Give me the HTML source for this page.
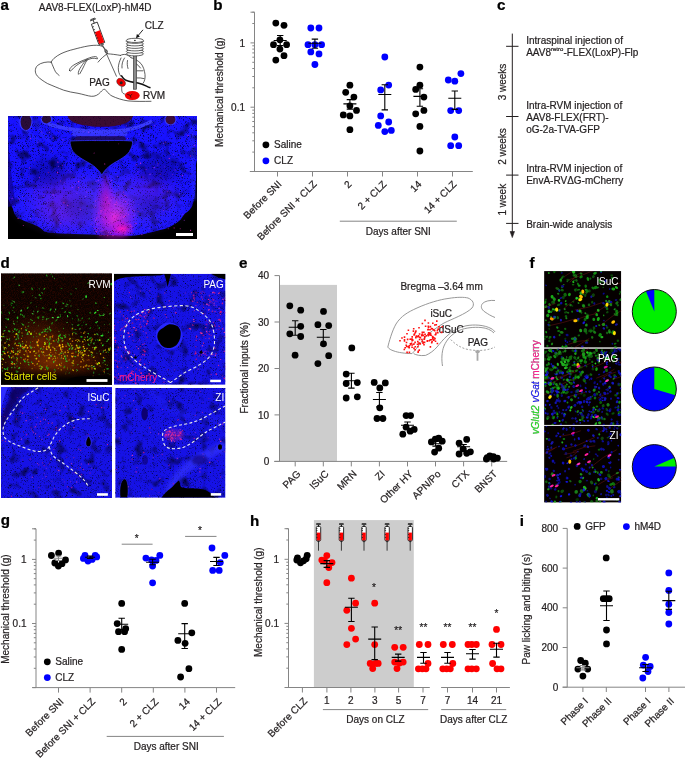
<!DOCTYPE html>
<html><head><meta charset="utf-8"><style>
html,body{margin:0;padding:0;background:#fff;}
svg{display:block;will-change:transform;font-family:"Liberation Sans",sans-serif;font-size:10px;}
text{stroke-width:0.22px;paint-order:stroke;}
text[fill="#231f20"]{stroke:#231f20;}
</style></head><body>
<svg width="685" height="759" viewBox="0 0 685 759">
<defs><clipPath id="ca"><rect x="8" y="116" width="189" height="123"/></clipPath><radialGradient id="ga1" cx="0.5" cy="0.5" r="0.5"><stop offset="0" stop-color="#ff18c8" stop-opacity="1"/><stop offset="0.55" stop-color="#e010d0" stop-opacity="0.45"/><stop offset="1" stop-color="#c000ff" stop-opacity="0"/></radialGradient><radialGradient id="ga2" cx="0.5" cy="0.5" r="0.5"><stop offset="0" stop-color="#8a10d0" stop-opacity="0.5"/><stop offset="1" stop-color="#8a10d0" stop-opacity="0"/></radialGradient><filter id="bl1" x="-20%" y="-20%" width="140%" height="140%"><feGaussianBlur stdDeviation="1.2"/></filter><filter id="bl05" x="-20%" y="-20%" width="140%" height="140%"><feGaussianBlur stdDeviation="0.5"/></filter><filter id="bl2" x="-30%" y="-30%" width="160%" height="160%"><feGaussianBlur stdDeviation="2"/></filter><filter id="na" x="0" y="0" width="100%" height="100%" color-interpolation-filters="sRGB"><feTurbulence type="fractalNoise" baseFrequency="1.6" numOctaves="2" seed="4"/><feGaussianBlur stdDeviation="0.5"/><feColorMatrix type="matrix" values="0 0 0 0 0 0 0 0 0 0 0 0 0 0 0.12 3.0 0 0 0 -1.72"/><feComposite operator="in" in2="SourceGraphic"/></filter><filter id="nab" x="0" y="0" width="100%" height="100%" color-interpolation-filters="sRGB"><feTurbulence type="fractalNoise" baseFrequency="0.1" numOctaves="2" seed="8"/><feColorMatrix type="matrix" values="0 0 0 0 0 0 0 0 0 0 0 0 0 0 0.1 2.2 0 0 0 -1.14"/><feComposite operator="in" in2="SourceGraphic"/></filter><radialGradient id="ga3" cx="0.5" cy="0.5" r="0.5"><stop offset="0" stop-color="#9050ff" stop-opacity="0.45"/><stop offset="1" stop-color="#9050ff" stop-opacity="0"/></radialGradient><filter id="bl4" x="-50%" y="-50%" width="200%" height="200%"><feGaussianBlur stdDeviation="4"/></filter><clipPath id="cd1"><rect x="1" y="273.2" width="111" height="111.60000000000002"/></clipPath><radialGradient id="gd1" cx="0.5" cy="0.5" r="0.5"><stop offset="0" stop-color="#b04400" stop-opacity="0.65"/><stop offset="0.6" stop-color="#702000" stop-opacity="0.4"/><stop offset="1" stop-color="#401000" stop-opacity="0"/></radialGradient><filter id="bl03" x="-50%" y="-50%" width="200%" height="200%"><feGaussianBlur stdDeviation="0.35"/></filter><filter id="nd1" x="0" y="0" width="100%" height="100%" color-interpolation-filters="sRGB"><feTurbulence type="fractalNoise" baseFrequency="1.3" numOctaves="2" seed="12"/><feColorMatrix type="matrix" values="0 0 0 0 0.22 0 0 0 0 0.03 0 0 0 0 0 1.8 0 0 0 -0.7"/><feComposite operator="in" in2="SourceGraphic"/></filter><linearGradient id="gdb" x1="0" y1="0" x2="0" y2="1"><stop offset="0" stop-color="#000" stop-opacity="0"/><stop offset="0.6" stop-color="#000" stop-opacity="0.85"/><stop offset="1" stop-color="#000" stop-opacity="1"/></linearGradient><clipPath id="cd2"><rect x="114" y="273.8" width="111.5" height="111.0"/></clipPath><filter id="nd2" x="0" y="0" width="100%" height="100%" color-interpolation-filters="sRGB"><feTurbulence type="fractalNoise" baseFrequency="1.6" numOctaves="2" seed="31"/><feGaussianBlur stdDeviation="0.5"/><feColorMatrix type="matrix" values="0 0 0 0 0 0 0 0 0 0 0 0 0 0 0.12 3.0 0 0 0 -1.72"/><feComposite operator="in" in2="SourceGraphic"/></filter><filter id="ndb31" x="0" y="0" width="100%" height="100%" color-interpolation-filters="sRGB"><feTurbulence type="fractalNoise" baseFrequency="0.09" numOctaves="2" seed="34"/><feColorMatrix type="matrix" values="0 0 0 0 0 0 0 0 0 0 0 0 0 0 0.1 2.2 0 0 0 -1.22"/><feComposite operator="in" in2="SourceGraphic"/></filter><clipPath id="cd3"><rect x="1" y="387.1" width="111" height="110.89999999999998"/></clipPath><filter id="nd3" x="0" y="0" width="100%" height="100%" color-interpolation-filters="sRGB"><feTurbulence type="fractalNoise" baseFrequency="1.6" numOctaves="2" seed="41"/><feGaussianBlur stdDeviation="0.5"/><feColorMatrix type="matrix" values="0 0 0 0 0 0 0 0 0 0 0 0 0 0 0.12 3.0 0 0 0 -1.72"/><feComposite operator="in" in2="SourceGraphic"/></filter><filter id="ndb41" x="0" y="0" width="100%" height="100%" color-interpolation-filters="sRGB"><feTurbulence type="fractalNoise" baseFrequency="0.09" numOctaves="2" seed="44"/><feColorMatrix type="matrix" values="0 0 0 0 0 0 0 0 0 0 0 0 0 0 0.1 2.2 0 0 0 -1.22"/><feComposite operator="in" in2="SourceGraphic"/></filter><clipPath id="cd4"><rect x="115.2" y="387.9" width="110.3" height="109.90000000000003"/></clipPath><filter id="nd4" x="0" y="0" width="100%" height="100%" color-interpolation-filters="sRGB"><feTurbulence type="fractalNoise" baseFrequency="1.6" numOctaves="2" seed="51"/><feGaussianBlur stdDeviation="0.5"/><feColorMatrix type="matrix" values="0 0 0 0 0 0 0 0 0 0 0 0 0 0 0.12 3.0 0 0 0 -1.72"/><feComposite operator="in" in2="SourceGraphic"/></filter><filter id="ndb51" x="0" y="0" width="100%" height="100%" color-interpolation-filters="sRGB"><feTurbulence type="fractalNoise" baseFrequency="0.09" numOctaves="2" seed="54"/><feColorMatrix type="matrix" values="0 0 0 0 0 0 0 0 0 0 0 0 0 0 0.1 2.2 0 0 0 -1.22"/><feComposite operator="in" in2="SourceGraphic"/></filter><filter id="blf" x="-50%" y="-50%" width="200%" height="200%"><feGaussianBlur stdDeviation="0.45"/></filter><clipPath id="cf0"><rect x="544.1" y="271.1" width="77.1" height="76.5"/></clipPath><clipPath id="cf1"><rect x="544.1" y="348.6" width="77.1" height="76.3"/></clipPath><clipPath id="cf2"><rect x="544.1" y="425.9" width="77.1" height="76.7"/></clipPath></defs>
<rect width="685" height="759" fill="#fff"/>
<text transform="translate(213.2 9.8) scale(1.1 1)" font-size="13.8" font-weight="bold" fill="#000" stroke="#000" stroke-width="0.25">b</text>
<line x1="254.5" y1="12.2" x2="254.5" y2="171.5" stroke="#858585" stroke-width="1"/>
<path d="M250.5 171.5H254.5M252.3 152.1H254.5M252.3 140.8H254.5M252.3 132.8H254.5M252.3 126.6H254.5M252.3 121.5H254.5M252.3 117.2H254.5M252.3 113.4H254.5M252.3 110.1H254.5M250.5 107.2H254.5M252.3 87.8H254.5M252.3 76.5H254.5M252.3 68.5H254.5M252.3 62.3H254.5M252.3 57.2H254.5M252.3 52.9H254.5M252.3 49.1H254.5M252.3 45.8H254.5M250.5 42.9H254.5M252.3 23.5H254.5M252.3 12.2H254.5M250.5 12.2H254.5" stroke="#858585" stroke-width="1" fill="none"/>
<text x="245.0" y="46.5" text-anchor="end" fill="#231f20">1</text>
<text x="245.0" y="110.8" text-anchor="end" fill="#231f20">0.1</text>
<line x1="249.8" y1="171.5" x2="472.8" y2="171.5" stroke="#858585" stroke-width="1"/>
<path d="M277.5 171.5V176.5M312.5 171.5V176.5M347.5 171.5V176.5M382.5 171.5V176.5M417.5 171.5V176.5M452.5 171.5V176.5" stroke="#858585" stroke-width="1"/>
<text transform="translate(222.6 146.9) rotate(-90)" fill="#231f20">Mechanical threshold (g)</text>
<text x="0" y="0" text-anchor="end" fill="#231f20" transform="translate(282.2 184.8) rotate(-45)">Before SNI</text>
<text x="0" y="0" text-anchor="end" fill="#231f20" transform="translate(317.2 184.8) rotate(-45)">Before SNI + CLZ</text>
<text x="0" y="0" text-anchor="end" fill="#231f20" transform="translate(352.2 184.8) rotate(-45)">2</text>
<text x="0" y="0" text-anchor="end" fill="#231f20" transform="translate(387.2 184.8) rotate(-45)">2 + CLZ</text>
<text x="0" y="0" text-anchor="end" fill="#231f20" transform="translate(422.2 184.8) rotate(-45)">14</text>
<text x="0" y="0" text-anchor="end" fill="#231f20" transform="translate(457.2 184.8) rotate(-45)">14 + CLZ</text>
<line x1="339.8" y1="221.2" x2="456.8" y2="221.2" stroke="#858585" stroke-width="1"/>
<text x="398.3" y="234.8" text-anchor="middle" fill="#231f20">Days after SNI</text>
<circle cx="265.9" cy="144.8" r="3.4" fill="#000"/>
<text x="274.1" y="148.3" fill="#231f20">Saline</text>
<circle cx="265.9" cy="160.8" r="3.4" fill="#0000ff"/>
<text x="274.1" y="164.3" fill="#231f20">CLZ</text>
<circle cx="275.8" cy="23.1" r="3.4" fill="#000"/>
<circle cx="284.0" cy="25.3" r="3.4" fill="#000"/>
<circle cx="279.9" cy="39.8" r="3.4" fill="#000"/>
<circle cx="273.5" cy="44.7" r="3.4" fill="#000"/>
<circle cx="286.6" cy="44.7" r="3.4" fill="#000"/>
<circle cx="279.9" cy="49.1" r="3.4" fill="#000"/>
<circle cx="284.0" cy="55.7" r="3.4" fill="#000"/>
<circle cx="275.8" cy="60.1" r="3.4" fill="#000"/>
<circle cx="310.8" cy="28.0" r="3.4" fill="#0000ff"/>
<circle cx="319.0" cy="28.0" r="3.4" fill="#0000ff"/>
<circle cx="308.0" cy="44.7" r="3.4" fill="#0000ff"/>
<circle cx="314.9" cy="44.7" r="3.4" fill="#0000ff"/>
<circle cx="321.6" cy="44.7" r="3.4" fill="#0000ff"/>
<circle cx="310.8" cy="51.9" r="3.4" fill="#0000ff"/>
<circle cx="319.0" cy="53.9" r="3.4" fill="#0000ff"/>
<circle cx="314.9" cy="64.5" r="3.4" fill="#0000ff"/>
<circle cx="349.9" cy="85.2" r="3.4" fill="#000"/>
<circle cx="345.7" cy="92.3" r="3.4" fill="#000"/>
<circle cx="353.9" cy="97.1" r="3.4" fill="#000"/>
<circle cx="349.9" cy="105.8" r="3.4" fill="#000"/>
<circle cx="356.5" cy="110.4" r="3.4" fill="#000"/>
<circle cx="343.3" cy="114.9" r="3.4" fill="#000"/>
<circle cx="349.9" cy="115.9" r="3.4" fill="#000"/>
<circle cx="349.9" cy="129.7" r="3.4" fill="#000"/>
<circle cx="384.8" cy="57.0" r="3.4" fill="#0000ff"/>
<circle cx="388.7" cy="85.1" r="3.4" fill="#0000ff"/>
<circle cx="380.7" cy="89.9" r="3.4" fill="#0000ff"/>
<circle cx="380.7" cy="115.9" r="3.4" fill="#0000ff"/>
<circle cx="388.7" cy="122.0" r="3.4" fill="#0000ff"/>
<circle cx="378.3" cy="125.4" r="3.4" fill="#0000ff"/>
<circle cx="384.8" cy="131.6" r="3.4" fill="#0000ff"/>
<circle cx="391.3" cy="130.4" r="3.4" fill="#0000ff"/>
<circle cx="419.9" cy="67.1" r="3.4" fill="#000"/>
<circle cx="419.9" cy="85.2" r="3.4" fill="#000"/>
<circle cx="415.7" cy="89.4" r="3.4" fill="#000"/>
<circle cx="423.9" cy="97.1" r="3.4" fill="#000"/>
<circle cx="423.9" cy="110.4" r="3.4" fill="#000"/>
<circle cx="415.7" cy="113.8" r="3.4" fill="#000"/>
<circle cx="419.9" cy="126.4" r="3.4" fill="#000"/>
<circle cx="419.9" cy="151.0" r="3.4" fill="#000"/>
<circle cx="460.9" cy="73.6" r="3.4" fill="#0000ff"/>
<circle cx="448.3" cy="80.0" r="3.4" fill="#0000ff"/>
<circle cx="454.8" cy="81.2" r="3.4" fill="#0000ff"/>
<circle cx="450.7" cy="110.6" r="3.4" fill="#0000ff"/>
<circle cx="458.7" cy="110.6" r="3.4" fill="#0000ff"/>
<circle cx="454.8" cy="137.0" r="3.4" fill="#0000ff"/>
<circle cx="450.7" cy="145.7" r="3.4" fill="#0000ff"/>
<circle cx="458.7" cy="145.7" r="3.4" fill="#0000ff"/>
<path d="M273.7 40.5H286.7M280.2 35.5V45.5M277.0 35.5H283.4M277.0 45.5H283.4" stroke="#000" stroke-width="1.1" fill="none"/>
<path d="M308.4 43.2H321.4M314.9 39.1V48.3M311.7 39.1H318.1M311.7 48.3H318.1" stroke="#000" stroke-width="1.1" fill="none"/>
<path d="M343.4 103.9H356.4M349.9 99.6V109.1M346.7 99.6H353.1M346.7 109.1H353.1" stroke="#000" stroke-width="1.1" fill="none"/>
<path d="M378.3 94.5H391.3M384.8 84.8V109.9M381.6 84.8H388.0M381.6 109.9H388.0" stroke="#000" stroke-width="1.1" fill="none"/>
<path d="M413.4 96.4H426.4M419.9 88.8V106.2M416.7 88.8H423.1M416.7 106.2H423.1" stroke="#000" stroke-width="1.1" fill="none"/>
<path d="M448.3 98.3H461.3M454.8 91.0V109.4M451.6 91.0H458.0M451.6 109.4H458.0" stroke="#000" stroke-width="1.1" fill="none"/>
<text transform="translate(497.0 9.8) scale(1.1 1)" font-size="13.8" font-weight="bold" fill="#000" stroke="#000" stroke-width="0.25">c</text>
<line x1="512.3" y1="33.6" x2="512.3" y2="233.0" stroke="#231f20" stroke-width="1"/>
<path d="M510.09999999999997 231.5L512.3 237.6L514.5 231.5Z" fill="#231f20" stroke="#231f20" stroke-width="0.6"/>
<line x1="506.1" y1="46.3" x2="518.5" y2="46.3" stroke="#231f20" stroke-width="1"/>
<line x1="506.1" y1="116.5" x2="518.5" y2="116.5" stroke="#231f20" stroke-width="1"/>
<line x1="506.1" y1="175.1" x2="518.5" y2="175.1" stroke="#231f20" stroke-width="1"/>
<line x1="506.1" y1="223.4" x2="518.5" y2="223.4" stroke="#231f20" stroke-width="1"/>
<text x="526.2" y="43.8" fill="#231f20">Intraspinal injection of</text>
<text x="526.2" y="55.6" fill="#231f20">AAV8<tspan font-size="6" dy="-4.3">retro</tspan><tspan dy="4.3">-FLEX(LoxP)-Flp</tspan></text>
<text x="526.2" y="108.6" fill="#231f20">Intra-RVM injection of</text>
<text x="526.2" y="120.6" fill="#231f20">AAV8-FLEX(FRT)-</text>
<text x="526.2" y="132.6" fill="#231f20">oG-2a-TVA-GFP</text>
<text x="526.2" y="172.2" fill="#231f20">Intra-RVM injection of</text>
<text x="526.2" y="184.0" fill="#231f20">EnvA-RV&#916;G-mCherry</text>
<text x="526.2" y="227.8" fill="#231f20">Brain-wide analysis</text>
<text transform="translate(505.6 82.0) rotate(-90)" text-anchor="middle" fill="#231f20">3 weeks</text>
<text transform="translate(505.6 146.5) rotate(-90)" text-anchor="middle" fill="#231f20">2 weeks</text>
<text transform="translate(505.6 199.7) rotate(-90)" text-anchor="middle" fill="#231f20">1 week</text>
<text transform="translate(239.0 267.6) scale(1.1 1)" font-size="13.8" font-weight="bold" fill="#000" stroke="#000" stroke-width="0.25">e</text>
<rect x="279.5" y="284.9" width="57.5" height="176.5" fill="#cdcdcd"/>
<line x1="279.5" y1="275.6" x2="279.5" y2="461.4" stroke="#858585" stroke-width="1"/>
<path d="M274.5 461.4H279.5M274.5 414.9H279.5M274.5 368.5H279.5M274.5 322.0H279.5M274.5 275.6H279.5" stroke="#858585" stroke-width="1"/>
<text x="269.2" y="465.0" text-anchor="end" fill="#231f20">0</text>
<text x="269.2" y="418.6" text-anchor="end" fill="#231f20">10</text>
<text x="269.2" y="372.1" text-anchor="end" fill="#231f20">20</text>
<text x="269.2" y="325.6" text-anchor="end" fill="#231f20">30</text>
<text x="269.2" y="279.2" text-anchor="end" fill="#231f20">40</text>
<line x1="274.2" y1="461.4" x2="507.2" y2="461.4" stroke="#858585" stroke-width="1"/>
<path d="M295.2 461.4V466.4M323.3 461.4V466.4M351.3 461.4V466.4M379.4 461.4V466.4M407.5 461.4V466.4M435.5 461.4V466.4M463.6 461.4V466.4M491.7 461.4V466.4" stroke="#858585" stroke-width="1"/>
<text x="0" y="0" text-anchor="end" fill="#231f20" transform="translate(301.2 474.5) rotate(-45)">PAG</text>
<text x="0" y="0" text-anchor="end" fill="#231f20" transform="translate(329.3 474.5) rotate(-45)">lSuC</text>
<text x="0" y="0" text-anchor="end" fill="#231f20" transform="translate(357.3 474.5) rotate(-45)">MRN</text>
<text x="0" y="0" text-anchor="end" fill="#231f20" transform="translate(385.4 474.5) rotate(-45)">ZI</text>
<text x="0" y="0" text-anchor="end" fill="#231f20" transform="translate(413.5 474.5) rotate(-45)">Other HY</text>
<text x="0" y="0" text-anchor="end" fill="#231f20" transform="translate(441.5 474.5) rotate(-45)">APN/Po</text>
<text x="0" y="0" text-anchor="end" fill="#231f20" transform="translate(469.6 474.5) rotate(-45)">CTX</text>
<text x="0" y="0" text-anchor="end" fill="#231f20" transform="translate(497.7 474.5) rotate(-45)">BNST</text>
<text transform="translate(248.0 413.5) rotate(-90)" fill="#231f20">Fractional inputs (%)</text>
<circle cx="289.8" cy="305.8" r="3.4" fill="#000"/>
<circle cx="300.7" cy="310.2" r="3.4" fill="#000"/>
<circle cx="300.7" cy="326.3" r="3.4" fill="#000"/>
<circle cx="289.8" cy="333.8" r="3.4" fill="#000"/>
<circle cx="300.7" cy="336.5" r="3.4" fill="#000"/>
<circle cx="295.1" cy="355.2" r="3.4" fill="#000"/>
<circle cx="323.5" cy="311.4" r="3.4" fill="#000"/>
<circle cx="317.9" cy="324.7" r="3.4" fill="#000"/>
<circle cx="328.7" cy="325.6" r="3.4" fill="#000"/>
<circle cx="323.5" cy="343.8" r="3.4" fill="#000"/>
<circle cx="328.7" cy="355.7" r="3.4" fill="#000"/>
<circle cx="317.9" cy="363.6" r="3.4" fill="#000"/>
<circle cx="351.8" cy="347.9" r="3.4" fill="#000"/>
<circle cx="346.2" cy="374.1" r="3.4" fill="#000"/>
<circle cx="346.2" cy="383.5" r="3.4" fill="#000"/>
<circle cx="357.3" cy="382.6" r="3.4" fill="#000"/>
<circle cx="346.2" cy="398.0" r="3.4" fill="#000"/>
<circle cx="357.3" cy="396.8" r="3.4" fill="#000"/>
<circle cx="374.2" cy="382.4" r="3.4" fill="#000"/>
<circle cx="385.3" cy="382.9" r="3.4" fill="#000"/>
<circle cx="379.8" cy="387.9" r="3.4" fill="#000"/>
<circle cx="379.8" cy="407.8" r="3.4" fill="#000"/>
<circle cx="377.0" cy="418.5" r="3.4" fill="#000"/>
<circle cx="382.9" cy="418.5" r="3.4" fill="#000"/>
<circle cx="406.1" cy="415.6" r="3.4" fill="#000"/>
<circle cx="410.6" cy="415.6" r="3.4" fill="#000"/>
<circle cx="406.1" cy="427.2" r="3.4" fill="#000"/>
<circle cx="414.2" cy="429.4" r="3.4" fill="#000"/>
<circle cx="410.2" cy="431.2" r="3.4" fill="#000"/>
<circle cx="402.8" cy="434.2" r="3.4" fill="#000"/>
<circle cx="431.4" cy="441.9" r="3.4" fill="#000"/>
<circle cx="435.3" cy="439.1" r="3.4" fill="#000"/>
<circle cx="438.7" cy="438.2" r="3.4" fill="#000"/>
<circle cx="442.2" cy="441.2" r="3.4" fill="#000"/>
<circle cx="438.7" cy="448.2" r="3.4" fill="#000"/>
<circle cx="434.6" cy="452.1" r="3.4" fill="#000"/>
<circle cx="466.7" cy="439.4" r="3.4" fill="#000"/>
<circle cx="459.1" cy="443.1" r="3.4" fill="#000"/>
<circle cx="463.1" cy="448.9" r="3.4" fill="#000"/>
<circle cx="459.1" cy="454.0" r="3.4" fill="#000"/>
<circle cx="466.7" cy="453.3" r="3.4" fill="#000"/>
<circle cx="470.4" cy="451.8" r="3.4" fill="#000"/>
<circle cx="487.2" cy="457.7" r="3.4" fill="#000"/>
<circle cx="489.8" cy="455.9" r="3.4" fill="#000"/>
<circle cx="493.4" cy="456.6" r="3.4" fill="#000"/>
<circle cx="497.4" cy="458.1" r="3.4" fill="#000"/>
<circle cx="486.4" cy="459.1" r="3.4" fill="#000"/>
<circle cx="493.7" cy="459.1" r="3.4" fill="#000"/>
<path d="M288.7 327.2H301.7M295.2 320.7V335.2M292.0 320.7H298.4M292.0 335.2H298.4" stroke="#000" stroke-width="1.1" fill="none"/>
<path d="M316.8 337.3H329.8M323.3 329.5V345.0M320.1 329.5H326.5M320.1 345.0H326.5" stroke="#000" stroke-width="1.1" fill="none"/>
<path d="M344.9 380.7H357.9M351.4 373.2V388.1M348.2 373.2H354.6M348.2 388.1H354.6" stroke="#000" stroke-width="1.1" fill="none"/>
<path d="M372.9 399.5H385.9M379.4 392.5V406.9M376.2 392.5H382.6M376.2 406.9H382.6" stroke="#000" stroke-width="1.1" fill="none"/>
<path d="M401.0 425.3H414.0M407.5 422.0V428.6M404.3 422.0H410.7M404.3 428.6H410.7" stroke="#000" stroke-width="1.1" fill="none"/>
<path d="M429.1 443.8H442.1M435.6 441.5V446.1M432.4 441.5H438.8M432.4 446.1H438.8" stroke="#000" stroke-width="1.1" fill="none"/>
<path d="M457.1 446.7H470.1M463.6 444.5V449.0M460.4 444.5H466.8M460.4 449.0H466.8" stroke="#000" stroke-width="1.1" fill="none"/>
<path d="M485.2 458.3H498.2M491.7 457.0V459.6M488.5 457.0H494.9M488.5 459.6H494.9" stroke="#000" stroke-width="1.1" fill="none"/>
<g fill="none" stroke="#8c8c8c" stroke-width="0.9"><path d="M387.8 347.1C389 342 392 331 396 324C401 316 408 312 417 308C428 303 440 299.5 448 298.5C457 297 464 297 468 298C473 300 475 304 472 308C466 314 452 319 444 323C436 328 428 333 422 341C418 346 415 351 412 353.6C405 353.5 398 352.5 394 351C391 350 389 349 387.8 347.1Z"/><path d="M413.6 353.6C416 355 420 356 425.6 355.4C430 353.5 434 350.5 437 347C440 343.5 443 339.5 447 336C452 331 458 327.5 466 325.8C474 324.3 484 324.8 491 328.5C493 329.5 494.5 331 495 332"/><path d="M442.5 366C441.5 360 441.5 352 444 346C447 339 452 334 459 330.5C466 327.5 474 327 481 327.5C487 328 491 330 494 333"/><path d="M495 300.5C490 300 485 301 482.5 303.5C480.5 306 481 309.5 485 312C488 314 491 316 495 317.5"/></g>
<path d="M450.8 339.6C455 344 460 347.5 467 349.3C473 350.5 479 350.8 485 350C489 349.5 492 348.5 495 347" fill="none" stroke="#8c8c8c" stroke-width="0.8" stroke-dasharray="2 1.6"/>
<path d="M475 350.6H480.3L479.2 353H478.4V360.8H476.6V353H475.8Z" fill="#a8a8a8"/>
<text x="441.6" y="289.8" text-anchor="middle" fill="#231f20">Bregma &#8211;3.64 mm</text>
<text x="430.4" y="317.4" fill="#231f20">iSuC</text>
<text x="438.8" y="333.4" fill="#231f20">dSuC</text>
<text x="467.7" y="345.5" fill="#231f20">PAG</text>
<path d="M408.4 347.0h1.6v1.6h-1.6zM430.7 327.8h1.6v1.6h-1.6zM405.9 345.6h1.6v1.6h-1.6zM429.5 339.1h1.6v1.6h-1.6zM403.7 338.9h1.6v1.6h-1.6zM430.3 334.5h1.6v1.6h-1.6zM441.0 331.4h1.6v1.6h-1.6zM419.1 336.4h1.6v1.6h-1.6zM415.5 335.2h1.6v1.6h-1.6zM408.5 345.1h1.6v1.6h-1.6zM421.6 334.4h1.6v1.6h-1.6zM421.1 338.7h1.6v1.6h-1.6zM431.9 337.6h1.6v1.6h-1.6zM418.2 327.0h1.6v1.6h-1.6zM424.8 325.4h1.6v1.6h-1.6zM414.9 331.0h1.6v1.6h-1.6zM418.8 333.2h1.6v1.6h-1.6zM422.9 341.4h1.6v1.6h-1.6zM405.4 344.5h1.6v1.6h-1.6zM428.2 332.1h1.6v1.6h-1.6zM425.4 335.0h1.6v1.6h-1.6zM411.3 346.5h1.6v1.6h-1.6zM417.3 351.5h1.6v1.6h-1.6zM417.3 343.7h1.6v1.6h-1.6zM423.8 341.6h1.6v1.6h-1.6zM417.1 345.9h1.6v1.6h-1.6zM423.2 343.9h1.6v1.6h-1.6zM428.4 333.5h1.6v1.6h-1.6zM414.5 345.9h1.6v1.6h-1.6zM430.9 341.8h1.6v1.6h-1.6zM418.4 342.2h1.6v1.6h-1.6zM427.5 335.0h1.6v1.6h-1.6zM423.9 336.5h1.6v1.6h-1.6zM411.4 336.1h1.6v1.6h-1.6zM418.2 342.5h1.6v1.6h-1.6zM440.7 331.6h1.6v1.6h-1.6zM435.0 333.7h1.6v1.6h-1.6zM429.3 333.2h1.6v1.6h-1.6zM434.7 340.4h1.6v1.6h-1.6zM415.3 335.9h1.6v1.6h-1.6zM426.5 340.0h1.6v1.6h-1.6zM427.5 325.6h1.6v1.6h-1.6zM441.4 325.9h1.6v1.6h-1.6zM429.8 332.6h1.6v1.6h-1.6zM410.8 342.4h1.6v1.6h-1.6zM428.4 339.9h1.6v1.6h-1.6zM429.1 332.5h1.6v1.6h-1.6zM434.0 324.2h1.6v1.6h-1.6zM433.1 337.0h1.6v1.6h-1.6zM412.6 330.3h1.6v1.6h-1.6zM411.5 344.2h1.6v1.6h-1.6zM431.3 340.9h1.6v1.6h-1.6zM409.8 343.8h1.6v1.6h-1.6zM427.8 331.9h1.6v1.6h-1.6zM436.6 342.7h1.6v1.6h-1.6zM429.6 325.8h1.6v1.6h-1.6zM417.0 340.8h1.6v1.6h-1.6zM428.2 333.4h1.6v1.6h-1.6zM438.2 326.1h1.6v1.6h-1.6zM412.0 339.3h1.6v1.6h-1.6zM433.1 339.0h1.6v1.6h-1.6zM429.2 334.1h1.6v1.6h-1.6zM411.3 338.8h1.6v1.6h-1.6zM416.7 343.4h1.6v1.6h-1.6zM419.5 343.1h1.6v1.6h-1.6zM421.0 334.8h1.6v1.6h-1.6zM423.6 338.3h1.6v1.6h-1.6zM429.2 328.9h1.6v1.6h-1.6zM414.5 332.0h1.6v1.6h-1.6zM417.6 335.9h1.6v1.6h-1.6zM407.6 346.1h1.6v1.6h-1.6zM429.6 346.1h1.6v1.6h-1.6zM421.5 331.6h1.6v1.6h-1.6zM437.3 328.4h1.6v1.6h-1.6zM403.5 348.7h1.6v1.6h-1.6zM435.2 332.2h1.6v1.6h-1.6zM412.9 327.9h1.6v1.6h-1.6zM415.1 330.3h1.6v1.6h-1.6zM421.6 322.7h1.6v1.6h-1.6zM414.3 349.0h1.6v1.6h-1.6zM436.0 320.3h1.6v1.6h-1.6zM406.3 351.6h1.6v1.6h-1.6zM427.7 326.5h1.6v1.6h-1.6zM411.2 338.3h1.6v1.6h-1.6zM405.7 341.7h1.6v1.6h-1.6zM437.0 331.9h1.6v1.6h-1.6zM419.6 336.9h1.6v1.6h-1.6zM409.6 343.0h1.6v1.6h-1.6zM401.2 337.2h1.6v1.6h-1.6zM432.9 339.3h1.6v1.6h-1.6zM434.2 337.8h1.6v1.6h-1.6zM421.8 331.8h1.6v1.6h-1.6zM420.9 334.6h1.6v1.6h-1.6zM403.7 336.3h1.6v1.6h-1.6zM404.4 346.9h1.6v1.6h-1.6zM421.3 333.7h1.6v1.6h-1.6zM437.5 328.3h1.6v1.6h-1.6zM431.0 339.0h1.6v1.6h-1.6zM406.2 333.0h1.6v1.6h-1.6zM427.5 328.6h1.6v1.6h-1.6zM436.6 329.8h1.6v1.6h-1.6zM434.5 333.9h1.6v1.6h-1.6zM427.1 328.9h1.6v1.6h-1.6zM411.3 340.0h1.6v1.6h-1.6zM432.1 336.1h1.6v1.6h-1.6zM427.6 322.2h1.6v1.6h-1.6zM407.6 329.5h1.6v1.6h-1.6zM421.6 340.6h1.6v1.6h-1.6zM413.1 343.3h1.6v1.6h-1.6zM426.5 340.3h1.6v1.6h-1.6zM409.4 338.5h1.6v1.6h-1.6zM417.5 350.6h1.6v1.6h-1.6zM432.9 329.1h1.6v1.6h-1.6zM423.9 336.0h1.6v1.6h-1.6zM422.7 334.6h1.6v1.6h-1.6zM413.7 333.2h1.6v1.6h-1.6zM418.5 349.3h1.6v1.6h-1.6zM427.2 333.7h1.6v1.6h-1.6zM418.8 338.7h1.6v1.6h-1.6zM423.1 331.5h1.6v1.6h-1.6zM423.9 336.8h1.6v1.6h-1.6zM410.4 338.2h1.6v1.6h-1.6zM406.8 338.6h1.6v1.6h-1.6zM424.2 319.6h1.6v1.6h-1.6zM416.3 335.8h1.6v1.6h-1.6zM414.3 341.6h1.6v1.6h-1.6zM433.9 329.8h1.6v1.6h-1.6zM417.7 335.0h1.6v1.6h-1.6zM422.2 342.3h1.6v1.6h-1.6zM413.3 334.1h1.6v1.6h-1.6zM403.7 340.2h1.6v1.6h-1.6zM408.6 351.6h1.6v1.6h-1.6zM424.3 333.5h1.6v1.6h-1.6zM435.5 324.0h1.6v1.6h-1.6zM431.7 335.8h1.6v1.6h-1.6zM399.2 339.9h1.6v1.6h-1.6zM413.2 347.6h1.6v1.6h-1.6zM432.0 322.4h1.6v1.6h-1.6zM431.6 328.1h1.6v1.6h-1.6zM415.0 337.0h1.6v1.6h-1.6z" fill="#ff1010"/>
<text transform="translate(0.8 525.4) scale(1.1 1)" font-size="13.8" font-weight="bold" fill="#000" stroke="#000" stroke-width="0.25">g</text>
<line x1="36.0" y1="528.8" x2="36.0" y2="687.6" stroke="#858585" stroke-width="1"/>
<path d="M32.0 687.6H36.0M33.8 668.3H36.0M33.8 657.0H36.0M33.8 649.0H36.0M33.8 642.8H36.0M33.8 637.7H36.0M33.8 633.4H36.0M33.8 629.7H36.0M33.8 626.4H36.0M32.0 623.5H36.0M33.8 604.2H36.0M33.8 592.9H36.0M33.8 584.9H36.0M33.8 578.7H36.0M33.8 573.6H36.0M33.8 569.3H36.0M33.8 565.6H36.0M33.8 562.3H36.0M32.0 559.4H36.0M33.8 540.1H36.0M33.8 528.8H36.0M32.0 528.8H36.0" stroke="#858585" stroke-width="1" fill="none"/>
<text x="26.5" y="563.0" text-anchor="end" fill="#231f20">1</text>
<text x="26.5" y="627.1" text-anchor="end" fill="#231f20">0.1</text>
<line x1="32.8" y1="687.6" x2="235.2" y2="687.6" stroke="#858585" stroke-width="1"/>
<path d="M58.5 687.6V692.6M90.1 687.6V692.6M121.7 687.6V692.6M153.3 687.6V692.6M184.9 687.6V692.6M216.5 687.6V692.6" stroke="#858585" stroke-width="1"/>
<text transform="translate(8.9 663.8) rotate(-90)" fill="#231f20">Mechanical threshold (g)</text>
<text x="0" y="0" text-anchor="end" fill="#231f20" transform="translate(64.2 702.3) rotate(-45)">Before SNI</text>
<text x="0" y="0" text-anchor="end" fill="#231f20" transform="translate(95.8 702.3) rotate(-45)">Before SNI + CLZ</text>
<text x="0" y="0" text-anchor="end" fill="#231f20" transform="translate(127.4 702.3) rotate(-45)">2</text>
<text x="0" y="0" text-anchor="end" fill="#231f20" transform="translate(159.0 702.3) rotate(-45)">2 + CLZ</text>
<text x="0" y="0" text-anchor="end" fill="#231f20" transform="translate(190.6 702.3) rotate(-45)">14</text>
<text x="0" y="0" text-anchor="end" fill="#231f20" transform="translate(222.2 702.3) rotate(-45)">14 + CLZ</text>
<line x1="106.7" y1="736.4" x2="223.9" y2="736.4" stroke="#858585" stroke-width="1"/>
<text x="166.2" y="750.1" text-anchor="middle" fill="#231f20">Days after SNI</text>
<circle cx="47.3" cy="661.8" r="3.4" fill="#000"/>
<text x="55.3" y="665.3" fill="#231f20">Saline</text>
<circle cx="47.3" cy="677.6" r="3.4" fill="#0000ff"/>
<text x="55.3" y="681.1" fill="#231f20">CLZ</text>
<circle cx="51.4" cy="555.5" r="3.4" fill="#000"/>
<circle cx="58.6" cy="553.1" r="3.4" fill="#000"/>
<circle cx="65.5" cy="559.9" r="3.4" fill="#000"/>
<circle cx="54.8" cy="563.0" r="3.4" fill="#000"/>
<circle cx="58.4" cy="566.1" r="3.4" fill="#000"/>
<circle cx="62.0" cy="563.7" r="3.4" fill="#000"/>
<circle cx="85.0" cy="555.3" r="3.4" fill="#0000ff"/>
<circle cx="95.2" cy="555.3" r="3.4" fill="#0000ff"/>
<circle cx="83.4" cy="558.4" r="3.4" fill="#0000ff"/>
<circle cx="96.7" cy="556.9" r="3.4" fill="#0000ff"/>
<circle cx="88.0" cy="561.0" r="3.4" fill="#0000ff"/>
<circle cx="92.1" cy="559.4" r="3.4" fill="#0000ff"/>
<circle cx="121.7" cy="603.4" r="3.4" fill="#000"/>
<circle cx="117.2" cy="623.6" r="3.4" fill="#000"/>
<circle cx="125.7" cy="628.7" r="3.4" fill="#000"/>
<circle cx="118.5" cy="631.7" r="3.4" fill="#000"/>
<circle cx="124.6" cy="631.7" r="3.4" fill="#000"/>
<circle cx="121.7" cy="649.4" r="3.4" fill="#000"/>
<circle cx="145.9" cy="558.1" r="3.4" fill="#0000ff"/>
<circle cx="159.8" cy="555.4" r="3.4" fill="#0000ff"/>
<circle cx="151.5" cy="559.9" r="3.4" fill="#0000ff"/>
<circle cx="156.0" cy="560.4" r="3.4" fill="#0000ff"/>
<circle cx="152.6" cy="566.0" r="3.4" fill="#0000ff"/>
<circle cx="152.6" cy="582.8" r="3.4" fill="#0000ff"/>
<circle cx="184.7" cy="603.4" r="3.4" fill="#000"/>
<circle cx="191.8" cy="632.8" r="3.4" fill="#000"/>
<circle cx="177.9" cy="640.4" r="3.4" fill="#000"/>
<circle cx="185.1" cy="643.3" r="3.4" fill="#000"/>
<circle cx="188.9" cy="668.7" r="3.4" fill="#000"/>
<circle cx="180.6" cy="677.0" r="3.4" fill="#000"/>
<circle cx="212.0" cy="548.0" r="3.4" fill="#0000ff"/>
<circle cx="224.8" cy="555.4" r="3.4" fill="#0000ff"/>
<circle cx="220.3" cy="562.6" r="3.4" fill="#0000ff"/>
<circle cx="212.7" cy="570.4" r="3.4" fill="#0000ff"/>
<circle cx="219.2" cy="570.4" r="3.4" fill="#0000ff"/>
<path d="M53.9 558.2H62.9M58.4 556.0V560.5M55.4 556.0H61.4M55.4 560.5H61.4" stroke="#888" stroke-width="1.1" fill="none"/>
<path d="M85.1 557.2H95.1M90.1 556.0V558.5M86.9 556.0H93.3M86.9 558.5H93.3" stroke="#000" stroke-width="1.1" fill="none"/>
<path d="M115.2 624.3H128.2M121.7 618.2V629.9M118.5 618.2H124.9M118.5 629.9H124.9" stroke="#000" stroke-width="1.1" fill="none"/>
<path d="M146.1 562.2H159.1M152.6 559.2V564.8M149.4 559.2H155.8M149.4 564.8H155.8" stroke="#000" stroke-width="1.1" fill="none"/>
<path d="M178.2 633.7H191.2M184.7 623.6V648.5M181.5 623.6H187.9M181.5 648.5H187.9" stroke="#000" stroke-width="1.1" fill="none"/>
<path d="M210.0 561.5H223.0M216.5 557.4V565.5M213.3 557.4H219.7M213.3 565.5H219.7" stroke="#000" stroke-width="1.1" fill="none"/>
<line x1="121.7" y1="544.2" x2="152.6" y2="544.2" stroke="#858585" stroke-width="1"/>
<line x1="185.1" y1="536.4" x2="216.5" y2="536.4" stroke="#858585" stroke-width="1"/>
<text x="136.6" y="542.0" text-anchor="middle" fill="#231f20">*</text>
<text x="200.0" y="534.3" text-anchor="middle" fill="#231f20">*</text>
<text transform="translate(249.9 526.1) scale(1.1 1)" font-size="13.8" font-weight="bold" fill="#000" stroke="#000" stroke-width="0.25">h</text>
<rect x="313.9" y="520.1" width="99.9" height="167.4" fill="#cdcdcd"/>
<line x1="288.5" y1="528.7" x2="288.5" y2="687.5" stroke="#858585" stroke-width="1"/>
<path d="M284.5 687.5H288.5M286.3 668.2H288.5M286.3 656.9H288.5M286.3 648.9H288.5M286.3 642.7H288.5M286.3 637.6H288.5M286.3 633.3H288.5M286.3 629.6H288.5M286.3 626.3H288.5M284.5 623.4H288.5M286.3 604.1H288.5M286.3 592.8H288.5M286.3 584.8H288.5M286.3 578.6H288.5M286.3 573.5H288.5M286.3 569.2H288.5M286.3 565.5H288.5M286.3 562.2H288.5M284.5 559.3H288.5M286.3 540.0H288.5M286.3 528.7H288.5M284.5 528.7H288.5" stroke="#858585" stroke-width="1" fill="none"/>
<text x="279.0" y="562.9" text-anchor="end" fill="#231f20">1</text>
<text x="279.0" y="627.0" text-anchor="end" fill="#231f20">0.1</text>
<line x1="286.7" y1="687.5" x2="429.8" y2="687.5" stroke="#858585" stroke-width="1"/>
<line x1="441.1" y1="687.5" x2="509.9" y2="687.5" stroke="#858585" stroke-width="1"/>
<path d="M302.4 687.5V692.5M326.9 687.5V692.5M350.9 687.5V692.5M374.9 687.5V692.5M398.6 687.5V692.5M423.0 687.5V692.5M447.5 687.5V692.5M472.5 687.5V692.5M496.5 687.5V692.5" stroke="#858585" stroke-width="1"/>
<text transform="translate(261.5 657.0) rotate(-90)" fill="#231f20">Mechanical threshold (g)</text>
<text x="0" y="0" text-anchor="end" fill="#231f20" transform="translate(307.9 701.7) rotate(-45)">Before CLZ</text>
<text x="326.9" y="704.4" text-anchor="middle" fill="#231f20">1</text>
<text x="350.9" y="704.4" text-anchor="middle" fill="#231f20">2</text>
<text x="374.9" y="704.4" text-anchor="middle" fill="#231f20">3</text>
<text x="398.6" y="704.4" text-anchor="middle" fill="#231f20">5</text>
<text x="423.0" y="704.4" text-anchor="middle" fill="#231f20">7</text>
<text x="447.5" y="704.4" text-anchor="middle" fill="#231f20">7</text>
<text x="472.5" y="704.4" text-anchor="middle" fill="#231f20">14</text>
<text x="496.5" y="704.4" text-anchor="middle" fill="#231f20">21</text>
<line x1="322.9" y1="709.6" x2="428.2" y2="709.6" stroke="#858585" stroke-width="1"/>
<line x1="441.2" y1="709.6" x2="506.2" y2="709.6" stroke="#858585" stroke-width="1"/>
<text x="375.5" y="723.4" text-anchor="middle" fill="#231f20">Days on CLZ</text>
<text x="473.7" y="723.4" text-anchor="middle" fill="#231f20">Days after CLZ</text>
<rect x="316.1" y="523.3" width="4.8" height="1.5" rx="0.6" fill="#1a1a1a"/><path d="M318.5 524.8V526.3" stroke="#1a1a1a" stroke-width="1.2"/><rect x="316.3" y="526.5" width="4.4" height="14.3" rx="1" fill="#fff" stroke="#151515" stroke-width="0.9"/><rect x="316.8" y="532.6" width="3.5" height="7.8" fill="#ff0000"/><path d="M316.3 528.5h1.2M316.3 530.5h1.2M316.3 534.5h1.2M316.3 537.5h1.2" stroke="#151515" stroke-width="0.7"/><path d="M316.9 540.8L318.5 542.5L320.1 540.8Z" fill="#222"/><path d="M318.5 541.9V550.7" stroke="#2a2a2a" stroke-width="0.9"/>
<rect x="339.0" y="523.3" width="4.8" height="1.5" rx="0.6" fill="#1a1a1a"/><path d="M341.4 524.8V526.3" stroke="#1a1a1a" stroke-width="1.2"/><rect x="339.2" y="526.5" width="4.4" height="14.3" rx="1" fill="#fff" stroke="#151515" stroke-width="0.9"/><rect x="339.6" y="532.6" width="3.5" height="7.8" fill="#ff0000"/><path d="M339.2 528.5h1.2M339.2 530.5h1.2M339.2 534.5h1.2M339.2 537.5h1.2" stroke="#151515" stroke-width="0.7"/><path d="M339.8 540.8L341.4 542.5L343.0 540.8Z" fill="#222"/><path d="M341.4 541.9V550.7" stroke="#2a2a2a" stroke-width="0.9"/>
<rect x="361.6" y="523.3" width="4.8" height="1.5" rx="0.6" fill="#1a1a1a"/><path d="M364.0 524.8V526.3" stroke="#1a1a1a" stroke-width="1.2"/><rect x="361.8" y="526.5" width="4.4" height="14.3" rx="1" fill="#fff" stroke="#151515" stroke-width="0.9"/><rect x="362.2" y="532.6" width="3.5" height="7.8" fill="#ff0000"/><path d="M361.8 528.5h1.2M361.8 530.5h1.2M361.8 534.5h1.2M361.8 537.5h1.2" stroke="#151515" stroke-width="0.7"/><path d="M362.4 540.8L364.0 542.5L365.6 540.8Z" fill="#222"/><path d="M364.0 541.9V550.7" stroke="#2a2a2a" stroke-width="0.9"/>
<rect x="384.7" y="523.3" width="4.8" height="1.5" rx="0.6" fill="#1a1a1a"/><path d="M387.1 524.8V526.3" stroke="#1a1a1a" stroke-width="1.2"/><rect x="384.9" y="526.5" width="4.4" height="14.3" rx="1" fill="#fff" stroke="#151515" stroke-width="0.9"/><rect x="385.4" y="532.6" width="3.5" height="7.8" fill="#ff0000"/><path d="M384.9 528.5h1.2M384.9 530.5h1.2M384.9 534.5h1.2M384.9 537.5h1.2" stroke="#151515" stroke-width="0.7"/><path d="M385.5 540.8L387.1 542.5L388.7 540.8Z" fill="#222"/><path d="M387.1 541.9V550.7" stroke="#2a2a2a" stroke-width="0.9"/>
<rect x="407.8" y="523.3" width="4.8" height="1.5" rx="0.6" fill="#1a1a1a"/><path d="M410.2 524.8V526.3" stroke="#1a1a1a" stroke-width="1.2"/><rect x="408.0" y="526.5" width="4.4" height="14.3" rx="1" fill="#fff" stroke="#151515" stroke-width="0.9"/><rect x="408.4" y="532.6" width="3.5" height="7.8" fill="#ff0000"/><path d="M408.0 528.5h1.2M408.0 530.5h1.2M408.0 534.5h1.2M408.0 537.5h1.2" stroke="#151515" stroke-width="0.7"/><path d="M408.6 540.8L410.2 542.5L411.8 540.8Z" fill="#222"/><path d="M410.2 541.9V550.7" stroke="#2a2a2a" stroke-width="0.9"/>
<circle cx="297.5" cy="557.8" r="3.4" fill="#000"/>
<circle cx="307.2" cy="555.3" r="3.4" fill="#000"/>
<circle cx="300.5" cy="562.8" r="3.4" fill="#000"/>
<circle cx="303.5" cy="560.8" r="3.4" fill="#000"/>
<circle cx="306.2" cy="558.8" r="3.4" fill="#000"/>
<circle cx="296.8" cy="560.0" r="3.4" fill="#000"/>
<circle cx="326.8" cy="555.6" r="3.4" fill="#ff0000"/>
<circle cx="321.8" cy="560.1" r="3.4" fill="#ff0000"/>
<circle cx="332.0" cy="562.6" r="3.4" fill="#ff0000"/>
<circle cx="328.8" cy="567.6" r="3.4" fill="#ff0000"/>
<circle cx="326.8" cy="582.7" r="3.4" fill="#ff0000"/>
<circle cx="324.5" cy="561.0" r="3.4" fill="#ff0000"/>
<circle cx="351.4" cy="578.2" r="3.4" fill="#ff0000"/>
<circle cx="355.6" cy="603.2" r="3.4" fill="#ff0000"/>
<circle cx="346.8" cy="610.3" r="3.4" fill="#ff0000"/>
<circle cx="351.4" cy="628.3" r="3.4" fill="#ff0000"/>
<circle cx="355.6" cy="639.1" r="3.4" fill="#ff0000"/>
<circle cx="346.8" cy="644.6" r="3.4" fill="#ff0000"/>
<circle cx="374.7" cy="603.2" r="3.4" fill="#ff0000"/>
<circle cx="374.7" cy="644.6" r="3.4" fill="#ff0000"/>
<circle cx="370.2" cy="663.4" r="3.4" fill="#ff0000"/>
<circle cx="378.2" cy="663.4" r="3.4" fill="#ff0000"/>
<circle cx="372.7" cy="668.6" r="3.4" fill="#ff0000"/>
<circle cx="375.5" cy="663.4" r="3.4" fill="#ff0000"/>
<circle cx="394.7" cy="647.3" r="3.4" fill="#ff0000"/>
<circle cx="403.2" cy="647.3" r="3.4" fill="#ff0000"/>
<circle cx="394.7" cy="662.1" r="3.4" fill="#ff0000"/>
<circle cx="403.2" cy="662.1" r="3.4" fill="#ff0000"/>
<circle cx="397.0" cy="668.6" r="3.4" fill="#ff0000"/>
<circle cx="399.5" cy="663.0" r="3.4" fill="#ff0000"/>
<circle cx="419.3" cy="644.5" r="3.4" fill="#ff0000"/>
<circle cx="428.0" cy="644.5" r="3.4" fill="#ff0000"/>
<circle cx="428.0" cy="663.5" r="3.4" fill="#ff0000"/>
<circle cx="418.4" cy="668.8" r="3.4" fill="#ff0000"/>
<circle cx="422.3" cy="668.8" r="3.4" fill="#ff0000"/>
<circle cx="426.0" cy="668.8" r="3.4" fill="#ff0000"/>
<circle cx="443.3" cy="644.5" r="3.4" fill="#ff0000"/>
<circle cx="452.3" cy="644.5" r="3.4" fill="#ff0000"/>
<circle cx="452.8" cy="663.5" r="3.4" fill="#ff0000"/>
<circle cx="442.8" cy="668.8" r="3.4" fill="#ff0000"/>
<circle cx="446.6" cy="668.8" r="3.4" fill="#ff0000"/>
<circle cx="450.3" cy="668.8" r="3.4" fill="#ff0000"/>
<circle cx="468.0" cy="644.5" r="3.4" fill="#ff0000"/>
<circle cx="471.8" cy="644.5" r="3.4" fill="#ff0000"/>
<circle cx="476.3" cy="644.5" r="3.4" fill="#ff0000"/>
<circle cx="468.0" cy="668.8" r="3.4" fill="#ff0000"/>
<circle cx="471.8" cy="668.8" r="3.4" fill="#ff0000"/>
<circle cx="476.3" cy="668.8" r="3.4" fill="#ff0000"/>
<circle cx="496.5" cy="629.4" r="3.4" fill="#ff0000"/>
<circle cx="492.0" cy="644.5" r="3.4" fill="#ff0000"/>
<circle cx="501.0" cy="644.5" r="3.4" fill="#ff0000"/>
<circle cx="492.6" cy="663.5" r="3.4" fill="#ff0000"/>
<circle cx="497.0" cy="668.8" r="3.4" fill="#ff0000"/>
<circle cx="501.0" cy="668.8" r="3.4" fill="#ff0000"/>
<path d="M320.3 563.6H333.3M326.8 560.6V567.4M323.6 560.6H330.0M323.6 567.4H330.0" stroke="#000" stroke-width="1.1" fill="none"/>
<path d="M344.9 607.2H357.9M351.4 598.2V621.5M348.2 598.2H354.6M348.2 621.5H354.6" stroke="#000" stroke-width="1.1" fill="none"/>
<path d="M368.2 639.1H381.2M374.7 627.0V659.6M371.5 627.0H377.9M371.5 659.6H377.9" stroke="#000" stroke-width="1.1" fill="none"/>
<path d="M391.7 657.4H404.7M398.2 654.1V661.1M395.0 654.1H401.4M395.0 661.1H401.4" stroke="#000" stroke-width="1.1" fill="none"/>
<path d="M417.0 657.4H430.0M423.5 652.5V663.3M420.3 652.5H426.7M420.3 663.3H426.7" stroke="#000" stroke-width="1.1" fill="none"/>
<path d="M441.0 657.4H454.0M447.5 652.5V663.3M444.3 652.5H450.7M444.3 663.3H450.7" stroke="#000" stroke-width="1.1" fill="none"/>
<path d="M466.0 653.7H479.0M472.5 649.5V659.1M469.3 649.5H475.7M469.3 659.1H475.7" stroke="#000" stroke-width="1.1" fill="none"/>
<path d="M490.0 649.2H503.0M496.5 643.3V657.1M493.3 643.3H499.7M493.3 657.1H499.7" stroke="#000" stroke-width="1.1" fill="none"/>
<text x="374.0" y="590.5" text-anchor="middle" fill="#231f20">*</text>
<text x="398.2" y="634.0" text-anchor="middle" fill="#231f20">**</text>
<text x="423.5" y="631.0" text-anchor="middle" fill="#231f20">**</text>
<text x="447.5" y="631.0" text-anchor="middle" fill="#231f20">**</text>
<text x="472.5" y="631.0" text-anchor="middle" fill="#231f20">**</text>
<text x="496.5" y="616.5" text-anchor="middle" fill="#231f20">*</text>
<text transform="translate(519.8 525.7) scale(1.1 1)" font-size="13.8" font-weight="bold" fill="#000" stroke="#000" stroke-width="0.25">i</text>
<line x1="567.2" y1="528.4" x2="567.2" y2="687.2" stroke="#858585" stroke-width="1"/>
<path d="M562.7 687.2H567.2M562.7 647.5H567.2M562.7 607.8H567.2M562.7 568.1H567.2M562.7 528.4H567.2" stroke="#858585" stroke-width="1"/>
<text x="558.2" y="690.8" text-anchor="end" fill="#231f20">0</text>
<text x="558.2" y="651.1" text-anchor="end" fill="#231f20">200</text>
<text x="558.2" y="611.4" text-anchor="end" fill="#231f20">400</text>
<text x="558.2" y="571.7" text-anchor="end" fill="#231f20">600</text>
<text x="558.2" y="532.0" text-anchor="end" fill="#231f20">800</text>
<line x1="562.6" y1="687.2" x2="685.0" y2="687.2" stroke="#858585" stroke-width="1"/>
<path d="M582.9 687.2V692.0M606.3 687.2V692.0M645.5 687.2V692.0M668.9 687.2V692.0" stroke="#858585" stroke-width="1"/>
<text x="0" y="0" text-anchor="end" fill="#231f20" transform="translate(588.7 701.8) rotate(-45)">Phase I</text>
<text x="0" y="0" text-anchor="end" fill="#231f20" transform="translate(612.1 701.8) rotate(-45)">Phase II</text>
<text x="0" y="0" text-anchor="end" fill="#231f20" transform="translate(651.3 701.8) rotate(-45)">Phase I</text>
<text x="0" y="0" text-anchor="end" fill="#231f20" transform="translate(674.7 701.8) rotate(-45)">Phase II</text>
<text transform="translate(530.2 664.4) rotate(-90)" fill="#231f20">Paw licking and biting (s)</text>
<circle cx="577.2" cy="526.4" r="3.4" fill="#000"/>
<text x="585.2" y="530.0" fill="#231f20">GFP</text>
<circle cx="626.4" cy="526.6" r="3.4" fill="#0000ff"/>
<text x="634.4" y="530.0" fill="#231f20">hM4D</text>
<circle cx="580.7" cy="660.5" r="3.4" fill="#000"/>
<circle cx="585.3" cy="663.2" r="3.4" fill="#000"/>
<circle cx="577.9" cy="669.1" r="3.4" fill="#000"/>
<circle cx="587.7" cy="669.1" r="3.4" fill="#000"/>
<circle cx="582.9" cy="676.1" r="3.4" fill="#000"/>
<circle cx="606.2" cy="557.9" r="3.4" fill="#000"/>
<circle cx="603.3" cy="598.7" r="3.4" fill="#000"/>
<circle cx="609.2" cy="598.7" r="3.4" fill="#000"/>
<circle cx="606.3" cy="598.7" r="3.4" fill="#000"/>
<circle cx="606.5" cy="630.0" r="3.4" fill="#000"/>
<circle cx="606.5" cy="643.9" r="3.4" fill="#000"/>
<circle cx="645.6" cy="657.3" r="3.4" fill="#0000ff"/>
<circle cx="643.3" cy="665.1" r="3.4" fill="#0000ff"/>
<circle cx="650.2" cy="666.5" r="3.4" fill="#0000ff"/>
<circle cx="648.0" cy="671.5" r="3.4" fill="#0000ff"/>
<circle cx="642.8" cy="678.0" r="3.4" fill="#0000ff"/>
<circle cx="668.8" cy="572.9" r="3.4" fill="#0000ff"/>
<circle cx="668.8" cy="590.4" r="3.4" fill="#0000ff"/>
<circle cx="668.8" cy="604.2" r="3.4" fill="#0000ff"/>
<circle cx="668.8" cy="612.5" r="3.4" fill="#0000ff"/>
<circle cx="668.8" cy="624.0" r="3.4" fill="#0000ff"/>
<path d="M576.4 667.8H589.4M582.9 665.5V670.0M579.7 665.5H586.1M579.7 670.0H586.1" stroke="#888" stroke-width="1.1" fill="none"/>
<path d="M600.0 605.7H613.0M606.5 591.0V620.5M603.3 591.0H609.7M603.3 620.5H609.7" stroke="#000" stroke-width="1.1" fill="none"/>
<path d="M639.1 667.8H652.1M645.6 664.5V671.5M642.4 664.5H648.8M642.4 671.5H648.8" stroke="#000" stroke-width="1.1" fill="none"/>
<path d="M662.3 600.6H675.3M668.8 591.3V609.4M665.6 591.3H672.0M665.6 609.4H672.0" stroke="#000" stroke-width="1.1" fill="none"/>
<text transform="translate(0.5 9.7) scale(1.1 1)" font-size="13.8" font-weight="bold" fill="#000" stroke="#000" stroke-width="0.25">a</text>
<text transform="translate(0.6 267.6) scale(1.1 1)" font-size="13.8" font-weight="bold" fill="#000" stroke="#000" stroke-width="0.25">d</text>
<text x="38.8" y="10.6" fill="#231f20">AAV8-FLEX(LoxP)-hM4D</text>
<g fill="none" stroke="#2a2a2a" stroke-width="0.75" stroke-linecap="round">
<path d="M51.2 62.1C47 61.5 41 62.5 37.5 65.5C34.5 68.5 34.8 73 37.2 75.9C40 79 44 81.5 47.4 83.5C52 85.5 58 88 63.7 90.2C68 91.6 73 92.6 78 93.3C83 94.3 88 96 91.3 96.3C95 96.6 98 95 100.5 92.2C102 90.5 103.5 89.2 104.2 89.2C105 89.5 106 90.3 106.8 91.2C108.5 93.5 110 95 112 96C116 98 122 100 128 100.9C136 101.6 144 101.4 151 101.3"/>
<path d="M51.2 62.1C52.5 65 54 69 55.5 71.8C56.7 73.5 58 74.7 59.1 75.4"/>
<path d="M51.2 62.1C52 60.5 53 59.3 53.8 58.5C56 56.5 58.5 55 61 53.7C65 51.8 69 50.5 73.9 49.3C78 48.2 83 46.9 88 46C92 45.3 96 45.1 99 45.4C102 45.8 104.5 47.5 106.5 50.5C107.2 52 107.5 53 107.6 53.8C111 54 116 54.6 120.5 55.4"/>
<path d="M107.4 53.6C104 56 100.5 59 98.1 62.1"/>
<path d="M69.5 70.4C69 68.5 72 66 75 64.3C79 62 83 60.2 87 58.8C90 57.5 93 56.6 95.5 56.6C97 56.7 97.8 58 97.3 59C96 58.3 93.5 58 91 58.6C88 59.4 85 60.5 82 62C78 64 74 67 71.6 70.2C70.8 71.2 69.7 71.4 69.5 70.4Z"/>
<path d="M78.3 74.2C77.8 72 79.5 69 81.2 66.5C82.8 64 84.5 61.5 86.8 59.6M79.8 73.8C81.5 71 83 68 84.2 65.5C85 63.5 86 61.5 87.5 59.8"/>
<path d="M120.5 55.4C122 54.5 124 54.2 126 54.6C128 55.2 129.5 56.2 131 57.6M131 57.6C134 58.5 138 60.5 141 63.6C143.3 66.5 144.6 70.5 145 74.5C145.3 78 144.8 81 143.2 83.2"/>
<path d="M121 58C119.5 61 118.5 64.5 118.3 67.5C118.2 71 119 74 120.8 76.3M124.5 58C122.5 61 121.6 64.5 122 68M127.5 60.5C127 63 127.2 66 128 68.5"/>
<path d="M136.9 70.8H143.1M137 77.9C139 77.7 141.5 78 144 78.6M136.5 64C138 65 139.5 66.5 140.5 68"/>
</g>
<path d="M121.2 75.4C122.5 77.8 124 79.3 126 80.3C129 81.6 133 82.3 137.9 83C141 83.6 144 84.8 146.5 86.1C147.8 86.8 149 87.3 150.5 87.8" fill="none" stroke="#111" stroke-width="1.5"/>
<ellipse cx="121.1" cy="82.4" rx="4.8" ry="3.6" transform="rotate(35 121.1 82.4)" fill="#f00000" stroke="#222" stroke-width="0.4"/>
<circle cx="121.2" cy="82.7" r="1.5" fill="#222"/>
<path d="M121.8 86.3C121.6 89 121.6 91.2 122.4 92.6C123.2 93.7 124.5 94.2 125.8 94.3" fill="none" stroke="#222" stroke-width="0.7"/>
<ellipse cx="132.3" cy="95.5" rx="7.4" ry="4.5" fill="#f00000"/>
<path d="M127.2 94.3C128.5 94.6 129.6 95 130.4 95.6M130.4 95.6L132.2 94.2M130.4 95.6L130.9 97.8" fill="none" stroke="#111" stroke-width="0.7"/>
<path d="M102.4 44.6L116.6 76.6" stroke="#222" stroke-width="0.7"/>
<circle cx="106.1" cy="51.2" r="1.3" fill="none" stroke="#222" stroke-width="0.6"/>
<g transform="translate(94.3 23.2) rotate(-20.4)"><rect x="-3.1" y="0" width="6.2" height="21.6" fill="#fff" stroke="#222" stroke-width="0.8"/><rect x="-2.7" y="8.6" width="5.4" height="12.6" fill="#ff0000"/><path d="M-3.1 3H-1.4M-3.1 6H-1.4M-3.1 9H-1.4M-3.1 12H-1.4M-3.1 15H-1.4M-3.1 18H-1.4" stroke="#222" stroke-width="0.6"/><path d="M0 0V-3.6M-3.2 -3.6H3.2M-2.4 -4.6H2.4M-1 21.6V23.2H1V21.6" stroke="#222" stroke-width="0.8" fill="none"/></g>
<rect x="133.5" y="54.6" width="3" height="34.6" fill="#8a8a8a" stroke="#222" stroke-width="0.6"/>
<ellipse cx="134.9" cy="53.9" rx="8.6" ry="2.0" fill="#fff" stroke="#222" stroke-width="0.7"/>
<ellipse cx="134.9" cy="51.4" rx="8.6" ry="2.0" fill="#fff" stroke="#222" stroke-width="0.7"/>
<ellipse cx="134.9" cy="48.9" rx="8.6" ry="2.0" fill="#fff" stroke="#222" stroke-width="0.7"/>
<ellipse cx="134.9" cy="46.4" rx="8.6" ry="2.0" fill="#fff" stroke="#222" stroke-width="0.7"/>
<ellipse cx="134.9" cy="43.9" rx="8.6" ry="2.0" fill="#fff" stroke="#222" stroke-width="0.7"/>
<ellipse cx="134.9" cy="41.4" rx="8.6" ry="2.0" fill="#fff" stroke="#222" stroke-width="0.7"/>
<ellipse cx="134.9" cy="40.4" rx="8.6" ry="2.1" fill="#fff" stroke="#222" stroke-width="0.7"/>
<circle cx="134.9" cy="40.5" r="0.8" fill="#111"/>
<path d="M143.0 29.8L137.6 36.2" stroke="#111" stroke-width="0.9"/>
<path d="M136.0 38.3L136.9 33.9L139.9 36.5Z" fill="#111"/>
<text x="144.7" y="28.9" fill="#231f20">CLZ</text>
<text x="89.3" y="86.2" fill="#231f20">PAG</text>
<text x="143.1" y="99.4" fill="#231f20">RVM</text>
<g clip-path="url(#ca)">
<rect x="8" y="116" width="189" height="123" fill="#000"/>
<path d="M8 116H197V160C196.5 162 195.5 164.5 196 167.6C196.4 175 196 183 195.4 189.6C194.8 196 193.6 202 192 206.4C190 209.5 188 211.5 185.3 213.2C183 215.5 182 218 180.2 220C177 223 173.5 225 170 226.7C166 228.5 163 229.5 160 230C150 232.5 140 235.5 132 235.7L66 233.8C60 233.4 54 233 50.5 232.8C47 232.2 45.5 231.8 44.4 231.5L41.8 229C40 227.5 36 225.5 31.3 223.6C27 222 24 221 22.5 220.1C19 218.5 17 217.5 15.5 215.8C14 213 13.5 211 12.9 208.8C11 205 9.5 202 8.5 199Z" fill="#1812ff"/>
<path d="M8 116H197V160C196.5 162 195.5 164.5 196 167.6C196.4 175 196 183 195.4 189.6C194.8 196 193.6 202 192 206.4C190 209.5 188 211.5 185.3 213.2C183 215.5 182 218 180.2 220C177 223 173.5 225 170 226.7C166 228.5 163 229.5 160 230C150 232.5 140 235.5 132 235.7L66 233.8C60 233.4 54 233 50.5 232.8C47 232.2 45.5 231.8 44.4 231.5L41.8 229C40 227.5 36 225.5 31.3 223.6C27 222 24 221 22.5 220.1C19 218.5 17 217.5 15.5 215.8C14 213 13.5 211 12.9 208.8C11 205 9.5 202 8.5 199Z" fill="#000" filter="url(#nab)"/>
<path d="M8 116H197V160C196.5 162 195.5 164.5 196 167.6C196.4 175 196 183 195.4 189.6C194.8 196 193.6 202 192 206.4C190 209.5 188 211.5 185.3 213.2C183 215.5 182 218 180.2 220C177 223 173.5 225 170 226.7C166 228.5 163 229.5 160 230C150 232.5 140 235.5 132 235.7L66 233.8C60 233.4 54 233 50.5 232.8C47 232.2 45.5 231.8 44.4 231.5L41.8 229C40 227.5 36 225.5 31.3 223.6C27 222 24 221 22.5 220.1C19 218.5 17 217.5 15.5 215.8C14 213 13.5 211 12.9 208.8C11 205 9.5 202 8.5 199Z" fill="#000" filter="url(#na)"/>
<ellipse cx="114" cy="217" rx="25" ry="30" fill="url(#ga1)"/>
<ellipse cx="65" cy="215" rx="35" ry="22" fill="url(#ga2)" opacity="0.7"/>
<ellipse cx="100" cy="205" rx="95" ry="38" fill="url(#ga3)"/>
<ellipse cx="122" cy="229" rx="13" ry="9" fill="url(#ga1)"/>
<ellipse cx="106" cy="200" rx="9" ry="30" fill="url(#ga1)" opacity="0.5"/>
<ellipse cx="104" cy="200" rx="10" ry="28" fill="url(#ga2)"/>
<ellipse cx="60" cy="195" rx="40" ry="30" fill="url(#ga2)" opacity="0.6"/>
<ellipse cx="150" cy="190" rx="35" ry="30" fill="url(#ga2)" opacity="0.5"/>
<g filter="url(#bl1)" fill="none" stroke="#2a2aff" stroke-width="3.5"><path d="M18 120C22 128 30 135 40 142" opacity="0.5"/><path d="M36 120C38 130 42 136 50 142" opacity="0.5"/><path d="M192 125C192 150 193 180 194 200" opacity="0.6"/></g>
<g filter="url(#bl05)"><ellipse cx="26" cy="122" rx="6" ry="8.5" fill="#2a0838" stroke="#3a3aff" stroke-width="1.2"/><ellipse cx="46.5" cy="119" rx="5.2" ry="5" fill="#2a0838" stroke="#3a3aff" stroke-width="1.2"/><ellipse cx="170.5" cy="119.5" rx="5.5" ry="5.5" fill="#3a0a3a" stroke="#3a3aff" stroke-width="1.2"/><path d="M67.5 116H133.2C132 119 130 121 126 123C118 126.5 108 127 99.6 126.8C90 126.6 80 125 74 122.5C70.5 121 68.5 119 67.5 116Z" fill="#3a0830"/><path d="M48 124C60 128 80 131 100 131.8C120 131.8 140 128 152 121" fill="none" stroke="#3838ff" stroke-width="3.5"/><rect x="72" y="129.5" width="55.5" height="7" rx="3.5" fill="#3a3aff" opacity="0.85"/><rect x="74.8" y="136.2" width="51" height="6" rx="3" fill="#1c0a66"/><path d="M8 140C10 160 12 185 16 205L8 207Z" fill="#0c0680" opacity="0.6"/></g>
<path d="M8 116H197V160C196.5 162 195.5 164.5 196 167.6C196.4 175 196 183 195.4 189.6C194.8 196 193.6 202 192 206.4C190 209.5 188 211.5 185.3 213.2C183 215.5 182 218 180.2 220C177 223 173.5 225 170 226.7C166 228.5 163 229.5 160 230C150 232.5 140 235.5 132 235.7L66 233.8C60 233.4 54 233 50.5 232.8C47 232.2 45.5 231.8 44.4 231.5L41.8 229C40 227.5 36 225.5 31.3 223.6C27 222 24 221 22.5 220.1C19 218.5 17 217.5 15.5 215.8C14 213 13.5 211 12.9 208.8C11 205 9.5 202 8.5 199Z" fill="#000" filter="url(#na)" opacity="0.6"/>
<g filter="url(#bl4)" fill="#0a0460"><ellipse cx="48" cy="172" rx="18" ry="14" opacity="0.35"/><ellipse cx="160" cy="168" rx="20" ry="14" opacity="0.35"/><ellipse cx="80" cy="208" rx="16" ry="12" opacity="0.25"/><ellipse cx="150" cy="205" rx="14" ry="10" opacity="0.25"/></g>
<path d="M70 141.2C72 140.6 90 140.4 101 140.6C112 140.5 128 140.3 132.5 141.2C133 144 131.5 148 130.2 149.9C129 154 123 158 114 163C108 166.5 104 171 101.8 175.2C99.5 171 95.5 166.5 89 163C80 158 74 154 72 149.9C71 147.5 70 144 70 141.2Z" fill="#000"/>
<path d="M70 141.2C72 140.6 90 140.4 101 140.6C112 140.5 128 140.3 132.5 141.2C133 144 131.5 148 130.2 149.9C129 154 123 158 114 163C108 166.5 104 171 101.8 175.2C99.5 171 95.5 166.5 89 163C80 158 74 154 72 149.9C71 147.5 70 144 70 141.2Z" fill="none" stroke="#3030ff" stroke-width="0.8"/>
<g><ellipse cx="130.1" cy="224.5" rx="0.5" ry="0.5" transform="rotate(45 130.1 224.5)" fill="#e020c0" opacity="0.77"/><ellipse cx="125.4" cy="230.7" rx="0.6" ry="0.7" transform="rotate(64 125.4 230.7)" fill="#ff30d0" opacity="0.66"/><ellipse cx="157.5" cy="219.7" rx="0.4" ry="0.3" transform="rotate(27 157.5 219.7)" fill="#ff30d0" opacity="0.54"/><ellipse cx="97.0" cy="224.6" rx="0.7" ry="0.6" transform="rotate(61 97.0 224.6)" fill="#c040ff" opacity="0.44"/><ellipse cx="125.4" cy="209.9" rx="0.7" ry="0.5" transform="rotate(112 125.4 209.9)" fill="#c040ff" opacity="0.49"/><ellipse cx="119.9" cy="206.0" rx="0.6" ry="0.4" transform="rotate(89 119.9 206.0)" fill="#e020c0" opacity="0.54"/><ellipse cx="116.5" cy="202.1" rx="0.6" ry="0.6" transform="rotate(123 116.5 202.1)" fill="#e020c0" opacity="0.76"/><ellipse cx="88.7" cy="182.8" rx="0.4" ry="0.4" transform="rotate(119 88.7 182.8)" fill="#c040ff" opacity="0.41"/><ellipse cx="100.6" cy="228.9" rx="0.4" ry="0.3" transform="rotate(122 100.6 228.9)" fill="#ff30d0" opacity="0.55"/><ellipse cx="95.6" cy="231.7" rx="0.3" ry="0.3" transform="rotate(27 95.6 231.7)" fill="#c040ff" opacity="0.88"/><ellipse cx="83.2" cy="131.3" rx="0.4" ry="0.3" transform="rotate(119 83.2 131.3)" fill="#ff30d0" opacity="0.57"/><ellipse cx="148.8" cy="198.0" rx="0.4" ry="0.4" transform="rotate(11 148.8 198.0)" fill="#ff30d0" opacity="0.41"/><ellipse cx="94.5" cy="218.5" rx="0.4" ry="0.4" transform="rotate(179 94.5 218.5)" fill="#c040ff" opacity="0.42"/><ellipse cx="124.3" cy="225.8" rx="0.4" ry="0.4" transform="rotate(132 124.3 225.8)" fill="#c040ff" opacity="0.76"/><ellipse cx="154.2" cy="167.6" rx="0.7" ry="0.6" transform="rotate(169 154.2 167.6)" fill="#c040ff" opacity="0.76"/><ellipse cx="102.0" cy="210.7" rx="0.6" ry="0.4" transform="rotate(171 102.0 210.7)" fill="#e020c0" opacity="0.50"/><ellipse cx="80.3" cy="209.2" rx="0.6" ry="0.5" transform="rotate(80 80.3 209.2)" fill="#e020c0" opacity="0.81"/><ellipse cx="158.1" cy="163.7" rx="0.6" ry="0.5" transform="rotate(4 158.1 163.7)" fill="#c040ff" opacity="0.74"/><ellipse cx="110.9" cy="200.1" rx="0.7" ry="0.6" transform="rotate(97 110.9 200.1)" fill="#c040ff" opacity="0.80"/><ellipse cx="125.1" cy="224.1" rx="0.5" ry="0.4" transform="rotate(103 125.1 224.1)" fill="#c040ff" opacity="0.71"/><ellipse cx="188.0" cy="135.4" rx="0.6" ry="0.7" transform="rotate(137 188.0 135.4)" fill="#e020c0" opacity="0.76"/><ellipse cx="180.2" cy="228.8" rx="0.5" ry="0.5" transform="rotate(118 180.2 228.8)" fill="#ff30d0" opacity="0.57"/><ellipse cx="105.0" cy="214.8" rx="0.4" ry="0.3" transform="rotate(102 105.0 214.8)" fill="#e020c0" opacity="0.50"/><ellipse cx="91.1" cy="224.1" rx="0.5" ry="0.5" transform="rotate(22 91.1 224.1)" fill="#ff30d0" opacity="0.63"/><ellipse cx="131.4" cy="229.4" rx="0.4" ry="0.3" transform="rotate(14 131.4 229.4)" fill="#c040ff" opacity="0.61"/><ellipse cx="125.0" cy="195.5" rx="0.7" ry="0.5" transform="rotate(168 125.0 195.5)" fill="#ff30d0" opacity="0.57"/><ellipse cx="103.0" cy="230.3" rx="0.6" ry="0.5" transform="rotate(150 103.0 230.3)" fill="#ff30d0" opacity="0.55"/><ellipse cx="128.5" cy="230.9" rx="0.5" ry="0.3" transform="rotate(152 128.5 230.9)" fill="#ff30d0" opacity="0.69"/><ellipse cx="127.7" cy="204.0" rx="0.6" ry="0.6" transform="rotate(53 127.7 204.0)" fill="#e020c0" opacity="0.57"/><ellipse cx="112.3" cy="212.6" rx="0.4" ry="0.4" transform="rotate(85 112.3 212.6)" fill="#e020c0" opacity="0.78"/><ellipse cx="138.6" cy="204.6" rx="0.3" ry="0.3" transform="rotate(80 138.6 204.6)" fill="#ff30d0" opacity="0.71"/><ellipse cx="39.5" cy="177.4" rx="0.5" ry="0.6" transform="rotate(96 39.5 177.4)" fill="#e020c0" opacity="0.64"/><ellipse cx="52.4" cy="151.8" rx="0.5" ry="0.3" transform="rotate(67 52.4 151.8)" fill="#c040ff" opacity="0.69"/><ellipse cx="111.9" cy="213.4" rx="0.4" ry="0.3" transform="rotate(27 111.9 213.4)" fill="#c040ff" opacity="0.43"/><ellipse cx="98.2" cy="180.5" rx="0.7" ry="0.5" transform="rotate(111 98.2 180.5)" fill="#c040ff" opacity="0.76"/><ellipse cx="167.4" cy="191.6" rx="0.6" ry="0.5" transform="rotate(61 167.4 191.6)" fill="#e020c0" opacity="0.45"/><ellipse cx="88.7" cy="132.2" rx="0.6" ry="0.5" transform="rotate(131 88.7 132.2)" fill="#c040ff" opacity="0.84"/><ellipse cx="105.1" cy="210.1" rx="0.5" ry="0.5" transform="rotate(131 105.1 210.1)" fill="#ff30d0" opacity="0.60"/><ellipse cx="179.5" cy="193.8" rx="0.6" ry="0.5" transform="rotate(76 179.5 193.8)" fill="#c040ff" opacity="0.71"/><ellipse cx="115.9" cy="232.5" rx="0.5" ry="0.6" transform="rotate(68 115.9 232.5)" fill="#e020c0" opacity="0.61"/><ellipse cx="107.7" cy="235.6" rx="0.7" ry="0.6" transform="rotate(32 107.7 235.6)" fill="#e020c0" opacity="0.64"/><ellipse cx="94.1" cy="153.2" rx="0.6" ry="0.4" transform="rotate(105 94.1 153.2)" fill="#ff30d0" opacity="0.65"/><ellipse cx="60.6" cy="181.0" rx="0.6" ry="0.6" transform="rotate(66 60.6 181.0)" fill="#ff30d0" opacity="0.41"/><ellipse cx="139.3" cy="208.0" rx="0.4" ry="0.3" transform="rotate(20 139.3 208.0)" fill="#c040ff" opacity="0.90"/><ellipse cx="143.2" cy="177.0" rx="0.4" ry="0.4" transform="rotate(134 143.2 177.0)" fill="#e020c0" opacity="0.78"/><ellipse cx="123.8" cy="217.2" rx="0.7" ry="0.6" transform="rotate(14 123.8 217.2)" fill="#ff30d0" opacity="0.49"/><ellipse cx="106.6" cy="217.3" rx="0.4" ry="0.3" transform="rotate(68 106.6 217.3)" fill="#c040ff" opacity="0.82"/><ellipse cx="121.7" cy="229.4" rx="0.5" ry="0.4" transform="rotate(87 121.7 229.4)" fill="#e020c0" opacity="0.47"/><ellipse cx="123.6" cy="192.0" rx="0.5" ry="0.4" transform="rotate(32 123.6 192.0)" fill="#ff30d0" opacity="0.81"/><ellipse cx="12.1" cy="198.3" rx="0.6" ry="0.5" transform="rotate(145 12.1 198.3)" fill="#c040ff" opacity="0.81"/><ellipse cx="127.9" cy="220.4" rx="0.5" ry="0.4" transform="rotate(101 127.9 220.4)" fill="#ff30d0" opacity="0.42"/><ellipse cx="57.9" cy="162.2" rx="0.6" ry="0.5" transform="rotate(42 57.9 162.2)" fill="#ff30d0" opacity="0.86"/><ellipse cx="47.3" cy="202.4" rx="0.5" ry="0.3" transform="rotate(61 47.3 202.4)" fill="#c040ff" opacity="0.52"/><ellipse cx="63.9" cy="202.7" rx="0.6" ry="0.6" transform="rotate(77 63.9 202.7)" fill="#e020c0" opacity="0.82"/><ellipse cx="101.0" cy="210.9" rx="0.7" ry="0.5" transform="rotate(54 101.0 210.9)" fill="#ff30d0" opacity="0.89"/><ellipse cx="149.1" cy="228.2" rx="0.4" ry="0.3" transform="rotate(136 149.1 228.2)" fill="#ff30d0" opacity="0.71"/><ellipse cx="173.6" cy="227.7" rx="0.4" ry="0.3" transform="rotate(174 173.6 227.7)" fill="#e020c0" opacity="0.44"/><ellipse cx="129.1" cy="224.6" rx="0.6" ry="0.4" transform="rotate(92 129.1 224.6)" fill="#c040ff" opacity="0.75"/><ellipse cx="99.5" cy="235.6" rx="0.4" ry="0.3" transform="rotate(176 99.5 235.6)" fill="#e020c0" opacity="0.73"/><ellipse cx="136.2" cy="164.9" rx="0.7" ry="0.6" transform="rotate(86 136.2 164.9)" fill="#ff30d0" opacity="0.61"/><ellipse cx="190.4" cy="156.0" rx="0.6" ry="0.6" transform="rotate(110 190.4 156.0)" fill="#e020c0" opacity="0.88"/><ellipse cx="126.6" cy="125.6" rx="0.6" ry="0.5" transform="rotate(81 126.6 125.6)" fill="#e020c0" opacity="0.44"/><ellipse cx="182.3" cy="175.7" rx="0.6" ry="0.4" transform="rotate(26 182.3 175.7)" fill="#ff30d0" opacity="0.86"/><ellipse cx="78.5" cy="187.6" rx="0.6" ry="0.5" transform="rotate(92 78.5 187.6)" fill="#e020c0" opacity="0.83"/><ellipse cx="118.2" cy="215.7" rx="0.6" ry="0.7" transform="rotate(13 118.2 215.7)" fill="#e020c0" opacity="0.57"/><ellipse cx="116.9" cy="211.6" rx="0.4" ry="0.3" transform="rotate(149 116.9 211.6)" fill="#ff30d0" opacity="0.59"/><ellipse cx="173.2" cy="154.3" rx="0.5" ry="0.4" transform="rotate(151 173.2 154.3)" fill="#c040ff" opacity="0.72"/><ellipse cx="134.1" cy="215.1" rx="0.7" ry="0.5" transform="rotate(69 134.1 215.1)" fill="#c040ff" opacity="0.63"/><ellipse cx="111.4" cy="219.7" rx="0.4" ry="0.4" transform="rotate(33 111.4 219.7)" fill="#e020c0" opacity="0.80"/><ellipse cx="41.8" cy="132.1" rx="0.5" ry="0.4" transform="rotate(50 41.8 132.1)" fill="#e020c0" opacity="0.70"/><ellipse cx="115.8" cy="204.5" rx="0.8" ry="0.6" transform="rotate(88 115.8 204.5)" fill="#ff30d0" opacity="0.65"/><ellipse cx="164.3" cy="166.9" rx="0.4" ry="0.3" transform="rotate(126 164.3 166.9)" fill="#ff30d0" opacity="0.60"/><ellipse cx="108.4" cy="209.6" rx="0.4" ry="0.4" transform="rotate(98 108.4 209.6)" fill="#e020c0" opacity="0.57"/><ellipse cx="71.3" cy="134.4" rx="0.3" ry="0.3" transform="rotate(22 71.3 134.4)" fill="#c040ff" opacity="0.61"/><ellipse cx="99.8" cy="177.1" rx="0.5" ry="0.4" transform="rotate(72 99.8 177.1)" fill="#ff30d0" opacity="0.45"/><ellipse cx="128.4" cy="214.3" rx="0.5" ry="0.4" transform="rotate(144 128.4 214.3)" fill="#ff30d0" opacity="0.81"/><ellipse cx="169.3" cy="158.4" rx="0.8" ry="0.5" transform="rotate(14 169.3 158.4)" fill="#e020c0" opacity="0.72"/><ellipse cx="94.9" cy="207.8" rx="0.6" ry="0.4" transform="rotate(123 94.9 207.8)" fill="#c040ff" opacity="0.71"/><ellipse cx="95.6" cy="201.1" rx="0.5" ry="0.4" transform="rotate(127 95.6 201.1)" fill="#ff30d0" opacity="0.68"/><ellipse cx="108.5" cy="201.2" rx="0.5" ry="0.4" transform="rotate(160 108.5 201.2)" fill="#c040ff" opacity="0.75"/><ellipse cx="111.3" cy="180.5" rx="0.4" ry="0.4" transform="rotate(161 111.3 180.5)" fill="#ff30d0" opacity="0.56"/><ellipse cx="135.9" cy="214.0" rx="0.3" ry="0.3" transform="rotate(170 135.9 214.0)" fill="#c040ff" opacity="0.52"/><ellipse cx="97.6" cy="217.3" rx="0.5" ry="0.5" transform="rotate(173 97.6 217.3)" fill="#ff30d0" opacity="0.47"/><ellipse cx="67.7" cy="205.5" rx="0.4" ry="0.5" transform="rotate(109 67.7 205.5)" fill="#ff30d0" opacity="0.81"/><ellipse cx="124.2" cy="228.8" rx="0.6" ry="0.4" transform="rotate(155 124.2 228.8)" fill="#ff30d0" opacity="0.41"/><ellipse cx="108.8" cy="215.7" rx="0.3" ry="0.3" transform="rotate(84 108.8 215.7)" fill="#e020c0" opacity="0.53"/><ellipse cx="110.6" cy="232.9" rx="0.6" ry="0.5" transform="rotate(54 110.6 232.9)" fill="#ff30d0" opacity="0.78"/><ellipse cx="97.7" cy="231.2" rx="0.4" ry="0.3" transform="rotate(53 97.7 231.2)" fill="#c040ff" opacity="0.70"/><ellipse cx="57.5" cy="172.6" rx="0.8" ry="0.6" transform="rotate(85 57.5 172.6)" fill="#e020c0" opacity="0.83"/><ellipse cx="138.2" cy="211.5" rx="0.6" ry="0.5" transform="rotate(133 138.2 211.5)" fill="#e020c0" opacity="0.68"/><ellipse cx="105.3" cy="213.7" rx="0.8" ry="0.7" transform="rotate(10 105.3 213.7)" fill="#e020c0" opacity="0.61"/><ellipse cx="121.8" cy="225.1" rx="0.4" ry="0.4" transform="rotate(101 121.8 225.1)" fill="#e020c0" opacity="0.78"/><ellipse cx="114.7" cy="199.0" rx="0.3" ry="0.3" transform="rotate(75 114.7 199.0)" fill="#c040ff" opacity="0.84"/><ellipse cx="117.6" cy="203.7" rx="0.4" ry="0.3" transform="rotate(113 117.6 203.7)" fill="#ff30d0" opacity="0.67"/><ellipse cx="30.5" cy="138.5" rx="0.5" ry="0.5" transform="rotate(39 30.5 138.5)" fill="#e020c0" opacity="0.88"/><ellipse cx="126.3" cy="213.3" rx="0.7" ry="0.5" transform="rotate(126 126.3 213.3)" fill="#ff30d0" opacity="0.49"/><ellipse cx="104.4" cy="217.1" rx="0.6" ry="0.5" transform="rotate(177 104.4 217.1)" fill="#e020c0" opacity="0.81"/><ellipse cx="58.4" cy="166.4" rx="0.7" ry="0.5" transform="rotate(47 58.4 166.4)" fill="#c040ff" opacity="0.47"/><ellipse cx="146.1" cy="169.5" rx="0.6" ry="0.5" transform="rotate(62 146.1 169.5)" fill="#ff30d0" opacity="0.48"/><ellipse cx="109.1" cy="203.4" rx="0.7" ry="0.6" transform="rotate(47 109.1 203.4)" fill="#e020c0" opacity="0.81"/><ellipse cx="157.8" cy="165.1" rx="0.4" ry="0.3" transform="rotate(21 157.8 165.1)" fill="#c040ff" opacity="0.78"/><ellipse cx="128.8" cy="199.9" rx="0.3" ry="0.3" transform="rotate(31 128.8 199.9)" fill="#ff30d0" opacity="0.85"/><ellipse cx="62.9" cy="139.9" rx="0.7" ry="0.5" transform="rotate(97 62.9 139.9)" fill="#ff30d0" opacity="0.59"/><ellipse cx="160.6" cy="173.0" rx="0.3" ry="0.3" transform="rotate(180 160.6 173.0)" fill="#c040ff" opacity="0.46"/><ellipse cx="53.1" cy="194.9" rx="0.6" ry="0.6" transform="rotate(77 53.1 194.9)" fill="#c040ff" opacity="0.88"/><ellipse cx="112.0" cy="225.4" rx="0.5" ry="0.4" transform="rotate(153 112.0 225.4)" fill="#c040ff" opacity="0.64"/><ellipse cx="129.2" cy="192.4" rx="0.4" ry="0.2" transform="rotate(25 129.2 192.4)" fill="#e020c0" opacity="0.77"/><ellipse cx="137.9" cy="171.8" rx="0.6" ry="0.4" transform="rotate(49 137.9 171.8)" fill="#c040ff" opacity="0.62"/><ellipse cx="126.2" cy="228.3" rx="0.6" ry="0.7" transform="rotate(33 126.2 228.3)" fill="#e020c0" opacity="0.72"/><ellipse cx="108.5" cy="232.3" rx="0.7" ry="0.6" transform="rotate(119 108.5 232.3)" fill="#c040ff" opacity="0.78"/><ellipse cx="101.9" cy="231.1" rx="0.4" ry="0.3" transform="rotate(176 101.9 231.1)" fill="#e020c0" opacity="0.67"/><ellipse cx="86.6" cy="192.0" rx="0.5" ry="0.5" transform="rotate(77 86.6 192.0)" fill="#ff30d0" opacity="0.54"/><ellipse cx="122.6" cy="206.0" rx="0.3" ry="0.3" transform="rotate(88 122.6 206.0)" fill="#ff30d0" opacity="0.46"/><ellipse cx="95.6" cy="205.7" rx="0.5" ry="0.5" transform="rotate(131 95.6 205.7)" fill="#c040ff" opacity="0.44"/><ellipse cx="100.5" cy="221.7" rx="0.5" ry="0.3" transform="rotate(78 100.5 221.7)" fill="#e020c0" opacity="0.41"/><ellipse cx="130.3" cy="224.6" rx="0.3" ry="0.3" transform="rotate(138 130.3 224.6)" fill="#ff30d0" opacity="0.70"/><ellipse cx="120.5" cy="167.5" rx="0.3" ry="0.4" transform="rotate(24 120.5 167.5)" fill="#e020c0" opacity="0.76"/><ellipse cx="100.8" cy="212.9" rx="0.4" ry="0.3" transform="rotate(128 100.8 212.9)" fill="#c040ff" opacity="0.43"/><ellipse cx="165.4" cy="142.2" rx="0.6" ry="0.5" transform="rotate(8 165.4 142.2)" fill="#e020c0" opacity="0.58"/><ellipse cx="132.8" cy="233.6" rx="0.5" ry="0.4" transform="rotate(142 132.8 233.6)" fill="#c040ff" opacity="0.62"/><ellipse cx="62.6" cy="142.7" rx="0.3" ry="0.3" transform="rotate(23 62.6 142.7)" fill="#ff30d0" opacity="0.59"/><ellipse cx="140.6" cy="163.2" rx="0.6" ry="0.6" transform="rotate(126 140.6 163.2)" fill="#ff30d0" opacity="0.85"/><ellipse cx="152.2" cy="189.3" rx="0.2" ry="0.3" transform="rotate(99 152.2 189.3)" fill="#ff30d0" opacity="0.70"/><ellipse cx="192.5" cy="134.3" rx="0.3" ry="0.3" transform="rotate(53 192.5 134.3)" fill="#ff30d0" opacity="0.62"/><ellipse cx="150.0" cy="174.3" rx="0.7" ry="0.6" transform="rotate(102 150.0 174.3)" fill="#c040ff" opacity="0.63"/><ellipse cx="62.4" cy="165.6" rx="0.5" ry="0.5" transform="rotate(20 62.4 165.6)" fill="#e020c0" opacity="0.63"/><ellipse cx="101.0" cy="231.3" rx="0.6" ry="0.7" transform="rotate(173 101.0 231.3)" fill="#c040ff" opacity="0.70"/><ellipse cx="176.8" cy="124.9" rx="0.4" ry="0.4" transform="rotate(104 176.8 124.9)" fill="#e020c0" opacity="0.47"/><ellipse cx="78.6" cy="181.6" rx="0.6" ry="0.6" transform="rotate(77 78.6 181.6)" fill="#ff30d0" opacity="0.85"/><ellipse cx="114.6" cy="197.6" rx="0.4" ry="0.3" transform="rotate(151 114.6 197.6)" fill="#e020c0" opacity="0.64"/><ellipse cx="189.7" cy="205.7" rx="0.4" ry="0.3" transform="rotate(22 189.7 205.7)" fill="#c040ff" opacity="0.65"/><ellipse cx="103.5" cy="209.6" rx="0.3" ry="0.3" transform="rotate(125 103.5 209.6)" fill="#e020c0" opacity="0.83"/><ellipse cx="133.8" cy="201.9" rx="0.4" ry="0.4" transform="rotate(65 133.8 201.9)" fill="#c040ff" opacity="0.71"/><ellipse cx="34.6" cy="160.3" rx="0.5" ry="0.4" transform="rotate(61 34.6 160.3)" fill="#c040ff" opacity="0.60"/><ellipse cx="134.9" cy="224.7" rx="0.4" ry="0.2" transform="rotate(101 134.9 224.7)" fill="#ff30d0" opacity="0.73"/><ellipse cx="163.5" cy="143.4" rx="0.6" ry="0.5" transform="rotate(133 163.5 143.4)" fill="#c040ff" opacity="0.56"/><ellipse cx="113.3" cy="230.1" rx="0.3" ry="0.3" transform="rotate(24 113.3 230.1)" fill="#e020c0" opacity="0.44"/><ellipse cx="30.4" cy="218.3" rx="0.6" ry="0.4" transform="rotate(162 30.4 218.3)" fill="#ff30d0" opacity="0.74"/><ellipse cx="121.4" cy="216.9" rx="0.3" ry="0.2" transform="rotate(118 121.4 216.9)" fill="#ff30d0" opacity="0.42"/><ellipse cx="184.3" cy="220.2" rx="0.7" ry="0.5" transform="rotate(1 184.3 220.2)" fill="#c040ff" opacity="0.51"/><ellipse cx="112.5" cy="221.7" rx="0.6" ry="0.4" transform="rotate(132 112.5 221.7)" fill="#c040ff" opacity="0.65"/><ellipse cx="123.9" cy="200.1" rx="0.5" ry="0.4" transform="rotate(45 123.9 200.1)" fill="#ff30d0" opacity="0.61"/><ellipse cx="49.5" cy="132.6" rx="0.6" ry="0.5" transform="rotate(168 49.5 132.6)" fill="#c040ff" opacity="0.68"/><ellipse cx="123.5" cy="222.4" rx="0.5" ry="0.5" transform="rotate(55 123.5 222.4)" fill="#e020c0" opacity="0.61"/><ellipse cx="142.5" cy="210.8" rx="0.3" ry="0.3" transform="rotate(125 142.5 210.8)" fill="#e020c0" opacity="0.45"/><ellipse cx="130.0" cy="217.2" rx="0.3" ry="0.2" transform="rotate(128 130.0 217.2)" fill="#e020c0" opacity="0.57"/><ellipse cx="95.0" cy="140.8" rx="0.4" ry="0.3" transform="rotate(106 95.0 140.8)" fill="#e020c0" opacity="0.74"/><ellipse cx="189.9" cy="164.3" rx="0.6" ry="0.4" transform="rotate(142 189.9 164.3)" fill="#e020c0" opacity="0.47"/><ellipse cx="95.5" cy="220.2" rx="0.5" ry="0.5" transform="rotate(29 95.5 220.2)" fill="#c040ff" opacity="0.62"/><ellipse cx="109.6" cy="209.7" rx="0.5" ry="0.5" transform="rotate(113 109.6 209.7)" fill="#c040ff" opacity="0.50"/><ellipse cx="98.2" cy="228.8" rx="0.5" ry="0.4" transform="rotate(17 98.2 228.8)" fill="#ff30d0" opacity="0.66"/><ellipse cx="169.3" cy="211.0" rx="0.3" ry="0.3" transform="rotate(171 169.3 211.0)" fill="#c040ff" opacity="0.83"/><ellipse cx="97.0" cy="181.3" rx="0.3" ry="0.2" transform="rotate(29 97.0 181.3)" fill="#c040ff" opacity="0.46"/><ellipse cx="85.6" cy="196.5" rx="0.7" ry="0.6" transform="rotate(174 85.6 196.5)" fill="#c040ff" opacity="0.54"/><ellipse cx="182.9" cy="214.5" rx="0.6" ry="0.7" transform="rotate(155 182.9 214.5)" fill="#c040ff" opacity="0.41"/><ellipse cx="96.7" cy="231.6" rx="0.6" ry="0.5" transform="rotate(151 96.7 231.6)" fill="#ff30d0" opacity="0.83"/><ellipse cx="58.2" cy="131.9" rx="0.5" ry="0.4" transform="rotate(99 58.2 131.9)" fill="#c040ff" opacity="0.65"/><ellipse cx="191.9" cy="174.9" rx="0.3" ry="0.3" transform="rotate(70 191.9 174.9)" fill="#ff30d0" opacity="0.48"/><ellipse cx="115.3" cy="204.3" rx="0.5" ry="0.5" transform="rotate(48 115.3 204.3)" fill="#c040ff" opacity="0.62"/><ellipse cx="123.5" cy="217.0" rx="0.6" ry="0.6" transform="rotate(141 123.5 217.0)" fill="#c040ff" opacity="0.46"/><ellipse cx="117.0" cy="202.9" rx="0.4" ry="0.3" transform="rotate(59 117.0 202.9)" fill="#e020c0" opacity="0.76"/><ellipse cx="94.9" cy="228.3" rx="0.6" ry="0.6" transform="rotate(73 94.9 228.3)" fill="#e020c0" opacity="0.74"/><ellipse cx="96.1" cy="181.6" rx="0.4" ry="0.5" transform="rotate(92 96.1 181.6)" fill="#ff30d0" opacity="0.79"/><ellipse cx="130.9" cy="226.1" rx="0.6" ry="0.7" transform="rotate(23 130.9 226.1)" fill="#ff30d0" opacity="0.77"/><ellipse cx="60.6" cy="223.5" rx="0.5" ry="0.4" transform="rotate(11 60.6 223.5)" fill="#e020c0" opacity="0.76"/><ellipse cx="104.1" cy="235.7" rx="0.4" ry="0.4" transform="rotate(160 104.1 235.7)" fill="#c040ff" opacity="0.71"/><ellipse cx="162.0" cy="192.8" rx="0.4" ry="0.3" transform="rotate(16 162.0 192.8)" fill="#e020c0" opacity="0.60"/><ellipse cx="133.0" cy="212.2" rx="0.6" ry="0.4" transform="rotate(53 133.0 212.2)" fill="#c040ff" opacity="0.50"/><ellipse cx="103.0" cy="219.9" rx="0.7" ry="0.4" transform="rotate(15 103.0 219.9)" fill="#ff30d0" opacity="0.58"/><ellipse cx="174.2" cy="228.1" rx="0.6" ry="0.4" transform="rotate(125 174.2 228.1)" fill="#e020c0" opacity="0.81"/><ellipse cx="114.1" cy="234.3" rx="0.3" ry="0.3" transform="rotate(128 114.1 234.3)" fill="#ff30d0" opacity="0.62"/><ellipse cx="48.3" cy="172.4" rx="0.5" ry="0.5" transform="rotate(11 48.3 172.4)" fill="#e020c0" opacity="0.79"/><ellipse cx="160.4" cy="174.3" rx="0.4" ry="0.3" transform="rotate(4 160.4 174.3)" fill="#e020c0" opacity="0.77"/><ellipse cx="190.6" cy="230.3" rx="0.6" ry="0.6" transform="rotate(29 190.6 230.3)" fill="#ff30d0" opacity="0.81"/><ellipse cx="168.2" cy="228.6" rx="0.7" ry="0.6" transform="rotate(35 168.2 228.6)" fill="#e020c0" opacity="0.43"/><ellipse cx="97.2" cy="229.6" rx="0.6" ry="0.4" transform="rotate(68 97.2 229.6)" fill="#e020c0" opacity="0.71"/><ellipse cx="43.5" cy="195.9" rx="0.6" ry="0.5" transform="rotate(7 43.5 195.9)" fill="#e020c0" opacity="0.51"/><ellipse cx="154.4" cy="125.6" rx="0.7" ry="0.5" transform="rotate(111 154.4 125.6)" fill="#ff30d0" opacity="0.42"/><ellipse cx="111.1" cy="221.1" rx="0.4" ry="0.3" transform="rotate(5 111.1 221.1)" fill="#c040ff" opacity="0.81"/><ellipse cx="64.2" cy="182.3" rx="0.4" ry="0.4" transform="rotate(50 64.2 182.3)" fill="#c040ff" opacity="0.66"/><ellipse cx="95.0" cy="221.5" rx="0.5" ry="0.3" transform="rotate(165 95.0 221.5)" fill="#c040ff" opacity="0.70"/><ellipse cx="126.2" cy="234.8" rx="0.5" ry="0.4" transform="rotate(7 126.2 234.8)" fill="#ff30d0" opacity="0.50"/><ellipse cx="116.6" cy="224.5" rx="0.4" ry="0.3" transform="rotate(144 116.6 224.5)" fill="#ff30d0" opacity="0.78"/><ellipse cx="61.0" cy="157.7" rx="0.4" ry="0.3" transform="rotate(91 61.0 157.7)" fill="#c040ff" opacity="0.57"/><ellipse cx="116.2" cy="230.8" rx="0.3" ry="0.3" transform="rotate(31 116.2 230.8)" fill="#e020c0" opacity="0.72"/><ellipse cx="22.4" cy="196.8" rx="0.5" ry="0.3" transform="rotate(134 22.4 196.8)" fill="#c040ff" opacity="0.64"/><ellipse cx="111.1" cy="215.6" rx="0.4" ry="0.4" transform="rotate(156 111.1 215.6)" fill="#c040ff" opacity="0.82"/><ellipse cx="119.8" cy="218.3" rx="0.4" ry="0.3" transform="rotate(67 119.8 218.3)" fill="#e020c0" opacity="0.57"/><ellipse cx="114.5" cy="167.2" rx="0.3" ry="0.2" transform="rotate(67 114.5 167.2)" fill="#e020c0" opacity="0.85"/><ellipse cx="53.1" cy="137.9" rx="0.7" ry="0.6" transform="rotate(115 53.1 137.9)" fill="#c040ff" opacity="0.68"/><ellipse cx="114.4" cy="204.5" rx="0.4" ry="0.4" transform="rotate(85 114.4 204.5)" fill="#ff30d0" opacity="0.81"/><ellipse cx="96.2" cy="219.8" rx="0.4" ry="0.3" transform="rotate(173 96.2 219.8)" fill="#ff30d0" opacity="0.74"/><ellipse cx="175.1" cy="170.0" rx="0.4" ry="0.5" transform="rotate(93 175.1 170.0)" fill="#e020c0" opacity="0.88"/><ellipse cx="108.4" cy="141.2" rx="0.4" ry="0.3" transform="rotate(50 108.4 141.2)" fill="#c040ff" opacity="0.44"/><ellipse cx="125.0" cy="233.2" rx="0.6" ry="0.6" transform="rotate(85 125.0 233.2)" fill="#e020c0" opacity="0.83"/><ellipse cx="68.2" cy="129.8" rx="0.4" ry="0.4" transform="rotate(91 68.2 129.8)" fill="#e020c0" opacity="0.72"/><ellipse cx="105.6" cy="223.3" rx="0.4" ry="0.3" transform="rotate(113 105.6 223.3)" fill="#ff30d0" opacity="0.68"/><ellipse cx="131.8" cy="231.3" rx="0.6" ry="0.5" transform="rotate(139 131.8 231.3)" fill="#e020c0" opacity="0.62"/><ellipse cx="97.8" cy="223.0" rx="0.4" ry="0.4" transform="rotate(0 97.8 223.0)" fill="#ff30d0" opacity="0.89"/><ellipse cx="28.3" cy="176.5" rx="0.4" ry="0.3" transform="rotate(94 28.3 176.5)" fill="#e020c0" opacity="0.84"/><ellipse cx="96.0" cy="232.4" rx="0.4" ry="0.4" transform="rotate(0 96.0 232.4)" fill="#e020c0" opacity="0.54"/><ellipse cx="72.3" cy="187.4" rx="0.6" ry="0.5" transform="rotate(24 72.3 187.4)" fill="#c040ff" opacity="0.66"/><ellipse cx="18.1" cy="218.5" rx="0.5" ry="0.5" transform="rotate(142 18.1 218.5)" fill="#ff30d0" opacity="0.89"/><ellipse cx="125.7" cy="215.5" rx="0.6" ry="0.5" transform="rotate(165 125.7 215.5)" fill="#e020c0" opacity="0.66"/><ellipse cx="112.6" cy="214.4" rx="0.7" ry="0.5" transform="rotate(136 112.6 214.4)" fill="#c040ff" opacity="0.65"/><ellipse cx="155.8" cy="160.0" rx="0.4" ry="0.3" transform="rotate(169 155.8 160.0)" fill="#c040ff" opacity="0.41"/><ellipse cx="118.6" cy="224.1" rx="0.5" ry="0.6" transform="rotate(64 118.6 224.1)" fill="#e020c0" opacity="0.41"/><ellipse cx="114.7" cy="135.6" rx="0.5" ry="0.4" transform="rotate(66 114.7 135.6)" fill="#e020c0" opacity="0.45"/><ellipse cx="125.5" cy="227.3" rx="0.7" ry="0.5" transform="rotate(145 125.5 227.3)" fill="#e020c0" opacity="0.67"/><ellipse cx="117.9" cy="210.5" rx="0.5" ry="0.3" transform="rotate(25 117.9 210.5)" fill="#c040ff" opacity="0.62"/><ellipse cx="68.2" cy="170.3" rx="0.5" ry="0.5" transform="rotate(51 68.2 170.3)" fill="#c040ff" opacity="0.43"/><ellipse cx="108.9" cy="222.6" rx="0.5" ry="0.4" transform="rotate(77 108.9 222.6)" fill="#ff30d0" opacity="0.83"/><ellipse cx="70.3" cy="172.0" rx="0.3" ry="0.3" transform="rotate(43 70.3 172.0)" fill="#e020c0" opacity="0.81"/><ellipse cx="116.3" cy="228.5" rx="0.4" ry="0.3" transform="rotate(81 116.3 228.5)" fill="#c040ff" opacity="0.78"/><ellipse cx="124.1" cy="216.6" rx="0.7" ry="0.7" transform="rotate(45 124.1 216.6)" fill="#ff30d0" opacity="0.67"/><ellipse cx="104.8" cy="164.0" rx="0.7" ry="0.5" transform="rotate(72 104.8 164.0)" fill="#ff30d0" opacity="0.62"/><ellipse cx="124.6" cy="233.9" rx="0.3" ry="0.3" transform="rotate(9 124.6 233.9)" fill="#ff30d0" opacity="0.56"/><ellipse cx="118.7" cy="186.1" rx="0.5" ry="0.4" transform="rotate(2 118.7 186.1)" fill="#ff30d0" opacity="0.79"/><ellipse cx="185.7" cy="187.5" rx="0.3" ry="0.2" transform="rotate(62 185.7 187.5)" fill="#ff30d0" opacity="0.43"/><ellipse cx="172.5" cy="174.4" rx="0.4" ry="0.3" transform="rotate(173 172.5 174.4)" fill="#e020c0" opacity="0.81"/><ellipse cx="63.8" cy="124.2" rx="0.4" ry="0.3" transform="rotate(99 63.8 124.2)" fill="#c040ff" opacity="0.41"/><ellipse cx="134.1" cy="210.6" rx="0.6" ry="0.6" transform="rotate(140 134.1 210.6)" fill="#c040ff" opacity="0.65"/><ellipse cx="76.9" cy="193.3" rx="0.5" ry="0.5" transform="rotate(51 76.9 193.3)" fill="#c040ff" opacity="0.59"/><ellipse cx="128.6" cy="223.2" rx="0.3" ry="0.2" transform="rotate(27 128.6 223.2)" fill="#e020c0" opacity="0.63"/><ellipse cx="121.3" cy="194.4" rx="0.3" ry="0.3" transform="rotate(166 121.3 194.4)" fill="#c040ff" opacity="0.54"/><ellipse cx="136.0" cy="223.4" rx="0.7" ry="0.6" transform="rotate(51 136.0 223.4)" fill="#e020c0" opacity="0.85"/><ellipse cx="42.3" cy="209.8" rx="0.3" ry="0.3" transform="rotate(18 42.3 209.8)" fill="#c040ff" opacity="0.80"/><ellipse cx="29.6" cy="167.8" rx="0.7" ry="0.6" transform="rotate(93 29.6 167.8)" fill="#ff30d0" opacity="0.41"/><ellipse cx="37.8" cy="142.7" rx="0.5" ry="0.4" transform="rotate(121 37.8 142.7)" fill="#c040ff" opacity="0.83"/><ellipse cx="96.5" cy="218.1" rx="0.5" ry="0.4" transform="rotate(19 96.5 218.1)" fill="#ff30d0" opacity="0.83"/><ellipse cx="19.1" cy="199.0" rx="0.5" ry="0.4" transform="rotate(115 19.1 199.0)" fill="#ff30d0" opacity="0.88"/><ellipse cx="58.2" cy="121.7" rx="0.6" ry="0.6" transform="rotate(65 58.2 121.7)" fill="#ff30d0" opacity="0.43"/><ellipse cx="118.7" cy="143.9" rx="0.5" ry="0.3" transform="rotate(165 118.7 143.9)" fill="#e020c0" opacity="0.60"/><ellipse cx="125.7" cy="201.7" rx="0.7" ry="0.6" transform="rotate(14 125.7 201.7)" fill="#ff30d0" opacity="0.50"/><ellipse cx="101.0" cy="235.4" rx="0.7" ry="0.5" transform="rotate(161 101.0 235.4)" fill="#e020c0" opacity="0.50"/><ellipse cx="118.7" cy="209.0" rx="0.6" ry="0.5" transform="rotate(27 118.7 209.0)" fill="#c040ff" opacity="0.86"/><ellipse cx="194.4" cy="145.4" rx="0.7" ry="0.7" transform="rotate(52 194.4 145.4)" fill="#ff30d0" opacity="0.51"/><ellipse cx="98.5" cy="213.0" rx="0.5" ry="0.5" transform="rotate(63 98.5 213.0)" fill="#e020c0" opacity="0.78"/><ellipse cx="115.0" cy="227.0" rx="0.4" ry="0.3" transform="rotate(5 115.0 227.0)" fill="#c040ff" opacity="0.56"/><ellipse cx="100.8" cy="213.0" rx="0.5" ry="0.4" transform="rotate(156 100.8 213.0)" fill="#c040ff" opacity="0.84"/><ellipse cx="99.0" cy="216.9" rx="0.4" ry="0.4" transform="rotate(69 99.0 216.9)" fill="#c040ff" opacity="0.68"/><ellipse cx="115.7" cy="203.0" rx="0.5" ry="0.3" transform="rotate(73 115.7 203.0)" fill="#c040ff" opacity="0.52"/><ellipse cx="139.1" cy="134.4" rx="0.4" ry="0.4" transform="rotate(52 139.1 134.4)" fill="#c040ff" opacity="0.81"/><ellipse cx="23.3" cy="225.5" rx="0.6" ry="0.5" transform="rotate(64 23.3 225.5)" fill="#e020c0" opacity="0.71"/><ellipse cx="117.4" cy="176.6" rx="0.5" ry="0.4" transform="rotate(111 117.4 176.6)" fill="#c040ff" opacity="0.79"/><ellipse cx="113.0" cy="235.6" rx="0.7" ry="0.6" transform="rotate(10 113.0 235.6)" fill="#ff30d0" opacity="0.73"/><ellipse cx="102.9" cy="214.7" rx="0.4" ry="0.3" transform="rotate(9 102.9 214.7)" fill="#e020c0" opacity="0.82"/><ellipse cx="51.3" cy="148.5" rx="0.4" ry="0.4" transform="rotate(137 51.3 148.5)" fill="#ff30d0" opacity="0.48"/><ellipse cx="127.5" cy="138.6" rx="0.5" ry="0.5" transform="rotate(57 127.5 138.6)" fill="#e020c0" opacity="0.61"/><ellipse cx="107.2" cy="197.4" rx="0.6" ry="0.4" transform="rotate(156 107.2 197.4)" fill="#ff30d0" opacity="0.83"/><ellipse cx="141.9" cy="234.6" rx="0.6" ry="0.5" transform="rotate(38 141.9 234.6)" fill="#e020c0" opacity="0.72"/><ellipse cx="113.1" cy="197.7" rx="0.4" ry="0.5" transform="rotate(108 113.1 197.7)" fill="#e020c0" opacity="0.87"/><ellipse cx="163.6" cy="210.6" rx="0.4" ry="0.3" transform="rotate(17 163.6 210.6)" fill="#ff30d0" opacity="0.72"/><ellipse cx="112.1" cy="220.8" rx="0.5" ry="0.4" transform="rotate(117 112.1 220.8)" fill="#c040ff" opacity="0.60"/><ellipse cx="110.7" cy="212.8" rx="0.5" ry="0.5" transform="rotate(160 110.7 212.8)" fill="#e020c0" opacity="0.89"/><ellipse cx="34.4" cy="192.0" rx="0.6" ry="0.4" transform="rotate(95 34.4 192.0)" fill="#ff30d0" opacity="0.45"/><ellipse cx="101.1" cy="212.4" rx="0.6" ry="0.4" transform="rotate(116 101.1 212.4)" fill="#e020c0" opacity="0.62"/><ellipse cx="123.3" cy="207.2" rx="0.3" ry="0.3" transform="rotate(176 123.3 207.2)" fill="#e020c0" opacity="0.75"/><ellipse cx="194.5" cy="151.7" rx="0.3" ry="0.3" transform="rotate(141 194.5 151.7)" fill="#e020c0" opacity="0.71"/><ellipse cx="131.9" cy="226.9" rx="0.7" ry="0.5" transform="rotate(150 131.9 226.9)" fill="#c040ff" opacity="0.71"/></g>
<rect x="176" y="233" width="17" height="3" fill="#fff"/>
</g>
<g clip-path="url(#cd1)">
<rect x="1" y="273.2" width="111" height="111.60000000000002" fill="#0a0300"/>
<rect x="1" y="273.2" width="111" height="111.60000000000002" fill="#000" filter="url(#nd1)"/>
<ellipse cx="52" cy="362" rx="62" ry="30" fill="url(#gd1)"/>
<ellipse cx="40" cy="340" rx="45" ry="30" fill="url(#gd1)" opacity="0.6"/>
<g filter="url(#bl03)"><ellipse cx="19.3" cy="343.3" rx="1.3" ry="0.8" transform="rotate(173 19.3 343.3)" fill="#18b018" opacity="0.63"/><ellipse cx="59.6" cy="353.3" rx="0.6" ry="0.4" transform="rotate(42 59.6 353.3)" fill="#18b018" opacity="0.57"/><ellipse cx="14.9" cy="367.5" rx="1.0" ry="0.4" transform="rotate(85 14.9 367.5)" fill="#40e040" opacity="0.92"/><ellipse cx="90.1" cy="340.1" rx="0.8" ry="0.3" transform="rotate(36 90.1 340.1)" fill="#30ff30" opacity="0.97"/><ellipse cx="99.5" cy="314.8" rx="1.0" ry="0.5" transform="rotate(48 99.5 314.8)" fill="#18b018" opacity="0.93"/><ellipse cx="59.0" cy="331.3" rx="0.7" ry="0.3" transform="rotate(167 59.0 331.3)" fill="#30ff30" opacity="0.71"/><ellipse cx="67.3" cy="304.4" rx="1.3" ry="0.6" transform="rotate(29 67.3 304.4)" fill="#30ff30" opacity="0.57"/><ellipse cx="58.7" cy="340.1" rx="1.6" ry="0.7" transform="rotate(88 58.7 340.1)" fill="#20d020" opacity="0.72"/><ellipse cx="28.4" cy="362.2" rx="1.1" ry="0.5" transform="rotate(10 28.4 362.2)" fill="#30ff30" opacity="0.68"/><ellipse cx="95.7" cy="340.1" rx="0.7" ry="0.3" transform="rotate(162 95.7 340.1)" fill="#20d020" opacity="0.99"/><ellipse cx="83.8" cy="321.9" rx="0.7" ry="0.3" transform="rotate(143 83.8 321.9)" fill="#18b018" opacity="0.95"/><ellipse cx="67.8" cy="316.5" rx="0.8" ry="0.4" transform="rotate(138 67.8 316.5)" fill="#18b018" opacity="0.55"/><ellipse cx="77.1" cy="370.1" rx="1.2" ry="0.6" transform="rotate(46 77.1 370.1)" fill="#40e040" opacity="0.73"/><ellipse cx="107.4" cy="365.2" rx="1.0" ry="0.4" transform="rotate(142 107.4 365.2)" fill="#30ff30" opacity="0.58"/><ellipse cx="14.2" cy="301.8" rx="1.0" ry="0.5" transform="rotate(33 14.2 301.8)" fill="#40e040" opacity="0.94"/><ellipse cx="23.4" cy="348.8" rx="1.2" ry="0.5" transform="rotate(11 23.4 348.8)" fill="#30ff30" opacity="0.89"/><ellipse cx="20.5" cy="345.5" rx="1.1" ry="0.6" transform="rotate(131 20.5 345.5)" fill="#40e040" opacity="1.00"/><ellipse cx="91.8" cy="354.8" rx="1.1" ry="0.4" transform="rotate(58 91.8 354.8)" fill="#30ff30" opacity="0.78"/><ellipse cx="33.4" cy="336.7" rx="0.8" ry="0.4" transform="rotate(64 33.4 336.7)" fill="#20d020" opacity="0.69"/><ellipse cx="111.2" cy="284.1" rx="1.3" ry="0.6" transform="rotate(91 111.2 284.1)" fill="#30ff30" opacity="0.98"/><ellipse cx="76.5" cy="344.9" rx="1.1" ry="0.6" transform="rotate(119 76.5 344.9)" fill="#18b018" opacity="0.57"/><ellipse cx="31.6" cy="333.1" rx="0.9" ry="0.4" transform="rotate(88 31.6 333.1)" fill="#18b018" opacity="0.83"/><ellipse cx="87.5" cy="336.9" rx="0.8" ry="0.5" transform="rotate(111 87.5 336.9)" fill="#40e040" opacity="0.92"/><ellipse cx="108.0" cy="373.7" rx="0.8" ry="0.4" transform="rotate(16 108.0 373.7)" fill="#40e040" opacity="0.63"/><ellipse cx="59.0" cy="336.2" rx="1.2" ry="0.8" transform="rotate(78 59.0 336.2)" fill="#18b018" opacity="0.86"/><ellipse cx="42.3" cy="332.3" rx="1.3" ry="0.7" transform="rotate(152 42.3 332.3)" fill="#30ff30" opacity="0.62"/><ellipse cx="52.8" cy="317.6" rx="1.2" ry="0.6" transform="rotate(18 52.8 317.6)" fill="#40e040" opacity="0.99"/><ellipse cx="97.8" cy="310.6" rx="0.9" ry="0.5" transform="rotate(178 97.8 310.6)" fill="#30ff30" opacity="0.97"/><ellipse cx="17.4" cy="372.0" rx="1.2" ry="0.6" transform="rotate(143 17.4 372.0)" fill="#40e040" opacity="0.92"/><ellipse cx="45.7" cy="329.3" rx="1.4" ry="0.6" transform="rotate(14 45.7 329.3)" fill="#18b018" opacity="0.95"/><ellipse cx="83.9" cy="350.3" rx="1.0" ry="0.5" transform="rotate(88 83.9 350.3)" fill="#30ff30" opacity="0.86"/><ellipse cx="76.0" cy="288.7" rx="1.0" ry="0.4" transform="rotate(13 76.0 288.7)" fill="#40e040" opacity="0.58"/><ellipse cx="57.8" cy="342.1" rx="0.9" ry="0.4" transform="rotate(50 57.8 342.1)" fill="#40e040" opacity="0.91"/><ellipse cx="40.8" cy="298.6" rx="1.0" ry="0.6" transform="rotate(149 40.8 298.6)" fill="#20d020" opacity="0.65"/><ellipse cx="69.1" cy="334.9" rx="0.8" ry="0.4" transform="rotate(74 69.1 334.9)" fill="#20d020" opacity="0.65"/><ellipse cx="27.6" cy="334.1" rx="1.3" ry="0.6" transform="rotate(172 27.6 334.1)" fill="#40e040" opacity="0.89"/><ellipse cx="110.3" cy="348.4" rx="1.6" ry="0.7" transform="rotate(93 110.3 348.4)" fill="#20d020" opacity="0.61"/><ellipse cx="86.6" cy="349.5" rx="0.7" ry="0.4" transform="rotate(86 86.6 349.5)" fill="#40e040" opacity="0.57"/><ellipse cx="38.3" cy="317.9" rx="1.2" ry="0.7" transform="rotate(71 38.3 317.9)" fill="#20d020" opacity="0.55"/><ellipse cx="74.7" cy="332.3" rx="0.8" ry="0.3" transform="rotate(146 74.7 332.3)" fill="#18b018" opacity="0.77"/><ellipse cx="56.5" cy="320.1" rx="1.3" ry="0.6" transform="rotate(135 56.5 320.1)" fill="#18b018" opacity="0.72"/><ellipse cx="30.4" cy="342.5" rx="1.1" ry="0.4" transform="rotate(89 30.4 342.5)" fill="#20d020" opacity="0.56"/><ellipse cx="2.0" cy="358.8" rx="1.0" ry="0.6" transform="rotate(159 2.0 358.8)" fill="#40e040" opacity="0.84"/><ellipse cx="3.3" cy="346.8" rx="1.0" ry="0.5" transform="rotate(78 3.3 346.8)" fill="#18b018" opacity="0.56"/><ellipse cx="50.3" cy="339.0" rx="1.1" ry="0.4" transform="rotate(162 50.3 339.0)" fill="#20d020" opacity="0.93"/><ellipse cx="39.3" cy="288.9" rx="0.8" ry="0.4" transform="rotate(9 39.3 288.9)" fill="#40e040" opacity="0.63"/><ellipse cx="17.8" cy="336.6" rx="1.1" ry="0.5" transform="rotate(113 17.8 336.6)" fill="#20d020" opacity="0.61"/><ellipse cx="14.8" cy="344.4" rx="0.7" ry="0.3" transform="rotate(17 14.8 344.4)" fill="#30ff30" opacity="0.64"/><ellipse cx="65.0" cy="356.3" rx="1.0" ry="0.5" transform="rotate(124 65.0 356.3)" fill="#30ff30" opacity="0.95"/><ellipse cx="47.4" cy="331.8" rx="1.1" ry="0.6" transform="rotate(167 47.4 331.8)" fill="#18b018" opacity="0.59"/><ellipse cx="108.1" cy="352.1" rx="0.8" ry="0.4" transform="rotate(48 108.1 352.1)" fill="#20d020" opacity="0.96"/><ellipse cx="55.0" cy="356.6" rx="0.8" ry="0.4" transform="rotate(122 55.0 356.6)" fill="#20d020" opacity="0.96"/><ellipse cx="6.2" cy="336.8" rx="0.7" ry="0.4" transform="rotate(36 6.2 336.8)" fill="#18b018" opacity="0.56"/><ellipse cx="24.8" cy="361.4" rx="1.2" ry="0.8" transform="rotate(64 24.8 361.4)" fill="#20d020" opacity="0.93"/><ellipse cx="21.2" cy="310.7" rx="1.2" ry="0.8" transform="rotate(122 21.2 310.7)" fill="#40e040" opacity="0.90"/><ellipse cx="28.3" cy="374.5" rx="1.4" ry="0.7" transform="rotate(5 28.3 374.5)" fill="#18b018" opacity="0.81"/><ellipse cx="86.1" cy="296.6" rx="1.6" ry="0.8" transform="rotate(90 86.1 296.6)" fill="#30ff30" opacity="0.87"/><ellipse cx="48.8" cy="340.7" rx="1.1" ry="0.4" transform="rotate(136 48.8 340.7)" fill="#20d020" opacity="0.62"/><ellipse cx="13.3" cy="321.3" rx="0.6" ry="0.3" transform="rotate(80 13.3 321.3)" fill="#40e040" opacity="0.87"/><ellipse cx="93.7" cy="372.7" rx="1.3" ry="0.6" transform="rotate(95 93.7 372.7)" fill="#40e040" opacity="0.84"/><ellipse cx="71.0" cy="294.0" rx="0.7" ry="0.5" transform="rotate(61 71.0 294.0)" fill="#30ff30" opacity="0.63"/><ellipse cx="39.4" cy="294.9" rx="0.8" ry="0.4" transform="rotate(153 39.4 294.9)" fill="#30ff30" opacity="0.93"/><ellipse cx="11.8" cy="367.5" rx="0.8" ry="0.5" transform="rotate(143 11.8 367.5)" fill="#40e040" opacity="0.68"/><ellipse cx="101.9" cy="335.8" rx="1.6" ry="0.7" transform="rotate(0 101.9 335.8)" fill="#30ff30" opacity="0.95"/><ellipse cx="96.8" cy="353.3" rx="0.8" ry="0.3" transform="rotate(40 96.8 353.3)" fill="#40e040" opacity="0.58"/><ellipse cx="27.7" cy="307.9" rx="1.3" ry="0.6" transform="rotate(123 27.7 307.9)" fill="#20d020" opacity="0.69"/><ellipse cx="69.4" cy="348.9" rx="1.0" ry="0.7" transform="rotate(121 69.4 348.9)" fill="#20d020" opacity="0.99"/><ellipse cx="59.6" cy="365.2" rx="0.8" ry="0.4" transform="rotate(96 59.6 365.2)" fill="#20d020" opacity="0.66"/><ellipse cx="78.3" cy="325.1" rx="1.4" ry="0.6" transform="rotate(153 78.3 325.1)" fill="#20d020" opacity="0.73"/><ellipse cx="100.0" cy="339.9" rx="1.2" ry="0.5" transform="rotate(11 100.0 339.9)" fill="#18b018" opacity="0.71"/><ellipse cx="42.5" cy="307.8" rx="0.9" ry="0.4" transform="rotate(155 42.5 307.8)" fill="#30ff30" opacity="0.60"/><ellipse cx="73.7" cy="365.3" rx="1.0" ry="0.4" transform="rotate(109 73.7 365.3)" fill="#20d020" opacity="0.57"/><ellipse cx="6.7" cy="341.6" rx="0.8" ry="0.4" transform="rotate(83 6.7 341.6)" fill="#20d020" opacity="0.57"/><ellipse cx="72.5" cy="318.7" rx="0.8" ry="0.5" transform="rotate(93 72.5 318.7)" fill="#18b018" opacity="0.63"/><ellipse cx="13.6" cy="307.4" rx="1.2" ry="0.6" transform="rotate(131 13.6 307.4)" fill="#18b018" opacity="0.67"/><ellipse cx="91.1" cy="366.2" rx="0.6" ry="0.4" transform="rotate(152 91.1 366.2)" fill="#40e040" opacity="0.76"/><ellipse cx="46.7" cy="319.1" rx="1.3" ry="0.7" transform="rotate(116 46.7 319.1)" fill="#40e040" opacity="0.57"/><ellipse cx="89.1" cy="345.1" rx="0.8" ry="0.4" transform="rotate(42 89.1 345.1)" fill="#18b018" opacity="0.97"/><ellipse cx="35.7" cy="358.7" rx="1.2" ry="0.5" transform="rotate(177 35.7 358.7)" fill="#40e040" opacity="0.58"/><ellipse cx="14.0" cy="323.8" rx="1.2" ry="0.7" transform="rotate(41 14.0 323.8)" fill="#40e040" opacity="0.67"/><ellipse cx="17.1" cy="354.9" rx="0.7" ry="0.4" transform="rotate(147 17.1 354.9)" fill="#18b018" opacity="0.56"/><ellipse cx="45.1" cy="343.9" rx="1.2" ry="0.6" transform="rotate(105 45.1 343.9)" fill="#30ff30" opacity="0.67"/><ellipse cx="43.5" cy="308.3" rx="1.0" ry="0.6" transform="rotate(161 43.5 308.3)" fill="#18b018" opacity="0.56"/><ellipse cx="54.8" cy="369.9" rx="1.2" ry="0.7" transform="rotate(49 54.8 369.9)" fill="#18b018" opacity="0.83"/><ellipse cx="6.6" cy="348.8" rx="0.6" ry="0.4" transform="rotate(7 6.6 348.8)" fill="#30ff30" opacity="0.67"/><ellipse cx="95.2" cy="312.7" rx="1.5" ry="0.7" transform="rotate(141 95.2 312.7)" fill="#30ff30" opacity="0.91"/><ellipse cx="28.8" cy="322.5" rx="0.7" ry="0.4" transform="rotate(28 28.8 322.5)" fill="#40e040" opacity="0.76"/><ellipse cx="72.9" cy="338.2" rx="0.7" ry="0.2" transform="rotate(169 72.9 338.2)" fill="#20d020" opacity="0.58"/><ellipse cx="21.0" cy="357.5" rx="1.1" ry="0.5" transform="rotate(36 21.0 357.5)" fill="#20d020" opacity="0.71"/><ellipse cx="54.6" cy="278.4" rx="0.8" ry="0.4" transform="rotate(65 54.6 278.4)" fill="#40e040" opacity="0.72"/><ellipse cx="97.4" cy="334.2" rx="1.5" ry="0.6" transform="rotate(44 97.4 334.2)" fill="#40e040" opacity="0.67"/><ellipse cx="61.2" cy="358.4" rx="1.0" ry="0.4" transform="rotate(9 61.2 358.4)" fill="#40e040" opacity="0.57"/><ellipse cx="52.1" cy="323.3" rx="1.3" ry="0.7" transform="rotate(116 52.1 323.3)" fill="#20d020" opacity="0.62"/><ellipse cx="97.9" cy="325.8" rx="0.7" ry="0.4" transform="rotate(57 97.9 325.8)" fill="#18b018" opacity="0.74"/><ellipse cx="14.8" cy="364.5" rx="0.8" ry="0.5" transform="rotate(60 14.8 364.5)" fill="#40e040" opacity="0.88"/><ellipse cx="49.5" cy="343.8" rx="1.5" ry="0.8" transform="rotate(88 49.5 343.8)" fill="#20d020" opacity="0.82"/><ellipse cx="64.4" cy="356.3" rx="1.0" ry="0.5" transform="rotate(108 64.4 356.3)" fill="#40e040" opacity="0.56"/><ellipse cx="13.7" cy="350.8" rx="0.7" ry="0.3" transform="rotate(77 13.7 350.8)" fill="#30ff30" opacity="0.99"/><ellipse cx="50.2" cy="331.0" rx="0.9" ry="0.4" transform="rotate(77 50.2 331.0)" fill="#18b018" opacity="0.82"/><ellipse cx="16.3" cy="339.3" rx="1.0" ry="0.6" transform="rotate(141 16.3 339.3)" fill="#30ff30" opacity="0.69"/><ellipse cx="88.4" cy="282.9" rx="1.3" ry="0.5" transform="rotate(138 88.4 282.9)" fill="#40e040" opacity="0.79"/><ellipse cx="47.8" cy="368.8" rx="1.7" ry="0.6" transform="rotate(115 47.8 368.8)" fill="#20d020" opacity="0.76"/><ellipse cx="9.6" cy="338.9" rx="1.1" ry="0.5" transform="rotate(108 9.6 338.9)" fill="#40e040" opacity="0.57"/><ellipse cx="11.6" cy="363.6" rx="0.7" ry="0.5" transform="rotate(161 11.6 363.6)" fill="#20d020" opacity="0.86"/><ellipse cx="16.8" cy="304.9" rx="0.6" ry="0.3" transform="rotate(132 16.8 304.9)" fill="#18b018" opacity="0.61"/><ellipse cx="102.6" cy="334.2" rx="0.7" ry="0.4" transform="rotate(7 102.6 334.2)" fill="#30ff30" opacity="0.91"/><ellipse cx="17.8" cy="334.9" rx="1.2" ry="0.6" transform="rotate(69 17.8 334.9)" fill="#40e040" opacity="0.75"/><ellipse cx="18.6" cy="337.1" rx="0.7" ry="0.4" transform="rotate(130 18.6 337.1)" fill="#20d020" opacity="0.61"/><ellipse cx="69.9" cy="300.5" rx="0.8" ry="0.3" transform="rotate(61 69.9 300.5)" fill="#30ff30" opacity="0.57"/><ellipse cx="59.8" cy="335.4" rx="1.5" ry="0.6" transform="rotate(144 59.8 335.4)" fill="#30ff30" opacity="0.55"/><ellipse cx="81.4" cy="336.9" rx="1.2" ry="0.8" transform="rotate(5 81.4 336.9)" fill="#18b018" opacity="0.92"/><ellipse cx="28.4" cy="326.2" rx="0.9" ry="0.4" transform="rotate(163 28.4 326.2)" fill="#20d020" opacity="0.92"/><ellipse cx="16.5" cy="371.1" rx="1.1" ry="0.6" transform="rotate(5 16.5 371.1)" fill="#20d020" opacity="0.80"/><ellipse cx="50.6" cy="309.7" rx="1.5" ry="0.7" transform="rotate(120 50.6 309.7)" fill="#20d020" opacity="0.77"/><ellipse cx="14.3" cy="277.2" rx="0.8" ry="0.6" transform="rotate(143 14.3 277.2)" fill="#30ff30" opacity="0.63"/><ellipse cx="90.3" cy="328.1" rx="1.0" ry="0.5" transform="rotate(137 90.3 328.1)" fill="#18b018" opacity="0.96"/><ellipse cx="78.1" cy="320.7" rx="0.6" ry="0.3" transform="rotate(93 78.1 320.7)" fill="#40e040" opacity="0.76"/><ellipse cx="32.6" cy="295.7" rx="0.5" ry="0.3" transform="rotate(87 32.6 295.7)" fill="#30ff30" opacity="0.87"/><ellipse cx="75.2" cy="356.6" rx="1.1" ry="0.5" transform="rotate(16 75.2 356.6)" fill="#30ff30" opacity="0.66"/><ellipse cx="40.2" cy="295.7" rx="0.9" ry="0.5" transform="rotate(169 40.2 295.7)" fill="#30ff30" opacity="0.66"/><ellipse cx="15.5" cy="328.7" rx="0.7" ry="0.3" transform="rotate(21 15.5 328.7)" fill="#20d020" opacity="0.77"/><ellipse cx="6.3" cy="318.7" rx="1.3" ry="0.5" transform="rotate(27 6.3 318.7)" fill="#20d020" opacity="0.59"/><ellipse cx="1.7" cy="354.7" rx="1.1" ry="0.4" transform="rotate(154 1.7 354.7)" fill="#18b018" opacity="0.98"/><ellipse cx="39.1" cy="355.9" rx="1.2" ry="0.7" transform="rotate(60 39.1 355.9)" fill="#30ff30" opacity="0.59"/><ellipse cx="103.3" cy="351.6" rx="1.1" ry="0.5" transform="rotate(106 103.3 351.6)" fill="#40e040" opacity="0.63"/><ellipse cx="39.2" cy="316.7" rx="0.6" ry="0.3" transform="rotate(95 39.2 316.7)" fill="#18b018" opacity="0.59"/><ellipse cx="110.1" cy="313.6" rx="1.4" ry="0.6" transform="rotate(149 110.1 313.6)" fill="#40e040" opacity="0.57"/><ellipse cx="22.3" cy="335.8" rx="0.9" ry="0.4" transform="rotate(64 22.3 335.8)" fill="#30ff30" opacity="0.63"/><ellipse cx="77.8" cy="364.7" rx="0.8" ry="0.4" transform="rotate(134 77.8 364.7)" fill="#30ff30" opacity="0.76"/><ellipse cx="7.6" cy="339.6" rx="0.9" ry="0.5" transform="rotate(10 7.6 339.6)" fill="#20d020" opacity="0.97"/><ellipse cx="2.4" cy="371.0" rx="0.8" ry="0.5" transform="rotate(80 2.4 371.0)" fill="#20d020" opacity="0.88"/><ellipse cx="40.7" cy="365.9" rx="0.7" ry="0.4" transform="rotate(105 40.7 365.9)" fill="#30ff30" opacity="0.86"/><ellipse cx="13.2" cy="278.5" rx="0.6" ry="0.3" transform="rotate(11 13.2 278.5)" fill="#40e040" opacity="0.80"/><ellipse cx="107.6" cy="368.9" rx="1.5" ry="0.6" transform="rotate(175 107.6 368.9)" fill="#20d020" opacity="0.98"/><ellipse cx="71.7" cy="355.9" rx="0.5" ry="0.3" transform="rotate(107 71.7 355.9)" fill="#20d020" opacity="0.70"/><ellipse cx="70.7" cy="369.0" rx="0.5" ry="0.3" transform="rotate(133 70.7 369.0)" fill="#40e040" opacity="0.65"/><ellipse cx="89.2" cy="318.6" rx="0.9" ry="0.6" transform="rotate(108 89.2 318.6)" fill="#20d020" opacity="0.59"/><ellipse cx="108.4" cy="332.1" rx="0.8" ry="0.4" transform="rotate(34 108.4 332.1)" fill="#40e040" opacity="0.69"/><ellipse cx="8.3" cy="319.3" rx="1.0" ry="0.7" transform="rotate(79 8.3 319.3)" fill="#20d020" opacity="0.87"/><ellipse cx="9.2" cy="331.2" rx="1.4" ry="0.8" transform="rotate(28 9.2 331.2)" fill="#30ff30" opacity="0.64"/><ellipse cx="5.0" cy="369.1" rx="1.2" ry="0.6" transform="rotate(49 5.0 369.1)" fill="#30ff30" opacity="0.83"/><ellipse cx="4.4" cy="330.8" rx="1.2" ry="0.5" transform="rotate(153 4.4 330.8)" fill="#40e040" opacity="0.81"/><ellipse cx="22.9" cy="343.7" rx="0.9" ry="0.4" transform="rotate(111 22.9 343.7)" fill="#30ff30" opacity="0.68"/><ellipse cx="64.6" cy="366.6" rx="1.2" ry="0.6" transform="rotate(62 64.6 366.6)" fill="#18b018" opacity="0.67"/><ellipse cx="79.8" cy="341.6" rx="0.7" ry="0.3" transform="rotate(151 79.8 341.6)" fill="#20d020" opacity="0.75"/><ellipse cx="79.2" cy="346.0" rx="0.6" ry="0.3" transform="rotate(61 79.2 346.0)" fill="#40e040" opacity="0.82"/><ellipse cx="56.3" cy="302.5" rx="1.2" ry="0.8" transform="rotate(125 56.3 302.5)" fill="#18b018" opacity="0.91"/><ellipse cx="60.7" cy="337.6" rx="0.9" ry="0.6" transform="rotate(57 60.7 337.6)" fill="#18b018" opacity="0.92"/><ellipse cx="36.9" cy="342.5" rx="1.4" ry="0.7" transform="rotate(68 36.9 342.5)" fill="#40e040" opacity="0.61"/><ellipse cx="23.5" cy="292.0" rx="0.9" ry="0.6" transform="rotate(138 23.5 292.0)" fill="#40e040" opacity="0.75"/><ellipse cx="104.4" cy="324.7" rx="0.7" ry="0.3" transform="rotate(157 104.4 324.7)" fill="#40e040" opacity="0.66"/><ellipse cx="24.0" cy="316.5" rx="1.3" ry="0.7" transform="rotate(91 24.0 316.5)" fill="#20d020" opacity="0.66"/><ellipse cx="20.5" cy="346.4" rx="1.0" ry="0.4" transform="rotate(125 20.5 346.4)" fill="#30ff30" opacity="0.69"/><ellipse cx="16.7" cy="363.4" rx="0.7" ry="0.4" transform="rotate(42 16.7 363.4)" fill="#18b018" opacity="0.70"/><ellipse cx="23.2" cy="324.8" rx="1.3" ry="0.6" transform="rotate(14 23.2 324.8)" fill="#30ff30" opacity="0.68"/><ellipse cx="12.5" cy="300.9" rx="0.9" ry="0.4" transform="rotate(9 12.5 300.9)" fill="#18b018" opacity="0.79"/><ellipse cx="72.8" cy="327.7" rx="0.9" ry="0.4" transform="rotate(49 72.8 327.7)" fill="#20d020" opacity="0.57"/><ellipse cx="107.5" cy="305.4" rx="0.8" ry="0.4" transform="rotate(135 107.5 305.4)" fill="#20d020" opacity="0.71"/><ellipse cx="94.0" cy="343.9" rx="0.8" ry="0.4" transform="rotate(9 94.0 343.9)" fill="#30ff30" opacity="0.75"/><ellipse cx="107.0" cy="341.2" rx="0.8" ry="0.5" transform="rotate(154 107.0 341.2)" fill="#30ff30" opacity="0.91"/><ellipse cx="50.3" cy="329.7" rx="1.6" ry="0.6" transform="rotate(39 50.3 329.7)" fill="#30ff30" opacity="0.60"/><ellipse cx="46.9" cy="338.9" rx="1.2" ry="0.6" transform="rotate(44 46.9 338.9)" fill="#20d020" opacity="0.72"/><ellipse cx="99.2" cy="374.4" rx="1.1" ry="0.6" transform="rotate(21 99.2 374.4)" fill="#18b018" opacity="0.59"/><ellipse cx="17.1" cy="321.6" rx="0.8" ry="0.3" transform="rotate(83 17.1 321.6)" fill="#18b018" opacity="0.89"/><ellipse cx="65.1" cy="312.0" rx="1.0" ry="0.5" transform="rotate(113 65.1 312.0)" fill="#20d020" opacity="0.97"/><ellipse cx="29.9" cy="356.3" rx="0.5" ry="0.3" transform="rotate(104 29.9 356.3)" fill="#20d020" opacity="0.56"/><ellipse cx="42.6" cy="352.4" rx="1.0" ry="0.4" transform="rotate(93 42.6 352.4)" fill="#40e040" opacity="0.74"/><ellipse cx="21.9" cy="323.6" rx="0.8" ry="0.4" transform="rotate(27 21.9 323.6)" fill="#20d020" opacity="0.59"/><ellipse cx="52.5" cy="276.4" rx="1.0" ry="0.4" transform="rotate(102 52.5 276.4)" fill="#20d020" opacity="0.77"/><ellipse cx="82.0" cy="325.3" rx="0.6" ry="0.4" transform="rotate(112 82.0 325.3)" fill="#18b018" opacity="0.80"/><ellipse cx="44.3" cy="288.9" rx="1.1" ry="0.6" transform="rotate(140 44.3 288.9)" fill="#20d020" opacity="0.89"/><ellipse cx="80.1" cy="320.4" rx="0.8" ry="0.3" transform="rotate(41 80.1 320.4)" fill="#20d020" opacity="0.65"/><ellipse cx="94.7" cy="347.6" rx="1.1" ry="0.5" transform="rotate(175 94.7 347.6)" fill="#30ff30" opacity="0.96"/><ellipse cx="68.9" cy="345.2" rx="1.0" ry="0.6" transform="rotate(43 68.9 345.2)" fill="#30ff30" opacity="0.70"/><ellipse cx="15.7" cy="329.9" rx="0.6" ry="0.3" transform="rotate(69 15.7 329.9)" fill="#18b018" opacity="0.56"/><ellipse cx="61.5" cy="288.5" rx="1.0" ry="0.4" transform="rotate(175 61.5 288.5)" fill="#18b018" opacity="0.59"/><ellipse cx="98.1" cy="340.2" rx="1.3" ry="0.6" transform="rotate(58 98.1 340.2)" fill="#18b018" opacity="0.79"/><ellipse cx="102.3" cy="370.2" rx="0.6" ry="0.3" transform="rotate(119 102.3 370.2)" fill="#18b018" opacity="0.82"/><ellipse cx="86.2" cy="324.5" rx="1.0" ry="0.7" transform="rotate(144 86.2 324.5)" fill="#40e040" opacity="0.61"/><ellipse cx="108.4" cy="339.6" rx="1.0" ry="0.6" transform="rotate(148 108.4 339.6)" fill="#30ff30" opacity="0.79"/><ellipse cx="34.5" cy="331.2" rx="0.5" ry="0.3" transform="rotate(57 34.5 331.2)" fill="#40e040" opacity="0.71"/><ellipse cx="62.7" cy="340.8" rx="1.3" ry="0.6" transform="rotate(128 62.7 340.8)" fill="#40e040" opacity="0.62"/><ellipse cx="79.9" cy="328.9" rx="1.1" ry="0.7" transform="rotate(159 79.9 328.9)" fill="#40e040" opacity="0.56"/><ellipse cx="17.4" cy="361.5" rx="0.8" ry="0.3" transform="rotate(54 17.4 361.5)" fill="#18b018" opacity="0.71"/><ellipse cx="33.7" cy="311.3" rx="1.0" ry="0.4" transform="rotate(63 33.7 311.3)" fill="#40e040" opacity="0.66"/><ellipse cx="102.8" cy="345.3" rx="1.1" ry="0.7" transform="rotate(133 102.8 345.3)" fill="#30ff30" opacity="0.85"/><ellipse cx="64.3" cy="335.5" rx="1.1" ry="0.6" transform="rotate(12 64.3 335.5)" fill="#20d020" opacity="0.77"/><ellipse cx="98.3" cy="363.2" rx="1.3" ry="0.6" transform="rotate(91 98.3 363.2)" fill="#18b018" opacity="0.85"/><ellipse cx="104.8" cy="358.6" rx="0.8" ry="0.4" transform="rotate(175 104.8 358.6)" fill="#40e040" opacity="0.71"/><ellipse cx="13.9" cy="358.0" rx="0.8" ry="0.5" transform="rotate(14 13.9 358.0)" fill="#20d020" opacity="0.58"/><ellipse cx="20.8" cy="314.4" rx="1.0" ry="0.6" transform="rotate(75 20.8 314.4)" fill="#20d020" opacity="0.94"/><ellipse cx="93.8" cy="343.3" rx="1.2" ry="0.5" transform="rotate(121 93.8 343.3)" fill="#40e040" opacity="0.58"/><ellipse cx="49.6" cy="327.1" rx="0.8" ry="0.4" transform="rotate(106 49.6 327.1)" fill="#30ff30" opacity="0.92"/><ellipse cx="60.1" cy="334.8" rx="1.4" ry="0.5" transform="rotate(89 60.1 334.8)" fill="#20d020" opacity="0.57"/><ellipse cx="81.3" cy="350.4" rx="0.7" ry="0.3" transform="rotate(145 81.3 350.4)" fill="#30ff30" opacity="0.76"/><ellipse cx="103.1" cy="315.3" rx="1.0" ry="0.5" transform="rotate(16 103.1 315.3)" fill="#30ff30" opacity="0.86"/><ellipse cx="18.5" cy="338.5" rx="1.0" ry="0.6" transform="rotate(57 18.5 338.5)" fill="#40e040" opacity="0.56"/><ellipse cx="19.6" cy="331.2" rx="1.2" ry="0.6" transform="rotate(86 19.6 331.2)" fill="#18b018" opacity="0.67"/><ellipse cx="3.5" cy="351.6" rx="1.4" ry="0.7" transform="rotate(170 3.5 351.6)" fill="#18b018" opacity="0.89"/><ellipse cx="10.4" cy="353.2" rx="0.8" ry="0.4" transform="rotate(178 10.4 353.2)" fill="#30ff30" opacity="1.00"/><ellipse cx="42.9" cy="319.4" rx="0.8" ry="0.4" transform="rotate(109 42.9 319.4)" fill="#30ff30" opacity="0.72"/><ellipse cx="90.2" cy="312.8" rx="1.3" ry="0.6" transform="rotate(6 90.2 312.8)" fill="#18b018" opacity="0.72"/><ellipse cx="30.9" cy="319.6" rx="1.1" ry="0.5" transform="rotate(48 30.9 319.6)" fill="#30ff30" opacity="0.56"/><ellipse cx="43.0" cy="349.2" rx="0.8" ry="0.4" transform="rotate(118 43.0 349.2)" fill="#30ff30" opacity="0.65"/><ellipse cx="62.3" cy="338.2" rx="1.0" ry="0.7" transform="rotate(64 62.3 338.2)" fill="#20d020" opacity="0.92"/><ellipse cx="99.2" cy="328.2" rx="1.1" ry="0.5" transform="rotate(99 99.2 328.2)" fill="#20d020" opacity="0.82"/><ellipse cx="38.1" cy="317.4" rx="1.1" ry="0.7" transform="rotate(91 38.1 317.4)" fill="#18b018" opacity="0.61"/><ellipse cx="26.9" cy="329.2" rx="0.7" ry="0.3" transform="rotate(120 26.9 329.2)" fill="#40e040" opacity="0.98"/><ellipse cx="41.1" cy="368.6" rx="1.3" ry="0.6" transform="rotate(157 41.1 368.6)" fill="#18b018" opacity="0.82"/><ellipse cx="13.3" cy="331.8" rx="0.9" ry="0.4" transform="rotate(139 13.3 331.8)" fill="#30ff30" opacity="0.90"/><ellipse cx="99.5" cy="351.1" rx="0.7" ry="0.5" transform="rotate(112 99.5 351.1)" fill="#18b018" opacity="0.57"/><ellipse cx="61.0" cy="353.4" rx="1.1" ry="0.6" transform="rotate(141 61.0 353.4)" fill="#30ff30" opacity="0.69"/><ellipse cx="22.3" cy="315.1" rx="0.9" ry="0.4" transform="rotate(83 22.3 315.1)" fill="#30ff30" opacity="0.70"/><ellipse cx="56.3" cy="350.3" rx="0.9" ry="0.4" transform="rotate(28 56.3 350.3)" fill="#40e040" opacity="0.66"/><ellipse cx="22.2" cy="292.3" rx="1.3" ry="0.5" transform="rotate(93 22.2 292.3)" fill="#18b018" opacity="0.75"/><ellipse cx="60.5" cy="316.4" rx="0.9" ry="0.4" transform="rotate(64 60.5 316.4)" fill="#18b018" opacity="0.85"/><ellipse cx="67.6" cy="316.2" rx="1.2" ry="0.5" transform="rotate(77 67.6 316.2)" fill="#40e040" opacity="0.98"/><ellipse cx="95.9" cy="303.1" rx="1.0" ry="0.7" transform="rotate(62 95.9 303.1)" fill="#30ff30" opacity="0.63"/><ellipse cx="46.7" cy="367.6" rx="1.5" ry="0.7" transform="rotate(61 46.7 367.6)" fill="#18b018" opacity="0.88"/><ellipse cx="104.5" cy="360.8" rx="1.2" ry="0.7" transform="rotate(15 104.5 360.8)" fill="#30ff30" opacity="0.65"/><ellipse cx="67.5" cy="369.3" rx="0.8" ry="0.3" transform="rotate(63 67.5 369.3)" fill="#30ff30" opacity="0.59"/><ellipse cx="48.7" cy="318.3" rx="0.7" ry="0.3" transform="rotate(159 48.7 318.3)" fill="#18b018" opacity="0.96"/><ellipse cx="36.9" cy="336.4" rx="0.6" ry="0.3" transform="rotate(28 36.9 336.4)" fill="#20d020" opacity="0.86"/><ellipse cx="46.7" cy="355.4" rx="0.9" ry="0.4" transform="rotate(10 46.7 355.4)" fill="#40e040" opacity="0.63"/><ellipse cx="75.9" cy="351.9" rx="1.1" ry="0.6" transform="rotate(88 75.9 351.9)" fill="#18b018" opacity="0.66"/><ellipse cx="91.5" cy="356.4" rx="0.7" ry="0.3" transform="rotate(86 91.5 356.4)" fill="#30ff30" opacity="0.56"/><ellipse cx="75.5" cy="329.5" rx="1.2" ry="0.5" transform="rotate(0 75.5 329.5)" fill="#40e040" opacity="0.57"/><ellipse cx="76.0" cy="333.1" rx="0.8" ry="0.4" transform="rotate(14 76.0 333.1)" fill="#40e040" opacity="0.62"/><ellipse cx="18.7" cy="332.3" rx="1.2" ry="0.6" transform="rotate(47 18.7 332.3)" fill="#30ff30" opacity="0.58"/><ellipse cx="37.8" cy="311.6" rx="1.1" ry="0.5" transform="rotate(124 37.8 311.6)" fill="#40e040" opacity="0.94"/><ellipse cx="16.9" cy="329.8" rx="1.2" ry="0.6" transform="rotate(131 16.9 329.8)" fill="#18b018" opacity="0.85"/><ellipse cx="109.8" cy="324.0" rx="0.6" ry="0.4" transform="rotate(116 109.8 324.0)" fill="#20d020" opacity="0.88"/><ellipse cx="31.1" cy="334.5" rx="1.0" ry="0.5" transform="rotate(177 31.1 334.5)" fill="#40e040" opacity="0.72"/><ellipse cx="84.5" cy="339.6" rx="1.2" ry="0.6" transform="rotate(32 84.5 339.6)" fill="#18b018" opacity="0.66"/><ellipse cx="6.3" cy="327.1" rx="1.0" ry="0.5" transform="rotate(46 6.3 327.1)" fill="#18b018" opacity="0.87"/><ellipse cx="12.6" cy="310.4" rx="0.6" ry="0.3" transform="rotate(35 12.6 310.4)" fill="#20d020" opacity="0.85"/><ellipse cx="73.2" cy="332.5" rx="1.0" ry="0.4" transform="rotate(58 73.2 332.5)" fill="#20d020" opacity="0.68"/><ellipse cx="100.6" cy="315.6" rx="1.4" ry="0.5" transform="rotate(160 100.6 315.6)" fill="#18b018" opacity="1.00"/><ellipse cx="23.7" cy="360.6" rx="0.6" ry="0.3" transform="rotate(156 23.7 360.6)" fill="#40e040" opacity="0.76"/><ellipse cx="27.5" cy="333.0" rx="1.1" ry="0.5" transform="rotate(90 27.5 333.0)" fill="#40e040" opacity="0.64"/><ellipse cx="12.1" cy="362.1" rx="1.1" ry="0.6" transform="rotate(36 12.1 362.1)" fill="#30ff30" opacity="0.85"/><ellipse cx="1.1" cy="312.1" rx="1.0" ry="0.6" transform="rotate(175 1.1 312.1)" fill="#18b018" opacity="0.84"/><ellipse cx="14.2" cy="312.2" rx="0.8" ry="0.4" transform="rotate(8 14.2 312.2)" fill="#40e040" opacity="0.76"/><ellipse cx="12.9" cy="348.3" rx="0.8" ry="0.4" transform="rotate(67 12.9 348.3)" fill="#40e040" opacity="0.95"/><ellipse cx="32.7" cy="313.7" rx="1.1" ry="0.6" transform="rotate(22 32.7 313.7)" fill="#40e040" opacity="0.83"/><ellipse cx="104.0" cy="314.1" rx="1.0" ry="0.5" transform="rotate(19 104.0 314.1)" fill="#40e040" opacity="0.77"/><ellipse cx="61.7" cy="362.9" rx="0.6" ry="0.3" transform="rotate(114 61.7 362.9)" fill="#20d020" opacity="0.69"/><ellipse cx="14.6" cy="329.2" rx="0.9" ry="0.6" transform="rotate(52 14.6 329.2)" fill="#30ff30" opacity="0.73"/><ellipse cx="72.2" cy="324.6" rx="0.9" ry="0.3" transform="rotate(60 72.2 324.6)" fill="#40e040" opacity="0.90"/><ellipse cx="50.9" cy="274.2" rx="0.8" ry="0.4" transform="rotate(46 50.9 274.2)" fill="#18b018" opacity="0.77"/><ellipse cx="7.3" cy="368.5" rx="1.6" ry="0.7" transform="rotate(130 7.3 368.5)" fill="#18b018" opacity="0.87"/><ellipse cx="53.8" cy="361.9" rx="1.1" ry="0.6" transform="rotate(104 53.8 361.9)" fill="#30ff30" opacity="0.84"/><ellipse cx="51.0" cy="355.9" rx="1.1" ry="0.7" transform="rotate(78 51.0 355.9)" fill="#40e040" opacity="0.94"/><ellipse cx="93.8" cy="366.5" rx="1.2" ry="0.5" transform="rotate(151 93.8 366.5)" fill="#40e040" opacity="0.83"/><ellipse cx="59.1" cy="343.6" rx="0.8" ry="0.3" transform="rotate(48 59.1 343.6)" fill="#18b018" opacity="0.57"/><ellipse cx="17.9" cy="351.5" rx="1.2" ry="0.6" transform="rotate(123 17.9 351.5)" fill="#30ff30" opacity="0.90"/><ellipse cx="19.2" cy="285.2" rx="0.9" ry="0.5" transform="rotate(21 19.2 285.2)" fill="#40e040" opacity="0.83"/><ellipse cx="1.4" cy="340.1" rx="1.1" ry="0.5" transform="rotate(102 1.4 340.1)" fill="#40e040" opacity="0.57"/><ellipse cx="78.3" cy="319.3" rx="0.8" ry="0.4" transform="rotate(110 78.3 319.3)" fill="#18b018" opacity="0.98"/><ellipse cx="26.1" cy="330.2" rx="1.1" ry="0.6" transform="rotate(36 26.1 330.2)" fill="#30ff30" opacity="0.85"/><ellipse cx="19.2" cy="368.0" rx="1.1" ry="0.7" transform="rotate(152 19.2 368.0)" fill="#30ff30" opacity="0.97"/><ellipse cx="11.2" cy="305.1" rx="1.1" ry="0.4" transform="rotate(55 11.2 305.1)" fill="#18b018" opacity="0.67"/><ellipse cx="66.1" cy="306.1" rx="1.3" ry="0.7" transform="rotate(179 66.1 306.1)" fill="#40e040" opacity="0.57"/><ellipse cx="88.3" cy="333.6" rx="0.9" ry="0.5" transform="rotate(38 88.3 333.6)" fill="#40e040" opacity="0.94"/><ellipse cx="3.9" cy="305.2" rx="0.7" ry="0.4" transform="rotate(176 3.9 305.2)" fill="#40e040" opacity="0.58"/><ellipse cx="79.9" cy="347.1" rx="1.1" ry="0.6" transform="rotate(180 79.9 347.1)" fill="#20d020" opacity="0.94"/><ellipse cx="43.1" cy="317.0" rx="1.3" ry="0.6" transform="rotate(4 43.1 317.0)" fill="#20d020" opacity="0.96"/><ellipse cx="55.7" cy="309.4" rx="1.0" ry="0.5" transform="rotate(103 55.7 309.4)" fill="#40e040" opacity="0.99"/><ellipse cx="71.0" cy="305.9" rx="0.7" ry="0.4" transform="rotate(89 71.0 305.9)" fill="#40e040" opacity="0.90"/><ellipse cx="31.0" cy="347.6" rx="1.4" ry="0.7" transform="rotate(77 31.0 347.6)" fill="#40e040" opacity="0.84"/><ellipse cx="68.1" cy="343.8" rx="1.0" ry="0.5" transform="rotate(152 68.1 343.8)" fill="#20d020" opacity="0.75"/><ellipse cx="11.8" cy="303.3" rx="1.4" ry="0.7" transform="rotate(12 11.8 303.3)" fill="#18b018" opacity="0.59"/><ellipse cx="45.0" cy="331.2" rx="1.3" ry="0.8" transform="rotate(161 45.0 331.2)" fill="#30ff30" opacity="0.56"/><ellipse cx="8.7" cy="351.6" rx="0.8" ry="0.4" transform="rotate(87 8.7 351.6)" fill="#18b018" opacity="0.79"/><ellipse cx="69.7" cy="312.6" rx="1.6" ry="0.6" transform="rotate(27 69.7 312.6)" fill="#18b018" opacity="0.96"/><ellipse cx="77.2" cy="315.9" rx="0.8" ry="0.5" transform="rotate(24 77.2 315.9)" fill="#20d020" opacity="0.96"/><ellipse cx="61.0" cy="366.3" rx="0.6" ry="0.3" transform="rotate(151 61.0 366.3)" fill="#20d020" opacity="0.99"/><ellipse cx="63.7" cy="328.5" rx="0.7" ry="0.3" transform="rotate(83 63.7 328.5)" fill="#30ff30" opacity="0.96"/><ellipse cx="54.8" cy="311.7" rx="0.9" ry="0.4" transform="rotate(83 54.8 311.7)" fill="#18b018" opacity="0.84"/><ellipse cx="65.7" cy="358.6" rx="1.4" ry="0.7" transform="rotate(101 65.7 358.6)" fill="#18b018" opacity="0.95"/><ellipse cx="69.2" cy="372.9" rx="1.1" ry="0.5" transform="rotate(117 69.2 372.9)" fill="#40e040" opacity="0.60"/><ellipse cx="79.3" cy="347.4" rx="0.9" ry="0.6" transform="rotate(25 79.3 347.4)" fill="#40e040" opacity="0.80"/><ellipse cx="32.2" cy="320.5" rx="0.6" ry="0.4" transform="rotate(7 32.2 320.5)" fill="#20d020" opacity="0.96"/><ellipse cx="90.9" cy="342.8" rx="0.8" ry="0.4" transform="rotate(153 90.9 342.8)" fill="#30ff30" opacity="0.85"/><ellipse cx="58.1" cy="317.3" rx="1.4" ry="0.8" transform="rotate(169 58.1 317.3)" fill="#40e040" opacity="0.99"/><ellipse cx="104.2" cy="297.4" rx="0.6" ry="0.4" transform="rotate(36 104.2 297.4)" fill="#30ff30" opacity="1.00"/><ellipse cx="7.6" cy="369.7" rx="0.7" ry="0.4" transform="rotate(128 7.6 369.7)" fill="#30ff30" opacity="0.88"/><ellipse cx="42.1" cy="292.9" rx="0.9" ry="0.6" transform="rotate(38 42.1 292.9)" fill="#30ff30" opacity="0.67"/><ellipse cx="70.1" cy="347.9" rx="0.5" ry="0.3" transform="rotate(100 70.1 347.9)" fill="#30ff30" opacity="0.72"/><ellipse cx="103.0" cy="362.8" rx="0.9" ry="0.5" transform="rotate(129 103.0 362.8)" fill="#20d020" opacity="0.58"/><ellipse cx="83.0" cy="299.0" rx="0.7" ry="0.4" transform="rotate(134 83.0 299.0)" fill="#40e040" opacity="0.85"/><ellipse cx="60.3" cy="314.8" rx="0.9" ry="0.4" transform="rotate(41 60.3 314.8)" fill="#18b018" opacity="0.91"/><ellipse cx="31.0" cy="302.8" rx="0.9" ry="0.4" transform="rotate(99 31.0 302.8)" fill="#30ff30" opacity="0.70"/><ellipse cx="44.0" cy="312.5" rx="0.8" ry="0.3" transform="rotate(178 44.0 312.5)" fill="#18b018" opacity="0.60"/><ellipse cx="17.5" cy="317.8" rx="1.4" ry="0.8" transform="rotate(92 17.5 317.8)" fill="#20d020" opacity="0.85"/><ellipse cx="31.7" cy="362.2" rx="0.8" ry="0.5" transform="rotate(41 31.7 362.2)" fill="#20d020" opacity="0.99"/><ellipse cx="67.5" cy="343.0" rx="0.8" ry="0.3" transform="rotate(102 67.5 343.0)" fill="#20d020" opacity="0.95"/><ellipse cx="8.8" cy="345.9" rx="1.0" ry="0.6" transform="rotate(142 8.8 345.9)" fill="#40e040" opacity="0.56"/><ellipse cx="88.2" cy="368.9" rx="1.2" ry="0.7" transform="rotate(29 88.2 368.9)" fill="#40e040" opacity="0.56"/><ellipse cx="63.0" cy="353.0" rx="0.7" ry="0.4" transform="rotate(171 63.0 353.0)" fill="#40e040" opacity="0.61"/><ellipse cx="90.3" cy="338.2" rx="1.7" ry="0.7" transform="rotate(157 90.3 338.2)" fill="#18b018" opacity="0.85"/><ellipse cx="40.8" cy="348.5" rx="1.3" ry="0.6" transform="rotate(140 40.8 348.5)" fill="#30ff30" opacity="0.63"/><ellipse cx="2.0" cy="313.6" rx="0.7" ry="0.4" transform="rotate(80 2.0 313.6)" fill="#18b018" opacity="0.61"/><ellipse cx="72.2" cy="348.6" rx="1.4" ry="0.7" transform="rotate(114 72.2 348.6)" fill="#30ff30" opacity="0.64"/><ellipse cx="8.2" cy="319.6" rx="0.9" ry="0.5" transform="rotate(164 8.2 319.6)" fill="#30ff30" opacity="0.60"/><ellipse cx="65.1" cy="337.0" rx="1.1" ry="0.7" transform="rotate(95 65.1 337.0)" fill="#30ff30" opacity="0.74"/><ellipse cx="9.4" cy="356.8" rx="1.2" ry="0.6" transform="rotate(74 9.4 356.8)" fill="#30ff30" opacity="0.64"/><ellipse cx="9.3" cy="312.9" rx="1.4" ry="0.6" transform="rotate(68 9.3 312.9)" fill="#20d020" opacity="0.75"/><ellipse cx="67.2" cy="322.4" rx="0.8" ry="0.4" transform="rotate(160 67.2 322.4)" fill="#40e040" opacity="0.86"/><ellipse cx="59.6" cy="356.9" rx="0.5" ry="0.4" transform="rotate(20 59.6 356.9)" fill="#18b018" opacity="0.59"/><ellipse cx="61.4" cy="338.7" rx="0.6" ry="0.3" transform="rotate(69 61.4 338.7)" fill="#40e040" opacity="0.87"/><ellipse cx="4.1" cy="368.7" rx="0.8" ry="0.4" transform="rotate(89 4.1 368.7)" fill="#18b018" opacity="0.89"/><ellipse cx="54.3" cy="341.3" rx="1.0" ry="0.6" transform="rotate(153 54.3 341.3)" fill="#18b018" opacity="0.71"/><ellipse cx="75.9" cy="333.8" rx="0.7" ry="0.4" transform="rotate(24 75.9 333.8)" fill="#40e040" opacity="0.95"/><ellipse cx="25.6" cy="350.6" rx="1.3" ry="0.6" transform="rotate(121 25.6 350.6)" fill="#18b018" opacity="0.55"/><ellipse cx="28.7" cy="364.7" rx="0.9" ry="0.4" transform="rotate(46 28.7 364.7)" fill="#30ff30" opacity="0.99"/><ellipse cx="88.4" cy="344.5" rx="1.1" ry="0.5" transform="rotate(61 88.4 344.5)" fill="#20d020" opacity="0.93"/><ellipse cx="97.0" cy="321.9" rx="1.1" ry="0.6" transform="rotate(134 97.0 321.9)" fill="#40e040" opacity="0.98"/><ellipse cx="62.4" cy="308.4" rx="1.1" ry="0.5" transform="rotate(5 62.4 308.4)" fill="#20d020" opacity="0.59"/><ellipse cx="47.9" cy="328.5" rx="1.0" ry="0.6" transform="rotate(74 47.9 328.5)" fill="#40e040" opacity="0.70"/><ellipse cx="66.0" cy="372.1" rx="0.7" ry="0.3" transform="rotate(131 66.0 372.1)" fill="#30ff30" opacity="0.66"/><ellipse cx="79.6" cy="352.6" rx="1.0" ry="0.5" transform="rotate(172 79.6 352.6)" fill="#40e040" opacity="0.62"/><ellipse cx="3.7" cy="336.6" rx="1.2" ry="0.5" transform="rotate(28 3.7 336.6)" fill="#40e040" opacity="0.92"/><ellipse cx="35.7" cy="297.8" rx="1.1" ry="0.4" transform="rotate(11 35.7 297.8)" fill="#40e040" opacity="0.65"/><ellipse cx="78.0" cy="309.5" rx="0.7" ry="0.3" transform="rotate(18 78.0 309.5)" fill="#18b018" opacity="0.93"/><ellipse cx="32.1" cy="288.8" rx="1.4" ry="0.6" transform="rotate(75 32.1 288.8)" fill="#20d020" opacity="0.78"/><ellipse cx="95.9" cy="322.7" rx="1.1" ry="0.5" transform="rotate(39 95.9 322.7)" fill="#18b018" opacity="0.99"/><ellipse cx="17.0" cy="357.9" rx="1.2" ry="0.6" transform="rotate(38 17.0 357.9)" fill="#20d020" opacity="0.72"/><ellipse cx="46.8" cy="275.6" rx="1.1" ry="0.6" transform="rotate(68 46.8 275.6)" fill="#30ff30" opacity="0.65"/><ellipse cx="104.5" cy="372.6" rx="0.9" ry="0.4" transform="rotate(109 104.5 372.6)" fill="#40e040" opacity="0.92"/><ellipse cx="34.0" cy="322.7" rx="1.1" ry="0.6" transform="rotate(147 34.0 322.7)" fill="#40e040" opacity="0.70"/><ellipse cx="39.3" cy="333.5" rx="1.2" ry="0.6" transform="rotate(143 39.3 333.5)" fill="#18b018" opacity="0.71"/><ellipse cx="55.2" cy="321.2" rx="0.5" ry="0.2" transform="rotate(45 55.2 321.2)" fill="#40e040" opacity="0.65"/><ellipse cx="71.3" cy="346.8" rx="1.1" ry="0.4" transform="rotate(120 71.3 346.8)" fill="#18b018" opacity="0.71"/><ellipse cx="82.2" cy="318.4" rx="0.9" ry="0.6" transform="rotate(112 82.2 318.4)" fill="#18b018" opacity="0.86"/><ellipse cx="66.5" cy="361.1" rx="1.2" ry="0.7" transform="rotate(4 66.5 361.1)" fill="#30ff30" opacity="0.79"/><ellipse cx="36.5" cy="306.8" rx="0.7" ry="0.4" transform="rotate(159 36.5 306.8)" fill="#18b018" opacity="0.66"/><ellipse cx="42.2" cy="367.3" rx="0.9" ry="0.6" transform="rotate(6 42.2 367.3)" fill="#40e040" opacity="0.60"/><ellipse cx="63.2" cy="303.3" rx="1.2" ry="0.5" transform="rotate(27 63.2 303.3)" fill="#30ff30" opacity="0.68"/><ellipse cx="38.4" cy="325.7" rx="0.8" ry="0.3" transform="rotate(76 38.4 325.7)" fill="#40e040" opacity="0.58"/><ellipse cx="84.0" cy="344.4" rx="0.5" ry="0.4" transform="rotate(98 84.0 344.4)" fill="#e07000" opacity="0.97"/><ellipse cx="88.9" cy="359.9" rx="0.6" ry="0.4" transform="rotate(37 88.9 359.9)" fill="#ff9000" opacity="0.96"/><ellipse cx="66.1" cy="346.5" rx="0.6" ry="0.5" transform="rotate(146 66.1 346.5)" fill="#d0d000" opacity="0.91"/><ellipse cx="84.9" cy="354.1" rx="0.8" ry="0.6" transform="rotate(8 84.9 354.1)" fill="#d0d000" opacity="0.71"/><ellipse cx="88.6" cy="355.6" rx="0.7" ry="0.7" transform="rotate(44 88.6 355.6)" fill="#c0e000" opacity="0.83"/><ellipse cx="82.8" cy="359.3" rx="0.9" ry="0.6" transform="rotate(148 82.8 359.3)" fill="#d0d000" opacity="0.72"/><ellipse cx="34.4" cy="347.3" rx="0.5" ry="0.4" transform="rotate(34 34.4 347.3)" fill="#ffd000" opacity="0.63"/><ellipse cx="60.9" cy="365.4" rx="0.9" ry="0.7" transform="rotate(159 60.9 365.4)" fill="#e07000" opacity="0.65"/><ellipse cx="63.3" cy="358.5" rx="0.7" ry="0.5" transform="rotate(86 63.3 358.5)" fill="#ffd000" opacity="0.94"/><ellipse cx="93.0" cy="376.3" rx="0.9" ry="0.8" transform="rotate(73 93.0 376.3)" fill="#ffb000" opacity="0.67"/><ellipse cx="18.1" cy="351.2" rx="0.7" ry="0.7" transform="rotate(31 18.1 351.2)" fill="#e07000" opacity="0.75"/><ellipse cx="83.4" cy="354.6" rx="0.9" ry="0.9" transform="rotate(170 83.4 354.6)" fill="#ffe000" opacity="0.72"/><ellipse cx="24.5" cy="354.8" rx="0.7" ry="0.5" transform="rotate(56 24.5 354.8)" fill="#c0e000" opacity="0.61"/><ellipse cx="37.2" cy="363.9" rx="1.0" ry="0.7" transform="rotate(136 37.2 363.9)" fill="#c0e000" opacity="0.65"/><ellipse cx="12.1" cy="351.7" rx="0.8" ry="0.8" transform="rotate(23 12.1 351.7)" fill="#ff9000" opacity="0.85"/><ellipse cx="43.8" cy="352.2" rx="0.7" ry="0.6" transform="rotate(81 43.8 352.2)" fill="#ffb000" opacity="0.76"/><ellipse cx="32.8" cy="363.6" rx="0.7" ry="0.7" transform="rotate(96 32.8 363.6)" fill="#ffb000" opacity="0.98"/><ellipse cx="73.4" cy="360.5" rx="0.5" ry="0.3" transform="rotate(102 73.4 360.5)" fill="#d0d000" opacity="0.73"/><ellipse cx="7.0" cy="338.9" rx="0.5" ry="0.6" transform="rotate(140 7.0 338.9)" fill="#d0d000" opacity="0.68"/><ellipse cx="69.1" cy="360.0" rx="0.6" ry="0.5" transform="rotate(126 69.1 360.0)" fill="#ff9000" opacity="0.96"/><ellipse cx="52.2" cy="374.5" rx="0.7" ry="0.5" transform="rotate(118 52.2 374.5)" fill="#e07000" opacity="0.90"/><ellipse cx="70.2" cy="338.5" rx="0.8" ry="0.7" transform="rotate(62 70.2 338.5)" fill="#c0e000" opacity="0.73"/><ellipse cx="37.4" cy="342.1" rx="1.1" ry="0.8" transform="rotate(127 37.4 342.1)" fill="#ff9000" opacity="0.92"/><ellipse cx="85.6" cy="340.8" rx="0.4" ry="0.4" transform="rotate(59 85.6 340.8)" fill="#d0d000" opacity="0.90"/><ellipse cx="50.5" cy="350.0" rx="0.8" ry="0.7" transform="rotate(75 50.5 350.0)" fill="#ffd000" opacity="0.98"/><ellipse cx="29.2" cy="331.9" rx="0.7" ry="0.9" transform="rotate(129 29.2 331.9)" fill="#ffe000" opacity="0.81"/><ellipse cx="23.7" cy="347.2" rx="0.8" ry="0.6" transform="rotate(150 23.7 347.2)" fill="#ff9000" opacity="0.93"/><ellipse cx="71.8" cy="356.2" rx="0.9" ry="0.6" transform="rotate(27 71.8 356.2)" fill="#ff9000" opacity="0.96"/><ellipse cx="87.1" cy="360.1" rx="0.4" ry="0.5" transform="rotate(120 87.1 360.1)" fill="#ff9000" opacity="0.83"/><ellipse cx="53.4" cy="358.5" rx="0.5" ry="0.4" transform="rotate(116 53.4 358.5)" fill="#ffd000" opacity="0.58"/><ellipse cx="71.9" cy="345.5" rx="0.6" ry="0.6" transform="rotate(42 71.9 345.5)" fill="#d0d000" opacity="0.92"/><ellipse cx="51.2" cy="374.7" rx="0.5" ry="0.4" transform="rotate(50 51.2 374.7)" fill="#ff9000" opacity="0.64"/><ellipse cx="72.3" cy="328.8" rx="0.7" ry="0.8" transform="rotate(53 72.3 328.8)" fill="#d0d000" opacity="0.80"/><ellipse cx="48.8" cy="347.8" rx="0.7" ry="0.5" transform="rotate(128 48.8 347.8)" fill="#ffe000" opacity="0.68"/><ellipse cx="18.4" cy="345.6" rx="0.7" ry="0.6" transform="rotate(154 18.4 345.6)" fill="#ffd000" opacity="0.76"/><ellipse cx="7.4" cy="352.3" rx="0.4" ry="0.4" transform="rotate(26 7.4 352.3)" fill="#ffb000" opacity="0.55"/><ellipse cx="78.4" cy="348.2" rx="1.1" ry="0.9" transform="rotate(164 78.4 348.2)" fill="#ffb000" opacity="0.78"/><ellipse cx="25.9" cy="345.6" rx="0.8" ry="0.8" transform="rotate(82 25.9 345.6)" fill="#ffe000" opacity="0.91"/><ellipse cx="58.4" cy="338.4" rx="1.0" ry="0.7" transform="rotate(106 58.4 338.4)" fill="#c0e000" opacity="0.67"/><ellipse cx="63.5" cy="354.0" rx="0.6" ry="0.5" transform="rotate(123 63.5 354.0)" fill="#ffd000" opacity="0.61"/><ellipse cx="80.8" cy="366.8" rx="0.8" ry="0.6" transform="rotate(3 80.8 366.8)" fill="#ffb000" opacity="0.67"/><ellipse cx="21.4" cy="328.8" rx="0.6" ry="0.5" transform="rotate(160 21.4 328.8)" fill="#ffd000" opacity="0.89"/><ellipse cx="4.3" cy="347.7" rx="0.7" ry="0.6" transform="rotate(135 4.3 347.7)" fill="#c0e000" opacity="0.73"/><ellipse cx="12.8" cy="364.0" rx="0.9" ry="0.7" transform="rotate(96 12.8 364.0)" fill="#ff9000" opacity="0.78"/><ellipse cx="48.8" cy="346.3" rx="0.9" ry="0.8" transform="rotate(93 48.8 346.3)" fill="#c0e000" opacity="0.80"/><ellipse cx="46.1" cy="334.9" rx="0.8" ry="0.9" transform="rotate(147 46.1 334.9)" fill="#e07000" opacity="0.76"/><ellipse cx="36.2" cy="333.2" rx="0.5" ry="0.4" transform="rotate(72 36.2 333.2)" fill="#ffb000" opacity="0.81"/><ellipse cx="4.3" cy="353.0" rx="0.9" ry="0.7" transform="rotate(11 4.3 353.0)" fill="#ffe000" opacity="0.55"/><ellipse cx="91.9" cy="365.5" rx="0.6" ry="0.5" transform="rotate(164 91.9 365.5)" fill="#ffe000" opacity="0.84"/><ellipse cx="109.1" cy="349.9" rx="1.1" ry="0.9" transform="rotate(39 109.1 349.9)" fill="#c0e000" opacity="0.75"/><ellipse cx="46.9" cy="365.9" rx="0.7" ry="0.6" transform="rotate(149 46.9 365.9)" fill="#ff9000" opacity="0.57"/><ellipse cx="73.2" cy="363.3" rx="1.0" ry="0.8" transform="rotate(162 73.2 363.3)" fill="#ffb000" opacity="0.64"/><ellipse cx="61.6" cy="363.3" rx="0.5" ry="0.4" transform="rotate(45 61.6 363.3)" fill="#ffb000" opacity="0.58"/><ellipse cx="43.2" cy="354.8" rx="0.6" ry="0.5" transform="rotate(133 43.2 354.8)" fill="#d0d000" opacity="0.55"/><ellipse cx="68.1" cy="352.3" rx="0.8" ry="0.7" transform="rotate(113 68.1 352.3)" fill="#ffe000" opacity="0.81"/><ellipse cx="77.7" cy="341.6" rx="0.6" ry="0.4" transform="rotate(107 77.7 341.6)" fill="#c0e000" opacity="0.95"/><ellipse cx="103.5" cy="357.6" rx="0.8" ry="0.8" transform="rotate(56 103.5 357.6)" fill="#ffb000" opacity="0.77"/><ellipse cx="72.9" cy="347.9" rx="0.6" ry="0.5" transform="rotate(146 72.9 347.9)" fill="#ffd000" opacity="0.67"/><ellipse cx="7.8" cy="370.3" rx="0.7" ry="0.5" transform="rotate(115 7.8 370.3)" fill="#e07000" opacity="0.60"/><ellipse cx="30.9" cy="333.8" rx="1.1" ry="0.8" transform="rotate(78 30.9 333.8)" fill="#c0e000" opacity="0.91"/><ellipse cx="67.3" cy="368.0" rx="0.5" ry="0.4" transform="rotate(10 67.3 368.0)" fill="#d0d000" opacity="0.68"/><ellipse cx="52.3" cy="336.7" rx="0.9" ry="0.9" transform="rotate(25 52.3 336.7)" fill="#e07000" opacity="0.79"/><ellipse cx="62.0" cy="344.3" rx="0.5" ry="0.4" transform="rotate(13 62.0 344.3)" fill="#e07000" opacity="0.58"/><ellipse cx="22.6" cy="348.3" rx="0.6" ry="0.4" transform="rotate(66 22.6 348.3)" fill="#e07000" opacity="0.67"/><ellipse cx="93.5" cy="357.4" rx="0.7" ry="0.7" transform="rotate(94 93.5 357.4)" fill="#c0e000" opacity="0.77"/><ellipse cx="15.1" cy="354.5" rx="0.6" ry="0.5" transform="rotate(174 15.1 354.5)" fill="#ffb000" opacity="0.64"/><ellipse cx="39.7" cy="374.8" rx="0.8" ry="0.7" transform="rotate(33 39.7 374.8)" fill="#ffd000" opacity="0.81"/><ellipse cx="97.4" cy="364.2" rx="1.1" ry="0.9" transform="rotate(85 97.4 364.2)" fill="#d0d000" opacity="0.84"/><ellipse cx="86.6" cy="365.4" rx="1.1" ry="0.8" transform="rotate(75 86.6 365.4)" fill="#c0e000" opacity="0.59"/><ellipse cx="14.4" cy="363.5" rx="0.6" ry="0.7" transform="rotate(76 14.4 363.5)" fill="#ffb000" opacity="0.77"/><ellipse cx="62.7" cy="349.2" rx="0.5" ry="0.3" transform="rotate(131 62.7 349.2)" fill="#d0d000" opacity="0.65"/><ellipse cx="22.4" cy="341.5" rx="0.6" ry="0.6" transform="rotate(143 22.4 341.5)" fill="#ffe000" opacity="0.61"/><ellipse cx="20.4" cy="344.9" rx="0.5" ry="0.4" transform="rotate(12 20.4 344.9)" fill="#ffd000" opacity="0.95"/><ellipse cx="44.3" cy="336.3" rx="0.7" ry="0.6" transform="rotate(143 44.3 336.3)" fill="#ffd000" opacity="0.92"/><ellipse cx="53.4" cy="340.8" rx="0.8" ry="0.6" transform="rotate(158 53.4 340.8)" fill="#ffb000" opacity="0.83"/><ellipse cx="94.8" cy="348.9" rx="0.4" ry="0.4" transform="rotate(33 94.8 348.9)" fill="#ffd000" opacity="0.67"/><ellipse cx="100.6" cy="353.9" rx="0.7" ry="0.8" transform="rotate(11 100.6 353.9)" fill="#ffe000" opacity="0.77"/><ellipse cx="92.4" cy="352.7" rx="1.1" ry="0.7" transform="rotate(60 92.4 352.7)" fill="#ffe000" opacity="0.60"/><ellipse cx="19.7" cy="352.3" rx="0.8" ry="0.8" transform="rotate(164 19.7 352.3)" fill="#ffe000" opacity="0.57"/><ellipse cx="105.2" cy="364.3" rx="0.6" ry="0.4" transform="rotate(42 105.2 364.3)" fill="#c0e000" opacity="0.95"/><ellipse cx="61.2" cy="350.0" rx="0.8" ry="0.6" transform="rotate(29 61.2 350.0)" fill="#ff9000" opacity="0.84"/><ellipse cx="58.4" cy="336.8" rx="0.5" ry="0.5" transform="rotate(113 58.4 336.8)" fill="#ff9000" opacity="0.70"/><ellipse cx="69.7" cy="339.2" rx="0.7" ry="0.6" transform="rotate(113 69.7 339.2)" fill="#ff9000" opacity="0.89"/><ellipse cx="21.5" cy="338.5" rx="0.6" ry="0.6" transform="rotate(10 21.5 338.5)" fill="#e07000" opacity="0.75"/><ellipse cx="1.4" cy="361.4" rx="0.5" ry="0.3" transform="rotate(72 1.4 361.4)" fill="#ffe000" opacity="0.59"/><ellipse cx="39.9" cy="334.7" rx="0.9" ry="0.9" transform="rotate(170 39.9 334.7)" fill="#c0e000" opacity="0.59"/><ellipse cx="89.2" cy="350.6" rx="0.7" ry="0.6" transform="rotate(49 89.2 350.6)" fill="#c0e000" opacity="0.72"/><ellipse cx="23.8" cy="359.5" rx="0.7" ry="0.6" transform="rotate(24 23.8 359.5)" fill="#e07000" opacity="0.91"/><ellipse cx="80.4" cy="351.8" rx="0.7" ry="0.6" transform="rotate(10 80.4 351.8)" fill="#ff9000" opacity="0.91"/><ellipse cx="82.2" cy="352.7" rx="1.0" ry="0.9" transform="rotate(159 82.2 352.7)" fill="#ffd000" opacity="0.65"/><ellipse cx="41.5" cy="351.8" rx="0.7" ry="0.7" transform="rotate(73 41.5 351.8)" fill="#ffd000" opacity="0.59"/><ellipse cx="67.8" cy="350.6" rx="0.5" ry="0.4" transform="rotate(105 67.8 350.6)" fill="#ffb000" opacity="0.99"/><ellipse cx="72.5" cy="341.1" rx="0.8" ry="0.7" transform="rotate(168 72.5 341.1)" fill="#ff9000" opacity="0.89"/><ellipse cx="29.6" cy="346.0" rx="0.6" ry="0.4" transform="rotate(177 29.6 346.0)" fill="#d0d000" opacity="1.00"/><ellipse cx="66.0" cy="345.2" rx="0.6" ry="0.6" transform="rotate(169 66.0 345.2)" fill="#e07000" opacity="0.62"/><ellipse cx="62.8" cy="346.6" rx="1.1" ry="0.9" transform="rotate(63 62.8 346.6)" fill="#ffb000" opacity="0.99"/><ellipse cx="60.7" cy="348.9" rx="0.9" ry="0.8" transform="rotate(63 60.7 348.9)" fill="#ffe000" opacity="0.65"/><ellipse cx="34.7" cy="365.4" rx="0.5" ry="0.5" transform="rotate(144 34.7 365.4)" fill="#ff9000" opacity="0.64"/><ellipse cx="15.2" cy="343.2" rx="0.8" ry="0.8" transform="rotate(87 15.2 343.2)" fill="#c0e000" opacity="0.72"/><ellipse cx="44.8" cy="355.6" rx="0.4" ry="0.4" transform="rotate(95 44.8 355.6)" fill="#ffb000" opacity="0.73"/><ellipse cx="54.7" cy="348.8" rx="0.8" ry="0.8" transform="rotate(168 54.7 348.8)" fill="#d0d000" opacity="0.81"/><ellipse cx="52.8" cy="347.1" rx="0.6" ry="0.5" transform="rotate(150 52.8 347.1)" fill="#c0e000" opacity="0.85"/><ellipse cx="44.6" cy="344.2" rx="0.6" ry="0.6" transform="rotate(113 44.6 344.2)" fill="#c0e000" opacity="0.81"/><ellipse cx="24.7" cy="347.2" rx="1.0" ry="0.9" transform="rotate(71 24.7 347.2)" fill="#ffb000" opacity="0.74"/><ellipse cx="8.6" cy="355.7" rx="0.8" ry="0.5" transform="rotate(20 8.6 355.7)" fill="#ffe000" opacity="0.81"/><ellipse cx="109.9" cy="374.4" rx="0.6" ry="0.5" transform="rotate(173 109.9 374.4)" fill="#ffe000" opacity="0.66"/><ellipse cx="39.4" cy="368.4" rx="0.4" ry="0.3" transform="rotate(46 39.4 368.4)" fill="#d0d000" opacity="0.88"/><ellipse cx="22.0" cy="332.9" rx="0.6" ry="0.4" transform="rotate(88 22.0 332.9)" fill="#ffd000" opacity="0.93"/><ellipse cx="81.1" cy="332.3" rx="0.5" ry="0.4" transform="rotate(3 81.1 332.3)" fill="#ff9000" opacity="0.83"/><ellipse cx="65.8" cy="334.9" rx="0.5" ry="0.4" transform="rotate(29 65.8 334.9)" fill="#c0e000" opacity="0.86"/><ellipse cx="31.1" cy="333.5" rx="0.7" ry="0.7" transform="rotate(89 31.1 333.5)" fill="#d0d000" opacity="0.67"/><ellipse cx="50.0" cy="356.2" rx="0.3" ry="0.3" transform="rotate(50 50.0 356.2)" fill="#ffb000" opacity="0.77"/><ellipse cx="76.2" cy="340.0" rx="0.5" ry="0.6" transform="rotate(118 76.2 340.0)" fill="#ff9000" opacity="0.89"/><ellipse cx="38.8" cy="361.2" rx="0.8" ry="0.7" transform="rotate(179 38.8 361.2)" fill="#ff9000" opacity="0.79"/><ellipse cx="29.7" cy="351.9" rx="0.7" ry="0.5" transform="rotate(67 29.7 351.9)" fill="#ff9000" opacity="0.59"/><ellipse cx="78.0" cy="355.7" rx="0.7" ry="0.6" transform="rotate(54 78.0 355.7)" fill="#ffb000" opacity="0.98"/><ellipse cx="72.2" cy="357.1" rx="0.7" ry="0.6" transform="rotate(58 72.2 357.1)" fill="#ffb000" opacity="0.69"/><ellipse cx="84.9" cy="332.0" rx="0.6" ry="0.6" transform="rotate(59 84.9 332.0)" fill="#ffe000" opacity="0.69"/><ellipse cx="54.2" cy="372.6" rx="0.9" ry="0.7" transform="rotate(57 54.2 372.6)" fill="#ffd000" opacity="0.76"/><ellipse cx="87.1" cy="348.4" rx="0.8" ry="0.6" transform="rotate(26 87.1 348.4)" fill="#ffe000" opacity="0.58"/><ellipse cx="100.1" cy="366.1" rx="0.6" ry="0.5" transform="rotate(59 100.1 366.1)" fill="#ffe000" opacity="0.73"/><ellipse cx="6.4" cy="348.1" rx="0.4" ry="0.5" transform="rotate(141 6.4 348.1)" fill="#e07000" opacity="0.65"/><ellipse cx="32.1" cy="368.7" rx="0.6" ry="0.4" transform="rotate(82 32.1 368.7)" fill="#ffe000" opacity="0.80"/><ellipse cx="81.0" cy="353.9" rx="0.6" ry="0.7" transform="rotate(126 81.0 353.9)" fill="#d0d000" opacity="0.76"/><ellipse cx="69.6" cy="346.1" rx="0.6" ry="0.4" transform="rotate(10 69.6 346.1)" fill="#ffe000" opacity="0.65"/><ellipse cx="34.2" cy="351.3" rx="1.0" ry="0.8" transform="rotate(160 34.2 351.3)" fill="#d0d000" opacity="0.96"/><ellipse cx="2.6" cy="355.1" rx="0.4" ry="0.4" transform="rotate(85 2.6 355.1)" fill="#ff9000" opacity="0.75"/><ellipse cx="104.1" cy="371.6" rx="1.0" ry="0.7" transform="rotate(90 104.1 371.6)" fill="#e07000" opacity="0.96"/><ellipse cx="4.9" cy="353.7" rx="0.9" ry="0.7" transform="rotate(28 4.9 353.7)" fill="#ffd000" opacity="0.91"/><ellipse cx="52.8" cy="335.4" rx="0.7" ry="0.7" transform="rotate(143 52.8 335.4)" fill="#e07000" opacity="0.66"/><ellipse cx="20.1" cy="350.5" rx="0.9" ry="0.6" transform="rotate(79 20.1 350.5)" fill="#ffe000" opacity="0.68"/><ellipse cx="99.7" cy="340.1" rx="0.8" ry="0.8" transform="rotate(33 99.7 340.1)" fill="#ffd000" opacity="0.88"/><ellipse cx="84.3" cy="339.3" rx="0.6" ry="0.5" transform="rotate(110 84.3 339.3)" fill="#c0e000" opacity="1.00"/><ellipse cx="27.8" cy="359.6" rx="0.6" ry="0.6" transform="rotate(140 27.8 359.6)" fill="#ffd000" opacity="0.74"/><ellipse cx="78.3" cy="351.4" rx="0.4" ry="0.3" transform="rotate(103 78.3 351.4)" fill="#ff9000" opacity="0.65"/><ellipse cx="72.5" cy="334.7" rx="0.5" ry="0.6" transform="rotate(90 72.5 334.7)" fill="#ffe000" opacity="0.75"/><ellipse cx="12.5" cy="330.3" rx="0.5" ry="0.4" transform="rotate(81 12.5 330.3)" fill="#e07000" opacity="0.78"/><ellipse cx="65.2" cy="352.3" rx="1.0" ry="0.9" transform="rotate(115 65.2 352.3)" fill="#ffd000" opacity="0.56"/><ellipse cx="25.9" cy="345.2" rx="0.7" ry="0.8" transform="rotate(174 25.9 345.2)" fill="#d0d000" opacity="0.84"/><ellipse cx="28.2" cy="356.4" rx="1.0" ry="0.7" transform="rotate(107 28.2 356.4)" fill="#d0d000" opacity="0.86"/><ellipse cx="46.8" cy="360.9" rx="0.8" ry="0.6" transform="rotate(72 46.8 360.9)" fill="#ffd000" opacity="0.59"/><ellipse cx="59.3" cy="346.0" rx="0.8" ry="1.0" transform="rotate(22 59.3 346.0)" fill="#ff9000" opacity="0.58"/><ellipse cx="30.3" cy="352.1" rx="1.0" ry="0.7" transform="rotate(85 30.3 352.1)" fill="#ff9000" opacity="0.81"/><ellipse cx="83.2" cy="346.6" rx="0.6" ry="0.5" transform="rotate(121 83.2 346.6)" fill="#ffe000" opacity="0.62"/><ellipse cx="55.6" cy="360.6" rx="0.6" ry="0.6" transform="rotate(149 55.6 360.6)" fill="#e07000" opacity="0.62"/><ellipse cx="41.9" cy="366.7" rx="0.7" ry="0.6" transform="rotate(77 41.9 366.7)" fill="#ffe000" opacity="0.77"/><ellipse cx="75.1" cy="349.6" rx="0.5" ry="0.5" transform="rotate(112 75.1 349.6)" fill="#c0e000" opacity="0.92"/><ellipse cx="14.5" cy="336.8" rx="0.8" ry="0.7" transform="rotate(71 14.5 336.8)" fill="#e07000" opacity="0.79"/><ellipse cx="49.1" cy="339.1" rx="0.4" ry="0.4" transform="rotate(55 49.1 339.1)" fill="#ffb000" opacity="0.94"/><ellipse cx="73.1" cy="370.2" rx="1.1" ry="0.7" transform="rotate(46 73.1 370.2)" fill="#ffe000" opacity="0.92"/><ellipse cx="89.0" cy="366.1" rx="1.0" ry="0.7" transform="rotate(114 89.0 366.1)" fill="#ffb000" opacity="0.60"/><ellipse cx="94.3" cy="356.9" rx="0.6" ry="0.4" transform="rotate(126 94.3 356.9)" fill="#ffb000" opacity="0.81"/><ellipse cx="13.0" cy="356.2" rx="0.7" ry="0.6" transform="rotate(100 13.0 356.2)" fill="#ffb000" opacity="0.76"/><ellipse cx="64.3" cy="367.8" rx="0.4" ry="0.4" transform="rotate(85 64.3 367.8)" fill="#c0e000" opacity="0.57"/><ellipse cx="50.7" cy="352.4" rx="0.6" ry="0.6" transform="rotate(102 50.7 352.4)" fill="#ffb000" opacity="0.59"/><ellipse cx="54.5" cy="356.2" rx="0.9" ry="0.6" transform="rotate(141 54.5 356.2)" fill="#ffd000" opacity="0.58"/><ellipse cx="9.9" cy="340.7" rx="0.4" ry="0.4" transform="rotate(36 9.9 340.7)" fill="#ffe000" opacity="0.66"/><ellipse cx="72.0" cy="353.3" rx="0.9" ry="0.6" transform="rotate(1 72.0 353.3)" fill="#ffb000" opacity="0.72"/><ellipse cx="2.4" cy="364.4" rx="0.6" ry="0.7" transform="rotate(132 2.4 364.4)" fill="#c0e000" opacity="0.69"/><ellipse cx="47.9" cy="355.1" rx="0.6" ry="0.4" transform="rotate(7 47.9 355.1)" fill="#ff9000" opacity="0.92"/><ellipse cx="87.0" cy="355.4" rx="0.5" ry="0.3" transform="rotate(178 87.0 355.4)" fill="#e07000" opacity="0.86"/><ellipse cx="72.6" cy="333.5" rx="0.5" ry="0.4" transform="rotate(15 72.6 333.5)" fill="#ffb000" opacity="0.96"/><ellipse cx="94.2" cy="349.6" rx="0.7" ry="0.5" transform="rotate(95 94.2 349.6)" fill="#c0e000" opacity="0.74"/><ellipse cx="46.3" cy="348.7" rx="0.6" ry="0.7" transform="rotate(167 46.3 348.7)" fill="#ff9000" opacity="0.81"/><ellipse cx="44.9" cy="356.0" rx="0.6" ry="0.4" transform="rotate(134 44.9 356.0)" fill="#ff9000" opacity="0.59"/><ellipse cx="1.8" cy="336.5" rx="1.0" ry="0.7" transform="rotate(35 1.8 336.5)" fill="#c0e000" opacity="0.88"/><ellipse cx="8.8" cy="344.7" rx="0.6" ry="0.7" transform="rotate(120 8.8 344.7)" fill="#ffe000" opacity="0.78"/><ellipse cx="30.3" cy="345.1" rx="0.4" ry="0.4" transform="rotate(85 30.3 345.1)" fill="#d0d000" opacity="0.68"/><ellipse cx="56.5" cy="340.0" rx="0.5" ry="0.4" transform="rotate(55 56.5 340.0)" fill="#ffb000" opacity="0.65"/><ellipse cx="23.9" cy="354.6" rx="0.5" ry="0.4" transform="rotate(16 23.9 354.6)" fill="#ffe000" opacity="0.80"/><ellipse cx="46.8" cy="346.8" rx="0.9" ry="0.6" transform="rotate(122 46.8 346.8)" fill="#ff9000" opacity="0.96"/><ellipse cx="43.2" cy="329.9" rx="0.4" ry="0.4" transform="rotate(10 43.2 329.9)" fill="#d0d000" opacity="0.93"/><ellipse cx="72.6" cy="356.5" rx="0.7" ry="0.5" transform="rotate(53 72.6 356.5)" fill="#ffe000" opacity="0.72"/><ellipse cx="84.8" cy="351.0" rx="0.9" ry="0.9" transform="rotate(152 84.8 351.0)" fill="#ffe000" opacity="0.82"/><ellipse cx="85.5" cy="366.0" rx="0.8" ry="0.9" transform="rotate(84 85.5 366.0)" fill="#ff9000" opacity="0.69"/><ellipse cx="99.9" cy="337.9" rx="0.5" ry="0.3" transform="rotate(97 99.9 337.9)" fill="#e07000" opacity="0.76"/><ellipse cx="22.2" cy="346.7" rx="0.9" ry="0.8" transform="rotate(88 22.2 346.7)" fill="#ffd000" opacity="0.67"/><ellipse cx="17.2" cy="358.6" rx="0.5" ry="0.5" transform="rotate(163 17.2 358.6)" fill="#c0e000" opacity="0.65"/><ellipse cx="92.6" cy="339.2" rx="0.7" ry="0.6" transform="rotate(166 92.6 339.2)" fill="#e07000" opacity="0.78"/><ellipse cx="17.8" cy="354.2" rx="1.1" ry="0.9" transform="rotate(123 17.8 354.2)" fill="#e07000" opacity="0.84"/><ellipse cx="91.2" cy="341.2" rx="0.5" ry="0.5" transform="rotate(79 91.2 341.2)" fill="#c0e000" opacity="0.83"/><ellipse cx="5.8" cy="362.6" rx="0.6" ry="0.4" transform="rotate(7 5.8 362.6)" fill="#d0d000" opacity="0.67"/><ellipse cx="61.2" cy="369.8" rx="0.7" ry="0.6" transform="rotate(7 61.2 369.8)" fill="#ffe000" opacity="0.75"/><ellipse cx="50.1" cy="337.0" rx="0.9" ry="0.7" transform="rotate(105 50.1 337.0)" fill="#c0e000" opacity="0.80"/><ellipse cx="94.9" cy="334.5" rx="0.7" ry="0.8" transform="rotate(151 94.9 334.5)" fill="#c0e000" opacity="0.86"/><ellipse cx="76.7" cy="371.6" rx="0.5" ry="0.4" transform="rotate(101 76.7 371.6)" fill="#d0d000" opacity="0.56"/><ellipse cx="20.5" cy="363.2" rx="0.7" ry="0.4" transform="rotate(34 20.5 363.2)" fill="#c0e000" opacity="0.92"/><ellipse cx="73.0" cy="353.2" rx="0.9" ry="0.8" transform="rotate(59 73.0 353.2)" fill="#e07000" opacity="0.64"/><ellipse cx="7.7" cy="352.3" rx="0.8" ry="0.8" transform="rotate(42 7.7 352.3)" fill="#e07000" opacity="0.98"/><ellipse cx="44.1" cy="362.8" rx="0.4" ry="0.4" transform="rotate(97 44.1 362.8)" fill="#e07000" opacity="0.57"/><ellipse cx="14.5" cy="343.7" rx="0.4" ry="0.3" transform="rotate(51 14.5 343.7)" fill="#e07000" opacity="0.87"/><ellipse cx="83.0" cy="355.5" rx="1.1" ry="0.7" transform="rotate(26 83.0 355.5)" fill="#d0d000" opacity="0.89"/><ellipse cx="5.4" cy="347.7" rx="0.6" ry="0.6" transform="rotate(80 5.4 347.7)" fill="#ffe000" opacity="0.80"/><ellipse cx="103.2" cy="350.2" rx="0.5" ry="0.5" transform="rotate(86 103.2 350.2)" fill="#ffd000" opacity="0.56"/><ellipse cx="62.1" cy="340.9" rx="0.7" ry="0.7" transform="rotate(128 62.1 340.9)" fill="#ff9000" opacity="0.58"/><ellipse cx="55.5" cy="358.3" rx="0.9" ry="0.6" transform="rotate(113 55.5 358.3)" fill="#c0e000" opacity="0.59"/><ellipse cx="92.0" cy="367.7" rx="0.6" ry="0.5" transform="rotate(17 92.0 367.7)" fill="#d0d000" opacity="0.84"/><ellipse cx="11.4" cy="363.7" rx="0.7" ry="0.7" transform="rotate(73 11.4 363.7)" fill="#ff9000" opacity="0.74"/><ellipse cx="52.7" cy="359.1" rx="0.4" ry="0.4" transform="rotate(134 52.7 359.1)" fill="#ffe000" opacity="0.82"/><ellipse cx="13.5" cy="352.3" rx="0.7" ry="0.7" transform="rotate(104 13.5 352.3)" fill="#c0e000" opacity="0.87"/><ellipse cx="82.8" cy="341.7" rx="0.9" ry="0.8" transform="rotate(89 82.8 341.7)" fill="#ffd000" opacity="0.69"/><ellipse cx="15.9" cy="353.7" rx="1.0" ry="0.7" transform="rotate(153 15.9 353.7)" fill="#c0e000" opacity="0.71"/><ellipse cx="87.9" cy="340.0" rx="1.0" ry="0.7" transform="rotate(147 87.9 340.0)" fill="#c0e000" opacity="0.97"/><ellipse cx="78.6" cy="354.3" rx="0.5" ry="0.5" transform="rotate(156 78.6 354.3)" fill="#ffd000" opacity="0.63"/><ellipse cx="49.4" cy="354.6" rx="0.9" ry="0.7" transform="rotate(80 49.4 354.6)" fill="#d0d000" opacity="0.87"/><ellipse cx="60.4" cy="352.6" rx="0.4" ry="0.3" transform="rotate(9 60.4 352.6)" fill="#ff9000" opacity="0.93"/><ellipse cx="17.1" cy="366.1" rx="0.5" ry="0.4" transform="rotate(146 17.1 366.1)" fill="#ff9000" opacity="0.71"/><ellipse cx="36.5" cy="358.6" rx="0.8" ry="0.8" transform="rotate(13 36.5 358.6)" fill="#ffd000" opacity="0.85"/><ellipse cx="27.1" cy="360.8" rx="0.5" ry="0.6" transform="rotate(176 27.1 360.8)" fill="#c0e000" opacity="0.55"/><ellipse cx="72.2" cy="362.7" rx="0.9" ry="0.7" transform="rotate(120 72.2 362.7)" fill="#c0e000" opacity="0.71"/><ellipse cx="110.0" cy="337.9" rx="0.4" ry="0.4" transform="rotate(125 110.0 337.9)" fill="#ffb000" opacity="0.95"/><ellipse cx="3.3" cy="359.3" rx="0.9" ry="0.6" transform="rotate(60 3.3 359.3)" fill="#ffd000" opacity="0.97"/><ellipse cx="59.6" cy="364.5" rx="0.8" ry="0.5" transform="rotate(65 59.6 364.5)" fill="#d0d000" opacity="1.00"/><ellipse cx="37.7" cy="345.3" rx="1.0" ry="1.0" transform="rotate(76 37.7 345.3)" fill="#ffb000" opacity="0.87"/><ellipse cx="55.9" cy="352.9" rx="0.6" ry="0.4" transform="rotate(49 55.9 352.9)" fill="#c0e000" opacity="0.80"/><ellipse cx="83.5" cy="346.6" rx="0.9" ry="0.7" transform="rotate(146 83.5 346.6)" fill="#ffd000" opacity="0.82"/><ellipse cx="64.7" cy="356.3" rx="0.5" ry="0.4" transform="rotate(118 64.7 356.3)" fill="#d0d000" opacity="0.60"/><ellipse cx="59.7" cy="345.3" rx="1.0" ry="1.0" transform="rotate(100 59.7 345.3)" fill="#ffd000" opacity="0.99"/><ellipse cx="48.6" cy="358.2" rx="0.7" ry="0.6" transform="rotate(155 48.6 358.2)" fill="#c0e000" opacity="0.68"/><ellipse cx="61.7" cy="355.7" rx="0.7" ry="0.5" transform="rotate(74 61.7 355.7)" fill="#ff9000" opacity="0.81"/><ellipse cx="16.4" cy="333.9" rx="0.8" ry="0.5" transform="rotate(158 16.4 333.9)" fill="#e07000" opacity="0.80"/><ellipse cx="99.2" cy="363.0" rx="1.1" ry="0.8" transform="rotate(69 99.2 363.0)" fill="#ffe000" opacity="0.95"/><ellipse cx="43.3" cy="352.1" rx="0.8" ry="0.6" transform="rotate(130 43.3 352.1)" fill="#ffb000" opacity="0.71"/><ellipse cx="27.4" cy="348.0" rx="1.0" ry="0.8" transform="rotate(58 27.4 348.0)" fill="#e07000" opacity="0.93"/><ellipse cx="48.9" cy="345.2" rx="0.6" ry="0.5" transform="rotate(71 48.9 345.2)" fill="#d0d000" opacity="0.85"/><ellipse cx="67.3" cy="355.9" rx="0.8" ry="0.6" transform="rotate(78 67.3 355.9)" fill="#ffb000" opacity="0.61"/><ellipse cx="49.3" cy="357.9" rx="1.0" ry="0.8" transform="rotate(19 49.3 357.9)" fill="#ffe000" opacity="0.76"/><ellipse cx="38.4" cy="339.7" rx="0.5" ry="0.6" transform="rotate(70 38.4 339.7)" fill="#ff9000" opacity="0.68"/><ellipse cx="101.2" cy="343.1" rx="0.6" ry="0.5" transform="rotate(177 101.2 343.1)" fill="#ffb000" opacity="0.72"/><ellipse cx="9.4" cy="345.2" rx="0.5" ry="0.4" transform="rotate(53 9.4 345.2)" fill="#c0e000" opacity="0.94"/><ellipse cx="25.2" cy="359.0" rx="0.6" ry="0.5" transform="rotate(28 25.2 359.0)" fill="#ffb000" opacity="0.90"/><ellipse cx="91.3" cy="352.2" rx="1.0" ry="0.6" transform="rotate(173 91.3 352.2)" fill="#d0d000" opacity="0.97"/><ellipse cx="78.5" cy="353.2" rx="0.6" ry="0.5" transform="rotate(25 78.5 353.2)" fill="#d0d000" opacity="0.71"/><ellipse cx="54.9" cy="350.4" rx="0.5" ry="0.5" transform="rotate(8 54.9 350.4)" fill="#ffb000" opacity="0.84"/><ellipse cx="56.9" cy="365.4" rx="0.7" ry="0.7" transform="rotate(147 56.9 365.4)" fill="#ffb000" opacity="0.90"/><ellipse cx="54.9" cy="360.8" rx="0.4" ry="0.4" transform="rotate(14 54.9 360.8)" fill="#ffd000" opacity="0.69"/><ellipse cx="11.7" cy="350.9" rx="0.8" ry="0.8" transform="rotate(110 11.7 350.9)" fill="#ffb000" opacity="0.68"/><ellipse cx="62.5" cy="344.4" rx="0.7" ry="0.5" transform="rotate(166 62.5 344.4)" fill="#ffe000" opacity="0.90"/><ellipse cx="1.6" cy="357.0" rx="0.6" ry="0.6" transform="rotate(88 1.6 357.0)" fill="#e07000" opacity="0.66"/><ellipse cx="27.4" cy="356.3" rx="0.4" ry="0.3" transform="rotate(50 27.4 356.3)" fill="#ffb000" opacity="0.76"/><ellipse cx="91.7" cy="340.1" rx="0.7" ry="0.6" transform="rotate(63 91.7 340.1)" fill="#d0d000" opacity="0.91"/><ellipse cx="38.6" cy="340.6" rx="0.8" ry="0.7" transform="rotate(80 38.6 340.6)" fill="#e07000" opacity="0.68"/><ellipse cx="59.1" cy="354.6" rx="0.7" ry="0.6" transform="rotate(8 59.1 354.6)" fill="#ffd000" opacity="0.67"/><ellipse cx="73.0" cy="356.2" rx="0.7" ry="0.5" transform="rotate(116 73.0 356.2)" fill="#ffb000" opacity="0.99"/><ellipse cx="85.2" cy="350.6" rx="0.5" ry="0.5" transform="rotate(170 85.2 350.6)" fill="#ff9000" opacity="0.65"/><ellipse cx="27.2" cy="354.1" rx="0.4" ry="0.4" transform="rotate(158 27.2 354.1)" fill="#e07000" opacity="0.79"/><ellipse cx="36.0" cy="353.2" rx="0.7" ry="0.6" transform="rotate(117 36.0 353.2)" fill="#c0e000" opacity="0.77"/><ellipse cx="57.0" cy="346.8" rx="0.5" ry="0.4" transform="rotate(100 57.0 346.8)" fill="#ffb000" opacity="0.79"/><ellipse cx="77.7" cy="354.9" rx="0.6" ry="0.5" transform="rotate(118 77.7 354.9)" fill="#e07000" opacity="0.57"/><ellipse cx="81.1" cy="361.8" rx="0.9" ry="0.7" transform="rotate(171 81.1 361.8)" fill="#ff9000" opacity="0.76"/><ellipse cx="60.7" cy="347.4" rx="0.8" ry="0.8" transform="rotate(152 60.7 347.4)" fill="#ffe000" opacity="0.69"/><ellipse cx="61.9" cy="351.4" rx="0.9" ry="0.7" transform="rotate(164 61.9 351.4)" fill="#d0d000" opacity="0.64"/><ellipse cx="83.8" cy="333.1" rx="0.7" ry="0.7" transform="rotate(11 83.8 333.1)" fill="#ffd000" opacity="0.95"/><ellipse cx="3.2" cy="334.0" rx="1.0" ry="0.9" transform="rotate(126 3.2 334.0)" fill="#d0d000" opacity="0.55"/><ellipse cx="72.1" cy="365.8" rx="0.5" ry="0.4" transform="rotate(173 72.1 365.8)" fill="#ffb000" opacity="0.89"/><ellipse cx="47.4" cy="342.7" rx="0.4" ry="0.3" transform="rotate(1 47.4 342.7)" fill="#ff9000" opacity="0.78"/><ellipse cx="27.3" cy="356.1" rx="0.6" ry="0.5" transform="rotate(180 27.3 356.1)" fill="#ffd000" opacity="0.99"/><ellipse cx="1.9" cy="344.9" rx="0.4" ry="0.5" transform="rotate(43 1.9 344.9)" fill="#c0e000" opacity="0.76"/><ellipse cx="34.9" cy="355.6" rx="0.8" ry="0.7" transform="rotate(42 34.9 355.6)" fill="#ffd000" opacity="0.67"/><ellipse cx="75.7" cy="340.4" rx="0.5" ry="0.5" transform="rotate(5 75.7 340.4)" fill="#ffb000" opacity="0.86"/><ellipse cx="17.0" cy="359.9" rx="0.6" ry="0.6" transform="rotate(174 17.0 359.9)" fill="#ffd000" opacity="0.92"/><ellipse cx="25.6" cy="327.1" rx="0.4" ry="0.4" transform="rotate(131 25.6 327.1)" fill="#ffd000" opacity="0.90"/><ellipse cx="83.6" cy="367.1" rx="0.9" ry="0.7" transform="rotate(113 83.6 367.1)" fill="#ffb000" opacity="0.72"/><ellipse cx="51.1" cy="343.7" rx="0.7" ry="0.4" transform="rotate(155 51.1 343.7)" fill="#ffb000" opacity="0.82"/><ellipse cx="73.2" cy="361.0" rx="0.8" ry="0.7" transform="rotate(34 73.2 361.0)" fill="#c0e000" opacity="0.75"/><ellipse cx="45.1" cy="344.0" rx="1.0" ry="0.6" transform="rotate(133 45.1 344.0)" fill="#c0e000" opacity="0.83"/><ellipse cx="26.0" cy="351.1" rx="1.0" ry="0.8" transform="rotate(109 26.0 351.1)" fill="#ff9000" opacity="0.63"/><ellipse cx="38.6" cy="345.8" rx="0.5" ry="0.4" transform="rotate(38 38.6 345.8)" fill="#c0e000" opacity="0.97"/><ellipse cx="26.9" cy="352.8" rx="0.5" ry="0.4" transform="rotate(52 26.9 352.8)" fill="#e07000" opacity="0.80"/><ellipse cx="2.4" cy="367.6" rx="0.9" ry="0.6" transform="rotate(132 2.4 367.6)" fill="#e07000" opacity="0.61"/><ellipse cx="44.8" cy="342.5" rx="0.8" ry="0.6" transform="rotate(122 44.8 342.5)" fill="#ffe000" opacity="0.99"/><ellipse cx="57.5" cy="357.9" rx="0.5" ry="0.5" transform="rotate(95 57.5 357.9)" fill="#ff9000" opacity="0.66"/><ellipse cx="38.7" cy="346.9" rx="0.5" ry="0.4" transform="rotate(121 38.7 346.9)" fill="#c0e000" opacity="0.57"/><ellipse cx="105.2" cy="350.2" rx="0.9" ry="0.6" transform="rotate(129 105.2 350.2)" fill="#d0d000" opacity="1.00"/><ellipse cx="108.8" cy="348.6" rx="0.8" ry="0.8" transform="rotate(4 108.8 348.6)" fill="#d0d000" opacity="0.59"/><ellipse cx="91.9" cy="368.9" rx="0.7" ry="0.7" transform="rotate(2 91.9 368.9)" fill="#e07000" opacity="0.71"/><ellipse cx="38.1" cy="352.7" rx="0.5" ry="0.3" transform="rotate(177 38.1 352.7)" fill="#d0d000" opacity="0.73"/><ellipse cx="92.6" cy="347.6" rx="0.7" ry="0.6" transform="rotate(134 92.6 347.6)" fill="#ff9000" opacity="0.55"/><ellipse cx="16.9" cy="345.5" rx="0.9" ry="0.6" transform="rotate(34 16.9 345.5)" fill="#ff9000" opacity="0.87"/><ellipse cx="83.0" cy="347.6" rx="0.4" ry="0.4" transform="rotate(85 83.0 347.6)" fill="#e07000" opacity="0.58"/><ellipse cx="96.1" cy="363.1" rx="0.7" ry="0.5" transform="rotate(114 96.1 363.1)" fill="#e07000" opacity="0.94"/><ellipse cx="11.6" cy="357.7" rx="0.8" ry="0.9" transform="rotate(57 11.6 357.7)" fill="#d0d000" opacity="0.78"/><ellipse cx="39.4" cy="366.1" rx="0.8" ry="0.7" transform="rotate(176 39.4 366.1)" fill="#d0d000" opacity="0.56"/><ellipse cx="32.7" cy="341.5" rx="0.5" ry="0.4" transform="rotate(178 32.7 341.5)" fill="#ff9000" opacity="0.57"/><ellipse cx="16.6" cy="354.3" rx="0.3" ry="0.3" transform="rotate(46 16.6 354.3)" fill="#d0d000" opacity="0.60"/><ellipse cx="28.4" cy="350.5" rx="0.5" ry="0.5" transform="rotate(158 28.4 350.5)" fill="#e07000" opacity="0.90"/><ellipse cx="81.8" cy="357.2" rx="0.8" ry="0.5" transform="rotate(47 81.8 357.2)" fill="#ffd000" opacity="0.89"/><ellipse cx="5.0" cy="343.0" rx="0.7" ry="0.7" transform="rotate(110 5.0 343.0)" fill="#ffb000" opacity="0.92"/><ellipse cx="79.8" cy="341.1" rx="0.5" ry="0.5" transform="rotate(168 79.8 341.1)" fill="#d0d000" opacity="0.58"/><ellipse cx="61.6" cy="357.2" rx="0.5" ry="0.4" transform="rotate(6 61.6 357.2)" fill="#ffb000" opacity="0.91"/><ellipse cx="104.3" cy="369.4" rx="0.5" ry="0.3" transform="rotate(11 104.3 369.4)" fill="#d0d000" opacity="0.97"/><ellipse cx="78.8" cy="340.2" rx="0.7" ry="0.6" transform="rotate(82 78.8 340.2)" fill="#ffd000" opacity="0.93"/><ellipse cx="106.2" cy="352.2" rx="0.6" ry="0.5" transform="rotate(141 106.2 352.2)" fill="#ffe000" opacity="0.86"/><ellipse cx="32.8" cy="347.2" rx="0.5" ry="0.3" transform="rotate(158 32.8 347.2)" fill="#ffe000" opacity="0.99"/><ellipse cx="43.8" cy="346.7" rx="0.7" ry="0.6" transform="rotate(43 43.8 346.7)" fill="#ffb000" opacity="0.76"/><ellipse cx="95.9" cy="347.3" rx="1.1" ry="0.8" transform="rotate(20 95.9 347.3)" fill="#c0e000" opacity="0.71"/><ellipse cx="46.8" cy="349.4" rx="1.0" ry="0.7" transform="rotate(11 46.8 349.4)" fill="#d0d000" opacity="0.77"/><ellipse cx="93.6" cy="375.9" rx="0.4" ry="0.3" transform="rotate(12 93.6 375.9)" fill="#ffb000" opacity="0.87"/><ellipse cx="76.7" cy="345.7" rx="0.9" ry="0.8" transform="rotate(25 76.7 345.7)" fill="#ffd000" opacity="0.83"/><ellipse cx="45.3" cy="369.6" rx="0.7" ry="0.6" transform="rotate(11 45.3 369.6)" fill="#e07000" opacity="0.73"/><ellipse cx="77.5" cy="339.3" rx="0.5" ry="0.3" transform="rotate(41 77.5 339.3)" fill="#c0e000" opacity="0.89"/><ellipse cx="94.8" cy="368.7" rx="1.1" ry="0.9" transform="rotate(23 94.8 368.7)" fill="#c0e000" opacity="0.93"/><ellipse cx="109.1" cy="348.3" rx="0.5" ry="0.4" transform="rotate(137 109.1 348.3)" fill="#e07000" opacity="0.61"/><ellipse cx="75.8" cy="348.8" rx="1.0" ry="0.6" transform="rotate(97 75.8 348.8)" fill="#c0e000" opacity="0.55"/><ellipse cx="78.6" cy="350.9" rx="0.9" ry="0.8" transform="rotate(129 78.6 350.9)" fill="#ffe000" opacity="0.90"/><ellipse cx="70.4" cy="343.8" rx="0.7" ry="0.6" transform="rotate(129 70.4 343.8)" fill="#ffe000" opacity="0.56"/><ellipse cx="26.7" cy="341.9" rx="0.5" ry="0.5" transform="rotate(130 26.7 341.9)" fill="#ffe000" opacity="0.56"/><ellipse cx="49.3" cy="347.5" rx="1.0" ry="0.7" transform="rotate(41 49.3 347.5)" fill="#ffe000" opacity="0.58"/><ellipse cx="41.1" cy="369.0" rx="0.9" ry="0.8" transform="rotate(115 41.1 369.0)" fill="#ffe000" opacity="0.59"/><ellipse cx="94.9" cy="348.7" rx="0.8" ry="0.8" transform="rotate(170 94.9 348.7)" fill="#d0d000" opacity="0.90"/><ellipse cx="16.3" cy="334.0" rx="1.1" ry="0.8" transform="rotate(111 16.3 334.0)" fill="#d0d000" opacity="0.99"/><ellipse cx="4.4" cy="348.9" rx="0.7" ry="0.8" transform="rotate(52 4.4 348.9)" fill="#c0e000" opacity="0.71"/><ellipse cx="58.2" cy="368.3" rx="0.5" ry="0.5" transform="rotate(177 58.2 368.3)" fill="#ffe000" opacity="0.68"/><ellipse cx="79.4" cy="347.8" rx="0.7" ry="0.5" transform="rotate(76 79.4 347.8)" fill="#ff9000" opacity="0.59"/><ellipse cx="27.7" cy="347.4" rx="0.8" ry="0.6" transform="rotate(34 27.7 347.4)" fill="#d0d000" opacity="0.93"/><ellipse cx="77.4" cy="347.3" rx="1.0" ry="0.6" transform="rotate(126 77.4 347.3)" fill="#c0e000" opacity="0.84"/><ellipse cx="85.1" cy="337.5" rx="0.7" ry="0.7" transform="rotate(125 85.1 337.5)" fill="#e07000" opacity="0.68"/><ellipse cx="53.7" cy="347.8" rx="0.7" ry="0.5" transform="rotate(11 53.7 347.8)" fill="#ffd000" opacity="0.55"/><ellipse cx="38.8" cy="351.0" rx="1.0" ry="0.6" transform="rotate(87 38.8 351.0)" fill="#ff9000" opacity="0.62"/><ellipse cx="83.8" cy="360.8" rx="0.7" ry="0.5" transform="rotate(76 83.8 360.8)" fill="#ffd000" opacity="0.61"/><ellipse cx="55.1" cy="371.6" rx="0.5" ry="0.4" transform="rotate(11 55.1 371.6)" fill="#ffb000" opacity="0.95"/><ellipse cx="17.7" cy="348.4" rx="0.6" ry="0.5" transform="rotate(170 17.7 348.4)" fill="#e07000" opacity="0.84"/><ellipse cx="89.9" cy="345.7" rx="0.4" ry="0.4" transform="rotate(171 89.9 345.7)" fill="#e07000" opacity="0.62"/><ellipse cx="95.3" cy="360.7" rx="0.6" ry="0.6" transform="rotate(38 95.3 360.7)" fill="#ff9000" opacity="0.55"/><ellipse cx="63.7" cy="367.8" rx="0.5" ry="0.3" transform="rotate(56 63.7 367.8)" fill="#c0e000" opacity="0.76"/><ellipse cx="52.8" cy="354.8" rx="0.5" ry="0.4" transform="rotate(147 52.8 354.8)" fill="#ff9000" opacity="0.75"/><ellipse cx="84.4" cy="348.3" rx="0.7" ry="0.6" transform="rotate(12 84.4 348.3)" fill="#ffd000" opacity="0.97"/><ellipse cx="39.2" cy="354.6" rx="0.5" ry="0.3" transform="rotate(40 39.2 354.6)" fill="#ffe000" opacity="0.60"/><ellipse cx="77.1" cy="334.6" rx="0.4" ry="0.3" transform="rotate(86 77.1 334.6)" fill="#e07000" opacity="0.75"/><ellipse cx="65.7" cy="373.9" rx="0.7" ry="0.6" transform="rotate(135 65.7 373.9)" fill="#ffb000" opacity="0.56"/></g>
<rect x="1" y="368" width="111" height="17" fill="url(#gdb)"/>
<path d="M60 384.8C65 380 72 377 80 376.5C90 376 100 377 112 377V384.8Z" fill="#000"/>
<rect x="86.5" y="379.1" width="21" height="2.8" fill="#fff"/>
<text x="88.6" y="288.1" fill="#fff">RVM</text>
<text x="3.9" y="380.0" fill="#e6e600">Starter cells</text>
</g>
<g clip-path="url(#cd2)">
<rect x="114" y="273.8" width="111.5" height="111.0" fill="#1612e6"/>
<rect x="114" y="273.8" width="111.5" height="111.0" fill="#000" filter="url(#ndb31)"/>
<rect x="114" y="273.8" width="111.5" height="111.0" fill="#000" filter="url(#nd2)"/>
<path d="M114 273.8H164.5C163 275 161 275.5 158 275.6C145 276 132 276.5 125 277.5C119 278.5 116 280 114 281.5Z" fill="#000"/>
<path d="M164 273.8H171C170 277 169 282 167.6 287C166.5 282 165.5 277 164 273.8Z" fill="#000"/>
<path d="M211 273.8H225.5V279.5C221 278.5 216 277 211 273.8Z" fill="#000"/>
<g><ellipse cx="144.9" cy="351.4" rx="1.0" ry="0.9" transform="rotate(58 144.9 351.4)" fill="#e01070" opacity="0.84"/><ellipse cx="121.9" cy="328.5" rx="0.8" ry="0.7" transform="rotate(147 121.9 328.5)" fill="#ff2080" opacity="0.64"/><ellipse cx="149.6" cy="362.2" rx="0.7" ry="0.5" transform="rotate(178 149.6 362.2)" fill="#ff2080" opacity="0.53"/><ellipse cx="114.3" cy="328.2" rx="0.8" ry="0.6" transform="rotate(142 114.3 328.2)" fill="#e01070" opacity="0.79"/><ellipse cx="115.1" cy="325.3" rx="0.4" ry="0.4" transform="rotate(98 115.1 325.3)" fill="#ff40a0" opacity="0.72"/><ellipse cx="149.2" cy="374.1" rx="0.8" ry="0.8" transform="rotate(124 149.2 374.1)" fill="#e01070" opacity="0.94"/><ellipse cx="217.7" cy="315.8" rx="0.6" ry="0.5" transform="rotate(87 217.7 315.8)" fill="#c01880" opacity="0.51"/><ellipse cx="194.4" cy="310.7" rx="0.7" ry="0.6" transform="rotate(155 194.4 310.7)" fill="#ff40a0" opacity="0.60"/><ellipse cx="115.2" cy="330.5" rx="0.4" ry="0.4" transform="rotate(165 115.2 330.5)" fill="#ff40a0" opacity="0.91"/><ellipse cx="129.4" cy="292.6" rx="0.7" ry="0.6" transform="rotate(66 129.4 292.6)" fill="#e01070" opacity="0.90"/><ellipse cx="198.1" cy="369.0" rx="0.6" ry="0.5" transform="rotate(94 198.1 369.0)" fill="#ff2080" opacity="0.86"/><ellipse cx="124.9" cy="325.9" rx="0.4" ry="0.4" transform="rotate(23 124.9 325.9)" fill="#ff40a0" opacity="0.55"/><ellipse cx="140.2" cy="291.0" rx="0.4" ry="0.5" transform="rotate(111 140.2 291.0)" fill="#ff40a0" opacity="0.91"/><ellipse cx="220.8" cy="314.6" rx="0.5" ry="0.5" transform="rotate(21 220.8 314.6)" fill="#ff40a0" opacity="0.99"/><ellipse cx="204.3" cy="292.8" rx="0.6" ry="0.6" transform="rotate(158 204.3 292.8)" fill="#e01070" opacity="0.54"/><ellipse cx="212.5" cy="330.1" rx="0.5" ry="0.4" transform="rotate(78 212.5 330.1)" fill="#ff40a0" opacity="0.79"/><ellipse cx="192.8" cy="325.1" rx="0.9" ry="0.7" transform="rotate(50 192.8 325.1)" fill="#c01880" opacity="0.91"/><ellipse cx="140.4" cy="365.3" rx="0.9" ry="0.8" transform="rotate(16 140.4 365.3)" fill="#c01880" opacity="0.94"/><ellipse cx="224.9" cy="336.2" rx="0.5" ry="0.5" transform="rotate(107 224.9 336.2)" fill="#ff40a0" opacity="0.96"/><ellipse cx="189.6" cy="328.6" rx="0.9" ry="0.7" transform="rotate(167 189.6 328.6)" fill="#e01070" opacity="0.94"/><ellipse cx="203.7" cy="307.5" rx="0.5" ry="0.4" transform="rotate(66 203.7 307.5)" fill="#e01070" opacity="0.85"/><ellipse cx="136.0" cy="330.2" rx="0.8" ry="0.7" transform="rotate(175 136.0 330.2)" fill="#ff40a0" opacity="0.80"/><ellipse cx="205.7" cy="314.0" rx="0.4" ry="0.4" transform="rotate(153 205.7 314.0)" fill="#ff2080" opacity="0.64"/><ellipse cx="205.9" cy="338.5" rx="0.6" ry="0.5" transform="rotate(46 205.9 338.5)" fill="#ff2080" opacity="0.62"/><ellipse cx="196.3" cy="353.2" rx="0.4" ry="0.4" transform="rotate(32 196.3 353.2)" fill="#ff40a0" opacity="0.98"/><ellipse cx="193.7" cy="301.4" rx="0.5" ry="0.5" transform="rotate(120 193.7 301.4)" fill="#ff40a0" opacity="0.50"/><ellipse cx="131.7" cy="379.6" rx="0.5" ry="0.4" transform="rotate(23 131.7 379.6)" fill="#ff40a0" opacity="0.62"/><ellipse cx="145.0" cy="347.6" rx="0.5" ry="0.4" transform="rotate(154 145.0 347.6)" fill="#ff40a0" opacity="0.56"/><ellipse cx="129.7" cy="352.9" rx="0.8" ry="0.6" transform="rotate(134 129.7 352.9)" fill="#ff2080" opacity="0.97"/><ellipse cx="215.5" cy="355.3" rx="1.0" ry="0.7" transform="rotate(133 215.5 355.3)" fill="#ff40a0" opacity="0.76"/><ellipse cx="136.7" cy="319.7" rx="0.7" ry="0.7" transform="rotate(41 136.7 319.7)" fill="#e01070" opacity="0.70"/><ellipse cx="143.1" cy="321.2" rx="0.5" ry="0.4" transform="rotate(35 143.1 321.2)" fill="#ff2080" opacity="0.62"/><ellipse cx="224.4" cy="351.3" rx="0.8" ry="0.7" transform="rotate(17 224.4 351.3)" fill="#ff2080" opacity="0.71"/><ellipse cx="212.8" cy="310.2" rx="0.6" ry="0.4" transform="rotate(55 212.8 310.2)" fill="#ff40a0" opacity="0.63"/><ellipse cx="144.7" cy="364.2" rx="0.7" ry="0.6" transform="rotate(130 144.7 364.2)" fill="#e01070" opacity="0.99"/><ellipse cx="127.4" cy="318.4" rx="1.0" ry="0.8" transform="rotate(107 127.4 318.4)" fill="#e01070" opacity="0.70"/><ellipse cx="209.2" cy="338.4" rx="0.8" ry="0.7" transform="rotate(105 209.2 338.4)" fill="#ff40a0" opacity="0.61"/><ellipse cx="132.1" cy="371.0" rx="0.8" ry="0.8" transform="rotate(33 132.1 371.0)" fill="#c01880" opacity="0.71"/><ellipse cx="216.3" cy="374.1" rx="0.9" ry="0.9" transform="rotate(24 216.3 374.1)" fill="#ff2080" opacity="0.68"/><ellipse cx="211.3" cy="354.8" rx="0.9" ry="0.6" transform="rotate(141 211.3 354.8)" fill="#c01880" opacity="0.57"/><ellipse cx="117.3" cy="364.1" rx="0.5" ry="0.4" transform="rotate(131 117.3 364.1)" fill="#e01070" opacity="0.59"/><ellipse cx="224.3" cy="378.4" rx="0.9" ry="0.7" transform="rotate(70 224.3 378.4)" fill="#e01070" opacity="0.84"/><ellipse cx="196.2" cy="359.3" rx="1.0" ry="0.7" transform="rotate(127 196.2 359.3)" fill="#e01070" opacity="0.69"/><ellipse cx="116.8" cy="375.0" rx="0.3" ry="0.4" transform="rotate(28 116.8 375.0)" fill="#ff2080" opacity="0.71"/><ellipse cx="214.2" cy="323.9" rx="0.5" ry="0.4" transform="rotate(58 214.2 323.9)" fill="#c01880" opacity="0.66"/><ellipse cx="202.5" cy="345.8" rx="0.9" ry="0.6" transform="rotate(139 202.5 345.8)" fill="#ff40a0" opacity="0.69"/><ellipse cx="117.5" cy="361.8" rx="0.9" ry="0.5" transform="rotate(172 117.5 361.8)" fill="#c01880" opacity="0.68"/><ellipse cx="145.6" cy="315.5" rx="0.4" ry="0.4" transform="rotate(42 145.6 315.5)" fill="#c01880" opacity="0.88"/><ellipse cx="127.5" cy="375.6" rx="0.4" ry="0.5" transform="rotate(114 127.5 375.6)" fill="#c01880" opacity="0.62"/><ellipse cx="206.2" cy="324.3" rx="0.7" ry="0.6" transform="rotate(105 206.2 324.3)" fill="#e01070" opacity="0.76"/><ellipse cx="193.6" cy="295.4" rx="0.9" ry="0.8" transform="rotate(10 193.6 295.4)" fill="#ff2080" opacity="0.63"/><ellipse cx="225.4" cy="300.4" rx="0.7" ry="0.4" transform="rotate(42 225.4 300.4)" fill="#c01880" opacity="0.83"/><ellipse cx="115.9" cy="331.0" rx="0.4" ry="0.4" transform="rotate(10 115.9 331.0)" fill="#c01880" opacity="0.53"/><ellipse cx="215.0" cy="311.6" rx="0.7" ry="0.5" transform="rotate(142 215.0 311.6)" fill="#ff2080" opacity="0.91"/><ellipse cx="133.0" cy="327.2" rx="0.4" ry="0.3" transform="rotate(89 133.0 327.2)" fill="#e01070" opacity="1.00"/><ellipse cx="133.4" cy="361.6" rx="0.5" ry="0.4" transform="rotate(7 133.4 361.6)" fill="#ff2080" opacity="0.58"/><ellipse cx="144.8" cy="309.6" rx="0.8" ry="0.6" transform="rotate(38 144.8 309.6)" fill="#ff40a0" opacity="0.94"/><ellipse cx="203.1" cy="352.1" rx="0.4" ry="0.4" transform="rotate(161 203.1 352.1)" fill="#e01070" opacity="0.98"/><ellipse cx="202.5" cy="299.2" rx="0.8" ry="0.6" transform="rotate(83 202.5 299.2)" fill="#c01880" opacity="0.79"/><ellipse cx="126.1" cy="350.6" rx="0.6" ry="0.6" transform="rotate(16 126.1 350.6)" fill="#e01070" opacity="0.76"/><ellipse cx="212.3" cy="298.6" rx="0.4" ry="0.4" transform="rotate(75 212.3 298.6)" fill="#c01880" opacity="0.82"/><ellipse cx="214.1" cy="305.2" rx="0.8" ry="0.6" transform="rotate(178 214.1 305.2)" fill="#ff40a0" opacity="0.53"/><ellipse cx="220.5" cy="321.1" rx="0.7" ry="0.7" transform="rotate(126 220.5 321.1)" fill="#ff40a0" opacity="0.63"/><ellipse cx="203.2" cy="353.2" rx="0.7" ry="0.6" transform="rotate(48 203.2 353.2)" fill="#ff40a0" opacity="0.93"/><ellipse cx="135.4" cy="315.2" rx="0.8" ry="0.7" transform="rotate(59 135.4 315.2)" fill="#c01880" opacity="0.60"/><ellipse cx="158.1" cy="296.3" rx="0.6" ry="0.4" transform="rotate(104 158.1 296.3)" fill="#e01070" opacity="0.74"/><ellipse cx="212.7" cy="354.3" rx="0.9" ry="0.8" transform="rotate(65 212.7 354.3)" fill="#ff40a0" opacity="0.61"/><ellipse cx="147.2" cy="337.3" rx="0.7" ry="0.6" transform="rotate(71 147.2 337.3)" fill="#c01880" opacity="0.79"/><ellipse cx="120.6" cy="347.5" rx="0.4" ry="0.4" transform="rotate(168 120.6 347.5)" fill="#ff40a0" opacity="0.62"/><ellipse cx="140.4" cy="322.0" rx="0.6" ry="0.5" transform="rotate(123 140.4 322.0)" fill="#e01070" opacity="0.53"/><ellipse cx="144.2" cy="316.9" rx="0.6" ry="0.5" transform="rotate(126 144.2 316.9)" fill="#c01880" opacity="0.79"/><ellipse cx="204.3" cy="351.8" rx="0.6" ry="0.5" transform="rotate(113 204.3 351.8)" fill="#ff2080" opacity="0.53"/><ellipse cx="178.0" cy="345.8" rx="0.6" ry="0.6" transform="rotate(14 178.0 345.8)" fill="#ff2080" opacity="0.88"/><ellipse cx="121.8" cy="314.6" rx="0.5" ry="0.4" transform="rotate(66 121.8 314.6)" fill="#c01880" opacity="0.67"/><ellipse cx="123.9" cy="375.5" rx="0.6" ry="0.7" transform="rotate(120 123.9 375.5)" fill="#ff40a0" opacity="0.61"/><ellipse cx="195.3" cy="353.8" rx="1.0" ry="0.7" transform="rotate(153 195.3 353.8)" fill="#e01070" opacity="0.97"/><ellipse cx="212.3" cy="303.0" rx="0.5" ry="0.4" transform="rotate(5 212.3 303.0)" fill="#c01880" opacity="0.97"/><ellipse cx="116.8" cy="377.9" rx="0.6" ry="0.5" transform="rotate(171 116.8 377.9)" fill="#e01070" opacity="0.55"/><ellipse cx="162.6" cy="378.7" rx="0.5" ry="0.5" transform="rotate(114 162.6 378.7)" fill="#ff2080" opacity="0.77"/><ellipse cx="199.3" cy="311.3" rx="0.4" ry="0.4" transform="rotate(70 199.3 311.3)" fill="#e01070" opacity="0.89"/><ellipse cx="123.0" cy="347.1" rx="0.4" ry="0.4" transform="rotate(173 123.0 347.1)" fill="#c01880" opacity="0.60"/><ellipse cx="142.8" cy="354.6" rx="0.9" ry="0.8" transform="rotate(31 142.8 354.6)" fill="#ff2080" opacity="0.59"/><ellipse cx="144.4" cy="354.5" rx="0.7" ry="0.5" transform="rotate(120 144.4 354.5)" fill="#c01880" opacity="0.90"/><ellipse cx="146.5" cy="332.9" rx="0.6" ry="0.5" transform="rotate(172 146.5 332.9)" fill="#c01880" opacity="0.52"/><ellipse cx="139.2" cy="370.7" rx="0.7" ry="0.6" transform="rotate(62 139.2 370.7)" fill="#ff2080" opacity="0.57"/><ellipse cx="117.7" cy="350.0" rx="0.8" ry="0.7" transform="rotate(72 117.7 350.0)" fill="#c01880" opacity="0.51"/><ellipse cx="209.5" cy="331.5" rx="0.7" ry="0.6" transform="rotate(179 209.5 331.5)" fill="#c01880" opacity="0.78"/><ellipse cx="209.8" cy="302.6" rx="0.8" ry="0.6" transform="rotate(149 209.8 302.6)" fill="#c01880" opacity="0.85"/><ellipse cx="211.2" cy="301.8" rx="0.6" ry="0.6" transform="rotate(115 211.2 301.8)" fill="#c01880" opacity="0.70"/><ellipse cx="120.8" cy="376.0" rx="0.6" ry="0.4" transform="rotate(133 120.8 376.0)" fill="#c01880" opacity="0.68"/><ellipse cx="148.7" cy="312.3" rx="0.7" ry="0.8" transform="rotate(165 148.7 312.3)" fill="#e01070" opacity="0.80"/><ellipse cx="212.9" cy="326.2" rx="0.5" ry="0.4" transform="rotate(4 212.9 326.2)" fill="#ff40a0" opacity="0.69"/><ellipse cx="115.6" cy="360.4" rx="0.9" ry="0.7" transform="rotate(11 115.6 360.4)" fill="#ff2080" opacity="0.63"/><ellipse cx="132.9" cy="322.8" rx="0.4" ry="0.4" transform="rotate(17 132.9 322.8)" fill="#e01070" opacity="0.95"/><ellipse cx="130.0" cy="328.6" rx="0.5" ry="0.5" transform="rotate(149 130.0 328.6)" fill="#c01880" opacity="0.70"/><ellipse cx="127.7" cy="310.3" rx="0.6" ry="0.6" transform="rotate(165 127.7 310.3)" fill="#e01070" opacity="0.72"/><ellipse cx="195.8" cy="346.7" rx="0.8" ry="0.6" transform="rotate(60 195.8 346.7)" fill="#c01880" opacity="0.69"/><ellipse cx="146.1" cy="340.2" rx="0.4" ry="0.5" transform="rotate(74 146.1 340.2)" fill="#c01880" opacity="0.64"/><ellipse cx="121.2" cy="335.6" rx="0.6" ry="0.5" transform="rotate(84 121.2 335.6)" fill="#e01070" opacity="0.81"/><ellipse cx="208.4" cy="351.2" rx="0.7" ry="0.4" transform="rotate(141 208.4 351.2)" fill="#c01880" opacity="0.66"/><ellipse cx="127.0" cy="325.5" rx="0.7" ry="0.7" transform="rotate(6 127.0 325.5)" fill="#ff40a0" opacity="0.95"/><ellipse cx="143.2" cy="331.5" rx="0.5" ry="0.5" transform="rotate(177 143.2 331.5)" fill="#ff2080" opacity="0.70"/><ellipse cx="135.2" cy="377.0" rx="0.6" ry="0.5" transform="rotate(126 135.2 377.0)" fill="#e01070" opacity="0.97"/><ellipse cx="122.6" cy="320.1" rx="0.6" ry="0.5" transform="rotate(14 122.6 320.1)" fill="#c01880" opacity="0.91"/><ellipse cx="218.3" cy="319.8" rx="0.7" ry="0.5" transform="rotate(12 218.3 319.8)" fill="#ff2080" opacity="0.88"/><ellipse cx="122.2" cy="357.4" rx="0.6" ry="0.5" transform="rotate(148 122.2 357.4)" fill="#ff40a0" opacity="0.55"/><ellipse cx="135.6" cy="383.2" rx="1.0" ry="0.7" transform="rotate(22 135.6 383.2)" fill="#ff2080" opacity="0.89"/><ellipse cx="127.9" cy="354.5" rx="0.6" ry="0.4" transform="rotate(126 127.9 354.5)" fill="#e01070" opacity="0.55"/><ellipse cx="165.5" cy="306.6" rx="0.9" ry="0.8" transform="rotate(117 165.5 306.6)" fill="#c01880" opacity="0.54"/><ellipse cx="214.1" cy="303.1" rx="0.6" ry="0.6" transform="rotate(4 214.1 303.1)" fill="#ff40a0" opacity="0.78"/><ellipse cx="127.8" cy="332.9" rx="0.6" ry="0.5" transform="rotate(124 127.8 332.9)" fill="#e01070" opacity="0.85"/><ellipse cx="208.9" cy="305.3" rx="0.7" ry="0.5" transform="rotate(32 208.9 305.3)" fill="#ff40a0" opacity="0.79"/><ellipse cx="129.2" cy="351.5" rx="0.8" ry="0.8" transform="rotate(57 129.2 351.5)" fill="#ff2080" opacity="0.64"/><ellipse cx="127.7" cy="367.5" rx="0.5" ry="0.5" transform="rotate(75 127.7 367.5)" fill="#ff40a0" opacity="0.77"/><ellipse cx="136.4" cy="368.9" rx="0.8" ry="0.7" transform="rotate(139 136.4 368.9)" fill="#e01070" opacity="0.55"/><ellipse cx="143.8" cy="320.9" rx="0.7" ry="0.7" transform="rotate(90 143.8 320.9)" fill="#ff40a0" opacity="0.50"/><ellipse cx="171.0" cy="325.8" rx="0.7" ry="0.8" transform="rotate(164 171.0 325.8)" fill="#c01880" opacity="0.86"/><ellipse cx="140.6" cy="327.4" rx="0.5" ry="0.4" transform="rotate(31 140.6 327.4)" fill="#c01880" opacity="0.72"/><ellipse cx="209.0" cy="304.8" rx="0.6" ry="0.5" transform="rotate(25 209.0 304.8)" fill="#c01880" opacity="0.69"/><ellipse cx="146.0" cy="333.0" rx="0.6" ry="0.4" transform="rotate(37 146.0 333.0)" fill="#ff40a0" opacity="0.97"/><ellipse cx="194.0" cy="321.4" rx="0.9" ry="0.6" transform="rotate(155 194.0 321.4)" fill="#ff40a0" opacity="0.75"/><ellipse cx="214.8" cy="325.2" rx="0.8" ry="0.5" transform="rotate(107 214.8 325.2)" fill="#e01070" opacity="0.86"/><ellipse cx="212.2" cy="311.6" rx="0.7" ry="0.6" transform="rotate(4 212.2 311.6)" fill="#c01880" opacity="0.95"/><ellipse cx="173.4" cy="307.8" rx="0.5" ry="0.5" transform="rotate(2 173.4 307.8)" fill="#c01880" opacity="0.94"/><ellipse cx="225.4" cy="366.8" rx="0.6" ry="0.5" transform="rotate(87 225.4 366.8)" fill="#ff2080" opacity="0.95"/><ellipse cx="140.0" cy="324.5" rx="0.8" ry="0.8" transform="rotate(33 140.0 324.5)" fill="#ff2080" opacity="0.51"/><ellipse cx="206.9" cy="304.2" rx="0.9" ry="0.7" transform="rotate(15 206.9 304.2)" fill="#ff40a0" opacity="0.94"/><ellipse cx="142.9" cy="344.5" rx="0.6" ry="0.6" transform="rotate(82 142.9 344.5)" fill="#ff2080" opacity="0.83"/><ellipse cx="213.7" cy="299.9" rx="0.7" ry="0.6" transform="rotate(5 213.7 299.9)" fill="#ff2080" opacity="0.62"/><ellipse cx="119.8" cy="312.5" rx="0.6" ry="0.5" transform="rotate(149 119.8 312.5)" fill="#c01880" opacity="0.56"/><ellipse cx="125.1" cy="321.5" rx="0.5" ry="0.5" transform="rotate(14 125.1 321.5)" fill="#ff40a0" opacity="0.58"/><ellipse cx="201.8" cy="351.9" rx="0.4" ry="0.4" transform="rotate(121 201.8 351.9)" fill="#c01880" opacity="0.74"/><ellipse cx="138.8" cy="319.4" rx="0.7" ry="0.6" transform="rotate(65 138.8 319.4)" fill="#ff2080" opacity="0.93"/><ellipse cx="194.4" cy="299.8" rx="0.6" ry="0.6" transform="rotate(168 194.4 299.8)" fill="#ff40a0" opacity="0.67"/><ellipse cx="221.2" cy="312.0" rx="0.8" ry="0.7" transform="rotate(88 221.2 312.0)" fill="#e01070" opacity="0.94"/><ellipse cx="129.2" cy="336.6" rx="0.9" ry="0.6" transform="rotate(137 129.2 336.6)" fill="#ff2080" opacity="0.90"/><ellipse cx="117.9" cy="367.3" rx="0.8" ry="0.7" transform="rotate(136 117.9 367.3)" fill="#ff2080" opacity="0.58"/><ellipse cx="146.9" cy="316.4" rx="0.4" ry="0.4" transform="rotate(89 146.9 316.4)" fill="#ff40a0" opacity="0.91"/><ellipse cx="149.0" cy="373.5" rx="0.6" ry="0.5" transform="rotate(54 149.0 373.5)" fill="#ff2080" opacity="0.75"/><ellipse cx="201.7" cy="297.0" rx="0.7" ry="0.5" transform="rotate(11 201.7 297.0)" fill="#ff2080" opacity="0.85"/><ellipse cx="116.0" cy="377.6" rx="0.6" ry="0.5" transform="rotate(132 116.0 377.6)" fill="#e01070" opacity="0.95"/><ellipse cx="130.2" cy="376.1" rx="1.0" ry="0.9" transform="rotate(53 130.2 376.1)" fill="#ff2080" opacity="0.98"/><ellipse cx="209.5" cy="323.4" rx="0.5" ry="0.5" transform="rotate(97 209.5 323.4)" fill="#c01880" opacity="0.82"/><ellipse cx="121.1" cy="367.8" rx="0.5" ry="0.4" transform="rotate(132 121.1 367.8)" fill="#ff2080" opacity="0.90"/><ellipse cx="206.6" cy="355.3" rx="0.7" ry="0.4" transform="rotate(156 206.6 355.3)" fill="#c01880" opacity="0.93"/><ellipse cx="206.7" cy="331.3" rx="0.8" ry="0.5" transform="rotate(157 206.7 331.3)" fill="#ff40a0" opacity="0.93"/><ellipse cx="207.7" cy="325.0" rx="0.4" ry="0.4" transform="rotate(22 207.7 325.0)" fill="#c01880" opacity="0.90"/><ellipse cx="143.4" cy="312.2" rx="0.5" ry="0.5" transform="rotate(8 143.4 312.2)" fill="#c01880" opacity="0.75"/><ellipse cx="128.6" cy="333.2" rx="0.8" ry="0.8" transform="rotate(123 128.6 333.2)" fill="#ff40a0" opacity="0.83"/><ellipse cx="119.8" cy="361.6" rx="0.6" ry="0.5" transform="rotate(130 119.8 361.6)" fill="#c01880" opacity="0.92"/><ellipse cx="225.5" cy="312.9" rx="1.0" ry="0.6" transform="rotate(22 225.5 312.9)" fill="#ff40a0" opacity="0.68"/><ellipse cx="134.0" cy="327.6" rx="0.9" ry="0.7" transform="rotate(6 134.0 327.6)" fill="#ff40a0" opacity="0.99"/><ellipse cx="118.0" cy="322.2" rx="0.5" ry="0.5" transform="rotate(68 118.0 322.2)" fill="#c01880" opacity="0.83"/><ellipse cx="146.9" cy="315.1" rx="0.8" ry="0.6" transform="rotate(82 146.9 315.1)" fill="#c01880" opacity="0.71"/><ellipse cx="205.1" cy="354.0" rx="0.7" ry="0.8" transform="rotate(114 205.1 354.0)" fill="#e01070" opacity="0.80"/><ellipse cx="165.3" cy="314.5" rx="0.7" ry="0.5" transform="rotate(160 165.3 314.5)" fill="#c01880" opacity="1.00"/><ellipse cx="124.0" cy="361.2" rx="0.6" ry="0.5" transform="rotate(44 124.0 361.2)" fill="#e01070" opacity="0.58"/><ellipse cx="147.6" cy="321.2" rx="1.0" ry="0.8" transform="rotate(42 147.6 321.2)" fill="#ff2080" opacity="0.63"/><ellipse cx="164.8" cy="293.0" rx="0.7" ry="0.5" transform="rotate(5 164.8 293.0)" fill="#ff40a0" opacity="0.56"/><ellipse cx="200.6" cy="332.8" rx="0.9" ry="0.8" transform="rotate(121 200.6 332.8)" fill="#ff2080" opacity="0.79"/><ellipse cx="134.4" cy="354.6" rx="0.5" ry="0.4" transform="rotate(22 134.4 354.6)" fill="#ff40a0" opacity="0.96"/><ellipse cx="214.7" cy="292.9" rx="0.7" ry="0.8" transform="rotate(147 214.7 292.9)" fill="#e01070" opacity="0.89"/><ellipse cx="121.2" cy="376.0" rx="0.9" ry="0.7" transform="rotate(90 121.2 376.0)" fill="#ff2080" opacity="0.74"/><ellipse cx="211.1" cy="374.5" rx="0.7" ry="0.6" transform="rotate(146 211.1 374.5)" fill="#ff2080" opacity="0.52"/><ellipse cx="115.5" cy="340.5" rx="1.0" ry="0.6" transform="rotate(28 115.5 340.5)" fill="#e01070" opacity="0.99"/><ellipse cx="219.2" cy="308.3" rx="0.7" ry="0.6" transform="rotate(143 219.2 308.3)" fill="#ff40a0" opacity="0.72"/><ellipse cx="201.5" cy="354.9" rx="0.9" ry="0.7" transform="rotate(172 201.5 354.9)" fill="#e01070" opacity="0.57"/><ellipse cx="124.9" cy="354.3" rx="0.4" ry="0.4" transform="rotate(116 124.9 354.3)" fill="#c01880" opacity="0.74"/><ellipse cx="211.2" cy="335.2" rx="0.7" ry="0.5" transform="rotate(23 211.2 335.2)" fill="#c01880" opacity="0.79"/><ellipse cx="224.9" cy="298.1" rx="0.8" ry="0.7" transform="rotate(145 224.9 298.1)" fill="#c01880" opacity="0.63"/><ellipse cx="193.9" cy="298.5" rx="0.6" ry="0.5" transform="rotate(140 193.9 298.5)" fill="#ff2080" opacity="0.89"/><ellipse cx="134.2" cy="311.0" rx="0.6" ry="0.6" transform="rotate(134 134.2 311.0)" fill="#ff2080" opacity="0.86"/><ellipse cx="144.4" cy="355.6" rx="0.6" ry="0.6" transform="rotate(121 144.4 355.6)" fill="#ff2080" opacity="0.50"/><ellipse cx="141.1" cy="373.1" rx="1.0" ry="0.8" transform="rotate(50 141.1 373.1)" fill="#ff2080" opacity="0.98"/><ellipse cx="196.6" cy="336.2" rx="0.8" ry="0.7" transform="rotate(69 196.6 336.2)" fill="#c01880" opacity="0.99"/><ellipse cx="218.9" cy="329.2" rx="0.5" ry="0.5" transform="rotate(96 218.9 329.2)" fill="#e01070" opacity="0.95"/><ellipse cx="128.5" cy="353.5" rx="0.9" ry="0.6" transform="rotate(40 128.5 353.5)" fill="#c01880" opacity="0.97"/><ellipse cx="114.6" cy="376.7" rx="0.8" ry="0.6" transform="rotate(113 114.6 376.7)" fill="#ff40a0" opacity="0.70"/><ellipse cx="208.4" cy="322.0" rx="0.8" ry="0.6" transform="rotate(54 208.4 322.0)" fill="#e01070" opacity="0.52"/><ellipse cx="224.4" cy="332.4" rx="0.7" ry="0.8" transform="rotate(96 224.4 332.4)" fill="#ff40a0" opacity="0.78"/><ellipse cx="135.0" cy="378.7" rx="0.6" ry="0.4" transform="rotate(68 135.0 378.7)" fill="#c01880" opacity="0.85"/><ellipse cx="205.0" cy="358.0" rx="0.5" ry="0.4" transform="rotate(132 205.0 358.0)" fill="#ff40a0" opacity="0.80"/><ellipse cx="219.1" cy="326.2" rx="0.9" ry="0.6" transform="rotate(17 219.1 326.2)" fill="#c01880" opacity="0.91"/><ellipse cx="206.3" cy="320.9" rx="0.7" ry="0.6" transform="rotate(150 206.3 320.9)" fill="#e01070" opacity="0.56"/><ellipse cx="144.3" cy="316.8" rx="0.7" ry="0.5" transform="rotate(114 144.3 316.8)" fill="#ff40a0" opacity="0.83"/><ellipse cx="126.0" cy="322.9" rx="0.4" ry="0.3" transform="rotate(168 126.0 322.9)" fill="#e01070" opacity="0.69"/><ellipse cx="127.3" cy="323.4" rx="0.5" ry="0.4" transform="rotate(88 127.3 323.4)" fill="#ff40a0" opacity="0.56"/><ellipse cx="196.2" cy="340.3" rx="0.9" ry="0.6" transform="rotate(12 196.2 340.3)" fill="#e01070" opacity="0.69"/><ellipse cx="220.6" cy="311.8" rx="1.0" ry="0.9" transform="rotate(118 220.6 311.8)" fill="#e01070" opacity="0.95"/><ellipse cx="205.9" cy="351.2" rx="0.6" ry="0.5" transform="rotate(15 205.9 351.2)" fill="#ff2080" opacity="0.66"/><ellipse cx="197.3" cy="302.4" rx="0.6" ry="0.6" transform="rotate(47 197.3 302.4)" fill="#c01880" opacity="0.95"/><ellipse cx="207.0" cy="332.8" rx="0.7" ry="0.5" transform="rotate(97 207.0 332.8)" fill="#e01070" opacity="0.85"/><ellipse cx="185.4" cy="293.0" rx="0.5" ry="0.5" transform="rotate(104 185.4 293.0)" fill="#c01880" opacity="0.70"/><ellipse cx="140.1" cy="376.7" rx="0.8" ry="0.7" transform="rotate(99 140.1 376.7)" fill="#ff40a0" opacity="0.60"/><ellipse cx="219.8" cy="313.1" rx="0.7" ry="0.6" transform="rotate(28 219.8 313.1)" fill="#ff2080" opacity="0.58"/><ellipse cx="164.0" cy="382.2" rx="0.8" ry="0.5" transform="rotate(131 164.0 382.2)" fill="#e01070" opacity="0.75"/><ellipse cx="203.7" cy="313.7" rx="0.6" ry="0.5" transform="rotate(136 203.7 313.7)" fill="#ff2080" opacity="0.77"/><ellipse cx="131.5" cy="311.5" rx="0.9" ry="0.7" transform="rotate(132 131.5 311.5)" fill="#e01070" opacity="0.66"/><ellipse cx="114.2" cy="325.7" rx="0.6" ry="0.6" transform="rotate(43 114.2 325.7)" fill="#ff2080" opacity="0.92"/><ellipse cx="129.6" cy="323.3" rx="0.6" ry="0.6" transform="rotate(168 129.6 323.3)" fill="#e01070" opacity="0.66"/><ellipse cx="123.5" cy="327.6" rx="0.5" ry="0.5" transform="rotate(60 123.5 327.6)" fill="#c01880" opacity="0.66"/><ellipse cx="222.7" cy="328.8" rx="0.8" ry="0.6" transform="rotate(56 222.7 328.8)" fill="#ff2080" opacity="0.89"/><ellipse cx="195.9" cy="305.7" rx="0.9" ry="0.6" transform="rotate(8 195.9 305.7)" fill="#ff2080" opacity="0.51"/><ellipse cx="210.0" cy="301.0" rx="0.8" ry="0.8" transform="rotate(63 210.0 301.0)" fill="#ff40a0" opacity="0.50"/><ellipse cx="203.6" cy="343.1" rx="0.6" ry="0.6" transform="rotate(165 203.6 343.1)" fill="#ff2080" opacity="0.98"/><ellipse cx="220.6" cy="359.4" rx="0.7" ry="0.5" transform="rotate(173 220.6 359.4)" fill="#ff40a0" opacity="0.81"/><ellipse cx="132.4" cy="323.3" rx="0.9" ry="0.7" transform="rotate(172 132.4 323.3)" fill="#c01880" opacity="0.59"/><ellipse cx="209.3" cy="295.3" rx="0.6" ry="0.5" transform="rotate(166 209.3 295.3)" fill="#ff2080" opacity="0.79"/><ellipse cx="203.3" cy="313.7" rx="0.6" ry="0.6" transform="rotate(86 203.3 313.7)" fill="#c01880" opacity="0.86"/><ellipse cx="199.6" cy="339.5" rx="0.4" ry="0.4" transform="rotate(155 199.6 339.5)" fill="#ff2080" opacity="0.73"/><ellipse cx="142.3" cy="312.7" rx="0.8" ry="0.6" transform="rotate(51 142.3 312.7)" fill="#ff40a0" opacity="0.77"/><ellipse cx="203.4" cy="304.7" rx="0.5" ry="0.4" transform="rotate(35 203.4 304.7)" fill="#c01880" opacity="0.80"/><ellipse cx="140.3" cy="359.9" rx="0.5" ry="0.5" transform="rotate(64 140.3 359.9)" fill="#c01880" opacity="0.90"/><ellipse cx="210.0" cy="358.0" rx="0.6" ry="0.6" transform="rotate(15 210.0 358.0)" fill="#e01070" opacity="0.75"/><ellipse cx="149.7" cy="310.7" rx="0.7" ry="0.7" transform="rotate(83 149.7 310.7)" fill="#ff2080" opacity="0.79"/><ellipse cx="125.8" cy="326.5" rx="0.7" ry="0.5" transform="rotate(9 125.8 326.5)" fill="#c01880" opacity="0.68"/><ellipse cx="209.6" cy="296.6" rx="0.6" ry="0.4" transform="rotate(161 209.6 296.6)" fill="#c01880" opacity="0.59"/><ellipse cx="146.7" cy="324.1" rx="0.9" ry="0.7" transform="rotate(101 146.7 324.1)" fill="#e01070" opacity="0.89"/><ellipse cx="199.0" cy="355.9" rx="0.6" ry="0.7" transform="rotate(112 199.0 355.9)" fill="#ff2080" opacity="0.57"/><ellipse cx="147.7" cy="321.7" rx="0.6" ry="0.5" transform="rotate(131 147.7 321.7)" fill="#e01070" opacity="0.85"/><ellipse cx="149.8" cy="290.7" rx="0.6" ry="0.6" transform="rotate(116 149.8 290.7)" fill="#e01070" opacity="0.52"/><ellipse cx="139.5" cy="361.3" rx="0.7" ry="0.6" transform="rotate(79 139.5 361.3)" fill="#e01070" opacity="0.91"/><ellipse cx="125.0" cy="347.0" rx="1.0" ry="0.8" transform="rotate(7 125.0 347.0)" fill="#ff40a0" opacity="0.97"/><ellipse cx="208.4" cy="299.5" rx="0.6" ry="0.5" transform="rotate(144 208.4 299.5)" fill="#ff2080" opacity="0.97"/><ellipse cx="190.6" cy="329.0" rx="0.6" ry="0.7" transform="rotate(180 190.6 329.0)" fill="#ff40a0" opacity="0.77"/><ellipse cx="144.5" cy="343.5" rx="0.7" ry="0.6" transform="rotate(29 144.5 343.5)" fill="#c01880" opacity="0.66"/><ellipse cx="193.8" cy="297.3" rx="0.8" ry="0.6" transform="rotate(129 193.8 297.3)" fill="#c01880" opacity="0.74"/><ellipse cx="167.9" cy="369.9" rx="0.6" ry="0.5" transform="rotate(101 167.9 369.9)" fill="#e01070" opacity="0.57"/><ellipse cx="135.8" cy="319.4" rx="0.8" ry="0.5" transform="rotate(137 135.8 319.4)" fill="#e01070" opacity="0.73"/><ellipse cx="130.5" cy="359.6" rx="0.5" ry="0.4" transform="rotate(149 130.5 359.6)" fill="#c01880" opacity="0.54"/><ellipse cx="208.9" cy="309.8" rx="1.0" ry="0.6" transform="rotate(139 208.9 309.8)" fill="#ff40a0" opacity="0.92"/><ellipse cx="138.4" cy="348.7" rx="0.6" ry="0.6" transform="rotate(136 138.4 348.7)" fill="#ff40a0" opacity="0.86"/><ellipse cx="117.3" cy="366.5" rx="1.0" ry="0.7" transform="rotate(102 117.3 366.5)" fill="#c01880" opacity="0.92"/><ellipse cx="125.4" cy="318.1" rx="0.5" ry="0.5" transform="rotate(152 125.4 318.1)" fill="#c01880" opacity="0.82"/><ellipse cx="219.8" cy="319.8" rx="1.0" ry="0.8" transform="rotate(82 219.8 319.8)" fill="#e01070" opacity="0.89"/><ellipse cx="121.4" cy="356.1" rx="1.0" ry="0.6" transform="rotate(76 121.4 356.1)" fill="#ff40a0" opacity="0.69"/><ellipse cx="140.2" cy="328.1" rx="0.4" ry="0.3" transform="rotate(103 140.2 328.1)" fill="#e01070" opacity="0.79"/><ellipse cx="123.5" cy="316.0" rx="0.7" ry="0.7" transform="rotate(130 123.5 316.0)" fill="#c01880" opacity="0.74"/><ellipse cx="144.6" cy="326.3" rx="0.6" ry="0.5" transform="rotate(140 144.6 326.3)" fill="#e01070" opacity="0.71"/><ellipse cx="166.6" cy="317.2" rx="0.8" ry="0.6" transform="rotate(69 166.6 317.2)" fill="#ff2080" opacity="0.50"/><ellipse cx="132.3" cy="334.8" rx="0.6" ry="0.8" transform="rotate(106 132.3 334.8)" fill="#e01070" opacity="0.91"/><ellipse cx="114.8" cy="337.9" rx="0.9" ry="0.7" transform="rotate(122 114.8 337.9)" fill="#ff40a0" opacity="0.79"/><ellipse cx="118.2" cy="379.6" rx="0.9" ry="0.7" transform="rotate(11 118.2 379.6)" fill="#e01070" opacity="0.72"/><ellipse cx="128.6" cy="381.2" rx="0.5" ry="0.4" transform="rotate(107 128.6 381.2)" fill="#e01070" opacity="0.54"/><ellipse cx="168.0" cy="304.7" rx="0.4" ry="0.4" transform="rotate(18 168.0 304.7)" fill="#ff2080" opacity="0.96"/><ellipse cx="194.5" cy="297.7" rx="0.4" ry="0.3" transform="rotate(162 194.5 297.7)" fill="#ff40a0" opacity="0.80"/><ellipse cx="138.7" cy="341.7" rx="0.4" ry="0.3" transform="rotate(172 138.7 341.7)" fill="#c01880" opacity="0.64"/><ellipse cx="145.4" cy="313.3" rx="0.8" ry="0.7" transform="rotate(109 145.4 313.3)" fill="#ff40a0" opacity="0.55"/><ellipse cx="223.0" cy="299.3" rx="0.7" ry="0.6" transform="rotate(6 223.0 299.3)" fill="#ff40a0" opacity="0.97"/><ellipse cx="141.3" cy="326.7" rx="0.8" ry="0.8" transform="rotate(141 141.3 326.7)" fill="#c01880" opacity="0.67"/><ellipse cx="144.3" cy="349.3" rx="0.4" ry="0.3" transform="rotate(104 144.3 349.3)" fill="#ff40a0" opacity="0.63"/><ellipse cx="205.9" cy="327.6" rx="0.7" ry="0.6" transform="rotate(48 205.9 327.6)" fill="#ff40a0" opacity="0.67"/><ellipse cx="130.7" cy="297.2" rx="0.6" ry="0.6" transform="rotate(161 130.7 297.2)" fill="#ff40a0" opacity="0.56"/><ellipse cx="140.3" cy="346.7" rx="0.8" ry="0.7" transform="rotate(103 140.3 346.7)" fill="#c01880" opacity="0.60"/><ellipse cx="202.9" cy="291.5" rx="0.8" ry="0.5" transform="rotate(88 202.9 291.5)" fill="#e01070" opacity="0.58"/><ellipse cx="120.6" cy="330.1" rx="0.8" ry="0.7" transform="rotate(161 120.6 330.1)" fill="#ff2080" opacity="0.75"/><ellipse cx="118.0" cy="346.8" rx="0.6" ry="0.6" transform="rotate(17 118.0 346.8)" fill="#c01880" opacity="0.65"/><ellipse cx="213.0" cy="300.0" rx="0.7" ry="0.7" transform="rotate(105 213.0 300.0)" fill="#e01070" opacity="0.64"/><ellipse cx="216.0" cy="353.5" rx="0.7" ry="0.6" transform="rotate(155 216.0 353.5)" fill="#c01880" opacity="0.85"/><ellipse cx="133.2" cy="340.6" rx="0.6" ry="0.4" transform="rotate(146 133.2 340.6)" fill="#c01880" opacity="0.76"/><ellipse cx="143.2" cy="350.1" rx="1.0" ry="0.6" transform="rotate(41 143.2 350.1)" fill="#c01880" opacity="0.90"/><ellipse cx="131.1" cy="329.9" rx="0.5" ry="0.4" transform="rotate(101 131.1 329.9)" fill="#c01880" opacity="0.63"/><ellipse cx="211.1" cy="349.8" rx="0.4" ry="0.3" transform="rotate(146 211.1 349.8)" fill="#e01070" opacity="0.83"/><ellipse cx="133.2" cy="329.7" rx="0.4" ry="0.4" transform="rotate(76 133.2 329.7)" fill="#c01880" opacity="0.66"/><ellipse cx="130.5" cy="364.2" rx="0.5" ry="0.4" transform="rotate(156 130.5 364.2)" fill="#c01880" opacity="0.71"/><ellipse cx="169.2" cy="300.8" rx="0.7" ry="0.7" transform="rotate(61 169.2 300.8)" fill="#c01880" opacity="0.83"/><ellipse cx="216.6" cy="305.8" rx="0.5" ry="0.3" transform="rotate(22 216.6 305.8)" fill="#ff2080" opacity="0.90"/><ellipse cx="196.3" cy="337.8" rx="0.6" ry="0.6" transform="rotate(149 196.3 337.8)" fill="#e01070" opacity="0.86"/><ellipse cx="139.8" cy="369.7" rx="0.8" ry="0.6" transform="rotate(141 139.8 369.7)" fill="#e01070" opacity="0.57"/><ellipse cx="215.1" cy="326.3" rx="0.9" ry="0.6" transform="rotate(45 215.1 326.3)" fill="#c01880" opacity="0.71"/><ellipse cx="124.6" cy="326.5" rx="0.7" ry="0.8" transform="rotate(108 124.6 326.5)" fill="#e01070" opacity="0.67"/><ellipse cx="136.3" cy="328.9" rx="0.6" ry="0.5" transform="rotate(151 136.3 328.9)" fill="#c01880" opacity="0.63"/><ellipse cx="171.2" cy="361.6" rx="0.5" ry="0.4" transform="rotate(170 171.2 361.6)" fill="#e01070" opacity="0.60"/><ellipse cx="118.3" cy="347.7" rx="0.7" ry="0.7" transform="rotate(1 118.3 347.7)" fill="#ff2080" opacity="0.67"/><ellipse cx="203.3" cy="335.5" rx="0.7" ry="0.6" transform="rotate(156 203.3 335.5)" fill="#e01070" opacity="0.76"/><ellipse cx="141.8" cy="316.2" rx="0.6" ry="0.5" transform="rotate(92 141.8 316.2)" fill="#e01070" opacity="0.90"/><ellipse cx="212.7" cy="292.6" rx="0.9" ry="0.7" transform="rotate(97 212.7 292.6)" fill="#ff40a0" opacity="0.79"/><ellipse cx="223.9" cy="353.2" rx="0.3" ry="0.4" transform="rotate(150 223.9 353.2)" fill="#c01880" opacity="0.88"/><ellipse cx="213.5" cy="292.2" rx="0.8" ry="0.5" transform="rotate(76 213.5 292.2)" fill="#ff2080" opacity="0.78"/><ellipse cx="125.7" cy="358.1" rx="0.9" ry="0.7" transform="rotate(69 125.7 358.1)" fill="#ff2080" opacity="0.52"/><ellipse cx="145.3" cy="318.3" rx="0.5" ry="0.5" transform="rotate(142 145.3 318.3)" fill="#e01070" opacity="0.95"/><ellipse cx="216.2" cy="329.7" rx="0.5" ry="0.4" transform="rotate(87 216.2 329.7)" fill="#ff40a0" opacity="0.72"/><ellipse cx="196.0" cy="292.6" rx="1.0" ry="0.7" transform="rotate(60 196.0 292.6)" fill="#e01070" opacity="0.55"/><ellipse cx="218.8" cy="293.4" rx="0.6" ry="0.6" transform="rotate(27 218.8 293.4)" fill="#ff40a0" opacity="0.97"/><ellipse cx="222.4" cy="376.1" rx="0.5" ry="0.4" transform="rotate(49 222.4 376.1)" fill="#c01880" opacity="0.92"/><ellipse cx="153.9" cy="318.2" rx="0.9" ry="0.8" transform="rotate(33 153.9 318.2)" fill="#e01070" opacity="0.68"/><ellipse cx="123.3" cy="330.5" rx="0.5" ry="0.4" transform="rotate(30 123.3 330.5)" fill="#ff40a0" opacity="0.87"/><ellipse cx="132.3" cy="365.7" rx="0.6" ry="0.5" transform="rotate(144 132.3 365.7)" fill="#ff40a0" opacity="0.72"/><ellipse cx="122.6" cy="338.3" rx="0.4" ry="0.3" transform="rotate(17 122.6 338.3)" fill="#ff40a0" opacity="0.62"/><ellipse cx="140.1" cy="315.4" rx="0.8" ry="0.8" transform="rotate(155 140.1 315.4)" fill="#e01070" opacity="0.95"/><ellipse cx="131.8" cy="356.8" rx="0.7" ry="0.5" transform="rotate(79 131.8 356.8)" fill="#ff2080" opacity="0.89"/><ellipse cx="168.0" cy="350.8" rx="0.4" ry="0.4" transform="rotate(101 168.0 350.8)" fill="#ff40a0" opacity="0.76"/><ellipse cx="131.3" cy="372.2" rx="0.7" ry="0.6" transform="rotate(140 131.3 372.2)" fill="#ff2080" opacity="0.99"/><ellipse cx="192.4" cy="301.1" rx="0.7" ry="0.6" transform="rotate(57 192.4 301.1)" fill="#ff2080" opacity="0.83"/><ellipse cx="118.4" cy="373.9" rx="0.5" ry="0.5" transform="rotate(126 118.4 373.9)" fill="#ff40a0" opacity="0.98"/><ellipse cx="209.2" cy="334.3" rx="1.0" ry="0.7" transform="rotate(40 209.2 334.3)" fill="#c01880" opacity="0.78"/><ellipse cx="125.8" cy="349.3" rx="0.5" ry="0.4" transform="rotate(33 125.8 349.3)" fill="#ff2080" opacity="0.52"/><ellipse cx="139.7" cy="339.9" rx="0.5" ry="0.6" transform="rotate(48 139.7 339.9)" fill="#c01880" opacity="0.92"/><ellipse cx="218.6" cy="365.3" rx="0.5" ry="0.6" transform="rotate(75 218.6 365.3)" fill="#ff2080" opacity="0.99"/><ellipse cx="136.5" cy="346.4" rx="0.5" ry="0.4" transform="rotate(126 136.5 346.4)" fill="#ff2080" opacity="0.87"/><ellipse cx="142.2" cy="312.4" rx="0.7" ry="0.5" transform="rotate(75 142.2 312.4)" fill="#ff40a0" opacity="0.63"/><ellipse cx="126.0" cy="360.0" rx="0.7" ry="0.5" transform="rotate(125 126.0 360.0)" fill="#e01070" opacity="0.65"/><ellipse cx="225.3" cy="343.3" rx="0.4" ry="0.4" transform="rotate(3 225.3 343.3)" fill="#ff2080" opacity="0.51"/><ellipse cx="201.8" cy="333.4" rx="0.9" ry="0.8" transform="rotate(2 201.8 333.4)" fill="#ff40a0" opacity="0.90"/><ellipse cx="191.5" cy="292.5" rx="0.8" ry="0.5" transform="rotate(103 191.5 292.5)" fill="#c01880" opacity="0.87"/><ellipse cx="219.5" cy="292.7" rx="0.7" ry="0.7" transform="rotate(123 219.5 292.7)" fill="#c01880" opacity="0.65"/><ellipse cx="215.9" cy="301.1" rx="0.6" ry="0.5" transform="rotate(168 215.9 301.1)" fill="#ff2080" opacity="0.54"/><ellipse cx="217.2" cy="301.6" rx="0.5" ry="0.3" transform="rotate(148 217.2 301.6)" fill="#ff2080" opacity="0.59"/><ellipse cx="116.1" cy="354.7" rx="0.5" ry="0.5" transform="rotate(169 116.1 354.7)" fill="#ff2080" opacity="0.85"/><ellipse cx="125.9" cy="319.0" rx="0.6" ry="0.4" transform="rotate(134 125.9 319.0)" fill="#ff40a0" opacity="0.77"/><ellipse cx="222.4" cy="303.4" rx="1.0" ry="0.8" transform="rotate(106 222.4 303.4)" fill="#e01070" opacity="0.86"/><ellipse cx="201.1" cy="293.4" rx="0.7" ry="0.8" transform="rotate(168 201.1 293.4)" fill="#c01880" opacity="0.56"/><ellipse cx="141.8" cy="356.9" rx="0.4" ry="0.4" transform="rotate(44 141.8 356.9)" fill="#c01880" opacity="0.96"/><ellipse cx="147.0" cy="323.5" rx="0.6" ry="0.5" transform="rotate(64 147.0 323.5)" fill="#ff40a0" opacity="0.91"/><ellipse cx="120.8" cy="381.0" rx="0.4" ry="0.4" transform="rotate(13 120.8 381.0)" fill="#ff2080" opacity="0.82"/><ellipse cx="195.6" cy="352.0" rx="0.9" ry="0.7" transform="rotate(57 195.6 352.0)" fill="#c01880" opacity="0.74"/><ellipse cx="115.4" cy="342.2" rx="0.7" ry="0.5" transform="rotate(155 115.4 342.2)" fill="#ff2080" opacity="0.75"/><ellipse cx="201.0" cy="292.0" rx="0.6" ry="0.5" transform="rotate(59 201.0 292.0)" fill="#c01880" opacity="0.59"/><ellipse cx="214.9" cy="348.2" rx="0.6" ry="0.7" transform="rotate(98 214.9 348.2)" fill="#e01070" opacity="0.98"/><ellipse cx="140.6" cy="359.6" rx="0.8" ry="0.6" transform="rotate(117 140.6 359.6)" fill="#c01880" opacity="0.67"/><ellipse cx="213.3" cy="322.3" rx="0.7" ry="0.6" transform="rotate(106 213.3 322.3)" fill="#ff2080" opacity="0.68"/><ellipse cx="116.0" cy="371.0" rx="0.6" ry="0.5" transform="rotate(141 116.0 371.0)" fill="#c01880" opacity="0.67"/><ellipse cx="174.7" cy="369.8" rx="0.5" ry="0.5" transform="rotate(42 174.7 369.8)" fill="#ff40a0" opacity="0.56"/><ellipse cx="175.7" cy="312.7" rx="1.0" ry="0.9" transform="rotate(145 175.7 312.7)" fill="#ff2080" opacity="0.59"/><ellipse cx="120.4" cy="311.9" rx="0.5" ry="0.4" transform="rotate(114 120.4 311.9)" fill="#ff2080" opacity="0.98"/><ellipse cx="127.2" cy="377.0" rx="0.9" ry="0.8" transform="rotate(27 127.2 377.0)" fill="#ff40a0" opacity="0.50"/><ellipse cx="138.8" cy="326.4" rx="0.5" ry="0.3" transform="rotate(144 138.8 326.4)" fill="#e01070" opacity="0.68"/><ellipse cx="133.1" cy="371.8" rx="0.7" ry="0.6" transform="rotate(114 133.1 371.8)" fill="#ff2080" opacity="0.97"/><ellipse cx="193.6" cy="319.5" rx="0.6" ry="0.6" transform="rotate(108 193.6 319.5)" fill="#ff40a0" opacity="0.95"/><ellipse cx="209.1" cy="299.2" rx="0.6" ry="0.4" transform="rotate(42 209.1 299.2)" fill="#ff2080" opacity="0.56"/></g>
<ellipse cx="169.2" cy="336" rx="13.4" ry="13.6" fill="#2828ff" filter="url(#bl05)"/>
<path d="M169.3 324.2C174 324 177.5 325.5 178.5 327C180.5 329.5 181 332 180.7 334.7C180.5 339 178.5 343 176.3 345.2C173.5 347.5 170.5 348.2 167.5 348.1C163.5 347.5 161 345.5 159.9 342.9C158 340 157.2 338 157.3 335.9C157.5 332 159.5 329.5 163.4 327.7C165.5 326 167.5 324.5 169.3 324.2Z" fill="#000"/>
<circle cx="135.5" cy="357.5" r="1.3" fill="#000"/><circle cx="201" cy="352.2" r="1.5" fill="#000"/>
<path d="M170.4 382.6C165 379 160 376.5 154.3 373.3C148 369.5 142 366 137.4 362.3C132 358 128.5 354 126.4 349.6C124.3 344.5 123.5 339.5 123.9 334.4C124.5 329.5 126 325.5 128.1 322.5C132 317 136 314.5 140.8 312.3C147 309.5 154 308 161.1 307.3C168 306.5 176 305.5 183.1 305.6C190 305.8 194.5 307.5 198.4 310.6C202.5 313.5 206 316 208.5 319.1C211 322.5 212.8 326.5 213.6 331C214.3 335 214.6 339 214.5 342.8C214.3 346.5 213.4 350 211.9 353C209.8 357 207 359.8 203.4 362.3C198 366 192 369 186.5 371.6C183 373.5 179.5 376 176.4 378.4C174.5 379.8 172.5 381.2 170.4 382.6" fill="none" stroke="#e8e8e8" stroke-width="1.1" stroke-dasharray="3.2 2.4"/>
<rect x="210.2" y="379.7" width="10.7" height="2.5" fill="#fff"/>
<text x="203.4" y="288.1" fill="#fff">PAG</text>
<text x="118.9" y="380.8" fill="#ff1a8c">mCherry</text>
</g>
<g clip-path="url(#cd3)">
<rect x="1" y="387.1" width="111" height="110.89999999999998" fill="#1612e6"/>
<rect x="1" y="387.1" width="111" height="110.89999999999998" fill="#000" filter="url(#ndb41)"/>
<rect x="1" y="387.1" width="111" height="110.89999999999998" fill="#000" filter="url(#nd3)"/>
<path d="M1 387.1H8C6 392 4 398 2.5 404C2 406 1.5 408 1 410Z" fill="#2f2fff" filter="url(#bl05)"/>
<path d="M12 387.1H34C29 389.5 24 393 19.5 398C15 403 11.5 409 9 415C7 419 5 423 3.5 427C2.8 429 2 431 1 432V418C3 412 6 405 9 399C10 395 11 391 12 387.1Z" fill="#08045a" opacity="0.8" filter="url(#bl1)"/>
<g><ellipse cx="20.6" cy="412.1" rx="0.6" ry="0.4" transform="rotate(124 20.6 412.1)" fill="#ff2080" opacity="0.65"/><ellipse cx="42.0" cy="439.3" rx="0.5" ry="0.3" transform="rotate(133 42.0 439.3)" fill="#ff40a0" opacity="1.00"/><ellipse cx="45.9" cy="427.1" rx="0.5" ry="0.4" transform="rotate(9 45.9 427.1)" fill="#ff2080" opacity="0.81"/><ellipse cx="72.6" cy="417.3" rx="0.4" ry="0.4" transform="rotate(154 72.6 417.3)" fill="#e01070" opacity="0.99"/><ellipse cx="39.3" cy="436.3" rx="0.6" ry="0.5" transform="rotate(149 39.3 436.3)" fill="#ff40a0" opacity="0.62"/><ellipse cx="78.8" cy="449.2" rx="0.8" ry="0.6" transform="rotate(81 78.8 449.2)" fill="#e01070" opacity="0.57"/><ellipse cx="71.5" cy="463.6" rx="0.7" ry="0.6" transform="rotate(81 71.5 463.6)" fill="#ff40a0" opacity="0.61"/><ellipse cx="77.8" cy="468.7" rx="0.4" ry="0.3" transform="rotate(30 77.8 468.7)" fill="#e01070" opacity="0.77"/><ellipse cx="32.2" cy="477.2" rx="0.6" ry="0.5" transform="rotate(57 32.2 477.2)" fill="#ff40a0" opacity="0.83"/><ellipse cx="14.0" cy="388.9" rx="0.4" ry="0.4" transform="rotate(161 14.0 388.9)" fill="#ff40a0" opacity="0.85"/><ellipse cx="31.3" cy="429.0" rx="0.4" ry="0.3" transform="rotate(73 31.3 429.0)" fill="#ff40a0" opacity="0.90"/><ellipse cx="56.1" cy="429.0" rx="0.5" ry="0.3" transform="rotate(86 56.1 429.0)" fill="#ff40a0" opacity="0.82"/><ellipse cx="105.7" cy="435.6" rx="0.5" ry="0.3" transform="rotate(120 105.7 435.6)" fill="#ff40a0" opacity="0.66"/><ellipse cx="62.9" cy="479.5" rx="0.5" ry="0.4" transform="rotate(96 62.9 479.5)" fill="#ff40a0" opacity="0.52"/><ellipse cx="49.2" cy="463.9" rx="0.5" ry="0.5" transform="rotate(14 49.2 463.9)" fill="#ff40a0" opacity="0.69"/><ellipse cx="72.8" cy="472.9" rx="0.4" ry="0.3" transform="rotate(146 72.8 472.9)" fill="#ff2080" opacity="0.77"/><ellipse cx="3.9" cy="408.9" rx="0.5" ry="0.4" transform="rotate(35 3.9 408.9)" fill="#ff40a0" opacity="0.88"/><ellipse cx="36.4" cy="424.3" rx="0.5" ry="0.4" transform="rotate(47 36.4 424.3)" fill="#ff2080" opacity="0.68"/><ellipse cx="60.0" cy="410.7" rx="0.6" ry="0.6" transform="rotate(172 60.0 410.7)" fill="#ff2080" opacity="0.84"/><ellipse cx="37.2" cy="417.6" rx="0.6" ry="0.4" transform="rotate(110 37.2 417.6)" fill="#ff2080" opacity="0.80"/><ellipse cx="58.9" cy="470.7" rx="0.7" ry="0.6" transform="rotate(29 58.9 470.7)" fill="#ff40a0" opacity="0.95"/><ellipse cx="4.8" cy="416.4" rx="0.4" ry="0.4" transform="rotate(33 4.8 416.4)" fill="#e01070" opacity="0.82"/><ellipse cx="49.0" cy="434.1" rx="0.8" ry="0.5" transform="rotate(36 49.0 434.1)" fill="#ff2080" opacity="0.98"/><ellipse cx="44.2" cy="473.2" rx="0.5" ry="0.4" transform="rotate(104 44.2 473.2)" fill="#ff40a0" opacity="0.62"/><ellipse cx="20.5" cy="437.4" rx="0.3" ry="0.4" transform="rotate(110 20.5 437.4)" fill="#e01070" opacity="0.52"/><ellipse cx="30.9" cy="427.8" rx="0.5" ry="0.5" transform="rotate(84 30.9 427.8)" fill="#e01070" opacity="0.68"/><ellipse cx="33.4" cy="432.2" rx="0.5" ry="0.5" transform="rotate(152 33.4 432.2)" fill="#ff2080" opacity="0.83"/><ellipse cx="83.3" cy="469.7" rx="0.6" ry="0.5" transform="rotate(48 83.3 469.7)" fill="#ff2080" opacity="0.83"/><ellipse cx="65.5" cy="426.8" rx="0.4" ry="0.4" transform="rotate(46 65.5 426.8)" fill="#ff2080" opacity="0.59"/><ellipse cx="25.4" cy="439.4" rx="0.3" ry="0.4" transform="rotate(2 25.4 439.4)" fill="#e01070" opacity="0.65"/><ellipse cx="47.9" cy="435.4" rx="0.6" ry="0.5" transform="rotate(145 47.9 435.4)" fill="#ff40a0" opacity="0.90"/><ellipse cx="54.0" cy="430.1" rx="0.4" ry="0.4" transform="rotate(127 54.0 430.1)" fill="#e01070" opacity="0.80"/><ellipse cx="42.8" cy="478.5" rx="0.5" ry="0.3" transform="rotate(75 42.8 478.5)" fill="#ff40a0" opacity="0.68"/><ellipse cx="26.1" cy="420.7" rx="0.6" ry="0.6" transform="rotate(113 26.1 420.7)" fill="#ff40a0" opacity="0.93"/><ellipse cx="36.0" cy="453.8" rx="0.4" ry="0.3" transform="rotate(136 36.0 453.8)" fill="#ff40a0" opacity="0.73"/><ellipse cx="43.5" cy="419.5" rx="0.6" ry="0.4" transform="rotate(13 43.5 419.5)" fill="#e01070" opacity="0.67"/><ellipse cx="107.4" cy="444.5" rx="0.5" ry="0.5" transform="rotate(112 107.4 444.5)" fill="#ff2080" opacity="0.99"/><ellipse cx="26.8" cy="434.3" rx="0.5" ry="0.5" transform="rotate(36 26.8 434.3)" fill="#ff2080" opacity="0.78"/><ellipse cx="22.5" cy="459.9" rx="0.3" ry="0.4" transform="rotate(141 22.5 459.9)" fill="#e01070" opacity="0.99"/><ellipse cx="88.6" cy="434.5" rx="0.5" ry="0.4" transform="rotate(82 88.6 434.5)" fill="#e01070" opacity="0.85"/><ellipse cx="37.3" cy="463.6" rx="0.5" ry="0.4" transform="rotate(53 37.3 463.6)" fill="#ff40a0" opacity="0.87"/><ellipse cx="88.6" cy="464.0" rx="0.6" ry="0.5" transform="rotate(2 88.6 464.0)" fill="#ff2080" opacity="0.97"/><ellipse cx="5.3" cy="455.5" rx="0.3" ry="0.3" transform="rotate(32 5.3 455.5)" fill="#e01070" opacity="0.63"/><ellipse cx="52.1" cy="423.0" rx="0.8" ry="0.5" transform="rotate(139 52.1 423.0)" fill="#ff40a0" opacity="0.64"/><ellipse cx="47.3" cy="393.9" rx="0.5" ry="0.3" transform="rotate(115 47.3 393.9)" fill="#ff2080" opacity="0.76"/><ellipse cx="11.5" cy="496.3" rx="0.7" ry="0.6" transform="rotate(71 11.5 496.3)" fill="#e01070" opacity="0.84"/><ellipse cx="64.4" cy="481.9" rx="0.5" ry="0.3" transform="rotate(149 64.4 481.9)" fill="#ff2080" opacity="0.73"/><ellipse cx="76.8" cy="482.0" rx="0.7" ry="0.5" transform="rotate(89 76.8 482.0)" fill="#ff40a0" opacity="0.76"/><ellipse cx="34.9" cy="427.1" rx="0.7" ry="0.6" transform="rotate(20 34.9 427.1)" fill="#e01070" opacity="0.54"/><ellipse cx="67.3" cy="486.9" rx="0.6" ry="0.4" transform="rotate(134 67.3 486.9)" fill="#e01070" opacity="0.91"/><ellipse cx="51.9" cy="481.2" rx="0.4" ry="0.5" transform="rotate(171 51.9 481.2)" fill="#ff40a0" opacity="0.56"/><ellipse cx="40.0" cy="424.0" rx="0.6" ry="0.5" transform="rotate(142 40.0 424.0)" fill="#ff2080" opacity="0.60"/><ellipse cx="71.8" cy="487.5" rx="0.7" ry="0.5" transform="rotate(96 71.8 487.5)" fill="#ff2080" opacity="0.83"/><ellipse cx="30.1" cy="419.6" rx="0.4" ry="0.4" transform="rotate(154 30.1 419.6)" fill="#ff2080" opacity="0.96"/><ellipse cx="104.2" cy="407.7" rx="0.5" ry="0.5" transform="rotate(179 104.2 407.7)" fill="#e01070" opacity="0.91"/><ellipse cx="65.3" cy="406.5" rx="0.7" ry="0.5" transform="rotate(106 65.3 406.5)" fill="#e01070" opacity="0.81"/><ellipse cx="17.2" cy="397.4" rx="0.5" ry="0.5" transform="rotate(93 17.2 397.4)" fill="#ff2080" opacity="0.50"/><ellipse cx="40.2" cy="403.4" rx="0.5" ry="0.4" transform="rotate(45 40.2 403.4)" fill="#ff40a0" opacity="0.63"/><ellipse cx="73.9" cy="457.8" rx="0.5" ry="0.5" transform="rotate(152 73.9 457.8)" fill="#ff40a0" opacity="0.68"/><ellipse cx="45.5" cy="419.8" rx="0.5" ry="0.5" transform="rotate(132 45.5 419.8)" fill="#ff40a0" opacity="0.94"/><ellipse cx="35.9" cy="426.6" rx="0.6" ry="0.4" transform="rotate(84 35.9 426.6)" fill="#ff40a0" opacity="0.84"/><ellipse cx="40.6" cy="421.2" rx="0.6" ry="0.5" transform="rotate(30 40.6 421.2)" fill="#ff2080" opacity="0.93"/><ellipse cx="2.7" cy="440.3" rx="0.5" ry="0.5" transform="rotate(4 2.7 440.3)" fill="#e01070" opacity="0.96"/><ellipse cx="23.5" cy="431.8" rx="0.5" ry="0.4" transform="rotate(132 23.5 431.8)" fill="#e01070" opacity="0.73"/><ellipse cx="96.2" cy="404.6" rx="0.6" ry="0.6" transform="rotate(86 96.2 404.6)" fill="#e01070" opacity="0.87"/><ellipse cx="81.4" cy="474.5" rx="0.7" ry="0.6" transform="rotate(118 81.4 474.5)" fill="#e01070" opacity="0.66"/><ellipse cx="39.7" cy="487.4" rx="0.4" ry="0.4" transform="rotate(90 39.7 487.4)" fill="#e01070" opacity="0.80"/><ellipse cx="5.3" cy="441.5" rx="0.5" ry="0.4" transform="rotate(119 5.3 441.5)" fill="#ff2080" opacity="0.83"/><ellipse cx="80.7" cy="450.4" rx="0.6" ry="0.6" transform="rotate(37 80.7 450.4)" fill="#e01070" opacity="0.60"/><ellipse cx="107.2" cy="402.5" rx="0.4" ry="0.4" transform="rotate(56 107.2 402.5)" fill="#e01070" opacity="0.50"/><ellipse cx="54.7" cy="488.9" rx="0.6" ry="0.6" transform="rotate(13 54.7 488.9)" fill="#e01070" opacity="0.62"/><ellipse cx="90.0" cy="473.0" rx="0.5" ry="0.6" transform="rotate(7 90.0 473.0)" fill="#e01070" opacity="0.92"/><ellipse cx="75.0" cy="472.9" rx="0.6" ry="0.6" transform="rotate(162 75.0 472.9)" fill="#ff2080" opacity="0.86"/><ellipse cx="46.0" cy="476.7" rx="0.5" ry="0.5" transform="rotate(138 46.0 476.7)" fill="#ff40a0" opacity="0.86"/><ellipse cx="42.6" cy="462.9" rx="0.6" ry="0.6" transform="rotate(21 42.6 462.9)" fill="#e01070" opacity="0.56"/><ellipse cx="21.4" cy="439.1" rx="0.6" ry="0.5" transform="rotate(147 21.4 439.1)" fill="#ff40a0" opacity="0.86"/><ellipse cx="22.4" cy="413.2" rx="0.6" ry="0.5" transform="rotate(85 22.4 413.2)" fill="#ff2080" opacity="0.85"/><ellipse cx="86.5" cy="434.9" rx="0.5" ry="0.3" transform="rotate(180 86.5 434.9)" fill="#ff2080" opacity="0.57"/><ellipse cx="38.9" cy="464.9" rx="0.6" ry="0.4" transform="rotate(170 38.9 464.9)" fill="#ff2080" opacity="0.89"/><ellipse cx="46.2" cy="468.3" rx="0.5" ry="0.4" transform="rotate(54 46.2 468.3)" fill="#ff40a0" opacity="0.64"/><ellipse cx="28.2" cy="417.3" rx="0.4" ry="0.3" transform="rotate(3 28.2 417.3)" fill="#ff2080" opacity="0.55"/><ellipse cx="80.4" cy="467.5" rx="0.7" ry="0.5" transform="rotate(83 80.4 467.5)" fill="#e01070" opacity="0.75"/><ellipse cx="24.1" cy="412.8" rx="0.5" ry="0.4" transform="rotate(52 24.1 412.8)" fill="#e01070" opacity="0.57"/><ellipse cx="53.9" cy="449.6" rx="0.5" ry="0.4" transform="rotate(3 53.9 449.6)" fill="#ff2080" opacity="0.98"/><ellipse cx="30.2" cy="459.0" rx="0.7" ry="0.6" transform="rotate(164 30.2 459.0)" fill="#e01070" opacity="0.74"/><ellipse cx="38.4" cy="487.7" rx="0.4" ry="0.4" transform="rotate(104 38.4 487.7)" fill="#e01070" opacity="0.57"/><ellipse cx="16.5" cy="419.0" rx="0.6" ry="0.5" transform="rotate(19 16.5 419.0)" fill="#e01070" opacity="0.74"/><ellipse cx="48.4" cy="423.2" rx="0.7" ry="0.5" transform="rotate(41 48.4 423.2)" fill="#e01070" opacity="0.95"/><ellipse cx="50.7" cy="459.1" rx="0.7" ry="0.5" transform="rotate(95 50.7 459.1)" fill="#ff2080" opacity="0.92"/><ellipse cx="65.8" cy="431.0" rx="0.4" ry="0.4" transform="rotate(58 65.8 431.0)" fill="#e01070" opacity="0.66"/><ellipse cx="32.5" cy="430.9" rx="0.5" ry="0.4" transform="rotate(120 32.5 430.9)" fill="#ff2080" opacity="0.96"/><ellipse cx="59.7" cy="440.8" rx="0.7" ry="0.5" transform="rotate(144 59.7 440.8)" fill="#ff2080" opacity="0.98"/><ellipse cx="26.3" cy="435.0" rx="0.5" ry="0.5" transform="rotate(140 26.3 435.0)" fill="#e01070" opacity="0.71"/><ellipse cx="43.8" cy="418.0" rx="0.6" ry="0.5" transform="rotate(71 43.8 418.0)" fill="#ff2080" opacity="0.60"/><ellipse cx="101.7" cy="407.6" rx="0.6" ry="0.6" transform="rotate(141 101.7 407.6)" fill="#ff2080" opacity="0.99"/><ellipse cx="56.2" cy="427.6" rx="0.8" ry="0.5" transform="rotate(121 56.2 427.6)" fill="#e01070" opacity="0.83"/><ellipse cx="57.7" cy="470.0" rx="0.5" ry="0.6" transform="rotate(13 57.7 470.0)" fill="#e01070" opacity="0.68"/><ellipse cx="73.9" cy="427.6" rx="0.7" ry="0.5" transform="rotate(155 73.9 427.6)" fill="#ff40a0" opacity="0.87"/><ellipse cx="45.6" cy="409.3" rx="0.7" ry="0.6" transform="rotate(69 45.6 409.3)" fill="#ff2080" opacity="0.57"/><ellipse cx="88.5" cy="411.5" rx="0.5" ry="0.6" transform="rotate(124 88.5 411.5)" fill="#ff40a0" opacity="0.73"/><ellipse cx="44.2" cy="465.7" rx="0.6" ry="0.6" transform="rotate(130 44.2 465.7)" fill="#e01070" opacity="0.61"/><ellipse cx="81.3" cy="464.1" rx="0.5" ry="0.4" transform="rotate(127 81.3 464.1)" fill="#ff40a0" opacity="0.90"/><ellipse cx="35.0" cy="413.4" rx="0.5" ry="0.4" transform="rotate(71 35.0 413.4)" fill="#e01070" opacity="0.99"/><ellipse cx="66.5" cy="457.1" rx="0.5" ry="0.4" transform="rotate(61 66.5 457.1)" fill="#ff2080" opacity="0.59"/><ellipse cx="91.7" cy="468.1" rx="0.4" ry="0.3" transform="rotate(115 91.7 468.1)" fill="#ff40a0" opacity="0.89"/><ellipse cx="56.4" cy="430.8" rx="0.5" ry="0.4" transform="rotate(83 56.4 430.8)" fill="#ff2080" opacity="0.78"/><ellipse cx="45.7" cy="430.1" rx="0.5" ry="0.4" transform="rotate(50 45.7 430.1)" fill="#e01070" opacity="0.52"/><ellipse cx="78.8" cy="476.9" rx="0.6" ry="0.6" transform="rotate(20 78.8 476.9)" fill="#e01070" opacity="0.51"/><ellipse cx="70.3" cy="481.8" rx="0.4" ry="0.4" transform="rotate(173 70.3 481.8)" fill="#ff40a0" opacity="0.98"/><ellipse cx="35.6" cy="433.8" rx="0.6" ry="0.6" transform="rotate(146 35.6 433.8)" fill="#ff40a0" opacity="0.72"/></g>
<path d="M88.6 435.8C90.3 438 91.3 440.5 91.3 442.5C91.3 445 90 446.8 88.4 446.8C86.7 446.8 85.6 445 85.7 442.8C85.8 440.3 87 437.8 88.6 435.8Z" fill="#000" stroke="#3535ff" stroke-width="0.8"/>
<path d="M38.1 387.7C33 391 29 393.5 25.4 395.9C21 399.5 18 403.5 15.2 407.7C12 412 9 416 6.8 419.6C4.5 423.5 3.2 426.5 3 429.7C2.9 433 3.5 436 5.1 438.2C8.5 441.5 12.5 443.5 16.9 445C22.5 447 28.5 449.5 33.9 450.9C37.5 451.6 41 451.6 44 450.9C46.5 450 48 448.5 49.1 446.7C51 443.5 52.5 440 54.2 436.5C57 432 60.5 428.5 64.4 425.5C68 422.5 72 421 76.2 419.9C80.5 419 85 418.7 89.8 418.7" fill="none" stroke="#e8e8e8" stroke-width="1.1" stroke-dasharray="3 2.3"/>
<path d="M49.1 446.7C50 449.5 51 452.5 52.5 455.1C55 458 58 460 61 461.9C65 464.5 69 467.5 72.8 470.4C76.5 473.2 80 476 83 478.8C85 481 86.8 483.5 88.1 486.5" fill="none" stroke="#e8e8e8" stroke-width="1.1" stroke-dasharray="3 2.3"/>
<rect x="97" y="493.2" width="10.9" height="2.6" fill="#fff"/>
<text x="87.7" y="401.4" fill="#fff">lSuC</text>
</g>
<g clip-path="url(#cd4)">
<rect x="115.2" y="387.9" width="110.3" height="109.90000000000003" fill="#1612e6"/>
<rect x="115.2" y="387.9" width="110.3" height="109.90000000000003" fill="#000" filter="url(#ndb51)"/>
<rect x="115.2" y="387.9" width="110.3" height="109.90000000000003" fill="#000" filter="url(#nd4)"/>
<path d="M170 497.8C173 488 179 480 189 472C199 465 210 458 225.5 451V441C212 447 200 452 190 459C181 466 172 476 167 486L163 497.8Z" fill="#3535ff" opacity="0.7" filter="url(#bl2)"/>
<path d="M150 388C160 405 175 415 200 418C210 419 218 420 225.5 420" fill="none" stroke="#2a2aff" stroke-width="8" opacity="0.22" filter="url(#bl1)"/>
<ellipse cx="144.6" cy="414" rx="3.2" ry="6.5" fill="#0a0670" filter="url(#bl05)"/>
<ellipse cx="145" cy="460" rx="3" ry="5" fill="#0a0670" opacity="0.6" filter="url(#bl05)"/>
<ellipse cx="200" cy="460" rx="8" ry="5" fill="#0a0670" opacity="0.6" filter="url(#bl1)"/>
<g><ellipse cx="177.2" cy="458.3" rx="0.6" ry="0.5" transform="rotate(52 177.2 458.3)" fill="#ff40a0" opacity="0.81"/><ellipse cx="169.1" cy="465.1" rx="0.6" ry="0.5" transform="rotate(116 169.1 465.1)" fill="#ff2080" opacity="0.76"/><ellipse cx="196.8" cy="410.1" rx="0.3" ry="0.3" transform="rotate(150 196.8 410.1)" fill="#e01070" opacity="0.96"/><ellipse cx="194.2" cy="438.4" rx="0.6" ry="0.7" transform="rotate(168 194.2 438.4)" fill="#ff2080" opacity="0.80"/><ellipse cx="136.6" cy="409.3" rx="0.6" ry="0.5" transform="rotate(14 136.6 409.3)" fill="#ff2080" opacity="0.62"/><ellipse cx="202.3" cy="412.3" rx="0.5" ry="0.4" transform="rotate(30 202.3 412.3)" fill="#ff2080" opacity="0.87"/><ellipse cx="179.6" cy="429.6" rx="0.4" ry="0.3" transform="rotate(118 179.6 429.6)" fill="#ff2080" opacity="0.60"/><ellipse cx="208.9" cy="398.6" rx="0.5" ry="0.4" transform="rotate(90 208.9 398.6)" fill="#e01070" opacity="0.71"/><ellipse cx="218.1" cy="423.6" rx="0.5" ry="0.4" transform="rotate(138 218.1 423.6)" fill="#ff40a0" opacity="0.86"/><ellipse cx="174.5" cy="431.9" rx="0.3" ry="0.3" transform="rotate(105 174.5 431.9)" fill="#ff40a0" opacity="0.60"/><ellipse cx="165.3" cy="435.2" rx="0.4" ry="0.3" transform="rotate(59 165.3 435.2)" fill="#ff2080" opacity="0.95"/><ellipse cx="195.3" cy="432.4" rx="0.6" ry="0.4" transform="rotate(159 195.3 432.4)" fill="#ff40a0" opacity="0.62"/><ellipse cx="179.9" cy="489.9" rx="0.6" ry="0.5" transform="rotate(126 179.9 489.9)" fill="#ff40a0" opacity="0.80"/><ellipse cx="209.7" cy="462.4" rx="0.8" ry="0.6" transform="rotate(159 209.7 462.4)" fill="#ff2080" opacity="0.85"/><ellipse cx="134.9" cy="391.1" rx="0.5" ry="0.4" transform="rotate(26 134.9 391.1)" fill="#ff40a0" opacity="0.66"/><ellipse cx="224.8" cy="451.9" rx="0.6" ry="0.4" transform="rotate(11 224.8 451.9)" fill="#ff40a0" opacity="0.80"/><ellipse cx="169.9" cy="431.3" rx="0.6" ry="0.4" transform="rotate(162 169.9 431.3)" fill="#ff40a0" opacity="0.66"/><ellipse cx="182.7" cy="430.6" rx="0.7" ry="0.5" transform="rotate(97 182.7 430.6)" fill="#ff40a0" opacity="0.85"/><ellipse cx="158.6" cy="433.9" rx="0.7" ry="0.6" transform="rotate(140 158.6 433.9)" fill="#ff40a0" opacity="0.67"/><ellipse cx="200.1" cy="468.6" rx="0.6" ry="0.5" transform="rotate(55 200.1 468.6)" fill="#ff40a0" opacity="0.89"/><ellipse cx="185.6" cy="419.2" rx="0.5" ry="0.3" transform="rotate(149 185.6 419.2)" fill="#ff2080" opacity="0.71"/><ellipse cx="173.4" cy="483.8" rx="0.7" ry="0.5" transform="rotate(13 173.4 483.8)" fill="#e01070" opacity="0.85"/><ellipse cx="166.7" cy="434.4" rx="0.5" ry="0.4" transform="rotate(43 166.7 434.4)" fill="#e01070" opacity="0.93"/><ellipse cx="137.0" cy="467.5" rx="0.4" ry="0.4" transform="rotate(79 137.0 467.5)" fill="#ff2080" opacity="0.83"/><ellipse cx="119.2" cy="438.0" rx="0.5" ry="0.4" transform="rotate(125 119.2 438.0)" fill="#ff40a0" opacity="0.91"/><ellipse cx="199.9" cy="471.9" rx="0.7" ry="0.6" transform="rotate(70 199.9 471.9)" fill="#ff2080" opacity="0.78"/><ellipse cx="195.3" cy="415.3" rx="0.6" ry="0.5" transform="rotate(130 195.3 415.3)" fill="#e01070" opacity="0.71"/><ellipse cx="143.8" cy="452.5" rx="0.8" ry="0.6" transform="rotate(38 143.8 452.5)" fill="#e01070" opacity="0.87"/><ellipse cx="172.1" cy="434.8" rx="0.9" ry="0.6" transform="rotate(134 172.1 434.8)" fill="#ff2080" opacity="0.72"/><ellipse cx="178.0" cy="419.8" rx="0.9" ry="0.6" transform="rotate(106 178.0 419.8)" fill="#e01070" opacity="0.83"/><ellipse cx="125.1" cy="395.8" rx="0.6" ry="0.4" transform="rotate(58 125.1 395.8)" fill="#ff2080" opacity="0.81"/><ellipse cx="187.9" cy="434.2" rx="0.4" ry="0.4" transform="rotate(158 187.9 434.2)" fill="#ff2080" opacity="0.73"/><ellipse cx="132.3" cy="455.3" rx="0.7" ry="0.6" transform="rotate(11 132.3 455.3)" fill="#ff40a0" opacity="0.96"/><ellipse cx="162.1" cy="454.2" rx="0.5" ry="0.5" transform="rotate(164 162.1 454.2)" fill="#ff2080" opacity="0.89"/><ellipse cx="131.5" cy="432.5" rx="0.4" ry="0.3" transform="rotate(163 131.5 432.5)" fill="#e01070" opacity="0.85"/><ellipse cx="174.6" cy="441.3" rx="0.6" ry="0.6" transform="rotate(156 174.6 441.3)" fill="#ff40a0" opacity="0.61"/><ellipse cx="149.7" cy="427.9" rx="0.8" ry="0.6" transform="rotate(160 149.7 427.9)" fill="#e01070" opacity="0.74"/><ellipse cx="220.8" cy="441.3" rx="0.7" ry="0.6" transform="rotate(144 220.8 441.3)" fill="#ff40a0" opacity="0.96"/><ellipse cx="203.6" cy="457.5" rx="0.4" ry="0.3" transform="rotate(3 203.6 457.5)" fill="#ff40a0" opacity="0.62"/><ellipse cx="200.2" cy="391.7" rx="0.5" ry="0.4" transform="rotate(105 200.2 391.7)" fill="#ff2080" opacity="0.74"/><ellipse cx="222.6" cy="424.0" rx="0.5" ry="0.6" transform="rotate(99 222.6 424.0)" fill="#ff2080" opacity="0.97"/><ellipse cx="203.0" cy="454.0" rx="0.5" ry="0.4" transform="rotate(173 203.0 454.0)" fill="#ff40a0" opacity="0.65"/><ellipse cx="159.9" cy="478.6" rx="0.7" ry="0.5" transform="rotate(129 159.9 478.6)" fill="#ff2080" opacity="0.67"/><ellipse cx="136.1" cy="471.9" rx="0.7" ry="0.6" transform="rotate(44 136.1 471.9)" fill="#ff2080" opacity="0.87"/><ellipse cx="116.4" cy="469.5" rx="0.7" ry="0.6" transform="rotate(58 116.4 469.5)" fill="#e01070" opacity="0.64"/><ellipse cx="181.6" cy="431.6" rx="0.6" ry="0.4" transform="rotate(84 181.6 431.6)" fill="#e01070" opacity="0.86"/><ellipse cx="170.2" cy="489.8" rx="0.7" ry="0.5" transform="rotate(150 170.2 489.8)" fill="#ff40a0" opacity="0.82"/><ellipse cx="208.1" cy="437.8" rx="0.5" ry="0.4" transform="rotate(145 208.1 437.8)" fill="#ff40a0" opacity="0.63"/><ellipse cx="122.5" cy="398.5" rx="0.3" ry="0.4" transform="rotate(62 122.5 398.5)" fill="#ff40a0" opacity="0.80"/><ellipse cx="157.6" cy="455.8" rx="0.4" ry="0.3" transform="rotate(173 157.6 455.8)" fill="#ff2080" opacity="0.84"/><ellipse cx="149.6" cy="495.7" rx="0.6" ry="0.5" transform="rotate(148 149.6 495.7)" fill="#ff2080" opacity="0.64"/><ellipse cx="143.8" cy="388.8" rx="0.5" ry="0.4" transform="rotate(8 143.8 388.8)" fill="#ff40a0" opacity="0.69"/><ellipse cx="201.6" cy="490.0" rx="0.5" ry="0.5" transform="rotate(49 201.6 490.0)" fill="#ff2080" opacity="0.62"/><ellipse cx="151.9" cy="489.2" rx="0.6" ry="0.5" transform="rotate(14 151.9 489.2)" fill="#e01070" opacity="0.93"/><ellipse cx="133.6" cy="400.6" rx="0.6" ry="0.5" transform="rotate(38 133.6 400.6)" fill="#ff40a0" opacity="0.69"/><ellipse cx="169.3" cy="401.1" rx="0.6" ry="0.6" transform="rotate(93 169.3 401.1)" fill="#ff40a0" opacity="0.77"/><ellipse cx="150.5" cy="432.4" rx="0.4" ry="0.4" transform="rotate(87 150.5 432.4)" fill="#ff40a0" opacity="0.99"/><ellipse cx="168.6" cy="434.5" rx="0.6" ry="0.6" transform="rotate(25 168.6 434.5)" fill="#ff2080" opacity="0.75"/><ellipse cx="177.0" cy="489.6" rx="0.5" ry="0.5" transform="rotate(124 177.0 489.6)" fill="#ff2080" opacity="0.68"/><ellipse cx="153.2" cy="457.3" rx="0.5" ry="0.5" transform="rotate(4 153.2 457.3)" fill="#ff40a0" opacity="0.74"/><ellipse cx="167.1" cy="436.3" rx="0.3" ry="0.3" transform="rotate(134 167.1 436.3)" fill="#ff2080" opacity="0.87"/><ellipse cx="203.0" cy="402.6" rx="0.4" ry="0.3" transform="rotate(61 203.0 402.6)" fill="#ff2080" opacity="0.64"/><ellipse cx="217.2" cy="460.9" rx="0.4" ry="0.4" transform="rotate(159 217.2 460.9)" fill="#ff2080" opacity="0.72"/><ellipse cx="128.2" cy="486.7" rx="0.8" ry="0.5" transform="rotate(37 128.2 486.7)" fill="#ff40a0" opacity="0.84"/><ellipse cx="159.0" cy="492.3" rx="0.4" ry="0.4" transform="rotate(157 159.0 492.3)" fill="#e01070" opacity="0.80"/><ellipse cx="199.3" cy="481.9" rx="0.4" ry="0.3" transform="rotate(10 199.3 481.9)" fill="#e01070" opacity="0.79"/><ellipse cx="162.7" cy="409.6" rx="0.5" ry="0.4" transform="rotate(39 162.7 409.6)" fill="#ff2080" opacity="0.69"/><ellipse cx="220.7" cy="477.0" rx="0.7" ry="0.5" transform="rotate(130 220.7 477.0)" fill="#e01070" opacity="0.74"/><ellipse cx="219.5" cy="439.1" rx="0.6" ry="0.5" transform="rotate(98 219.5 439.1)" fill="#ff40a0" opacity="0.72"/><ellipse cx="132.1" cy="459.2" rx="0.7" ry="0.5" transform="rotate(89 132.1 459.2)" fill="#e01070" opacity="0.84"/><ellipse cx="173.4" cy="432.4" rx="0.5" ry="0.4" transform="rotate(93 173.4 432.4)" fill="#ff50b0" opacity="0.72"/><ellipse cx="173.8" cy="435.5" rx="0.4" ry="0.3" transform="rotate(120 173.8 435.5)" fill="#ff2080" opacity="0.77"/><ellipse cx="178.8" cy="435.0" rx="0.4" ry="0.3" transform="rotate(177 178.8 435.0)" fill="#ff30a0" opacity="0.84"/><ellipse cx="162.5" cy="435.0" rx="0.6" ry="0.6" transform="rotate(47 162.5 435.0)" fill="#ff2080" opacity="0.92"/><ellipse cx="168.2" cy="439.6" rx="0.5" ry="0.6" transform="rotate(82 168.2 439.6)" fill="#ff2080" opacity="0.74"/><ellipse cx="181.5" cy="439.4" rx="0.6" ry="0.6" transform="rotate(90 181.5 439.4)" fill="#ff2080" opacity="0.76"/><ellipse cx="180.9" cy="431.9" rx="0.6" ry="0.5" transform="rotate(20 180.9 431.9)" fill="#ff30a0" opacity="0.94"/><ellipse cx="172.7" cy="430.4" rx="0.5" ry="0.4" transform="rotate(97 172.7 430.4)" fill="#ff30a0" opacity="0.82"/><ellipse cx="180.7" cy="435.7" rx="0.4" ry="0.4" transform="rotate(85 180.7 435.7)" fill="#ff2080" opacity="0.82"/><ellipse cx="172.0" cy="437.9" rx="0.6" ry="0.5" transform="rotate(117 172.0 437.9)" fill="#ff2080" opacity="0.91"/><ellipse cx="173.2" cy="438.7" rx="0.5" ry="0.5" transform="rotate(40 173.2 438.7)" fill="#ff2080" opacity="0.90"/><ellipse cx="178.9" cy="431.1" rx="0.6" ry="0.5" transform="rotate(15 178.9 431.1)" fill="#ff50b0" opacity="0.64"/><ellipse cx="179.1" cy="435.1" rx="0.9" ry="0.8" transform="rotate(3 179.1 435.1)" fill="#ff2080" opacity="0.80"/><ellipse cx="171.9" cy="437.6" rx="0.9" ry="0.8" transform="rotate(109 171.9 437.6)" fill="#ff50b0" opacity="0.63"/><ellipse cx="170.3" cy="437.0" rx="0.6" ry="0.4" transform="rotate(15 170.3 437.0)" fill="#ff50b0" opacity="0.77"/><ellipse cx="168.5" cy="435.6" rx="0.7" ry="0.6" transform="rotate(65 168.5 435.6)" fill="#ff2080" opacity="0.69"/><ellipse cx="172.4" cy="433.2" rx="0.6" ry="0.6" transform="rotate(122 172.4 433.2)" fill="#ff2080" opacity="0.85"/><ellipse cx="168.0" cy="431.4" rx="0.7" ry="0.8" transform="rotate(122 168.0 431.4)" fill="#ff30a0" opacity="0.70"/><ellipse cx="169.5" cy="431.3" rx="0.7" ry="0.8" transform="rotate(166 169.5 431.3)" fill="#ff30a0" opacity="0.79"/><ellipse cx="178.4" cy="435.8" rx="0.6" ry="0.6" transform="rotate(35 178.4 435.8)" fill="#ff50b0" opacity="0.71"/><ellipse cx="170.1" cy="431.9" rx="0.8" ry="0.6" transform="rotate(51 170.1 431.9)" fill="#ff30a0" opacity="0.77"/><ellipse cx="180.3" cy="439.2" rx="0.4" ry="0.4" transform="rotate(146 180.3 439.2)" fill="#ff30a0" opacity="0.83"/><ellipse cx="168.9" cy="434.3" rx="0.8" ry="0.6" transform="rotate(122 168.9 434.3)" fill="#ff50b0" opacity="0.99"/><ellipse cx="168.9" cy="434.6" rx="0.4" ry="0.4" transform="rotate(95 168.9 434.6)" fill="#ff2080" opacity="0.80"/><ellipse cx="173.9" cy="435.2" rx="0.7" ry="0.6" transform="rotate(17 173.9 435.2)" fill="#ff50b0" opacity="0.67"/><ellipse cx="170.6" cy="439.5" rx="0.5" ry="0.4" transform="rotate(6 170.6 439.5)" fill="#ff30a0" opacity="0.89"/><ellipse cx="181.0" cy="433.8" rx="0.6" ry="0.5" transform="rotate(60 181.0 433.8)" fill="#ff2080" opacity="0.62"/><ellipse cx="168.3" cy="434.4" rx="0.8" ry="0.7" transform="rotate(79 168.3 434.4)" fill="#ff50b0" opacity="0.64"/><ellipse cx="180.1" cy="433.0" rx="1.0" ry="0.8" transform="rotate(39 180.1 433.0)" fill="#ff2080" opacity="0.97"/><ellipse cx="173.4" cy="440.1" rx="0.4" ry="0.4" transform="rotate(26 173.4 440.1)" fill="#ff30a0" opacity="0.62"/><ellipse cx="171.2" cy="432.8" rx="0.4" ry="0.4" transform="rotate(82 171.2 432.8)" fill="#ff2080" opacity="0.95"/><ellipse cx="171.4" cy="440.4" rx="0.7" ry="0.5" transform="rotate(120 171.4 440.4)" fill="#ff50b0" opacity="0.97"/><ellipse cx="174.8" cy="432.6" rx="0.6" ry="0.5" transform="rotate(138 174.8 432.6)" fill="#ff50b0" opacity="0.91"/><ellipse cx="165.1" cy="436.8" rx="0.6" ry="0.6" transform="rotate(22 165.1 436.8)" fill="#ff50b0" opacity="0.77"/><ellipse cx="171.7" cy="441.3" rx="0.7" ry="0.5" transform="rotate(95 171.7 441.3)" fill="#ff50b0" opacity="0.81"/><ellipse cx="170.7" cy="436.0" rx="0.6" ry="0.6" transform="rotate(152 170.7 436.0)" fill="#ff50b0" opacity="0.84"/><ellipse cx="171.7" cy="434.7" rx="0.8" ry="0.8" transform="rotate(55 171.7 434.7)" fill="#ff30a0" opacity="0.66"/><ellipse cx="170.8" cy="438.6" rx="0.6" ry="0.4" transform="rotate(108 170.8 438.6)" fill="#ff50b0" opacity="0.84"/><ellipse cx="171.6" cy="435.5" rx="0.4" ry="0.4" transform="rotate(59 171.6 435.5)" fill="#ff50b0" opacity="0.94"/><ellipse cx="169.5" cy="431.2" rx="0.7" ry="0.7" transform="rotate(179 169.5 431.2)" fill="#ff2080" opacity="0.83"/><ellipse cx="178.0" cy="433.2" rx="0.4" ry="0.4" transform="rotate(175 178.0 433.2)" fill="#ff2080" opacity="0.77"/><ellipse cx="180.3" cy="429.5" rx="0.5" ry="0.3" transform="rotate(31 180.3 429.5)" fill="#ff50b0" opacity="0.85"/><ellipse cx="173.2" cy="434.5" rx="0.4" ry="0.4" transform="rotate(121 173.2 434.5)" fill="#ff50b0" opacity="0.97"/><ellipse cx="180.3" cy="439.0" rx="0.7" ry="0.5" transform="rotate(130 180.3 439.0)" fill="#ff30a0" opacity="0.85"/><ellipse cx="171.3" cy="441.1" rx="0.5" ry="0.3" transform="rotate(104 171.3 441.1)" fill="#ff50b0" opacity="0.75"/><ellipse cx="172.9" cy="429.7" rx="0.4" ry="0.3" transform="rotate(17 172.9 429.7)" fill="#ff30a0" opacity="0.90"/><ellipse cx="167.2" cy="432.9" rx="0.5" ry="0.4" transform="rotate(64 167.2 432.9)" fill="#ff30a0" opacity="0.62"/><ellipse cx="170.7" cy="431.0" rx="0.4" ry="0.3" transform="rotate(125 170.7 431.0)" fill="#ff2080" opacity="0.92"/><ellipse cx="170.0" cy="432.2" rx="0.5" ry="0.4" transform="rotate(63 170.0 432.2)" fill="#ff50b0" opacity="0.99"/><ellipse cx="164.5" cy="435.8" rx="0.5" ry="0.4" transform="rotate(24 164.5 435.8)" fill="#ff30a0" opacity="0.61"/><ellipse cx="165.8" cy="435.3" rx="0.9" ry="0.7" transform="rotate(33 165.8 435.3)" fill="#ff2080" opacity="0.62"/><ellipse cx="172.4" cy="438.1" rx="0.7" ry="0.5" transform="rotate(25 172.4 438.1)" fill="#ff30a0" opacity="0.84"/><ellipse cx="180.2" cy="438.5" rx="0.6" ry="0.4" transform="rotate(180 180.2 438.5)" fill="#ff30a0" opacity="0.76"/><ellipse cx="175.4" cy="435.7" rx="0.7" ry="0.6" transform="rotate(136 175.4 435.7)" fill="#ff2080" opacity="0.98"/><ellipse cx="175.4" cy="434.4" rx="0.6" ry="0.5" transform="rotate(113 175.4 434.4)" fill="#ff2080" opacity="0.98"/><ellipse cx="177.2" cy="435.6" rx="0.7" ry="0.5" transform="rotate(96 177.2 435.6)" fill="#ff30a0" opacity="0.98"/><ellipse cx="180.9" cy="432.3" rx="0.4" ry="0.4" transform="rotate(91 180.9 432.3)" fill="#ff50b0" opacity="0.76"/><ellipse cx="172.4" cy="433.0" rx="0.8" ry="0.6" transform="rotate(66 172.4 433.0)" fill="#ff2080" opacity="0.62"/><ellipse cx="172.2" cy="439.6" rx="0.6" ry="0.4" transform="rotate(165 172.2 439.6)" fill="#ff2080" opacity="0.94"/><ellipse cx="175.7" cy="435.7" rx="0.4" ry="0.3" transform="rotate(6 175.7 435.7)" fill="#ff2080" opacity="0.63"/><ellipse cx="175.3" cy="438.3" rx="0.4" ry="0.4" transform="rotate(74 175.3 438.3)" fill="#ff50b0" opacity="0.98"/><ellipse cx="166.3" cy="432.0" rx="0.7" ry="0.7" transform="rotate(89 166.3 432.0)" fill="#ff30a0" opacity="0.75"/><ellipse cx="177.8" cy="439.5" rx="0.3" ry="0.4" transform="rotate(128 177.8 439.5)" fill="#ff50b0" opacity="0.80"/><ellipse cx="171.4" cy="428.0" rx="0.4" ry="0.5" transform="rotate(156 171.4 428.0)" fill="#ff30a0" opacity="0.79"/><ellipse cx="174.2" cy="437.4" rx="0.3" ry="0.3" transform="rotate(160 174.2 437.4)" fill="#ff2080" opacity="0.62"/><ellipse cx="174.3" cy="441.5" rx="0.4" ry="0.3" transform="rotate(158 174.3 441.5)" fill="#ff50b0" opacity="0.69"/><ellipse cx="166.0" cy="434.6" rx="1.0" ry="0.7" transform="rotate(34 166.0 434.6)" fill="#ff30a0" opacity="0.85"/><ellipse cx="179.8" cy="437.9" rx="0.6" ry="0.5" transform="rotate(18 179.8 437.9)" fill="#ff2080" opacity="0.63"/><ellipse cx="173.1" cy="440.2" rx="0.4" ry="0.4" transform="rotate(62 173.1 440.2)" fill="#ff50b0" opacity="0.72"/><ellipse cx="167.1" cy="435.8" rx="0.5" ry="0.3" transform="rotate(157 167.1 435.8)" fill="#ff2080" opacity="0.71"/></g>
<ellipse cx="174" cy="435" rx="10" ry="6" fill="#c020a0" opacity="0.35" filter="url(#bl1)"/>
<path d="M161.4 497.8C164 494 167.5 490.5 170.5 488.5C173 486.5 175 484 176.2 482.8C177.5 481.5 178.3 480.6 179 480.5C180 482 180.3 485.5 180.8 486.8C182 487.6 183 487.9 184.2 487.9C189 488.2 194 488.3 197.8 488.5C200 488.8 202 489.1 203.5 489.6C206 490.5 208.5 491.8 210.4 493C212 494.2 213 495.3 213.8 496.4C214.5 497 215.2 497.5 216 497.8Z" fill="#000"/>
<path d="M120.2 497.8C119.4 493 119.6 488 120.8 483.5C121.8 480.5 123.5 478.8 124.8 478.8C126.5 479.2 127.5 482 127.9 485.5C128.4 490 128.2 494 127.5 497.8Z" fill="#000" stroke="#3030ff" stroke-width="0.6"/>
<ellipse cx="220" cy="447" rx="2" ry="2.8" fill="#000"/>
<path d="M225.5 406C217 410 208 416 200 419.6C194 422 189 423.5 183.1 424.6C178 425.5 172 426.5 167.9 428.4C165 429.8 163.2 431.5 162.8 433.1C162.2 436.5 162.6 440 163.7 443.3C164.8 446 166.8 447.8 169.6 448.4C174 449 179 448.6 183.1 447.5C189 445.5 195 440.5 200 436.5C205 432.5 209 430 213.6 428C217.5 426 221.5 423.8 225.5 422.1" fill="none" stroke="#e8e8e8" stroke-width="1.1" stroke-dasharray="3 2.3"/>
<rect x="210.8" y="493.1" width="10.4" height="2.6" fill="#fff"/>
<text x="215.3" y="401.4" fill="#fff">ZI</text>
</g>
<rect x="544.1" y="271.1" width="77.1" height="231.5" fill="#d8d8d8"/>
<g clip-path="url(#cf0)">
<rect x="544.1" y="271.1" width="77.1" height="76.5" fill="#050000"/>
<path d="M577.2 319.3q9.3 -3.9 18.5 -5.6M594.5 313.2q9.3 -6.3 18.5 -10.6M548.7 325.8q13.5 -2.7 27.0 -7.0M563.5 308.6q11.6 -9.7 23.3 -16.9M559.5 355.9q14.9 -8.0 29.8 -17.4M600.4 325.4q11.6 -9.6 23.3 -16.3M569.6 282.4q8.0 -9.3 16.0 -12.7M567.7 344.6q10.6 -4.5 21.3 -4.3M564.3 276.6q10.9 -6.6 21.8 -14.7M536.8 313.3q9.3 -7.2 18.7 -9.9M568.4 279.9q12.6 -3.9 25.2 -9.4M569.6 353.9q7.3 -4.9 14.5 -8.2M613.6 284.8q15.9 -3.1 31.9 -10.5M574.7 310.0q13.7 -1.9 27.4 -7.4" stroke="#801818" stroke-width="0.6" opacity="0.75" fill="none"/>
<g filter="url(#blf)"><ellipse cx="557.8" cy="317.6" rx="1.7" ry="1.2" transform="rotate(82 557.8 317.6)" fill="#109010" opacity="0.58"/><ellipse cx="550.1" cy="337.1" rx="1.5" ry="1.0" transform="rotate(172 550.1 337.1)" fill="#109010" opacity="0.73"/><ellipse cx="551.1" cy="316.9" rx="1.2" ry="0.8" transform="rotate(76 551.1 316.9)" fill="#28d828" opacity="0.64"/><ellipse cx="577.7" cy="320.3" rx="1.7" ry="1.5" transform="rotate(12 577.7 320.3)" fill="#0c780c" opacity="0.43"/><ellipse cx="554.5" cy="310.6" rx="1.2" ry="0.8" transform="rotate(109 554.5 310.6)" fill="#0c780c" opacity="0.43"/><ellipse cx="570.6" cy="305.1" rx="1.3" ry="1.1" transform="rotate(168 570.6 305.1)" fill="#20a020" opacity="0.71"/><ellipse cx="565.7" cy="312.3" rx="1.7" ry="1.2" transform="rotate(167 565.7 312.3)" fill="#109010" opacity="0.50"/><ellipse cx="616.9" cy="302.9" rx="1.9" ry="1.3" transform="rotate(133 616.9 302.9)" fill="#20a020" opacity="0.65"/><ellipse cx="587.7" cy="315.9" rx="1.2" ry="1.1" transform="rotate(148 587.7 315.9)" fill="#0c780c" opacity="0.65"/><ellipse cx="566.0" cy="316.4" rx="1.4" ry="1.3" transform="rotate(93 566.0 316.4)" fill="#18b818" opacity="0.50"/><ellipse cx="551.1" cy="312.0" rx="0.9" ry="0.8" transform="rotate(107 551.1 312.0)" fill="#28d828" opacity="0.83"/><ellipse cx="616.4" cy="287.5" rx="1.7" ry="1.2" transform="rotate(31 616.4 287.5)" fill="#28d828" opacity="0.85"/><ellipse cx="589.0" cy="304.9" rx="1.4" ry="1.3" transform="rotate(107 589.0 304.9)" fill="#20a020" opacity="0.59"/><ellipse cx="560.7" cy="279.9" rx="1.2" ry="1.3" transform="rotate(169 560.7 279.9)" fill="#20a020" opacity="0.94"/><ellipse cx="586.4" cy="332.8" rx="1.6" ry="1.1" transform="rotate(72 586.4 332.8)" fill="#18b818" opacity="0.45"/><ellipse cx="546.2" cy="332.2" rx="1.2" ry="0.9" transform="rotate(66 546.2 332.2)" fill="#18b818" opacity="0.84"/><ellipse cx="613.3" cy="289.0" rx="1.9" ry="1.6" transform="rotate(4 613.3 289.0)" fill="#18b818" opacity="0.86"/><ellipse cx="617.1" cy="314.3" rx="2.0" ry="1.2" transform="rotate(88 617.1 314.3)" fill="#109010" opacity="0.69"/><ellipse cx="567.3" cy="281.4" rx="0.8" ry="0.7" transform="rotate(146 567.3 281.4)" fill="#20a020" opacity="0.69"/><ellipse cx="559.5" cy="309.9" rx="1.0" ry="0.8" transform="rotate(161 559.5 309.9)" fill="#18b818" opacity="0.76"/><ellipse cx="554.6" cy="317.7" rx="1.7" ry="1.2" transform="rotate(126 554.6 317.7)" fill="#20a020" opacity="0.89"/><ellipse cx="559.6" cy="335.1" rx="1.0" ry="1.1" transform="rotate(19 559.6 335.1)" fill="#109010" opacity="0.74"/><ellipse cx="575.3" cy="290.1" rx="1.7" ry="1.3" transform="rotate(59 575.3 290.1)" fill="#0c780c" opacity="0.67"/><ellipse cx="592.2" cy="337.3" rx="1.4" ry="1.2" transform="rotate(94 592.2 337.3)" fill="#28d828" opacity="0.51"/><ellipse cx="572.1" cy="311.6" rx="1.1" ry="1.0" transform="rotate(80 572.1 311.6)" fill="#109010" opacity="0.80"/><ellipse cx="599.2" cy="325.2" rx="1.0" ry="0.9" transform="rotate(62 599.2 325.2)" fill="#18b818" opacity="0.72"/><ellipse cx="572.2" cy="305.9" rx="1.0" ry="1.1" transform="rotate(122 572.2 305.9)" fill="#0c780c" opacity="0.44"/><ellipse cx="617.9" cy="340.8" rx="1.3" ry="1.2" transform="rotate(180 617.9 340.8)" fill="#0c780c" opacity="0.67"/><ellipse cx="562.7" cy="347.4" rx="1.9" ry="1.2" transform="rotate(81 562.7 347.4)" fill="#18b818" opacity="0.95"/><ellipse cx="573.1" cy="284.6" rx="1.3" ry="0.9" transform="rotate(173 573.1 284.6)" fill="#18b818" opacity="0.52"/><ellipse cx="615.6" cy="347.3" rx="1.7" ry="1.3" transform="rotate(53 615.6 347.3)" fill="#109010" opacity="0.83"/><ellipse cx="562.2" cy="290.2" rx="1.7" ry="1.4" transform="rotate(5 562.2 290.2)" fill="#109010" opacity="0.64"/><ellipse cx="587.0" cy="325.7" rx="0.9" ry="0.9" transform="rotate(121 587.0 325.7)" fill="#109010" opacity="0.50"/><ellipse cx="547.4" cy="345.9" rx="1.1" ry="1.2" transform="rotate(175 547.4 345.9)" fill="#18b818" opacity="0.64"/><ellipse cx="593.4" cy="330.7" rx="1.4" ry="1.2" transform="rotate(44 593.4 330.7)" fill="#20a020" opacity="0.43"/><ellipse cx="549.0" cy="311.4" rx="1.8" ry="1.5" transform="rotate(72 549.0 311.4)" fill="#28d828" opacity="0.90"/><ellipse cx="560.9" cy="281.0" rx="1.4" ry="1.3" transform="rotate(58 560.9 281.0)" fill="#109010" opacity="0.61"/><ellipse cx="585.2" cy="319.3" rx="1.8" ry="1.5" transform="rotate(113 585.2 319.3)" fill="#0c780c" opacity="0.81"/><ellipse cx="587.6" cy="291.3" rx="1.1" ry="1.0" transform="rotate(36 587.6 291.3)" fill="#109010" opacity="0.80"/><ellipse cx="573.9" cy="280.6" rx="1.2" ry="1.0" transform="rotate(139 573.9 280.6)" fill="#109010" opacity="0.55"/><ellipse cx="585.3" cy="330.3" rx="2.2" ry="1.8" transform="rotate(102 585.3 330.3)" fill="#20a020" opacity="0.66"/><ellipse cx="590.4" cy="278.7" rx="1.0" ry="1.1" transform="rotate(173 590.4 278.7)" fill="#28d828" opacity="0.41"/><ellipse cx="544.5" cy="336.5" rx="1.0" ry="0.8" transform="rotate(48 544.5 336.5)" fill="#0c780c" opacity="0.87"/><ellipse cx="600.1" cy="334.9" rx="2.0" ry="1.6" transform="rotate(131 600.1 334.9)" fill="#109010" opacity="0.94"/><ellipse cx="605.6" cy="306.6" rx="1.4" ry="1.2" transform="rotate(12 605.6 306.6)" fill="#0c780c" opacity="0.77"/><ellipse cx="561.3" cy="271.8" rx="1.0" ry="0.7" transform="rotate(71 561.3 271.8)" fill="#109010" opacity="0.52"/><ellipse cx="577.9" cy="283.9" rx="1.3" ry="1.0" transform="rotate(61 577.9 283.9)" fill="#0c780c" opacity="0.94"/><ellipse cx="567.9" cy="280.0" rx="1.7" ry="1.3" transform="rotate(10 567.9 280.0)" fill="#0c780c" opacity="0.56"/><ellipse cx="552.9" cy="302.6" rx="2.1" ry="1.5" transform="rotate(15 552.9 302.6)" fill="#20a020" opacity="0.41"/><ellipse cx="575.6" cy="339.8" rx="1.9" ry="1.4" transform="rotate(136 575.6 339.8)" fill="#0c780c" opacity="0.67"/><ellipse cx="607.2" cy="327.5" rx="1.2" ry="1.2" transform="rotate(95 607.2 327.5)" fill="#18b818" opacity="0.40"/><ellipse cx="600.0" cy="281.9" rx="1.7" ry="1.4" transform="rotate(100 600.0 281.9)" fill="#18b818" opacity="0.50"/><ellipse cx="613.2" cy="332.4" rx="2.1" ry="1.8" transform="rotate(119 613.2 332.4)" fill="#109010" opacity="0.91"/><ellipse cx="581.5" cy="273.7" rx="1.0" ry="1.0" transform="rotate(175 581.5 273.7)" fill="#20a020" opacity="0.56"/><ellipse cx="586.2" cy="289.8" rx="1.5" ry="1.1" transform="rotate(9 586.2 289.8)" fill="#28d828" opacity="0.66"/><ellipse cx="593.8" cy="319.4" rx="1.7" ry="1.4" transform="rotate(84 593.8 319.4)" fill="#18b818" opacity="0.78"/><ellipse cx="590.4" cy="329.7" rx="1.6" ry="1.0" transform="rotate(155 590.4 329.7)" fill="#109010" opacity="0.43"/><ellipse cx="563.3" cy="297.5" rx="1.6" ry="1.7" transform="rotate(26 563.3 297.5)" fill="#109010" opacity="0.45"/><ellipse cx="586.3" cy="325.0" rx="1.5" ry="1.2" transform="rotate(127 586.3 325.0)" fill="#20a020" opacity="0.88"/><ellipse cx="592.2" cy="302.2" rx="1.5" ry="1.2" transform="rotate(96 592.2 302.2)" fill="#109010" opacity="0.51"/><ellipse cx="611.7" cy="275.4" rx="1.5" ry="1.2" transform="rotate(2 611.7 275.4)" fill="#109010" opacity="0.41"/><ellipse cx="578.5" cy="303.0" rx="1.0" ry="0.9" transform="rotate(23 578.5 303.0)" fill="#20a020" opacity="0.81"/><ellipse cx="574.9" cy="340.4" rx="1.6" ry="1.1" transform="rotate(112 574.9 340.4)" fill="#0c780c" opacity="0.44"/><ellipse cx="557.3" cy="288.6" rx="2.0" ry="1.3" transform="rotate(22 557.3 288.6)" fill="#28d828" opacity="0.44"/><ellipse cx="565.1" cy="294.8" rx="1.9" ry="1.7" transform="rotate(72 565.1 294.8)" fill="#18b818" opacity="0.56"/><ellipse cx="579.9" cy="311.0" rx="1.7" ry="1.5" transform="rotate(13 579.9 311.0)" fill="#28d828" opacity="0.78"/><ellipse cx="581.4" cy="312.7" rx="1.0" ry="1.0" transform="rotate(49 581.4 312.7)" fill="#20a020" opacity="0.51"/><ellipse cx="595.6" cy="287.5" rx="1.9" ry="1.6" transform="rotate(158 595.6 287.5)" fill="#109010" opacity="0.87"/><ellipse cx="573.6" cy="271.8" rx="1.9" ry="1.6" transform="rotate(64 573.6 271.8)" fill="#28d828" opacity="0.85"/><ellipse cx="585.3" cy="295.3" rx="1.8" ry="1.2" transform="rotate(100 585.3 295.3)" fill="#109010" opacity="0.54"/><ellipse cx="612.9" cy="283.3" rx="0.9" ry="0.9" transform="rotate(0 612.9 283.3)" fill="#0c780c" opacity="0.48"/><ellipse cx="558.2" cy="293.8" rx="1.2" ry="1.0" transform="rotate(9 558.2 293.8)" fill="#28d828" opacity="0.55"/><ellipse cx="592.9" cy="288.0" rx="1.6" ry="1.3" transform="rotate(34 592.9 288.0)" fill="#109010" opacity="0.80"/><ellipse cx="558.7" cy="304.8" rx="1.8" ry="1.1" transform="rotate(159 558.7 304.8)" fill="#18b818" opacity="0.49"/><ellipse cx="580.7" cy="330.5" rx="1.5" ry="1.8" transform="rotate(171 580.7 330.5)" fill="#28d828" opacity="0.74"/><ellipse cx="574.9" cy="338.4" rx="1.9" ry="1.7" transform="rotate(52 574.9 338.4)" fill="#28d828" opacity="0.58"/><ellipse cx="607.3" cy="312.3" rx="1.4" ry="1.1" transform="rotate(159 607.3 312.3)" fill="#109010" opacity="0.48"/><ellipse cx="586.3" cy="290.6" rx="1.3" ry="1.0" transform="rotate(162 586.3 290.6)" fill="#0c780c" opacity="0.81"/><ellipse cx="568.1" cy="312.7" rx="1.2" ry="0.9" transform="rotate(10 568.1 312.7)" fill="#20a020" opacity="0.65"/><ellipse cx="574.8" cy="341.6" rx="2.1" ry="1.6" transform="rotate(178 574.8 341.6)" fill="#18b818" opacity="0.45"/><ellipse cx="565.2" cy="328.9" rx="1.2" ry="1.1" transform="rotate(160 565.2 328.9)" fill="#0c780c" opacity="0.76"/><ellipse cx="617.9" cy="305.3" rx="1.2" ry="1.2" transform="rotate(97 617.9 305.3)" fill="#0c780c" opacity="0.50"/><ellipse cx="549.1" cy="322.3" rx="1.4" ry="1.0" transform="rotate(154 549.1 322.3)" fill="#20a020" opacity="0.42"/><ellipse cx="583.2" cy="305.3" rx="1.5" ry="1.5" transform="rotate(167 583.2 305.3)" fill="#109010" opacity="0.45"/><ellipse cx="552.2" cy="310.8" rx="1.1" ry="0.8" transform="rotate(50 552.2 310.8)" fill="#18b818" opacity="0.42"/><ellipse cx="615.2" cy="314.5" rx="1.7" ry="1.2" transform="rotate(31 615.2 314.5)" fill="#20a020" opacity="0.58"/><ellipse cx="569.4" cy="294.5" rx="1.7" ry="1.4" transform="rotate(120 569.4 294.5)" fill="#18b818" opacity="0.84"/><ellipse cx="545.2" cy="302.4" rx="1.7" ry="1.1" transform="rotate(120 545.2 302.4)" fill="#109010" opacity="0.93"/><ellipse cx="620.6" cy="299.6" rx="1.2" ry="1.4" transform="rotate(34 620.6 299.6)" fill="#28d828" opacity="0.53"/><ellipse cx="552.0" cy="343.9" rx="1.4" ry="1.1" transform="rotate(117 552.0 343.9)" fill="#20a020" opacity="0.78"/><ellipse cx="561.6" cy="332.4" rx="2.0" ry="1.4" transform="rotate(3 561.6 332.4)" fill="#28d828" opacity="0.56"/><ellipse cx="614.7" cy="309.2" rx="1.2" ry="0.9" transform="rotate(149 614.7 309.2)" fill="#20a020" opacity="0.90"/><ellipse cx="585.4" cy="313.3" rx="1.1" ry="0.9" transform="rotate(39 585.4 313.3)" fill="#20a020" opacity="0.85"/><ellipse cx="594.0" cy="328.0" rx="1.7" ry="1.3" transform="rotate(73 594.0 328.0)" fill="#109010" opacity="0.51"/><ellipse cx="562.0" cy="277.9" rx="1.4" ry="1.0" transform="rotate(115 562.0 277.9)" fill="#18b818" opacity="0.57"/><ellipse cx="545.8" cy="320.3" rx="1.1" ry="0.8" transform="rotate(27 545.8 320.3)" fill="#20a020" opacity="0.75"/><ellipse cx="548.8" cy="273.0" rx="1.0" ry="0.8" transform="rotate(177 548.8 273.0)" fill="#28d828" opacity="0.93"/><ellipse cx="593.2" cy="295.2" rx="1.9" ry="1.6" transform="rotate(128 593.2 295.2)" fill="#20a020" opacity="0.41"/><ellipse cx="549.3" cy="325.4" rx="1.5" ry="1.4" transform="rotate(174 549.3 325.4)" fill="#0c780c" opacity="0.51"/><ellipse cx="563.2" cy="276.7" rx="1.5" ry="1.1" transform="rotate(3 563.2 276.7)" fill="#0c780c" opacity="0.59"/><ellipse cx="546.8" cy="336.8" rx="1.4" ry="1.0" transform="rotate(163 546.8 336.8)" fill="#28d828" opacity="0.45"/><ellipse cx="549.4" cy="341.0" rx="1.1" ry="1.2" transform="rotate(106 549.4 341.0)" fill="#18b818" opacity="0.49"/><ellipse cx="603.7" cy="315.4" rx="0.9" ry="0.7" transform="rotate(94 603.7 315.4)" fill="#18b818" opacity="0.79"/><ellipse cx="559.0" cy="300.4" rx="1.4" ry="1.3" transform="rotate(95 559.0 300.4)" fill="#28d828" opacity="0.90"/><ellipse cx="565.3" cy="338.8" rx="1.1" ry="0.9" transform="rotate(154 565.3 338.8)" fill="#0c780c" opacity="0.52"/><ellipse cx="597.9" cy="287.6" rx="1.0" ry="0.7" transform="rotate(122 597.9 287.6)" fill="#18b818" opacity="0.81"/><ellipse cx="565.7" cy="301.1" rx="1.0" ry="0.8" transform="rotate(124 565.7 301.1)" fill="#18b818" opacity="0.87"/><ellipse cx="603.2" cy="281.6" rx="1.5" ry="1.3" transform="rotate(22 603.2 281.6)" fill="#0c780c" opacity="0.66"/><ellipse cx="580.8" cy="293.3" rx="1.7" ry="1.3" transform="rotate(81 580.8 293.3)" fill="#20a020" opacity="0.94"/><ellipse cx="598.5" cy="310.4" rx="1.6" ry="1.3" transform="rotate(74 598.5 310.4)" fill="#28d828" opacity="0.44"/><ellipse cx="545.7" cy="306.7" rx="1.8" ry="1.3" transform="rotate(164 545.7 306.7)" fill="#28d828" opacity="0.48"/><ellipse cx="581.0" cy="276.8" rx="1.8" ry="1.3" transform="rotate(135 581.0 276.8)" fill="#109010" opacity="0.91"/><ellipse cx="562.0" cy="287.3" rx="0.8" ry="0.8" transform="rotate(157 562.0 287.3)" fill="#18b818" opacity="0.80"/><ellipse cx="601.9" cy="337.1" rx="1.5" ry="1.2" transform="rotate(179 601.9 337.1)" fill="#28d828" opacity="0.81"/><ellipse cx="573.3" cy="301.8" rx="1.1" ry="0.9" transform="rotate(28 573.3 301.8)" fill="#109010" opacity="0.53"/><ellipse cx="586.5" cy="341.4" rx="1.6" ry="1.2" transform="rotate(103 586.5 341.4)" fill="#0c780c" opacity="0.67"/><ellipse cx="580.7" cy="273.5" rx="1.1" ry="1.0" transform="rotate(69 580.7 273.5)" fill="#28d828" opacity="0.42"/><ellipse cx="576.4" cy="280.4" rx="1.4" ry="1.2" transform="rotate(45 576.4 280.4)" fill="#28d828" opacity="0.43"/><ellipse cx="595.0" cy="273.3" rx="2.0" ry="1.3" transform="rotate(156 595.0 273.3)" fill="#18b818" opacity="0.76"/><ellipse cx="599.9" cy="341.6" rx="0.9" ry="0.8" transform="rotate(73 599.9 341.6)" fill="#0c780c" opacity="0.85"/><ellipse cx="579.4" cy="298.4" rx="1.3" ry="1.0" transform="rotate(162 579.4 298.4)" fill="#20a020" opacity="0.93"/><ellipse cx="579.2" cy="285.6" rx="1.5" ry="1.2" transform="rotate(6 579.2 285.6)" fill="#18b818" opacity="0.76"/><ellipse cx="555.3" cy="309.6" rx="1.2" ry="1.2" transform="rotate(11 555.3 309.6)" fill="#28d828" opacity="0.90"/><ellipse cx="549.4" cy="338.5" rx="1.3" ry="0.9" transform="rotate(22 549.4 338.5)" fill="#0c780c" opacity="0.59"/><ellipse cx="616.8" cy="312.2" rx="1.9" ry="1.7" transform="rotate(74 616.8 312.2)" fill="#18b818" opacity="0.53"/><ellipse cx="563.7" cy="284.6" rx="1.0" ry="0.7" transform="rotate(5 563.7 284.6)" fill="#28d828" opacity="0.52"/><ellipse cx="576.2" cy="289.0" rx="0.9" ry="0.9" transform="rotate(164 576.2 289.0)" fill="#109010" opacity="0.48"/><ellipse cx="609.6" cy="332.1" rx="1.1" ry="1.0" transform="rotate(146 609.6 332.1)" fill="#0c780c" opacity="0.74"/><ellipse cx="573.3" cy="282.0" rx="1.2" ry="0.9" transform="rotate(29 573.3 282.0)" fill="#28d828" opacity="0.87"/><ellipse cx="593.4" cy="276.6" rx="1.5" ry="1.4" transform="rotate(121 593.4 276.6)" fill="#18b818" opacity="0.43"/><ellipse cx="557.9" cy="310.4" rx="1.0" ry="1.2" transform="rotate(1 557.9 310.4)" fill="#0c780c" opacity="0.74"/><ellipse cx="558.6" cy="331.0" rx="1.5" ry="1.0" transform="rotate(3 558.6 331.0)" fill="#0c780c" opacity="0.92"/><ellipse cx="557.3" cy="327.5" rx="1.4" ry="1.0" transform="rotate(48 557.3 327.5)" fill="#28d828" opacity="0.62"/><ellipse cx="577.6" cy="289.9" rx="0.9" ry="0.8" transform="rotate(131 577.6 289.9)" fill="#18b818" opacity="0.53"/><ellipse cx="601.0" cy="271.3" rx="1.2" ry="1.0" transform="rotate(43 601.0 271.3)" fill="#18b818" opacity="0.94"/><ellipse cx="553.0" cy="309.2" rx="1.2" ry="0.9" transform="rotate(23 553.0 309.2)" fill="#28d828" opacity="0.84"/><ellipse cx="598.0" cy="310.3" rx="1.3" ry="1.1" transform="rotate(49 598.0 310.3)" fill="#28d828" opacity="0.70"/><ellipse cx="603.5" cy="324.6" rx="1.7" ry="1.5" transform="rotate(178 603.5 324.6)" fill="#28d828" opacity="0.66"/><ellipse cx="552.1" cy="296.8" rx="1.8" ry="1.5" transform="rotate(77 552.1 296.8)" fill="#18b818" opacity="0.93"/><ellipse cx="591.0" cy="331.2" rx="1.8" ry="1.3" transform="rotate(158 591.0 331.2)" fill="#0c780c" opacity="0.88"/><ellipse cx="551.9" cy="319.8" rx="1.1" ry="1.1" transform="rotate(102 551.9 319.8)" fill="#0c780c" opacity="0.57"/><ellipse cx="587.2" cy="317.3" rx="1.8" ry="1.6" transform="rotate(70 587.2 317.3)" fill="#18b818" opacity="0.86"/><ellipse cx="603.5" cy="284.5" rx="1.1" ry="0.9" transform="rotate(165 603.5 284.5)" fill="#28d828" opacity="0.58"/><ellipse cx="594.7" cy="332.4" rx="1.6" ry="1.3" transform="rotate(26 594.7 332.4)" fill="#28d828" opacity="0.57"/><ellipse cx="572.5" cy="338.8" rx="1.7" ry="1.3" transform="rotate(7 572.5 338.8)" fill="#18b818" opacity="0.66"/><ellipse cx="549.5" cy="304.5" rx="1.2" ry="1.4" transform="rotate(138 549.5 304.5)" fill="#28d828" opacity="0.55"/><ellipse cx="612.2" cy="278.2" rx="1.5" ry="1.1" transform="rotate(65 612.2 278.2)" fill="#18b818" opacity="0.62"/><ellipse cx="549.2" cy="328.9" rx="1.1" ry="0.9" transform="rotate(60 549.2 328.9)" fill="#109010" opacity="0.40"/><ellipse cx="547.8" cy="315.4" rx="1.7" ry="1.7" transform="rotate(152 547.8 315.4)" fill="#18b818" opacity="0.84"/><ellipse cx="588.7" cy="331.1" rx="1.1" ry="1.0" transform="rotate(93 588.7 331.1)" fill="#0c780c" opacity="0.52"/><ellipse cx="554.4" cy="271.7" rx="1.4" ry="1.3" transform="rotate(121 554.4 271.7)" fill="#0c780c" opacity="0.76"/><ellipse cx="571.9" cy="347.4" rx="1.0" ry="0.7" transform="rotate(46 571.9 347.4)" fill="#28d828" opacity="0.54"/><ellipse cx="598.3" cy="319.0" rx="2.0" ry="1.5" transform="rotate(103 598.3 319.0)" fill="#18b818" opacity="0.94"/><ellipse cx="596.7" cy="314.7" rx="1.6" ry="1.3" transform="rotate(70 596.7 314.7)" fill="#18b818" opacity="0.88"/><ellipse cx="544.8" cy="338.9" rx="1.0" ry="0.8" transform="rotate(82 544.8 338.9)" fill="#20a020" opacity="0.70"/><ellipse cx="587.5" cy="315.2" rx="1.8" ry="1.4" transform="rotate(87 587.5 315.2)" fill="#18b818" opacity="0.41"/><ellipse cx="617.9" cy="305.2" rx="1.0" ry="0.9" transform="rotate(128 617.9 305.2)" fill="#0c780c" opacity="0.74"/><ellipse cx="579.0" cy="289.7" rx="1.1" ry="0.7" transform="rotate(179 579.0 289.7)" fill="#18b818" opacity="0.66"/><ellipse cx="599.2" cy="280.1" rx="1.3" ry="1.1" transform="rotate(71 599.2 280.1)" fill="#18b818" opacity="0.57"/><ellipse cx="545.8" cy="299.7" rx="1.3" ry="1.1" transform="rotate(122 545.8 299.7)" fill="#0c780c" opacity="0.61"/><ellipse cx="554.2" cy="299.1" rx="2.0" ry="1.5" transform="rotate(60 554.2 299.1)" fill="#20a020" opacity="0.88"/><ellipse cx="616.6" cy="310.7" rx="1.2" ry="1.2" transform="rotate(138 616.6 310.7)" fill="#109010" opacity="0.76"/><ellipse cx="607.2" cy="296.7" rx="1.3" ry="1.3" transform="rotate(66 607.2 296.7)" fill="#109010" opacity="0.94"/><ellipse cx="587.9" cy="279.0" rx="2.0" ry="1.3" transform="rotate(75 587.9 279.0)" fill="#18b818" opacity="0.75"/><ellipse cx="589.3" cy="290.9" rx="1.6" ry="1.6" transform="rotate(46 589.3 290.9)" fill="#109010" opacity="0.44"/><ellipse cx="610.8" cy="304.7" rx="1.6" ry="1.4" transform="rotate(64 610.8 304.7)" fill="#18b818" opacity="0.69"/><ellipse cx="619.6" cy="293.9" rx="0.8" ry="0.8" transform="rotate(32 619.6 293.9)" fill="#18b818" opacity="0.57"/><ellipse cx="566.4" cy="318.2" rx="1.0" ry="1.0" transform="rotate(165 566.4 318.2)" fill="#20a020" opacity="0.83"/><ellipse cx="607.1" cy="308.7" rx="1.6" ry="1.3" transform="rotate(70 607.1 308.7)" fill="#18b818" opacity="0.56"/><ellipse cx="615.2" cy="343.7" rx="1.5" ry="0.9" transform="rotate(157 615.2 343.7)" fill="#0c780c" opacity="0.90"/><ellipse cx="564.7" cy="309.2" rx="1.0" ry="1.1" transform="rotate(11 564.7 309.2)" fill="#20a020" opacity="0.79"/><ellipse cx="559.3" cy="290.4" rx="1.1" ry="1.0" transform="rotate(104 559.3 290.4)" fill="#20a020" opacity="0.84"/><ellipse cx="609.2" cy="301.6" rx="1.7" ry="1.4" transform="rotate(100 609.2 301.6)" fill="#20a020" opacity="0.81"/><ellipse cx="575.7" cy="275.9" rx="2.1" ry="1.5" transform="rotate(58 575.7 275.9)" fill="#20a020" opacity="0.54"/><ellipse cx="573.7" cy="275.3" rx="1.1" ry="1.3" transform="rotate(147 573.7 275.3)" fill="#18b818" opacity="0.54"/><ellipse cx="603.2" cy="287.4" rx="0.8" ry="0.7" transform="rotate(157 603.2 287.4)" fill="#0c780c" opacity="0.71"/><ellipse cx="566.1" cy="304.2" rx="1.4" ry="1.3" transform="rotate(35 566.1 304.2)" fill="#109010" opacity="0.74"/><ellipse cx="566.0" cy="346.6" rx="1.7" ry="1.4" transform="rotate(162 566.0 346.6)" fill="#109010" opacity="0.93"/><ellipse cx="583.1" cy="294.2" rx="1.0" ry="0.8" transform="rotate(69 583.1 294.2)" fill="#109010" opacity="0.93"/><ellipse cx="606.3" cy="301.1" rx="1.4" ry="1.0" transform="rotate(57 606.3 301.1)" fill="#20a020" opacity="0.82"/><ellipse cx="585.7" cy="286.2" rx="1.7" ry="1.3" transform="rotate(77 585.7 286.2)" fill="#109010" opacity="0.78"/><ellipse cx="583.7" cy="306.0" rx="1.6" ry="1.6" transform="rotate(47 583.7 306.0)" fill="#28d828" opacity="0.54"/><ellipse cx="609.4" cy="331.4" rx="2.3" ry="1.4" transform="rotate(78 609.4 331.4)" fill="#28d828" opacity="0.53"/><ellipse cx="553.7" cy="301.5" rx="1.5" ry="1.4" transform="rotate(23 553.7 301.5)" fill="#0c780c" opacity="0.72"/><ellipse cx="581.8" cy="277.0" rx="1.0" ry="0.9" transform="rotate(28 581.8 277.0)" fill="#0c780c" opacity="0.70"/><ellipse cx="586.6" cy="292.5" rx="1.1" ry="1.1" transform="rotate(62 586.6 292.5)" fill="#18b818" opacity="0.57"/><ellipse cx="607.1" cy="332.9" rx="1.3" ry="1.2" transform="rotate(31 607.1 332.9)" fill="#20a020" opacity="0.56"/><ellipse cx="620.4" cy="292.0" rx="1.1" ry="1.1" transform="rotate(147 620.4 292.0)" fill="#109010" opacity="0.54"/><ellipse cx="578.8" cy="335.4" rx="1.1" ry="1.3" transform="rotate(61 578.8 335.4)" fill="#0c780c" opacity="0.76"/><ellipse cx="576.7" cy="298.2" rx="1.4" ry="1.3" transform="rotate(132 576.7 298.2)" fill="#28d828" opacity="0.94"/><ellipse cx="609.8" cy="289.0" rx="1.1" ry="0.9" transform="rotate(110 609.8 289.0)" fill="#0c0cb0" opacity="0.71"/><ellipse cx="567.3" cy="342.2" rx="1.0" ry="0.9" transform="rotate(114 567.3 342.2)" fill="#0c0cb0" opacity="0.82"/><ellipse cx="548.8" cy="307.4" rx="1.3" ry="1.5" transform="rotate(136 548.8 307.4)" fill="#1414e0" opacity="0.61"/><ellipse cx="596.2" cy="326.1" rx="1.1" ry="1.0" transform="rotate(8 596.2 326.1)" fill="#1a1ad0" opacity="0.84"/><ellipse cx="561.2" cy="303.1" rx="1.3" ry="1.2" transform="rotate(153 561.2 303.1)" fill="#1414e0" opacity="0.74"/><ellipse cx="605.6" cy="280.9" rx="1.6" ry="1.1" transform="rotate(116 605.6 280.9)" fill="#1414e0" opacity="0.64"/><ellipse cx="565.8" cy="344.5" rx="1.0" ry="0.8" transform="rotate(42 565.8 344.5)" fill="#0c0cb0" opacity="0.71"/><ellipse cx="559.5" cy="310.6" rx="1.1" ry="0.9" transform="rotate(96 559.5 310.6)" fill="#1a1ad0" opacity="0.77"/><ellipse cx="586.5" cy="342.6" rx="1.8" ry="1.2" transform="rotate(174 586.5 342.6)" fill="#1010a0" opacity="0.85"/><ellipse cx="594.3" cy="303.5" rx="1.1" ry="1.2" transform="rotate(15 594.3 303.5)" fill="#1010a0" opacity="0.82"/><ellipse cx="554.3" cy="316.9" rx="1.3" ry="1.5" transform="rotate(118 554.3 316.9)" fill="#1414e0" opacity="0.66"/><ellipse cx="601.1" cy="272.3" rx="0.9" ry="0.9" transform="rotate(99 601.1 272.3)" fill="#1414e0" opacity="0.62"/><ellipse cx="606.4" cy="325.6" rx="1.0" ry="0.9" transform="rotate(17 606.4 325.6)" fill="#1414e0" opacity="0.76"/><ellipse cx="616.4" cy="324.6" rx="1.5" ry="1.1" transform="rotate(157 616.4 324.6)" fill="#1a1ad0" opacity="0.77"/><ellipse cx="577.4" cy="310.8" rx="1.3" ry="1.1" transform="rotate(28 577.4 310.8)" fill="#1414e0" opacity="0.89"/><ellipse cx="569.9" cy="341.2" rx="0.8" ry="0.8" transform="rotate(12 569.9 341.2)" fill="#1010a0" opacity="0.60"/><ellipse cx="578.3" cy="319.1" rx="1.3" ry="1.2" transform="rotate(158 578.3 319.1)" fill="#1414e0" opacity="0.71"/><ellipse cx="583.8" cy="322.8" rx="1.6" ry="1.1" transform="rotate(130 583.8 322.8)" fill="#1414e0" opacity="0.95"/><ellipse cx="554.2" cy="337.2" rx="1.4" ry="1.2" transform="rotate(84 554.2 337.2)" fill="#1a1ad0" opacity="0.89"/><ellipse cx="565.5" cy="340.7" rx="1.3" ry="1.0" transform="rotate(82 565.5 340.7)" fill="#0c0cb0" opacity="0.88"/><ellipse cx="561.9" cy="273.0" rx="1.1" ry="0.8" transform="rotate(159 561.9 273.0)" fill="#0c0cb0" opacity="0.62"/><ellipse cx="559.3" cy="290.6" rx="1.3" ry="1.0" transform="rotate(76 559.3 290.6)" fill="#0c0cb0" opacity="0.68"/><ellipse cx="603.9" cy="320.6" rx="0.8" ry="0.8" transform="rotate(4 603.9 320.6)" fill="#1a1ad0" opacity="0.64"/><ellipse cx="612.4" cy="343.7" rx="1.0" ry="0.9" transform="rotate(83 612.4 343.7)" fill="#1010a0" opacity="0.83"/><ellipse cx="611.0" cy="302.0" rx="1.1" ry="1.3" transform="rotate(80 611.0 302.0)" fill="#0c0cb0" opacity="0.99"/><ellipse cx="603.8" cy="328.4" rx="1.3" ry="1.1" transform="rotate(37 603.8 328.4)" fill="#1a1ad0" opacity="0.83"/><ellipse cx="574.8" cy="338.9" rx="1.4" ry="1.2" transform="rotate(101 574.8 338.9)" fill="#1414e0" opacity="0.63"/><ellipse cx="560.9" cy="320.1" rx="1.4" ry="1.1" transform="rotate(92 560.9 320.1)" fill="#1a1ad0" opacity="0.85"/><ellipse cx="616.1" cy="300.0" rx="1.4" ry="1.0" transform="rotate(161 616.1 300.0)" fill="#1010a0" opacity="0.68"/><ellipse cx="546.0" cy="285.3" rx="1.0" ry="0.7" transform="rotate(33 546.0 285.3)" fill="#0c0cb0" opacity="0.77"/><ellipse cx="607.5" cy="302.6" rx="1.0" ry="1.2" transform="rotate(23 607.5 302.6)" fill="#1010a0" opacity="0.99"/><ellipse cx="560.9" cy="298.0" rx="1.5" ry="0.9" transform="rotate(158 560.9 298.0)" fill="#1414e0" opacity="0.65"/><ellipse cx="603.5" cy="303.3" rx="1.5" ry="1.1" transform="rotate(29 603.5 303.3)" fill="#1a1ad0" opacity="0.64"/><ellipse cx="562.6" cy="286.3" rx="1.6" ry="1.3" transform="rotate(16 562.6 286.3)" fill="#1010a0" opacity="0.79"/><ellipse cx="548.5" cy="324.8" rx="1.2" ry="0.9" transform="rotate(17 548.5 324.8)" fill="#1414e0" opacity="0.66"/><ellipse cx="567.1" cy="335.0" rx="1.6" ry="1.3" transform="rotate(14 567.1 335.0)" fill="#0c0cb0" opacity="0.71"/><ellipse cx="606.0" cy="307.1" rx="0.9" ry="0.7" transform="rotate(127 606.0 307.1)" fill="#1010a0" opacity="0.91"/><ellipse cx="582.3" cy="346.5" rx="1.3" ry="0.9" transform="rotate(179 582.3 346.5)" fill="#1414e0" opacity="0.74"/><ellipse cx="591.3" cy="296.7" rx="1.2" ry="1.0" transform="rotate(79 591.3 296.7)" fill="#1a1ad0" opacity="0.73"/><ellipse cx="603.7" cy="293.6" rx="1.0" ry="1.2" transform="rotate(46 603.7 293.6)" fill="#0c0cb0" opacity="0.76"/><ellipse cx="582.8" cy="291.6" rx="2.1" ry="1.5" transform="rotate(86 582.8 291.6)" fill="#ffc000"/><ellipse cx="581" cy="296.5" rx="2.1" ry="1.5" transform="rotate(38 581 296.5)" fill="#ffc000"/><ellipse cx="580.3" cy="299.6" rx="2.1" ry="1.5" transform="rotate(159 580.3 299.6)" fill="#ffe000"/><ellipse cx="556.7" cy="309.6" rx="2.1" ry="1.5" transform="rotate(81 556.7 309.6)" fill="#ffe000"/><ellipse cx="551.8" cy="318.9" rx="2.1" ry="1.5" transform="rotate(20 551.8 318.9)" fill="#ff9000"/><ellipse cx="575.4" cy="320.7" rx="2.1" ry="1.5" transform="rotate(174 575.4 320.7)" fill="#ffc000"/><ellipse cx="613.2" cy="322" rx="2.1" ry="1.5" transform="rotate(144 613.2 322)" fill="#ffc000"/><ellipse cx="614.4" cy="333.1" rx="2.1" ry="1.5" transform="rotate(96 614.4 333.1)" fill="#ffe000"/><ellipse cx="607" cy="304.6" rx="2.1" ry="1.5" transform="rotate(111 607 304.6)" fill="#ffe000"/></g>
<text x="596.8" y="284.5" fill="#fff">lSuC</text>
</g>
<g clip-path="url(#cf1)">
<rect x="544.1" y="348.6" width="77.1" height="76.3" fill="#050000"/>
<path d="M614.9 363.5q8.5 -2.1 17.1 -3.7M612.3 379.3q7.1 -0.6 14.2 -6.8M619.9 363.4q9.2 -6.7 18.4 -13.6M601.6 378.2q7.2 -4.8 14.4 -6.2M541.0 395.7q12.0 -2.7 23.9 -10.6M560.8 378.2q15.1 -8.8 30.1 -15.2M559.4 385.4q8.6 -5.2 17.3 -6.4M597.8 398.2q5.6 -4.0 11.3 -4.9M543.0 380.1q16.8 -2.2 33.7 -8.5M566.3 397.4q9.6 -3.1 19.3 -5.0M596.3 378.2q9.1 -2.6 18.2 -9.1M579.3 357.0q10.3 -10.8 20.6 -17.1M592.4 367.8q9.0 -3.3 18.0 -8.4M545.7 383.9q8.4 -0.3 16.7 -6.5" stroke="#801818" stroke-width="0.6" opacity="0.75" fill="none"/>
<g filter="url(#blf)"><ellipse cx="575.4" cy="353.6" rx="1.3" ry="1.2" transform="rotate(30 575.4 353.6)" fill="#28d828" opacity="0.71"/><ellipse cx="575.6" cy="375.6" rx="1.4" ry="1.1" transform="rotate(108 575.6 375.6)" fill="#109010" opacity="0.57"/><ellipse cx="591.3" cy="356.2" rx="1.7" ry="1.7" transform="rotate(55 591.3 356.2)" fill="#20a020" opacity="0.54"/><ellipse cx="564.1" cy="360.0" rx="2.2" ry="1.4" transform="rotate(67 564.1 360.0)" fill="#20a020" opacity="0.63"/><ellipse cx="575.5" cy="377.6" rx="1.5" ry="1.3" transform="rotate(107 575.5 377.6)" fill="#109010" opacity="0.90"/><ellipse cx="596.9" cy="406.5" rx="1.3" ry="1.0" transform="rotate(165 596.9 406.5)" fill="#109010" opacity="0.80"/><ellipse cx="544.8" cy="378.2" rx="1.1" ry="1.2" transform="rotate(141 544.8 378.2)" fill="#18b818" opacity="0.48"/><ellipse cx="599.0" cy="392.1" rx="1.1" ry="1.0" transform="rotate(65 599.0 392.1)" fill="#20a020" opacity="0.71"/><ellipse cx="578.2" cy="377.4" rx="1.3" ry="1.4" transform="rotate(84 578.2 377.4)" fill="#28d828" opacity="0.78"/><ellipse cx="563.8" cy="379.6" rx="1.1" ry="1.0" transform="rotate(165 563.8 379.6)" fill="#28d828" opacity="0.51"/><ellipse cx="618.5" cy="393.3" rx="1.2" ry="0.9" transform="rotate(110 618.5 393.3)" fill="#109010" opacity="0.51"/><ellipse cx="555.9" cy="353.3" rx="1.6" ry="1.6" transform="rotate(100 555.9 353.3)" fill="#20a020" opacity="0.79"/><ellipse cx="595.0" cy="398.0" rx="1.4" ry="1.2" transform="rotate(137 595.0 398.0)" fill="#0c780c" opacity="0.91"/><ellipse cx="547.0" cy="365.0" rx="1.3" ry="1.3" transform="rotate(75 547.0 365.0)" fill="#0c780c" opacity="0.88"/><ellipse cx="569.1" cy="364.0" rx="1.2" ry="1.0" transform="rotate(148 569.1 364.0)" fill="#0c780c" opacity="0.43"/><ellipse cx="550.7" cy="357.2" rx="1.4" ry="1.2" transform="rotate(38 550.7 357.2)" fill="#28d828" opacity="0.56"/><ellipse cx="563.7" cy="388.1" rx="1.4" ry="1.6" transform="rotate(141 563.7 388.1)" fill="#0c780c" opacity="0.92"/><ellipse cx="570.8" cy="379.9" rx="1.0" ry="0.9" transform="rotate(175 570.8 379.9)" fill="#0c780c" opacity="0.72"/><ellipse cx="578.2" cy="357.9" rx="1.5" ry="1.0" transform="rotate(113 578.2 357.9)" fill="#18b818" opacity="0.74"/><ellipse cx="594.2" cy="390.2" rx="1.6" ry="1.5" transform="rotate(123 594.2 390.2)" fill="#28d828" opacity="0.66"/><ellipse cx="571.3" cy="407.4" rx="1.5" ry="1.2" transform="rotate(125 571.3 407.4)" fill="#28d828" opacity="0.86"/><ellipse cx="585.3" cy="361.9" rx="1.9" ry="1.6" transform="rotate(35 585.3 361.9)" fill="#109010" opacity="0.79"/><ellipse cx="556.7" cy="412.8" rx="1.4" ry="1.3" transform="rotate(179 556.7 412.8)" fill="#109010" opacity="0.45"/><ellipse cx="554.7" cy="356.5" rx="1.8" ry="1.2" transform="rotate(50 554.7 356.5)" fill="#28d828" opacity="0.66"/><ellipse cx="560.9" cy="371.0" rx="1.2" ry="1.1" transform="rotate(77 560.9 371.0)" fill="#109010" opacity="0.42"/><ellipse cx="574.8" cy="357.7" rx="1.5" ry="1.8" transform="rotate(137 574.8 357.7)" fill="#109010" opacity="0.64"/><ellipse cx="577.7" cy="411.5" rx="1.5" ry="1.1" transform="rotate(137 577.7 411.5)" fill="#20a020" opacity="0.83"/><ellipse cx="559.8" cy="383.8" rx="1.3" ry="1.1" transform="rotate(109 559.8 383.8)" fill="#28d828" opacity="0.50"/><ellipse cx="576.4" cy="359.7" rx="1.1" ry="0.7" transform="rotate(8 576.4 359.7)" fill="#20a020" opacity="0.50"/><ellipse cx="550.8" cy="388.8" rx="1.3" ry="0.8" transform="rotate(156 550.8 388.8)" fill="#28d828" opacity="0.41"/><ellipse cx="546.0" cy="371.2" rx="1.3" ry="1.4" transform="rotate(122 546.0 371.2)" fill="#28d828" opacity="0.79"/><ellipse cx="590.9" cy="374.6" rx="1.5" ry="1.2" transform="rotate(16 590.9 374.6)" fill="#109010" opacity="0.68"/><ellipse cx="570.3" cy="410.3" rx="1.0" ry="1.1" transform="rotate(61 570.3 410.3)" fill="#28d828" opacity="0.95"/><ellipse cx="609.5" cy="387.0" rx="1.1" ry="1.2" transform="rotate(171 609.5 387.0)" fill="#20a020" opacity="0.94"/><ellipse cx="587.4" cy="352.5" rx="1.2" ry="1.4" transform="rotate(119 587.4 352.5)" fill="#28d828" opacity="0.95"/><ellipse cx="566.8" cy="392.6" rx="2.2" ry="1.3" transform="rotate(151 566.8 392.6)" fill="#18b818" opacity="0.50"/><ellipse cx="584.2" cy="380.2" rx="1.8" ry="1.6" transform="rotate(60 584.2 380.2)" fill="#109010" opacity="0.70"/><ellipse cx="585.4" cy="359.1" rx="0.9" ry="1.1" transform="rotate(25 585.4 359.1)" fill="#20a020" opacity="0.55"/><ellipse cx="547.9" cy="359.2" rx="1.1" ry="1.1" transform="rotate(66 547.9 359.2)" fill="#20a020" opacity="0.90"/><ellipse cx="570.9" cy="356.6" rx="1.7" ry="1.2" transform="rotate(172 570.9 356.6)" fill="#20a020" opacity="0.56"/><ellipse cx="566.0" cy="367.8" rx="1.9" ry="1.2" transform="rotate(171 566.0 367.8)" fill="#28d828" opacity="0.74"/><ellipse cx="607.2" cy="414.1" rx="1.9" ry="1.1" transform="rotate(45 607.2 414.1)" fill="#0c780c" opacity="0.65"/><ellipse cx="559.6" cy="351.8" rx="1.5" ry="1.5" transform="rotate(157 559.6 351.8)" fill="#18b818" opacity="0.64"/><ellipse cx="565.2" cy="350.9" rx="1.6" ry="1.2" transform="rotate(114 565.2 350.9)" fill="#20a020" opacity="0.76"/><ellipse cx="589.2" cy="356.7" rx="1.5" ry="1.4" transform="rotate(64 589.2 356.7)" fill="#0c780c" opacity="0.67"/><ellipse cx="606.5" cy="370.3" rx="1.7" ry="1.5" transform="rotate(74 606.5 370.3)" fill="#18b818" opacity="0.56"/><ellipse cx="567.5" cy="402.5" rx="1.0" ry="0.9" transform="rotate(89 567.5 402.5)" fill="#28d828" opacity="0.60"/><ellipse cx="548.8" cy="358.8" rx="1.6" ry="1.4" transform="rotate(58 548.8 358.8)" fill="#109010" opacity="0.93"/><ellipse cx="566.9" cy="384.4" rx="1.0" ry="0.7" transform="rotate(41 566.9 384.4)" fill="#20a020" opacity="0.90"/><ellipse cx="607.4" cy="357.7" rx="1.8" ry="1.3" transform="rotate(67 607.4 357.7)" fill="#18b818" opacity="0.93"/><ellipse cx="592.4" cy="396.3" rx="0.9" ry="0.9" transform="rotate(156 592.4 396.3)" fill="#0c780c" opacity="0.67"/><ellipse cx="592.2" cy="361.8" rx="1.2" ry="1.2" transform="rotate(120 592.2 361.8)" fill="#18b818" opacity="0.55"/><ellipse cx="574.5" cy="365.3" rx="1.6" ry="1.4" transform="rotate(22 574.5 365.3)" fill="#109010" opacity="0.50"/><ellipse cx="565.1" cy="368.2" rx="1.1" ry="0.9" transform="rotate(27 565.1 368.2)" fill="#28d828" opacity="0.73"/><ellipse cx="549.7" cy="350.5" rx="1.6" ry="1.4" transform="rotate(24 549.7 350.5)" fill="#28d828" opacity="0.78"/><ellipse cx="562.5" cy="363.0" rx="0.8" ry="0.9" transform="rotate(78 562.5 363.0)" fill="#20a020" opacity="0.87"/><ellipse cx="561.6" cy="393.1" rx="1.0" ry="1.2" transform="rotate(4 561.6 393.1)" fill="#20a020" opacity="0.56"/><ellipse cx="544.9" cy="359.3" rx="1.5" ry="1.6" transform="rotate(163 544.9 359.3)" fill="#20a020" opacity="0.44"/><ellipse cx="554.2" cy="383.0" rx="1.8" ry="1.2" transform="rotate(106 554.2 383.0)" fill="#0c780c" opacity="0.78"/><ellipse cx="595.8" cy="423.8" rx="1.8" ry="1.1" transform="rotate(125 595.8 423.8)" fill="#28d828" opacity="0.77"/><ellipse cx="579.0" cy="367.1" rx="1.4" ry="1.0" transform="rotate(95 579.0 367.1)" fill="#20a020" opacity="0.95"/><ellipse cx="550.5" cy="350.2" rx="1.9" ry="1.6" transform="rotate(117 550.5 350.2)" fill="#109010" opacity="0.81"/><ellipse cx="576.0" cy="370.9" rx="1.1" ry="0.9" transform="rotate(131 576.0 370.9)" fill="#109010" opacity="0.73"/><ellipse cx="583.6" cy="354.1" rx="1.8" ry="1.8" transform="rotate(95 583.6 354.1)" fill="#20a020" opacity="0.93"/><ellipse cx="566.7" cy="357.1" rx="1.0" ry="0.8" transform="rotate(79 566.7 357.1)" fill="#20a020" opacity="0.57"/><ellipse cx="570.2" cy="358.2" rx="2.1" ry="1.9" transform="rotate(106 570.2 358.2)" fill="#0c780c" opacity="0.81"/><ellipse cx="553.3" cy="417.5" rx="2.0" ry="1.7" transform="rotate(97 553.3 417.5)" fill="#20a020" opacity="0.47"/><ellipse cx="570.7" cy="374.1" rx="1.4" ry="1.1" transform="rotate(85 570.7 374.1)" fill="#0c780c" opacity="0.76"/><ellipse cx="570.3" cy="371.1" rx="1.4" ry="1.5" transform="rotate(6 570.3 371.1)" fill="#20a020" opacity="0.87"/><ellipse cx="571.4" cy="383.5" rx="1.5" ry="1.5" transform="rotate(93 571.4 383.5)" fill="#0c780c" opacity="0.75"/><ellipse cx="596.6" cy="355.7" rx="1.3" ry="0.9" transform="rotate(177 596.6 355.7)" fill="#20a020" opacity="0.49"/><ellipse cx="592.9" cy="369.1" rx="1.5" ry="1.4" transform="rotate(28 592.9 369.1)" fill="#109010" opacity="0.41"/><ellipse cx="597.8" cy="358.3" rx="1.4" ry="1.3" transform="rotate(65 597.8 358.3)" fill="#28d828" opacity="0.66"/><ellipse cx="545.5" cy="385.8" rx="1.2" ry="1.1" transform="rotate(39 545.5 385.8)" fill="#18b818" opacity="0.57"/><ellipse cx="546.7" cy="368.8" rx="1.7" ry="1.4" transform="rotate(150 546.7 368.8)" fill="#18b818" opacity="0.50"/><ellipse cx="545.6" cy="377.6" rx="1.2" ry="1.1" transform="rotate(169 545.6 377.6)" fill="#109010" opacity="0.73"/><ellipse cx="544.2" cy="408.7" rx="1.9" ry="1.3" transform="rotate(10 544.2 408.7)" fill="#28d828" opacity="0.72"/><ellipse cx="555.0" cy="387.1" rx="0.8" ry="0.9" transform="rotate(67 555.0 387.1)" fill="#20a020" opacity="0.79"/><ellipse cx="600.7" cy="402.5" rx="1.5" ry="1.5" transform="rotate(94 600.7 402.5)" fill="#0c780c" opacity="0.75"/><ellipse cx="569.1" cy="386.8" rx="1.2" ry="1.0" transform="rotate(138 569.1 386.8)" fill="#20a020" opacity="0.71"/><ellipse cx="584.2" cy="395.3" rx="1.5" ry="1.4" transform="rotate(165 584.2 395.3)" fill="#0c780c" opacity="0.46"/><ellipse cx="544.6" cy="367.6" rx="1.0" ry="0.8" transform="rotate(100 544.6 367.6)" fill="#20a020" opacity="0.57"/><ellipse cx="613.1" cy="423.7" rx="1.3" ry="1.4" transform="rotate(28 613.1 423.7)" fill="#18b818" opacity="0.61"/><ellipse cx="548.0" cy="355.1" rx="2.2" ry="1.4" transform="rotate(131 548.0 355.1)" fill="#0c780c" opacity="0.52"/><ellipse cx="562.9" cy="358.2" rx="1.4" ry="1.0" transform="rotate(131 562.9 358.2)" fill="#28d828" opacity="0.61"/><ellipse cx="598.3" cy="410.8" rx="1.6" ry="1.5" transform="rotate(18 598.3 410.8)" fill="#20a020" opacity="0.47"/><ellipse cx="567.0" cy="379.6" rx="1.5" ry="1.1" transform="rotate(138 567.0 379.6)" fill="#20a020" opacity="0.89"/><ellipse cx="557.7" cy="388.1" rx="1.6" ry="1.5" transform="rotate(173 557.7 388.1)" fill="#18b818" opacity="0.68"/><ellipse cx="581.7" cy="367.4" rx="1.0" ry="1.1" transform="rotate(178 581.7 367.4)" fill="#0c780c" opacity="0.48"/><ellipse cx="589.9" cy="354.1" rx="1.1" ry="0.7" transform="rotate(53 589.9 354.1)" fill="#20a020" opacity="0.85"/><ellipse cx="564.9" cy="362.0" rx="1.4" ry="1.1" transform="rotate(75 564.9 362.0)" fill="#28d828" opacity="0.87"/><ellipse cx="619.4" cy="402.2" rx="1.5" ry="1.3" transform="rotate(113 619.4 402.2)" fill="#18b818" opacity="0.72"/><ellipse cx="590.5" cy="398.8" rx="1.2" ry="1.3" transform="rotate(1 590.5 398.8)" fill="#0c780c" opacity="0.65"/><ellipse cx="567.6" cy="362.9" rx="1.4" ry="1.0" transform="rotate(5 567.6 362.9)" fill="#109010" opacity="0.53"/><ellipse cx="621.1" cy="392.6" rx="1.1" ry="1.0" transform="rotate(38 621.1 392.6)" fill="#20a020" opacity="0.42"/><ellipse cx="595.8" cy="355.6" rx="1.0" ry="1.0" transform="rotate(31 595.8 355.6)" fill="#109010" opacity="0.80"/><ellipse cx="619.4" cy="412.3" rx="1.8" ry="1.4" transform="rotate(25 619.4 412.3)" fill="#18b818" opacity="0.46"/><ellipse cx="564.3" cy="392.4" rx="1.1" ry="1.2" transform="rotate(126 564.3 392.4)" fill="#109010" opacity="0.54"/><ellipse cx="589.8" cy="359.5" rx="1.1" ry="0.9" transform="rotate(64 589.8 359.5)" fill="#0c780c" opacity="0.59"/><ellipse cx="558.7" cy="353.8" rx="1.6" ry="1.4" transform="rotate(154 558.7 353.8)" fill="#20a020" opacity="0.66"/><ellipse cx="569.1" cy="369.7" rx="1.3" ry="0.9" transform="rotate(22 569.1 369.7)" fill="#0c780c" opacity="0.89"/><ellipse cx="572.5" cy="365.2" rx="1.1" ry="0.8" transform="rotate(4 572.5 365.2)" fill="#20a020" opacity="0.73"/><ellipse cx="606.8" cy="409.6" rx="1.7" ry="1.2" transform="rotate(61 606.8 409.6)" fill="#109010" opacity="0.53"/><ellipse cx="560.5" cy="353.2" rx="1.9" ry="1.4" transform="rotate(87 560.5 353.2)" fill="#20a020" opacity="0.48"/><ellipse cx="556.2" cy="377.1" rx="1.1" ry="0.8" transform="rotate(98 556.2 377.1)" fill="#28d828" opacity="0.57"/><ellipse cx="582.3" cy="372.2" rx="1.5" ry="1.7" transform="rotate(61 582.3 372.2)" fill="#20a020" opacity="0.87"/><ellipse cx="548.9" cy="357.4" rx="1.3" ry="1.1" transform="rotate(46 548.9 357.4)" fill="#20a020" opacity="0.61"/><ellipse cx="552.2" cy="379.2" rx="1.4" ry="1.1" transform="rotate(89 552.2 379.2)" fill="#109010" opacity="0.73"/><ellipse cx="551.5" cy="351.7" rx="1.2" ry="0.8" transform="rotate(60 551.5 351.7)" fill="#20a020" opacity="0.95"/><ellipse cx="558.5" cy="388.4" rx="1.5" ry="1.3" transform="rotate(139 558.5 388.4)" fill="#18b818" opacity="0.92"/><ellipse cx="576.0" cy="351.0" rx="1.7" ry="1.4" transform="rotate(90 576.0 351.0)" fill="#18b818" opacity="0.56"/><ellipse cx="576.9" cy="370.6" rx="1.1" ry="1.0" transform="rotate(163 576.9 370.6)" fill="#0c780c" opacity="0.89"/><ellipse cx="565.9" cy="385.9" rx="1.3" ry="1.1" transform="rotate(161 565.9 385.9)" fill="#0c780c" opacity="0.59"/><ellipse cx="557.3" cy="349.3" rx="0.9" ry="0.7" transform="rotate(90 557.3 349.3)" fill="#109010" opacity="0.66"/><ellipse cx="596.6" cy="350.4" rx="1.7" ry="1.4" transform="rotate(70 596.6 350.4)" fill="#20a020" opacity="0.61"/><ellipse cx="604.5" cy="419.1" rx="1.2" ry="1.2" transform="rotate(74 604.5 419.1)" fill="#18b818" opacity="0.64"/><ellipse cx="557.8" cy="364.4" rx="1.6" ry="1.1" transform="rotate(79 557.8 364.4)" fill="#28d828" opacity="0.88"/><ellipse cx="553.0" cy="369.3" rx="0.8" ry="0.8" transform="rotate(40 553.0 369.3)" fill="#109010" opacity="0.62"/><ellipse cx="569.3" cy="371.1" rx="1.3" ry="1.2" transform="rotate(65 569.3 371.1)" fill="#109010" opacity="0.55"/><ellipse cx="582.2" cy="419.6" rx="1.7" ry="1.3" transform="rotate(80 582.2 419.6)" fill="#0c780c" opacity="0.67"/><ellipse cx="568.3" cy="360.7" rx="1.5" ry="1.6" transform="rotate(18 568.3 360.7)" fill="#18b818" opacity="0.86"/><ellipse cx="551.8" cy="391.5" rx="1.7" ry="1.5" transform="rotate(16 551.8 391.5)" fill="#28d828" opacity="0.67"/><ellipse cx="580.0" cy="420.0" rx="1.1" ry="1.0" transform="rotate(32 580.0 420.0)" fill="#28d828" opacity="0.88"/><ellipse cx="563.2" cy="364.6" rx="2.0" ry="1.6" transform="rotate(12 563.2 364.6)" fill="#28d828" opacity="0.78"/><ellipse cx="547.8" cy="368.0" rx="1.2" ry="1.1" transform="rotate(135 547.8 368.0)" fill="#20a020" opacity="0.55"/><ellipse cx="596.5" cy="369.1" rx="1.9" ry="1.3" transform="rotate(96 596.5 369.1)" fill="#18b818" opacity="0.85"/><ellipse cx="557.4" cy="414.2" rx="1.2" ry="1.0" transform="rotate(141 557.4 414.2)" fill="#18b818" opacity="0.78"/><ellipse cx="593.2" cy="412.2" rx="2.0" ry="1.3" transform="rotate(171 593.2 412.2)" fill="#20a020" opacity="0.45"/><ellipse cx="546.6" cy="351.5" rx="1.0" ry="0.8" transform="rotate(65 546.6 351.5)" fill="#18b818" opacity="0.42"/><ellipse cx="565.3" cy="387.1" rx="1.8" ry="1.3" transform="rotate(90 565.3 387.1)" fill="#0c780c" opacity="0.64"/><ellipse cx="563.6" cy="392.1" rx="1.4" ry="1.3" transform="rotate(126 563.6 392.1)" fill="#18b818" opacity="0.80"/><ellipse cx="580.9" cy="363.3" rx="0.9" ry="0.8" transform="rotate(174 580.9 363.3)" fill="#20a020" opacity="0.59"/><ellipse cx="544.8" cy="375.6" rx="0.8" ry="0.7" transform="rotate(131 544.8 375.6)" fill="#20a020" opacity="0.89"/><ellipse cx="550.9" cy="388.6" rx="0.9" ry="0.8" transform="rotate(46 550.9 388.6)" fill="#20a020" opacity="0.53"/><ellipse cx="560.6" cy="377.5" rx="0.8" ry="0.8" transform="rotate(15 560.6 377.5)" fill="#0c780c" opacity="0.81"/><ellipse cx="585.6" cy="357.8" rx="1.5" ry="1.1" transform="rotate(108 585.6 357.8)" fill="#18b818" opacity="0.79"/><ellipse cx="569.5" cy="382.5" rx="0.9" ry="1.0" transform="rotate(151 569.5 382.5)" fill="#28d828" opacity="0.72"/><ellipse cx="556.7" cy="374.0" rx="0.9" ry="0.9" transform="rotate(23 556.7 374.0)" fill="#28d828" opacity="0.68"/><ellipse cx="596.9" cy="393.9" rx="1.6" ry="1.2" transform="rotate(72 596.9 393.9)" fill="#0c780c" opacity="0.63"/><ellipse cx="569.9" cy="367.6" rx="1.5" ry="1.2" transform="rotate(135 569.9 367.6)" fill="#109010" opacity="0.53"/><ellipse cx="555.4" cy="384.2" rx="0.9" ry="0.8" transform="rotate(116 555.4 384.2)" fill="#109010" opacity="0.91"/><ellipse cx="586.9" cy="356.0" rx="1.1" ry="0.7" transform="rotate(177 586.9 356.0)" fill="#109010" opacity="0.48"/><ellipse cx="547.6" cy="392.0" rx="2.0" ry="1.4" transform="rotate(27 547.6 392.0)" fill="#28d828" opacity="0.72"/><ellipse cx="585.2" cy="382.2" rx="1.4" ry="1.0" transform="rotate(56 585.2 382.2)" fill="#109010" opacity="0.47"/><ellipse cx="566.2" cy="359.6" rx="1.3" ry="1.2" transform="rotate(135 566.2 359.6)" fill="#28d828" opacity="0.62"/><ellipse cx="563.7" cy="348.8" rx="1.1" ry="0.7" transform="rotate(170 563.7 348.8)" fill="#0c780c" opacity="0.55"/><ellipse cx="571.5" cy="399.8" rx="1.5" ry="1.4" transform="rotate(43 571.5 399.8)" fill="#28d828" opacity="0.61"/><ellipse cx="561.4" cy="362.3" rx="1.4" ry="0.9" transform="rotate(59 561.4 362.3)" fill="#28d828" opacity="0.94"/><ellipse cx="608.1" cy="404.8" rx="1.7" ry="1.6" transform="rotate(58 608.1 404.8)" fill="#20a020" opacity="0.78"/><ellipse cx="555.3" cy="356.5" rx="1.5" ry="1.6" transform="rotate(16 555.3 356.5)" fill="#109010" opacity="0.45"/><ellipse cx="602.0" cy="350.6" rx="1.3" ry="1.0" transform="rotate(86 602.0 350.6)" fill="#28d828" opacity="0.59"/><ellipse cx="557.2" cy="379.0" rx="1.4" ry="0.9" transform="rotate(30 557.2 379.0)" fill="#18b818" opacity="0.91"/><ellipse cx="615.9" cy="395.3" rx="1.7" ry="1.3" transform="rotate(10 615.9 395.3)" fill="#18b818" opacity="0.43"/><ellipse cx="553.7" cy="367.1" rx="1.8" ry="1.5" transform="rotate(73 553.7 367.1)" fill="#28d828" opacity="0.60"/><ellipse cx="591.7" cy="353.4" rx="1.5" ry="1.2" transform="rotate(147 591.7 353.4)" fill="#20a020" opacity="0.54"/><ellipse cx="562.3" cy="372.9" rx="1.6" ry="1.8" transform="rotate(118 562.3 372.9)" fill="#109010" opacity="0.77"/><ellipse cx="550.0" cy="383.9" rx="2.0" ry="1.9" transform="rotate(16 550.0 383.9)" fill="#18b818" opacity="0.94"/><ellipse cx="610.1" cy="353.0" rx="1.3" ry="1.0" transform="rotate(173 610.1 353.0)" fill="#0c780c" opacity="0.40"/><ellipse cx="611.9" cy="350.4" rx="1.6" ry="1.8" transform="rotate(15 611.9 350.4)" fill="#0c780c" opacity="0.51"/><ellipse cx="582.9" cy="350.7" rx="2.0" ry="1.6" transform="rotate(160 582.9 350.7)" fill="#28d828" opacity="0.51"/><ellipse cx="564.9" cy="413.9" rx="1.4" ry="0.9" transform="rotate(31 564.9 413.9)" fill="#18b818" opacity="0.85"/><ellipse cx="614.6" cy="375.5" rx="1.3" ry="1.4" transform="rotate(73 614.6 375.5)" fill="#109010" opacity="0.60"/><ellipse cx="559.6" cy="421.0" rx="1.1" ry="0.9" transform="rotate(61 559.6 421.0)" fill="#28d828" opacity="0.93"/><ellipse cx="581.0" cy="373.7" rx="1.3" ry="1.3" transform="rotate(28 581.0 373.7)" fill="#0c780c" opacity="0.94"/><ellipse cx="604.2" cy="359.7" rx="0.9" ry="0.8" transform="rotate(69 604.2 359.7)" fill="#0c780c" opacity="0.92"/><ellipse cx="551.0" cy="369.7" rx="2.1" ry="1.4" transform="rotate(18 551.0 369.7)" fill="#0c780c" opacity="0.66"/><ellipse cx="598.6" cy="354.3" rx="1.5" ry="1.3" transform="rotate(61 598.6 354.3)" fill="#0c780c" opacity="0.73"/><ellipse cx="581.5" cy="393.5" rx="1.6" ry="1.1" transform="rotate(117 581.5 393.5)" fill="#0c780c" opacity="0.41"/><ellipse cx="547.0" cy="372.5" rx="1.4" ry="1.2" transform="rotate(147 547.0 372.5)" fill="#20a020" opacity="0.84"/><ellipse cx="547.4" cy="418.9" rx="1.2" ry="1.0" transform="rotate(102 547.4 418.9)" fill="#109010" opacity="0.80"/><ellipse cx="605.2" cy="367.7" rx="1.2" ry="0.9" transform="rotate(157 605.2 367.7)" fill="#0c780c" opacity="0.69"/><ellipse cx="556.7" cy="373.6" rx="1.7" ry="1.1" transform="rotate(138 556.7 373.6)" fill="#18b818" opacity="0.52"/><ellipse cx="549.1" cy="358.8" rx="1.6" ry="1.1" transform="rotate(18 549.1 358.8)" fill="#0c780c" opacity="0.63"/><ellipse cx="584.1" cy="349.6" rx="1.3" ry="0.9" transform="rotate(73 584.1 349.6)" fill="#109010" opacity="0.72"/><ellipse cx="599.6" cy="422.9" rx="1.4" ry="1.6" transform="rotate(108 599.6 422.9)" fill="#28d828" opacity="0.75"/><ellipse cx="547.9" cy="417.6" rx="1.9" ry="1.6" transform="rotate(121 547.9 417.6)" fill="#20a020" opacity="0.47"/><ellipse cx="580.4" cy="360.9" rx="2.0" ry="1.5" transform="rotate(36 580.4 360.9)" fill="#0c780c" opacity="0.78"/><ellipse cx="552.7" cy="424.7" rx="1.2" ry="0.9" transform="rotate(10 552.7 424.7)" fill="#20a020" opacity="0.88"/><ellipse cx="553.0" cy="388.1" rx="1.6" ry="1.3" transform="rotate(158 553.0 388.1)" fill="#109010" opacity="0.94"/><ellipse cx="574.0" cy="378.4" rx="1.0" ry="1.0" transform="rotate(148 574.0 378.4)" fill="#0c780c" opacity="0.69"/><ellipse cx="595.7" cy="409.6" rx="1.0" ry="0.8" transform="rotate(105 595.7 409.6)" fill="#28d828" opacity="0.86"/><ellipse cx="546.1" cy="369.4" rx="1.6" ry="1.3" transform="rotate(78 546.1 369.4)" fill="#20a020" opacity="0.72"/><ellipse cx="559.1" cy="371.2" rx="2.2" ry="1.5" transform="rotate(66 559.1 371.2)" fill="#0c780c" opacity="0.41"/><ellipse cx="546.0" cy="377.8" rx="1.7" ry="1.7" transform="rotate(155 546.0 377.8)" fill="#0c780c" opacity="0.73"/><ellipse cx="582.8" cy="410.3" rx="1.4" ry="0.9" transform="rotate(47 582.8 410.3)" fill="#20a020" opacity="0.68"/><ellipse cx="573.0" cy="350.8" rx="1.7" ry="1.2" transform="rotate(31 573.0 350.8)" fill="#109010" opacity="0.49"/><ellipse cx="549.2" cy="359.8" rx="1.2" ry="0.9" transform="rotate(152 549.2 359.8)" fill="#18b818" opacity="0.61"/><ellipse cx="561.2" cy="361.8" rx="1.6" ry="1.1" transform="rotate(103 561.2 361.8)" fill="#20a020" opacity="0.50"/><ellipse cx="582.8" cy="417.0" rx="1.8" ry="1.5" transform="rotate(53 582.8 417.0)" fill="#20a020" opacity="0.52"/><ellipse cx="614.3" cy="356.9" rx="1.8" ry="1.4" transform="rotate(169 614.3 356.9)" fill="#18b818" opacity="0.93"/><ellipse cx="544.9" cy="352.3" rx="1.9" ry="1.5" transform="rotate(155 544.9 352.3)" fill="#0c780c" opacity="0.72"/><ellipse cx="562.4" cy="361.1" rx="1.1" ry="0.9" transform="rotate(46 562.4 361.1)" fill="#109010" opacity="0.60"/><ellipse cx="565.0" cy="389.8" rx="1.0" ry="0.9" transform="rotate(51 565.0 389.8)" fill="#28d828" opacity="0.90"/><ellipse cx="605.8" cy="357.1" rx="1.6" ry="1.3" transform="rotate(179 605.8 357.1)" fill="#18b818" opacity="0.91"/><ellipse cx="574.3" cy="361.8" rx="1.1" ry="1.1" transform="rotate(127 574.3 361.8)" fill="#28d828" opacity="0.50"/><ellipse cx="598.8" cy="362.2" rx="1.4" ry="1.1" transform="rotate(63 598.8 362.2)" fill="#109010" opacity="0.77"/><ellipse cx="607.2" cy="380.1" rx="1.5" ry="1.0" transform="rotate(152 607.2 380.1)" fill="#20a020" opacity="0.72"/><ellipse cx="568.1" cy="380.4" rx="1.4" ry="1.3" transform="rotate(113 568.1 380.4)" fill="#28d828" opacity="0.70"/><ellipse cx="613.8" cy="378.7" rx="1.2" ry="0.9" transform="rotate(138 613.8 378.7)" fill="#20a020" opacity="0.79"/><ellipse cx="556.7" cy="384.8" rx="1.7" ry="1.1" transform="rotate(91 556.7 384.8)" fill="#20a020" opacity="0.87"/><ellipse cx="579.3" cy="367.3" rx="1.5" ry="1.5" transform="rotate(7 579.3 367.3)" fill="#0c780c" opacity="0.92"/><ellipse cx="586.5" cy="366.3" rx="1.1" ry="1.0" transform="rotate(88 586.5 366.3)" fill="#0c780c" opacity="0.59"/><ellipse cx="583.9" cy="356.6" rx="1.9" ry="1.6" transform="rotate(77 583.9 356.6)" fill="#18b818" opacity="0.76"/><ellipse cx="580.7" cy="374.8" rx="1.7" ry="1.5" transform="rotate(136 580.7 374.8)" fill="#0c780c" opacity="0.78"/><ellipse cx="547.5" cy="377.0" rx="1.7" ry="1.4" transform="rotate(92 547.5 377.0)" fill="#109010" opacity="0.69"/><ellipse cx="602.7" cy="353.4" rx="1.5" ry="1.2" transform="rotate(74 602.7 353.4)" fill="#28d828" opacity="0.85"/><ellipse cx="557.1" cy="355.6" rx="1.2" ry="1.0" transform="rotate(56 557.1 355.6)" fill="#109010" opacity="0.51"/><ellipse cx="594.4" cy="352.7" rx="1.4" ry="1.4" transform="rotate(106 594.4 352.7)" fill="#20a020" opacity="0.62"/><ellipse cx="613.6" cy="357.1" rx="1.3" ry="1.6" transform="rotate(98 613.6 357.1)" fill="#20a020" opacity="0.53"/><ellipse cx="581.4" cy="360.6" rx="1.8" ry="1.4" transform="rotate(149 581.4 360.6)" fill="#18b818" opacity="0.67"/><ellipse cx="576.8" cy="376.9" rx="1.3" ry="1.0" transform="rotate(5 576.8 376.9)" fill="#20a020" opacity="0.51"/><ellipse cx="574.5" cy="363.8" rx="0.9" ry="0.8" transform="rotate(74 574.5 363.8)" fill="#28d828" opacity="0.95"/><ellipse cx="553.7" cy="417.6" rx="1.5" ry="0.9" transform="rotate(121 553.7 417.6)" fill="#109010" opacity="0.93"/><ellipse cx="563.3" cy="390.9" rx="1.6" ry="1.1" transform="rotate(112 563.3 390.9)" fill="#0c780c" opacity="0.88"/><ellipse cx="573.5" cy="380.1" rx="1.6" ry="1.2" transform="rotate(75 573.5 380.1)" fill="#0c780c" opacity="0.57"/><ellipse cx="587.6" cy="356.0" rx="1.1" ry="0.8" transform="rotate(137 587.6 356.0)" fill="#109010" opacity="0.46"/><ellipse cx="613.0" cy="413.4" rx="1.7" ry="1.1" transform="rotate(156 613.0 413.4)" fill="#0c780c" opacity="0.62"/><ellipse cx="576.3" cy="364.7" rx="1.4" ry="1.2" transform="rotate(28 576.3 364.7)" fill="#0c780c" opacity="0.85"/><ellipse cx="592.6" cy="365.3" rx="1.3" ry="0.9" transform="rotate(56 592.6 365.3)" fill="#20a020" opacity="0.57"/><ellipse cx="558.0" cy="386.8" rx="1.6" ry="1.7" transform="rotate(27 558.0 386.8)" fill="#18b818" opacity="0.42"/><ellipse cx="593.4" cy="417.0" rx="1.6" ry="1.0" transform="rotate(35 593.4 417.0)" fill="#28d828" opacity="0.92"/><ellipse cx="559.0" cy="392.4" rx="0.9" ry="0.8" transform="rotate(114 559.0 392.4)" fill="#20a020" opacity="0.77"/><ellipse cx="618.6" cy="414.0" rx="0.9" ry="0.9" transform="rotate(67 618.6 414.0)" fill="#28d828" opacity="0.88"/><ellipse cx="548.8" cy="363.7" rx="1.7" ry="1.1" transform="rotate(81 548.8 363.7)" fill="#28d828" opacity="0.57"/><ellipse cx="604.4" cy="352.5" rx="1.8" ry="1.3" transform="rotate(96 604.4 352.5)" fill="#0c780c" opacity="0.85"/><ellipse cx="595.4" cy="363.5" rx="0.9" ry="0.9" transform="rotate(71 595.4 363.5)" fill="#28d828" opacity="0.92"/><ellipse cx="613.6" cy="361.1" rx="1.6" ry="1.2" transform="rotate(138 613.6 361.1)" fill="#20a020" opacity="0.66"/><ellipse cx="587.7" cy="375.6" rx="1.6" ry="1.2" transform="rotate(3 587.7 375.6)" fill="#109010" opacity="0.44"/><ellipse cx="607.9" cy="358.5" rx="1.2" ry="0.9" transform="rotate(41 607.9 358.5)" fill="#28d828" opacity="0.67"/><ellipse cx="557.6" cy="395.8" rx="2.0" ry="1.3" transform="rotate(88 557.6 395.8)" fill="#20a020" opacity="0.79"/><ellipse cx="589.0" cy="354.9" rx="1.6" ry="1.4" transform="rotate(36 589.0 354.9)" fill="#20a020" opacity="0.75"/><ellipse cx="566.4" cy="365.0" rx="1.9" ry="1.4" transform="rotate(159 566.4 365.0)" fill="#18b818" opacity="0.83"/><ellipse cx="549.8" cy="384.0" rx="1.2" ry="0.9" transform="rotate(63 549.8 384.0)" fill="#109010" opacity="0.79"/><ellipse cx="577.9" cy="361.8" rx="1.3" ry="1.0" transform="rotate(64 577.9 361.8)" fill="#109010" opacity="0.41"/><ellipse cx="574.3" cy="364.7" rx="0.8" ry="0.8" transform="rotate(98 574.3 364.7)" fill="#18b818" opacity="0.59"/><ellipse cx="558.0" cy="370.7" rx="1.3" ry="1.1" transform="rotate(80 558.0 370.7)" fill="#20a020" opacity="0.60"/><ellipse cx="556.3" cy="371.9" rx="1.0" ry="0.8" transform="rotate(47 556.3 371.9)" fill="#0c780c" opacity="0.78"/><ellipse cx="598.9" cy="418.4" rx="1.9" ry="1.7" transform="rotate(167 598.9 418.4)" fill="#20a020" opacity="0.69"/><ellipse cx="555.7" cy="367.6" rx="1.2" ry="1.1" transform="rotate(119 555.7 367.6)" fill="#28d828" opacity="0.65"/><ellipse cx="619.5" cy="384.6" rx="2.2" ry="1.6" transform="rotate(165 619.5 384.6)" fill="#109010" opacity="0.45"/><ellipse cx="618.2" cy="407.3" rx="1.8" ry="1.2" transform="rotate(95 618.2 407.3)" fill="#0c780c" opacity="0.66"/><ellipse cx="577.9" cy="376.5" rx="1.6" ry="1.4" transform="rotate(18 577.9 376.5)" fill="#0c780c" opacity="0.45"/><ellipse cx="567.4" cy="371.8" rx="1.4" ry="1.2" transform="rotate(100 567.4 371.8)" fill="#18b818" opacity="0.62"/><ellipse cx="577.5" cy="390.9" rx="1.6" ry="1.8" transform="rotate(180 577.5 390.9)" fill="#109010" opacity="0.70"/><ellipse cx="546.8" cy="374.5" rx="1.0" ry="1.0" transform="rotate(72 546.8 374.5)" fill="#109010" opacity="0.60"/><ellipse cx="563.2" cy="351.8" rx="0.9" ry="1.1" transform="rotate(2 563.2 351.8)" fill="#20a020" opacity="0.49"/><ellipse cx="603.2" cy="405.7" rx="1.5" ry="1.6" transform="rotate(165 603.2 405.7)" fill="#109010" opacity="0.59"/><ellipse cx="602.1" cy="418.1" rx="1.6" ry="1.2" transform="rotate(57 602.1 418.1)" fill="#28d828" opacity="0.45"/><ellipse cx="593.7" cy="407.7" rx="1.3" ry="1.2" transform="rotate(142 593.7 407.7)" fill="#20a020" opacity="0.89"/><ellipse cx="557.4" cy="349.9" rx="1.2" ry="0.9" transform="rotate(102 557.4 349.9)" fill="#20a020" opacity="0.40"/><ellipse cx="572.9" cy="371.1" rx="1.2" ry="1.1" transform="rotate(72 572.9 371.1)" fill="#18b818" opacity="0.56"/><ellipse cx="562.4" cy="358.5" rx="1.9" ry="1.7" transform="rotate(57 562.4 358.5)" fill="#109010" opacity="0.67"/><ellipse cx="545.0" cy="382.9" rx="1.6" ry="1.4" transform="rotate(14 545.0 382.9)" fill="#28d828" opacity="0.91"/><ellipse cx="590.5" cy="353.1" rx="1.7" ry="1.1" transform="rotate(44 590.5 353.1)" fill="#18b818" opacity="0.94"/><ellipse cx="575.1" cy="396.0" rx="1.5" ry="1.6" transform="rotate(18 575.1 396.0)" fill="#20a020" opacity="0.78"/><ellipse cx="578.7" cy="377.0" rx="1.4" ry="1.1" transform="rotate(97 578.7 377.0)" fill="#18b818" opacity="0.56"/><ellipse cx="596.2" cy="349.4" rx="1.4" ry="1.4" transform="rotate(60 596.2 349.4)" fill="#18b818" opacity="0.47"/><ellipse cx="580.9" cy="413.1" rx="1.4" ry="1.3" transform="rotate(152 580.9 413.1)" fill="#20a020" opacity="0.75"/><ellipse cx="565.9" cy="422.3" rx="1.3" ry="1.0" transform="rotate(41 565.9 422.3)" fill="#0c780c" opacity="0.42"/><ellipse cx="557.7" cy="416.7" rx="1.1" ry="0.9" transform="rotate(87 557.7 416.7)" fill="#18b818" opacity="0.69"/><ellipse cx="594.7" cy="382.6" rx="1.6" ry="1.3" transform="rotate(122 594.7 382.6)" fill="#0c0cb0" opacity="0.62"/><ellipse cx="609.6" cy="375.5" rx="1.2" ry="1.4" transform="rotate(5 609.6 375.5)" fill="#1010a0" opacity="0.70"/><ellipse cx="604.1" cy="371.9" rx="1.5" ry="1.0" transform="rotate(135 604.1 371.9)" fill="#1414e0" opacity="0.70"/><ellipse cx="620.2" cy="424.6" rx="1.1" ry="0.7" transform="rotate(129 620.2 424.6)" fill="#1010a0" opacity="0.92"/><ellipse cx="589.5" cy="379.7" rx="0.9" ry="0.8" transform="rotate(105 589.5 379.7)" fill="#1010a0" opacity="0.68"/><ellipse cx="575.4" cy="411.3" rx="1.2" ry="0.7" transform="rotate(68 575.4 411.3)" fill="#1010a0" opacity="0.82"/><ellipse cx="599.1" cy="388.0" rx="1.6" ry="1.2" transform="rotate(74 599.1 388.0)" fill="#1a1ad0" opacity="0.68"/><ellipse cx="589.5" cy="391.7" rx="1.2" ry="1.4" transform="rotate(139 589.5 391.7)" fill="#1a1ad0" opacity="0.63"/><ellipse cx="554.5" cy="394.8" rx="1.3" ry="0.9" transform="rotate(41 554.5 394.8)" fill="#0c0cb0" opacity="0.66"/><ellipse cx="571.5" cy="392.1" rx="1.4" ry="1.1" transform="rotate(172 571.5 392.1)" fill="#0c0cb0" opacity="0.62"/><ellipse cx="620.2" cy="373.8" rx="1.4" ry="0.9" transform="rotate(108 620.2 373.8)" fill="#1414e0" opacity="0.91"/><ellipse cx="588.0" cy="420.8" rx="1.2" ry="0.9" transform="rotate(178 588.0 420.8)" fill="#0c0cb0" opacity="0.98"/><ellipse cx="618.0" cy="409.9" rx="1.6" ry="1.4" transform="rotate(148 618.0 409.9)" fill="#0c0cb0" opacity="0.96"/><ellipse cx="607.8" cy="393.4" rx="1.1" ry="1.0" transform="rotate(89 607.8 393.4)" fill="#0c0cb0" opacity="0.77"/><ellipse cx="613.0" cy="353.2" rx="1.8" ry="1.4" transform="rotate(126 613.0 353.2)" fill="#1010a0" opacity="0.83"/><ellipse cx="561.9" cy="387.5" rx="1.0" ry="0.8" transform="rotate(98 561.9 387.5)" fill="#1010a0" opacity="0.80"/><ellipse cx="591.4" cy="416.6" rx="1.2" ry="1.0" transform="rotate(110 591.4 416.6)" fill="#1414e0" opacity="0.89"/><ellipse cx="604.9" cy="382.9" rx="1.7" ry="1.1" transform="rotate(96 604.9 382.9)" fill="#1010a0" opacity="0.70"/><ellipse cx="595.8" cy="416.1" rx="1.2" ry="1.1" transform="rotate(119 595.8 416.1)" fill="#1414e0" opacity="0.84"/><ellipse cx="582.2" cy="406.7" rx="1.4" ry="1.2" transform="rotate(49 582.2 406.7)" fill="#1010a0" opacity="0.80"/><ellipse cx="612.7" cy="383.2" rx="1.5" ry="1.3" transform="rotate(34 612.7 383.2)" fill="#1414e0" opacity="0.85"/><ellipse cx="544.6" cy="410.7" rx="1.0" ry="1.1" transform="rotate(126 544.6 410.7)" fill="#1010a0" opacity="0.66"/><ellipse cx="545.6" cy="413.1" rx="1.2" ry="1.0" transform="rotate(79 545.6 413.1)" fill="#1414e0" opacity="0.86"/><ellipse cx="563.8" cy="387.0" rx="0.9" ry="0.8" transform="rotate(34 563.8 387.0)" fill="#1a1ad0" opacity="0.79"/><ellipse cx="553.2" cy="378.8" rx="1.0" ry="0.8" transform="rotate(116 553.2 378.8)" fill="#1a1ad0" opacity="0.99"/><ellipse cx="582.0" cy="391.9" rx="1.4" ry="1.1" transform="rotate(108 582.0 391.9)" fill="#1010a0" opacity="0.87"/><ellipse cx="579.8" cy="403.9" rx="0.8" ry="1.0" transform="rotate(93 579.8 403.9)" fill="#1a1ad0" opacity="0.65"/><ellipse cx="617.4" cy="424.1" rx="1.5" ry="1.2" transform="rotate(120 617.4 424.1)" fill="#1a1ad0" opacity="0.71"/><ellipse cx="557.3" cy="400.2" rx="1.3" ry="0.9" transform="rotate(46 557.3 400.2)" fill="#1a1ad0" opacity="0.83"/><ellipse cx="611.6" cy="419.5" rx="1.1" ry="1.0" transform="rotate(16 611.6 419.5)" fill="#1010a0" opacity="0.98"/><ellipse cx="561.8" cy="395.6" rx="1.5" ry="1.2" transform="rotate(79 561.8 395.6)" fill="#0c0cb0" opacity="0.66"/><ellipse cx="581.6" cy="413.6" rx="1.0" ry="0.9" transform="rotate(160 581.6 413.6)" fill="#1010a0" opacity="0.82"/><ellipse cx="619.8" cy="348.9" rx="1.3" ry="1.2" transform="rotate(45 619.8 348.9)" fill="#1414e0" opacity="0.64"/><ellipse cx="597.0" cy="359.8" rx="1.1" ry="0.7" transform="rotate(72 597.0 359.8)" fill="#1010a0" opacity="0.76"/><ellipse cx="560.8" cy="424.6" rx="1.3" ry="1.1" transform="rotate(131 560.8 424.6)" fill="#1a1ad0" opacity="0.78"/><ellipse cx="606.7" cy="356.1" rx="1.4" ry="1.0" transform="rotate(66 606.7 356.1)" fill="#1414e0" opacity="0.81"/><ellipse cx="615.7" cy="407.5" rx="1.4" ry="1.0" transform="rotate(164 615.7 407.5)" fill="#0c0cb0" opacity="0.73"/><ellipse cx="617.2" cy="421.6" rx="1.4" ry="1.1" transform="rotate(173 617.2 421.6)" fill="#0c0cb0" opacity="0.60"/><ellipse cx="559.3" cy="400.9" rx="1.8" ry="1.4" transform="rotate(41 559.3 400.9)" fill="#1010a0" opacity="0.85"/><ellipse cx="555.0" cy="423.0" rx="1.7" ry="1.1" transform="rotate(174 555.0 423.0)" fill="#0c0cb0" opacity="0.99"/><ellipse cx="564.9" cy="401.0" rx="1.3" ry="1.5" transform="rotate(74 564.9 401.0)" fill="#1a1ad0" opacity="0.90"/><ellipse cx="545.6" cy="405.0" rx="1.3" ry="0.8" transform="rotate(79 545.6 405.0)" fill="#1a1ad0" opacity="0.91"/><ellipse cx="610.7" cy="376.9" rx="1.3" ry="1.0" transform="rotate(32 610.7 376.9)" fill="#0c0cb0" opacity="0.90"/><ellipse cx="609.8" cy="387.7" rx="1.4" ry="1.1" transform="rotate(151 609.8 387.7)" fill="#1a1ad0" opacity="0.89"/><ellipse cx="595.4" cy="415.1" rx="1.3" ry="1.4" transform="rotate(44 595.4 415.1)" fill="#0c0cb0" opacity="0.96"/><ellipse cx="607.7" cy="410.5" rx="1.0" ry="0.9" transform="rotate(74 607.7 410.5)" fill="#0c0cb0" opacity="0.65"/><ellipse cx="614.6" cy="348.9" rx="1.6" ry="1.3" transform="rotate(88 614.6 348.9)" fill="#1010a0" opacity="0.71"/><ellipse cx="618.4" cy="358.9" rx="1.2" ry="1.0" transform="rotate(165 618.4 358.9)" fill="#1010a0" opacity="0.79"/><ellipse cx="611.0" cy="398.7" rx="1.0" ry="1.1" transform="rotate(2 611.0 398.7)" fill="#1414e0" opacity="0.64"/><ellipse cx="604.1" cy="378.4" rx="0.9" ry="0.9" transform="rotate(49 604.1 378.4)" fill="#1a1ad0" opacity="0.64"/><ellipse cx="602.3" cy="353.8" rx="0.9" ry="0.9" transform="rotate(74 602.3 353.8)" fill="#0c0cb0" opacity="0.96"/><ellipse cx="601.5" cy="417.3" rx="0.9" ry="0.9" transform="rotate(125 601.5 417.3)" fill="#1a1ad0" opacity="0.87"/><ellipse cx="577.6" cy="402.8" rx="1.2" ry="1.3" transform="rotate(39 577.6 402.8)" fill="#1414e0" opacity="0.68"/><ellipse cx="604.5" cy="367.2" rx="1.3" ry="1.0" transform="rotate(114 604.5 367.2)" fill="#0c0cb0" opacity="0.81"/><ellipse cx="602.4" cy="397.6" rx="1.4" ry="1.0" transform="rotate(11 602.4 397.6)" fill="#1010a0" opacity="0.96"/><ellipse cx="562.6" cy="372.8" rx="1.4" ry="1.3" transform="rotate(25 562.6 372.8)" fill="#1414e0" opacity="0.99"/><ellipse cx="605.1" cy="398.1" rx="1.4" ry="1.2" transform="rotate(19 605.1 398.1)" fill="#1010a0" opacity="0.76"/><ellipse cx="552.5" cy="390.0" rx="1.0" ry="0.9" transform="rotate(93 552.5 390.0)" fill="#0c0cb0" opacity="0.79"/><ellipse cx="562.7" cy="420.1" rx="1.5" ry="1.1" transform="rotate(123 562.7 420.1)" fill="#1010a0" opacity="0.97"/><ellipse cx="584.2" cy="401.6" rx="1.5" ry="1.3" transform="rotate(99 584.2 401.6)" fill="#1414e0" opacity="0.71"/><ellipse cx="556.7" cy="400.9" rx="1.4" ry="1.0" transform="rotate(69 556.7 400.9)" fill="#0c0cb0" opacity="0.84"/><ellipse cx="599.6" cy="359.3" rx="1.0" ry="0.8" transform="rotate(62 599.6 359.3)" fill="#1414e0" opacity="0.75"/><ellipse cx="606.5" cy="352.0" rx="1.2" ry="0.8" transform="rotate(129 606.5 352.0)" fill="#1414e0" opacity="0.63"/><ellipse cx="614.5" cy="377.0" rx="1.0" ry="0.8" transform="rotate(17 614.5 377.0)" fill="#1a1ad0" opacity="0.95"/><ellipse cx="551.3" cy="364.1" rx="1.1" ry="0.9" transform="rotate(62 551.3 364.1)" fill="#1010a0" opacity="0.99"/><ellipse cx="572.5" cy="418.4" rx="1.5" ry="1.1" transform="rotate(173 572.5 418.4)" fill="#1010a0" opacity="0.68"/><ellipse cx="618.3" cy="349.0" rx="1.2" ry="1.1" transform="rotate(29 618.3 349.0)" fill="#0c0cb0" opacity="0.84"/><ellipse cx="600.2" cy="399.4" rx="1.7" ry="1.4" transform="rotate(149 600.2 399.4)" fill="#0c0cb0" opacity="0.77"/><ellipse cx="587.2" cy="417.4" rx="1.4" ry="1.1" transform="rotate(22 587.2 417.4)" fill="#1414e0" opacity="0.90"/><ellipse cx="610.1" cy="367.7" rx="0.9" ry="0.8" transform="rotate(138 610.1 367.7)" fill="#1a1ad0" opacity="0.65"/><ellipse cx="552.3" cy="413.8" rx="1.4" ry="1.2" transform="rotate(136 552.3 413.8)" fill="#1414e0" opacity="0.68"/><ellipse cx="575.3" cy="350.8" rx="1.3" ry="1.1" transform="rotate(108 575.3 350.8)" fill="#1414e0" opacity="0.92"/><ellipse cx="568.6" cy="397.4" rx="1.4" ry="1.2" transform="rotate(83 568.6 397.4)" fill="#1414e0" opacity="0.79"/><ellipse cx="557.4" cy="368.5" rx="1.2" ry="0.9" transform="rotate(97 557.4 368.5)" fill="#1010a0" opacity="0.65"/><ellipse cx="600.4" cy="381.5" rx="1.3" ry="1.2" transform="rotate(97 600.4 381.5)" fill="#0c0cb0" opacity="0.74"/><ellipse cx="607.6" cy="355.5" rx="1.4" ry="1.2" transform="rotate(148 607.6 355.5)" fill="#1010a0" opacity="0.72"/><ellipse cx="556.3" cy="390.7" rx="1.6" ry="1.0" transform="rotate(144 556.3 390.7)" fill="#0c0cb0" opacity="0.84"/><ellipse cx="585.5" cy="376.8" rx="1.6" ry="1.1" transform="rotate(43 585.5 376.8)" fill="#0c0cb0" opacity="0.86"/><ellipse cx="559.9" cy="372.8" rx="1.5" ry="1.2" transform="rotate(91 559.9 372.8)" fill="#1414e0" opacity="0.67"/><ellipse cx="586.1" cy="391.7" rx="1.0" ry="0.8" transform="rotate(16 586.1 391.7)" fill="#1414e0" opacity="0.87"/><ellipse cx="556.8" cy="391.8" rx="1.4" ry="0.9" transform="rotate(27 556.8 391.8)" fill="#1a1ad0" opacity="0.87"/><ellipse cx="555.9" cy="402.6" rx="1.4" ry="1.0" transform="rotate(58 555.9 402.6)" fill="#1414e0" opacity="0.66"/><ellipse cx="564.2" cy="416.4" rx="1.2" ry="1.0" transform="rotate(175 564.2 416.4)" fill="#0c0cb0" opacity="0.74"/><ellipse cx="617.2" cy="393.5" rx="1.2" ry="1.0" transform="rotate(103 617.2 393.5)" fill="#1a1ad0" opacity="0.93"/><ellipse cx="552.5" cy="414.1" rx="1.4" ry="1.1" transform="rotate(137 552.5 414.1)" fill="#1a1ad0" opacity="0.73"/><ellipse cx="591.1" cy="418.4" rx="1.1" ry="1.2" transform="rotate(61 591.1 418.4)" fill="#1010a0" opacity="0.77"/><ellipse cx="599.3" cy="409.3" rx="1.1" ry="1.0" transform="rotate(99 599.3 409.3)" fill="#1010a0" opacity="0.74"/><ellipse cx="552.2" cy="377.6" rx="1.1" ry="1.0" transform="rotate(60 552.2 377.6)" fill="#1414e0" opacity="0.83"/><ellipse cx="553.1" cy="350.9" rx="1.4" ry="1.0" transform="rotate(24 553.1 350.9)" fill="#1414e0" opacity="0.80"/><ellipse cx="599.8" cy="409.5" rx="0.9" ry="0.7" transform="rotate(77 599.8 409.5)" fill="#1010a0" opacity="0.91"/><ellipse cx="618.9" cy="415.0" rx="1.4" ry="1.2" transform="rotate(177 618.9 415.0)" fill="#0c0cb0" opacity="0.92"/><ellipse cx="566.3" cy="409.9" rx="1.3" ry="0.9" transform="rotate(152 566.3 409.9)" fill="#0c0cb0" opacity="0.88"/><ellipse cx="575.6" cy="418.5" rx="1.2" ry="1.1" transform="rotate(104 575.6 418.5)" fill="#1a1ad0" opacity="0.78"/><ellipse cx="565.9" cy="390.0" rx="1.3" ry="1.1" transform="rotate(171 565.9 390.0)" fill="#1a1ad0" opacity="0.76"/><ellipse cx="617.0" cy="401.7" rx="1.6" ry="1.2" transform="rotate(126 617.0 401.7)" fill="#1a1ad0" opacity="0.86"/><ellipse cx="569.1" cy="373.4" rx="1.7" ry="1.1" transform="rotate(31 569.1 373.4)" fill="#1a1ad0" opacity="0.65"/><ellipse cx="591.1" cy="411.8" rx="0.9" ry="1.0" transform="rotate(125 591.1 411.8)" fill="#1414e0" opacity="0.84"/><ellipse cx="557.6" cy="392.0" rx="1.5" ry="1.3" transform="rotate(138 557.6 392.0)" fill="#1a1ad0" opacity="0.95"/><ellipse cx="590.6" cy="397.0" rx="1.2" ry="1.0" transform="rotate(178 590.6 397.0)" fill="#1a1ad0" opacity="0.82"/><ellipse cx="593.3" cy="409.7" rx="1.5" ry="1.2" transform="rotate(116 593.3 409.7)" fill="#1414e0" opacity="0.67"/><ellipse cx="596.3" cy="386.8" rx="1.0" ry="0.9" transform="rotate(11 596.3 386.8)" fill="#1a1ad0" opacity="0.84"/><ellipse cx="604.8" cy="393.3" rx="1.7" ry="1.4" transform="rotate(45 604.8 393.3)" fill="#1414e0" opacity="0.78"/><ellipse cx="619.9" cy="414.7" rx="1.4" ry="1.1" transform="rotate(74 619.9 414.7)" fill="#0c0cb0" opacity="0.70"/><ellipse cx="573.6" cy="386.5" rx="1.5" ry="1.3" transform="rotate(85 573.6 386.5)" fill="#1414e0" opacity="0.67"/><ellipse cx="569.8" cy="376.9" rx="1.3" ry="1.1" transform="rotate(121 569.8 376.9)" fill="#1a1ad0" opacity="0.63"/><ellipse cx="552.1" cy="414.4" rx="1.3" ry="1.1" transform="rotate(81 552.1 414.4)" fill="#1a1ad0" opacity="0.64"/><ellipse cx="580.5" cy="402.4" rx="1.8" ry="1.3" transform="rotate(11 580.5 402.4)" fill="#1414e0" opacity="0.91"/><ellipse cx="549.0" cy="377.8" rx="1.0" ry="1.1" transform="rotate(143 549.0 377.8)" fill="#0c0cb0" opacity="0.79"/><ellipse cx="548.6" cy="382.9" rx="1.5" ry="1.1" transform="rotate(103 548.6 382.9)" fill="#1a1ad0" opacity="0.86"/><ellipse cx="563.8" cy="389.4" rx="1.5" ry="1.2" transform="rotate(148 563.8 389.4)" fill="#1414e0" opacity="0.89"/><ellipse cx="578.4" cy="398.0" rx="1.0" ry="1.1" transform="rotate(169 578.4 398.0)" fill="#1010a0" opacity="0.93"/><ellipse cx="551.9" cy="393.0" rx="0.8" ry="0.9" transform="rotate(133 551.9 393.0)" fill="#0c0cb0" opacity="0.95"/><ellipse cx="561.7" cy="357.0" rx="1.2" ry="0.9" transform="rotate(84 561.7 357.0)" fill="#1010a0" opacity="0.65"/><ellipse cx="601.8" cy="418.5" rx="0.9" ry="1.0" transform="rotate(118 601.8 418.5)" fill="#1010a0" opacity="0.66"/><ellipse cx="597.4" cy="384.1" rx="0.9" ry="0.8" transform="rotate(134 597.4 384.1)" fill="#1a1ad0" opacity="0.87"/><ellipse cx="618.4" cy="406.1" rx="0.8" ry="0.8" transform="rotate(5 618.4 406.1)" fill="#1414e0" opacity="0.86"/><ellipse cx="549.8" cy="404.8" rx="1.1" ry="0.9" transform="rotate(122 549.8 404.8)" fill="#1414e0" opacity="0.92"/><ellipse cx="581.7" cy="414.6" rx="1.4" ry="1.3" transform="rotate(68 581.7 414.6)" fill="#0c0cb0" opacity="0.63"/><ellipse cx="584.4" cy="378.9" rx="1.0" ry="1.1" transform="rotate(97 584.4 378.9)" fill="#1010a0" opacity="0.63"/><ellipse cx="576.1" cy="391.6" rx="1.3" ry="1.4" transform="rotate(94 576.1 391.6)" fill="#1010a0" opacity="0.66"/><ellipse cx="558.3" cy="408.0" rx="1.3" ry="1.0" transform="rotate(78 558.3 408.0)" fill="#1010a0" opacity="0.65"/><ellipse cx="552.8" cy="366.1" rx="1.3" ry="1.2" transform="rotate(91 552.8 366.1)" fill="#1a1ad0" opacity="0.88"/><ellipse cx="602.8" cy="408.4" rx="1.5" ry="1.1" transform="rotate(38 602.8 408.4)" fill="#0c0cb0" opacity="0.70"/><ellipse cx="620.2" cy="350.5" rx="1.4" ry="1.0" transform="rotate(161 620.2 350.5)" fill="#1010a0" opacity="0.64"/><ellipse cx="618.5" cy="383.8" rx="1.1" ry="1.2" transform="rotate(164 618.5 383.8)" fill="#0c0cb0" opacity="0.68"/><ellipse cx="620.8" cy="409.5" rx="1.2" ry="0.7" transform="rotate(124 620.8 409.5)" fill="#1010a0" opacity="0.65"/><ellipse cx="587.1" cy="377.5" rx="1.7" ry="1.4" transform="rotate(174 587.1 377.5)" fill="#1414e0" opacity="0.98"/><ellipse cx="547.5" cy="401.1" rx="1.4" ry="1.1" transform="rotate(160 547.5 401.1)" fill="#1414e0" opacity="0.83"/><ellipse cx="602.2" cy="411.9" rx="1.1" ry="0.9" transform="rotate(117 602.2 411.9)" fill="#1010a0" opacity="0.81"/><ellipse cx="557.3" cy="374.2" rx="1.1" ry="1.1" transform="rotate(164 557.3 374.2)" fill="#0c0cb0" opacity="0.69"/><ellipse cx="554.7" cy="412.8" rx="1.3" ry="1.4" transform="rotate(85 554.7 412.8)" fill="#1010a0" opacity="0.96"/><ellipse cx="600.1" cy="395.3" rx="1.4" ry="1.0" transform="rotate(32 600.1 395.3)" fill="#1010a0" opacity="0.64"/><ellipse cx="588.4" cy="414.9" rx="1.8" ry="1.2" transform="rotate(108 588.4 414.9)" fill="#1010a0" opacity="0.86"/><ellipse cx="580.2" cy="422.9" rx="0.9" ry="0.8" transform="rotate(100 580.2 422.9)" fill="#1414e0" opacity="0.90"/><ellipse cx="605.1" cy="399.3" rx="1.8" ry="1.2" transform="rotate(110 605.1 399.3)" fill="#1a1ad0" opacity="0.83"/><ellipse cx="609.2" cy="375.8" rx="1.0" ry="0.8" transform="rotate(43 609.2 375.8)" fill="#1010a0" opacity="0.82"/><ellipse cx="568.8" cy="406.5" rx="1.4" ry="1.2" transform="rotate(156 568.8 406.5)" fill="#0c0cb0" opacity="0.69"/><ellipse cx="598.9" cy="419.6" rx="1.2" ry="0.9" transform="rotate(46 598.9 419.6)" fill="#0c0cb0" opacity="0.84"/><ellipse cx="564.3" cy="414.8" rx="1.3" ry="1.3" transform="rotate(112 564.3 414.8)" fill="#1a1ad0" opacity="0.94"/><ellipse cx="598.0" cy="360.4" rx="1.0" ry="0.9" transform="rotate(63 598.0 360.4)" fill="#1a1ad0" opacity="0.90"/><ellipse cx="579.7" cy="372.0" rx="1.2" ry="1.1" transform="rotate(6 579.7 372.0)" fill="#1010a0" opacity="0.76"/><ellipse cx="621.0" cy="375.3" rx="1.2" ry="0.9" transform="rotate(134 621.0 375.3)" fill="#1a1ad0" opacity="0.60"/><ellipse cx="573.7" cy="424.4" rx="1.3" ry="1.1" transform="rotate(140 573.7 424.4)" fill="#1010a0" opacity="0.75"/><ellipse cx="604.4" cy="378.5" rx="1.1" ry="0.9" transform="rotate(65 604.4 378.5)" fill="#1010a0" opacity="0.88"/><ellipse cx="573.9" cy="382.5" rx="1.3" ry="1.0" transform="rotate(52 573.9 382.5)" fill="#1a1ad0" opacity="0.90"/><ellipse cx="561.4" cy="384.5" rx="1.0" ry="1.0" transform="rotate(159 561.4 384.5)" fill="#0c0cb0" opacity="0.96"/><ellipse cx="588.7" cy="398.7" rx="1.9" ry="1.4" transform="rotate(60 588.7 398.7)" fill="#1a1ad0" opacity="0.73"/><ellipse cx="605.2" cy="353.5" rx="1.8" ry="1.3" transform="rotate(64 605.2 353.5)" fill="#0c0cb0" opacity="0.79"/><ellipse cx="603.3" cy="384.2" rx="1.5" ry="1.3" transform="rotate(105 603.3 384.2)" fill="#1010a0" opacity="0.89"/><ellipse cx="609.7" cy="410.9" rx="1.3" ry="1.2" transform="rotate(62 609.7 410.9)" fill="#0c0cb0" opacity="0.98"/><ellipse cx="618.6" cy="371.0" rx="1.2" ry="1.1" transform="rotate(171 618.6 371.0)" fill="#1414e0" opacity="0.62"/><ellipse cx="576.8" cy="421.3" rx="1.2" ry="1.1" transform="rotate(168 576.8 421.3)" fill="#1a1ad0" opacity="0.79"/><ellipse cx="587.1" cy="402.0" rx="1.4" ry="1.2" transform="rotate(50 587.1 402.0)" fill="#1a1ad0" opacity="0.93"/><ellipse cx="585.7" cy="388.1" rx="1.3" ry="1.0" transform="rotate(52 585.7 388.1)" fill="#0c0cb0" opacity="0.90"/><ellipse cx="578.8" cy="401.7" rx="0.8" ry="0.9" transform="rotate(56 578.8 401.7)" fill="#1a1ad0" opacity="0.79"/><ellipse cx="562.2" cy="413.3" rx="1.3" ry="1.1" transform="rotate(140 562.2 413.3)" fill="#0c0cb0" opacity="0.68"/><ellipse cx="620.8" cy="388.5" rx="1.2" ry="0.9" transform="rotate(36 620.8 388.5)" fill="#1414e0" opacity="0.76"/><ellipse cx="602.6" cy="400.5" rx="1.1" ry="0.7" transform="rotate(161 602.6 400.5)" fill="#1414e0" opacity="0.94"/><ellipse cx="610.4" cy="424.2" rx="1.0" ry="0.9" transform="rotate(75 610.4 424.2)" fill="#1010a0" opacity="0.73"/><ellipse cx="605.3" cy="383.2" rx="1.2" ry="1.1" transform="rotate(9 605.3 383.2)" fill="#1a1ad0" opacity="0.85"/><ellipse cx="599.1" cy="374.5" rx="1.2" ry="0.7" transform="rotate(154 599.1 374.5)" fill="#0c0cb0" opacity="0.77"/><ellipse cx="589.3" cy="411.2" rx="0.9" ry="0.8" transform="rotate(127 589.3 411.2)" fill="#1a1ad0" opacity="0.80"/><ellipse cx="614.5" cy="351.3" rx="1.2" ry="0.7" transform="rotate(73 614.5 351.3)" fill="#1414e0" opacity="0.75"/><ellipse cx="573.2" cy="378.2" rx="1.1" ry="0.7" transform="rotate(109 573.2 378.2)" fill="#1a1ad0" opacity="0.90"/><ellipse cx="550.4" cy="395.3" rx="1.6" ry="1.2" transform="rotate(154 550.4 395.3)" fill="#1010a0" opacity="0.97"/><ellipse cx="580.5" cy="385.8" rx="1.5" ry="1.0" transform="rotate(61 580.5 385.8)" fill="#1010a0" opacity="0.68"/><ellipse cx="559.4" cy="412.2" rx="1.3" ry="0.9" transform="rotate(52 559.4 412.2)" fill="#1010a0" opacity="0.62"/><ellipse cx="579.4" cy="412.7" rx="0.8" ry="0.9" transform="rotate(136 579.4 412.7)" fill="#1010a0" opacity="0.84"/><ellipse cx="555.4" cy="403.0" rx="1.0" ry="0.8" transform="rotate(37 555.4 403.0)" fill="#1a1ad0" opacity="0.64"/><ellipse cx="606.0" cy="389.7" rx="0.9" ry="0.7" transform="rotate(21 606.0 389.7)" fill="#0c0cb0" opacity="0.73"/><ellipse cx="583.1" cy="411.2" rx="1.2" ry="0.9" transform="rotate(83 583.1 411.2)" fill="#1010a0" opacity="0.81"/><ellipse cx="553.2" cy="390.7" rx="1.1" ry="1.0" transform="rotate(180 553.2 390.7)" fill="#1a1ad0" opacity="0.77"/><ellipse cx="592.1" cy="415.2" rx="1.2" ry="1.1" transform="rotate(70 592.1 415.2)" fill="#1010a0" opacity="0.91"/><ellipse cx="556.1" cy="374.6" rx="0.9" ry="0.9" transform="rotate(35 556.1 374.6)" fill="#1a1ad0" opacity="0.96"/><ellipse cx="574.9" cy="405.3" rx="1.6" ry="1.4" transform="rotate(144 574.9 405.3)" fill="#1010a0" opacity="0.92"/><ellipse cx="546.6" cy="374.7" rx="1.6" ry="1.2" transform="rotate(140 546.6 374.7)" fill="#1414e0" opacity="0.98"/><ellipse cx="583.2" cy="415.6" rx="1.3" ry="1.0" transform="rotate(141 583.2 415.6)" fill="#1010a0" opacity="0.63"/><ellipse cx="585.1" cy="365.5" rx="1.2" ry="0.8" transform="rotate(153 585.1 365.5)" fill="#1a1ad0" opacity="0.63"/><ellipse cx="607.6" cy="389.8" rx="1.4" ry="1.3" transform="rotate(58 607.6 389.8)" fill="#1010a0" opacity="0.70"/><ellipse cx="578.2" cy="414.7" rx="0.9" ry="0.8" transform="rotate(114 578.2 414.7)" fill="#1010a0" opacity="0.65"/><ellipse cx="553.1" cy="384.2" rx="1.1" ry="0.7" transform="rotate(39 553.1 384.2)" fill="#1a1ad0" opacity="0.78"/><ellipse cx="551.9" cy="388.8" rx="1.0" ry="0.9" transform="rotate(100 551.9 388.8)" fill="#1414e0" opacity="0.67"/><ellipse cx="558.3" cy="349.2" rx="1.0" ry="0.7" transform="rotate(104 558.3 349.2)" fill="#1010a0" opacity="0.80"/><ellipse cx="563.2" cy="410.1" rx="1.2" ry="1.0" transform="rotate(5 563.2 410.1)" fill="#1a1ad0" opacity="0.68"/><ellipse cx="591.3" cy="378.7" rx="1.2" ry="1.1" transform="rotate(110 591.3 378.7)" fill="#0c0cb0" opacity="0.93"/><ellipse cx="610.3" cy="409.7" rx="1.6" ry="1.3" transform="rotate(114 610.3 409.7)" fill="#1010a0" opacity="0.62"/><ellipse cx="606.8" cy="362.6" rx="1.4" ry="1.0" transform="rotate(133 606.8 362.6)" fill="#1414e0" opacity="0.87"/><ellipse cx="601.5" cy="352.4" rx="1.3" ry="1.5" transform="rotate(148 601.5 352.4)" fill="#1414e0" opacity="0.62"/><ellipse cx="551.4" cy="407.5" rx="1.5" ry="1.3" transform="rotate(67 551.4 407.5)" fill="#0c0cb0" opacity="0.61"/><ellipse cx="544.3" cy="409.6" rx="1.0" ry="1.1" transform="rotate(12 544.3 409.6)" fill="#1010a0" opacity="0.95"/><ellipse cx="567.7" cy="389.5" rx="1.3" ry="1.0" transform="rotate(128 567.7 389.5)" fill="#0c0cb0" opacity="1.00"/><ellipse cx="569.1" cy="380.3" rx="1.0" ry="0.9" transform="rotate(109 569.1 380.3)" fill="#1a1ad0" opacity="0.73"/><ellipse cx="547.7" cy="413.8" rx="1.3" ry="1.2" transform="rotate(128 547.7 413.8)" fill="#0c0cb0" opacity="0.66"/><ellipse cx="595.1" cy="387.1" rx="1.7" ry="1.2" transform="rotate(73 595.1 387.1)" fill="#1a1ad0" opacity="0.61"/><ellipse cx="574.2" cy="362.6" rx="1.1" ry="0.9" transform="rotate(15 574.2 362.6)" fill="#0c0cb0" opacity="0.84"/><ellipse cx="554.7" cy="373.9" rx="0.8" ry="0.9" transform="rotate(65 554.7 373.9)" fill="#1010a0" opacity="0.65"/><ellipse cx="561.9" cy="377.8" rx="1.2" ry="1.2" transform="rotate(82 561.9 377.8)" fill="#0c0cb0" opacity="0.70"/><ellipse cx="586.6" cy="375.4" rx="1.1" ry="1.0" transform="rotate(8 586.6 375.4)" fill="#1010a0" opacity="0.99"/><ellipse cx="616.1" cy="351.1" rx="1.7" ry="1.5" transform="rotate(164 616.1 351.1)" fill="#1010a0" opacity="0.63"/><ellipse cx="588.8" cy="405.0" rx="1.1" ry="1.1" transform="rotate(135 588.8 405.0)" fill="#0c0cb0" opacity="0.65"/><ellipse cx="619.0" cy="372.6" rx="1.2" ry="1.0" transform="rotate(102 619.0 372.6)" fill="#1414e0" opacity="0.86"/><ellipse cx="547.5" cy="372.5" rx="1.7" ry="1.2" transform="rotate(61 547.5 372.5)" fill="#1010a0" opacity="0.93"/><ellipse cx="558.6" cy="398.5" rx="0.9" ry="0.7" transform="rotate(70 558.6 398.5)" fill="#1010a0" opacity="0.86"/><ellipse cx="589.7" cy="402.4" rx="1.2" ry="1.0" transform="rotate(154 589.7 402.4)" fill="#1a1ad0" opacity="0.87"/><ellipse cx="607.0" cy="364.5" rx="0.8" ry="0.8" transform="rotate(103 607.0 364.5)" fill="#1414e0" opacity="0.99"/><ellipse cx="568.4" cy="407.5" rx="1.3" ry="1.2" transform="rotate(54 568.4 407.5)" fill="#1a1ad0" opacity="0.66"/><ellipse cx="617.4" cy="423.4" rx="0.9" ry="0.9" transform="rotate(32 617.4 423.4)" fill="#1010a0" opacity="0.95"/><ellipse cx="557.2" cy="417.9" rx="1.1" ry="0.8" transform="rotate(89 557.2 417.9)" fill="#1010a0" opacity="0.94"/><ellipse cx="557.2" cy="406.0" rx="1.1" ry="0.9" transform="rotate(142 557.2 406.0)" fill="#1414e0" opacity="0.68"/><ellipse cx="550.8" cy="381.1" rx="1.4" ry="1.1" transform="rotate(31 550.8 381.1)" fill="#1010a0" opacity="0.61"/><ellipse cx="610.7" cy="372.5" rx="1.0" ry="0.8" transform="rotate(11 610.7 372.5)" fill="#1010a0" opacity="0.83"/><ellipse cx="556.7" cy="393.8" rx="1.0" ry="0.9" transform="rotate(126 556.7 393.8)" fill="#0c0cb0" opacity="0.61"/><ellipse cx="597.7" cy="420.3" rx="1.1" ry="0.9" transform="rotate(156 597.7 420.3)" fill="#1010a0" opacity="0.92"/><ellipse cx="585.9" cy="383.2" rx="1.0" ry="0.9" transform="rotate(149 585.9 383.2)" fill="#0c0cb0" opacity="0.63"/><ellipse cx="605.1" cy="356.6" rx="1.0" ry="0.9" transform="rotate(49 605.1 356.6)" fill="#1a1ad0" opacity="0.76"/><ellipse cx="562.4" cy="385.8" rx="1.1" ry="1.2" transform="rotate(52 562.4 385.8)" fill="#1a1ad0" opacity="0.67"/><ellipse cx="553.8" cy="410.9" rx="1.3" ry="1.0" transform="rotate(162 553.8 410.9)" fill="#1a1ad0" opacity="0.61"/><ellipse cx="576.0" cy="394.8" rx="1.4" ry="1.2" transform="rotate(45 576.0 394.8)" fill="#1010a0" opacity="0.99"/><ellipse cx="586.9" cy="399.3" rx="1.1" ry="1.1" transform="rotate(142 586.9 399.3)" fill="#1414e0" opacity="0.69"/><ellipse cx="594.7" cy="394.8" rx="1.8" ry="1.5" transform="rotate(64 594.7 394.8)" fill="#1414e0" opacity="0.62"/><ellipse cx="610.4" cy="391.5" rx="1.3" ry="1.1" transform="rotate(154 610.4 391.5)" fill="#1a1ad0" opacity="0.76"/><ellipse cx="609.2" cy="372.7" rx="0.9" ry="0.6" transform="rotate(115 609.2 372.7)" fill="#1a1ad0" opacity="0.72"/><ellipse cx="592.6" cy="366.6" rx="0.8" ry="0.8" transform="rotate(58 592.6 366.6)" fill="#1414e0" opacity="0.99"/><ellipse cx="618.1" cy="398.2" rx="1.6" ry="1.1" transform="rotate(5 618.1 398.2)" fill="#0c0cb0" opacity="0.99"/><ellipse cx="578.3" cy="390.3" rx="1.1" ry="1.0" transform="rotate(83 578.3 390.3)" fill="#0c0cb0" opacity="0.79"/><ellipse cx="589.4" cy="398.6" rx="1.1" ry="1.2" transform="rotate(39 589.4 398.6)" fill="#0c0cb0" opacity="0.63"/><ellipse cx="552.0" cy="391.3" rx="1.7" ry="1.4" transform="rotate(80 552.0 391.3)" fill="#1010a0" opacity="0.84"/><ellipse cx="555.6" cy="352.6" rx="0.9" ry="0.9" transform="rotate(126 555.6 352.6)" fill="#1010a0" opacity="0.75"/><ellipse cx="600.7" cy="394.2" rx="0.9" ry="0.7" transform="rotate(113 600.7 394.2)" fill="#1010a0" opacity="0.97"/><ellipse cx="619.8" cy="364.7" rx="1.1" ry="1.1" transform="rotate(12 619.8 364.7)" fill="#1010a0" opacity="0.65"/><ellipse cx="616.1" cy="376.7" rx="1.0" ry="0.9" transform="rotate(4 616.1 376.7)" fill="#1414e0" opacity="0.77"/><ellipse cx="603.7" cy="424.8" rx="1.1" ry="1.2" transform="rotate(38 603.7 424.8)" fill="#1010a0" opacity="0.82"/><ellipse cx="616.3" cy="363.5" rx="1.3" ry="1.1" transform="rotate(8 616.3 363.5)" fill="#1010a0" opacity="0.93"/><ellipse cx="584.2" cy="421.0" rx="1.2" ry="0.8" transform="rotate(36 584.2 421.0)" fill="#1414e0" opacity="0.79"/><ellipse cx="611.6" cy="423.4" rx="1.2" ry="1.3" transform="rotate(6 611.6 423.4)" fill="#1a1ad0" opacity="0.78"/><ellipse cx="593.7" cy="409.0" rx="1.1" ry="0.7" transform="rotate(142 593.7 409.0)" fill="#1a1ad0" opacity="0.75"/><ellipse cx="545.4" cy="383.9" rx="1.2" ry="1.0" transform="rotate(169 545.4 383.9)" fill="#0c0cb0" opacity="0.97"/><ellipse cx="618.6" cy="364.4" rx="1.0" ry="1.0" transform="rotate(91 618.6 364.4)" fill="#1010a0" opacity="0.61"/><ellipse cx="618.4" cy="362.3" rx="1.0" ry="1.0" transform="rotate(44 618.4 362.3)" fill="#0c0cb0" opacity="0.86"/><ellipse cx="546.1" cy="375.0" rx="1.2" ry="1.2" transform="rotate(45 546.1 375.0)" fill="#1414e0" opacity="0.89"/><ellipse cx="550" cy="397" rx="2.1" ry="1.5" transform="rotate(132 550 397)" fill="#ffe000"/><ellipse cx="578" cy="365" rx="2.1" ry="1.5" transform="rotate(85 578 365)" fill="#ffc000"/><ellipse cx="552.4" cy="378.3" rx="2.1" ry="1.1" transform="rotate(-25 552.4 378.3)" fill="#ff20a0"/><ellipse cx="577.2" cy="385.7" rx="2.1" ry="1.1" transform="rotate(-25 577.2 385.7)" fill="#e01090"/><ellipse cx="605.8" cy="367.1" rx="2.1" ry="1.1" transform="rotate(-25 605.8 367.1)" fill="#e01090"/><ellipse cx="607" cy="380.7" rx="2.1" ry="1.1" transform="rotate(-25 607 380.7)" fill="#ff30c0"/><ellipse cx="597" cy="416.7" rx="2.1" ry="1.1" transform="rotate(-25 597 416.7)" fill="#ff20a0"/><ellipse cx="578.5" cy="366.5" rx="2.1" ry="1.1" transform="rotate(-25 578.5 366.5)" fill="#e01090"/><ellipse cx="581" cy="390.7" rx="2.1" ry="1.1" transform="rotate(-25 581 390.7)" fill="#ff20a0"/></g>
<text x="598.0" y="361.6" fill="#fff">PAG</text>
</g>
<g clip-path="url(#cf2)">
<rect x="544.1" y="425.9" width="77.1" height="76.7" fill="#050000"/>
<path d="M572.9 451.4q11.2 -5.3 22.4 -5.6M599.4 432.4q5.7 -3.1 11.3 -7.7M607.5 478.9q13.1 -6.5 26.1 -17.5M562.7 449.6q16.1 -3.6 32.1 -12.2M610.5 488.0q10.9 -7.6 21.7 -14.4M589.7 468.1q13.5 -12.0 27.0 -18.4M563.8 454.5q7.2 -1.1 14.4 -3.2M616.2 478.9q10.2 -2.8 20.5 -4.9M566.4 457.9q5.9 -0.5 11.9 -6.9M598.0 484.7q7.5 -5.1 15.1 -7.0M618.4 497.3q13.0 -3.9 25.9 -13.2M537.8 457.6q8.7 -4.5 17.4 -9.5M559.8 436.4q10.5 -1.0 21.0 -5.7M545.5 452.5q5.8 -3.3 11.6 -5.6" stroke="#801818" stroke-width="0.6" opacity="0.75" fill="none"/>
<g filter="url(#blf)"><ellipse cx="589.5" cy="462.5" rx="1.7" ry="1.5" transform="rotate(85 589.5 462.5)" fill="#20a020" opacity="0.43"/><ellipse cx="597.8" cy="472.7" rx="1.4" ry="1.0" transform="rotate(87 597.8 472.7)" fill="#28d828" opacity="0.50"/><ellipse cx="608.8" cy="471.2" rx="1.2" ry="0.9" transform="rotate(99 608.8 471.2)" fill="#0c780c" opacity="0.55"/><ellipse cx="548.4" cy="489.2" rx="1.4" ry="1.1" transform="rotate(144 548.4 489.2)" fill="#28d828" opacity="0.62"/><ellipse cx="562.2" cy="491.2" rx="2.0" ry="1.5" transform="rotate(145 562.2 491.2)" fill="#18b818" opacity="0.42"/><ellipse cx="592.7" cy="467.5" rx="1.0" ry="0.9" transform="rotate(36 592.7 467.5)" fill="#20a020" opacity="0.91"/><ellipse cx="609.9" cy="476.9" rx="1.5" ry="1.2" transform="rotate(33 609.9 476.9)" fill="#0c780c" opacity="0.55"/><ellipse cx="595.4" cy="471.7" rx="1.3" ry="1.2" transform="rotate(157 595.4 471.7)" fill="#28d828" opacity="0.74"/><ellipse cx="549.2" cy="483.1" rx="1.1" ry="1.0" transform="rotate(86 549.2 483.1)" fill="#18b818" opacity="0.93"/><ellipse cx="584.7" cy="489.4" rx="1.4" ry="1.2" transform="rotate(17 584.7 489.4)" fill="#20a020" opacity="0.91"/><ellipse cx="601.4" cy="472.4" rx="1.5" ry="1.4" transform="rotate(4 601.4 472.4)" fill="#20a020" opacity="0.85"/><ellipse cx="591.8" cy="502.0" rx="1.9" ry="1.6" transform="rotate(51 591.8 502.0)" fill="#18b818" opacity="0.46"/><ellipse cx="570.3" cy="481.1" rx="1.3" ry="1.0" transform="rotate(26 570.3 481.1)" fill="#28d828" opacity="0.47"/><ellipse cx="594.6" cy="471.5" rx="1.4" ry="1.1" transform="rotate(155 594.6 471.5)" fill="#109010" opacity="0.48"/><ellipse cx="618.9" cy="426.2" rx="1.1" ry="0.9" transform="rotate(113 618.9 426.2)" fill="#28d828" opacity="0.40"/><ellipse cx="599.3" cy="434.4" rx="1.0" ry="1.1" transform="rotate(170 599.3 434.4)" fill="#20a020" opacity="0.95"/><ellipse cx="596.8" cy="498.0" rx="1.3" ry="1.2" transform="rotate(135 596.8 498.0)" fill="#18b818" opacity="0.93"/><ellipse cx="589.6" cy="473.6" rx="1.3" ry="1.3" transform="rotate(16 589.6 473.6)" fill="#109010" opacity="0.82"/><ellipse cx="589.3" cy="496.7" rx="1.0" ry="0.9" transform="rotate(123 589.3 496.7)" fill="#18b818" opacity="0.66"/><ellipse cx="593.7" cy="459.0" rx="0.9" ry="0.7" transform="rotate(140 593.7 459.0)" fill="#109010" opacity="0.67"/><ellipse cx="593.3" cy="495.5" rx="1.0" ry="0.8" transform="rotate(111 593.3 495.5)" fill="#109010" opacity="0.58"/><ellipse cx="584.8" cy="487.8" rx="2.2" ry="1.5" transform="rotate(42 584.8 487.8)" fill="#28d828" opacity="0.79"/><ellipse cx="617.3" cy="473.0" rx="1.7" ry="1.1" transform="rotate(162 617.3 473.0)" fill="#28d828" opacity="0.51"/><ellipse cx="607.8" cy="437.6" rx="1.2" ry="0.8" transform="rotate(160 607.8 437.6)" fill="#20a020" opacity="0.42"/><ellipse cx="581.1" cy="474.3" rx="1.4" ry="1.2" transform="rotate(20 581.1 474.3)" fill="#20a020" opacity="0.90"/><ellipse cx="553.1" cy="474.7" rx="1.2" ry="0.9" transform="rotate(134 553.1 474.7)" fill="#109010" opacity="0.47"/><ellipse cx="591.6" cy="482.5" rx="2.0" ry="1.5" transform="rotate(50 591.6 482.5)" fill="#20a020" opacity="0.52"/><ellipse cx="556.3" cy="496.9" rx="1.5" ry="1.1" transform="rotate(99 556.3 496.9)" fill="#0c780c" opacity="0.58"/><ellipse cx="597.0" cy="500.9" rx="1.6" ry="1.7" transform="rotate(179 597.0 500.9)" fill="#28d828" opacity="0.43"/><ellipse cx="576.2" cy="491.9" rx="1.9" ry="1.8" transform="rotate(96 576.2 491.9)" fill="#28d828" opacity="0.58"/><ellipse cx="596.3" cy="489.9" rx="1.1" ry="1.2" transform="rotate(148 596.3 489.9)" fill="#0c780c" opacity="0.79"/><ellipse cx="554.8" cy="502.3" rx="1.8" ry="1.3" transform="rotate(106 554.8 502.3)" fill="#18b818" opacity="0.82"/><ellipse cx="613.5" cy="483.8" rx="2.0" ry="1.5" transform="rotate(40 613.5 483.8)" fill="#18b818" opacity="0.58"/><ellipse cx="563.9" cy="439.0" rx="1.3" ry="1.0" transform="rotate(176 563.9 439.0)" fill="#109010" opacity="0.81"/><ellipse cx="611.1" cy="484.4" rx="1.9" ry="1.3" transform="rotate(162 611.1 484.4)" fill="#109010" opacity="0.84"/><ellipse cx="546.4" cy="481.8" rx="1.4" ry="1.3" transform="rotate(46 546.4 481.8)" fill="#109010" opacity="0.63"/><ellipse cx="581.7" cy="491.1" rx="2.0" ry="1.8" transform="rotate(30 581.7 491.1)" fill="#20a020" opacity="0.63"/><ellipse cx="608.7" cy="475.4" rx="2.0" ry="1.7" transform="rotate(68 608.7 475.4)" fill="#109010" opacity="0.46"/><ellipse cx="602.2" cy="438.4" rx="1.8" ry="1.6" transform="rotate(124 602.2 438.4)" fill="#20a020" opacity="0.40"/><ellipse cx="552.1" cy="474.0" rx="1.7" ry="1.4" transform="rotate(113 552.1 474.0)" fill="#20a020" opacity="0.68"/><ellipse cx="558.5" cy="491.2" rx="1.1" ry="1.0" transform="rotate(84 558.5 491.2)" fill="#0c780c" opacity="0.83"/><ellipse cx="595.8" cy="483.3" rx="1.0" ry="1.0" transform="rotate(151 595.8 483.3)" fill="#0c780c" opacity="0.89"/><ellipse cx="577.2" cy="499.7" rx="1.7" ry="1.5" transform="rotate(159 577.2 499.7)" fill="#0c780c" opacity="0.41"/><ellipse cx="611.9" cy="491.3" rx="2.2" ry="1.9" transform="rotate(79 611.9 491.3)" fill="#20a020" opacity="0.68"/><ellipse cx="598.6" cy="479.8" rx="1.7" ry="1.3" transform="rotate(63 598.6 479.8)" fill="#28d828" opacity="0.81"/><ellipse cx="617.0" cy="499.4" rx="1.4" ry="1.4" transform="rotate(143 617.0 499.4)" fill="#109010" opacity="0.60"/><ellipse cx="575.5" cy="458.1" rx="1.6" ry="1.3" transform="rotate(68 575.5 458.1)" fill="#18b818" opacity="0.81"/><ellipse cx="562.3" cy="442.4" rx="1.1" ry="0.9" transform="rotate(58 562.3 442.4)" fill="#28d828" opacity="0.80"/><ellipse cx="584.3" cy="502.1" rx="1.0" ry="1.0" transform="rotate(48 584.3 502.1)" fill="#20a020" opacity="0.52"/><ellipse cx="583.1" cy="478.1" rx="1.3" ry="1.0" transform="rotate(130 583.1 478.1)" fill="#28d828" opacity="0.70"/><ellipse cx="596.8" cy="488.0" rx="1.8" ry="1.5" transform="rotate(104 596.8 488.0)" fill="#28d828" opacity="0.43"/><ellipse cx="560.8" cy="501.8" rx="1.0" ry="1.0" transform="rotate(61 560.8 501.8)" fill="#109010" opacity="0.91"/><ellipse cx="580.1" cy="481.6" rx="1.7" ry="1.7" transform="rotate(63 580.1 481.6)" fill="#0c780c" opacity="0.91"/><ellipse cx="546.9" cy="438.8" rx="1.2" ry="0.9" transform="rotate(178 546.9 438.8)" fill="#28d828" opacity="0.73"/><ellipse cx="600.1" cy="501.9" rx="1.1" ry="1.0" transform="rotate(85 600.1 501.9)" fill="#18b818" opacity="0.72"/><ellipse cx="599.0" cy="449.7" rx="1.3" ry="1.1" transform="rotate(162 599.0 449.7)" fill="#0c780c" opacity="0.77"/><ellipse cx="556.4" cy="484.9" rx="1.4" ry="1.1" transform="rotate(179 556.4 484.9)" fill="#20a020" opacity="0.43"/><ellipse cx="579.4" cy="494.1" rx="0.8" ry="0.7" transform="rotate(164 579.4 494.1)" fill="#109010" opacity="0.90"/><ellipse cx="588.5" cy="494.9" rx="2.1" ry="1.8" transform="rotate(50 588.5 494.9)" fill="#18b818" opacity="0.84"/><ellipse cx="618.2" cy="477.7" rx="1.7" ry="1.4" transform="rotate(86 618.2 477.7)" fill="#0c780c" opacity="0.41"/><ellipse cx="546.3" cy="425.9" rx="1.3" ry="1.0" transform="rotate(45 546.3 425.9)" fill="#0c0cb0" opacity="0.74"/><ellipse cx="602.9" cy="426.0" rx="0.9" ry="1.0" transform="rotate(128 602.9 426.0)" fill="#1a1ad0" opacity="0.64"/><ellipse cx="549.4" cy="457.7" rx="1.1" ry="1.0" transform="rotate(39 549.4 457.7)" fill="#0c0cb0" opacity="0.99"/><ellipse cx="588.3" cy="430.3" rx="1.4" ry="1.4" transform="rotate(116 588.3 430.3)" fill="#1414e0" opacity="0.80"/><ellipse cx="575.4" cy="445.5" rx="1.4" ry="1.1" transform="rotate(143 575.4 445.5)" fill="#0c0cb0" opacity="0.99"/><ellipse cx="597.0" cy="429.4" rx="1.0" ry="0.9" transform="rotate(31 597.0 429.4)" fill="#1a1ad0" opacity="0.62"/><ellipse cx="603.4" cy="466.5" rx="1.6" ry="1.5" transform="rotate(148 603.4 466.5)" fill="#1414e0" opacity="0.79"/><ellipse cx="589.7" cy="495.9" rx="1.4" ry="1.4" transform="rotate(14 589.7 495.9)" fill="#0c0cb0" opacity="0.95"/><ellipse cx="549.1" cy="439.7" rx="1.5" ry="1.5" transform="rotate(179 549.1 439.7)" fill="#1010a0" opacity="0.82"/><ellipse cx="608.6" cy="457.3" rx="1.5" ry="1.3" transform="rotate(46 608.6 457.3)" fill="#1414e0" opacity="0.84"/><ellipse cx="569.1" cy="494.4" rx="1.2" ry="1.1" transform="rotate(169 569.1 494.4)" fill="#1414e0" opacity="1.00"/><ellipse cx="559.0" cy="446.5" rx="0.9" ry="0.8" transform="rotate(129 559.0 446.5)" fill="#1010a0" opacity="0.93"/><ellipse cx="566.8" cy="481.9" rx="1.4" ry="0.9" transform="rotate(4 566.8 481.9)" fill="#1414e0" opacity="0.99"/><ellipse cx="594.1" cy="472.3" rx="0.9" ry="1.0" transform="rotate(125 594.1 472.3)" fill="#1010a0" opacity="0.90"/><ellipse cx="590.1" cy="473.8" rx="0.9" ry="1.1" transform="rotate(98 590.1 473.8)" fill="#1010a0" opacity="0.83"/><ellipse cx="547.3" cy="449.5" rx="1.2" ry="1.1" transform="rotate(162 547.3 449.5)" fill="#0c0cb0" opacity="0.80"/><ellipse cx="593.4" cy="435.6" rx="1.2" ry="1.4" transform="rotate(141 593.4 435.6)" fill="#1a1ad0" opacity="0.90"/><ellipse cx="595.0" cy="469.5" rx="0.9" ry="0.8" transform="rotate(39 595.0 469.5)" fill="#1a1ad0" opacity="0.73"/><ellipse cx="549.4" cy="486.8" rx="1.6" ry="1.5" transform="rotate(49 549.4 486.8)" fill="#1a1ad0" opacity="0.61"/><ellipse cx="619.7" cy="491.3" rx="1.5" ry="1.3" transform="rotate(70 619.7 491.3)" fill="#1010a0" opacity="0.86"/><ellipse cx="544.5" cy="431.4" rx="1.2" ry="0.9" transform="rotate(1 544.5 431.4)" fill="#1a1ad0" opacity="0.93"/><ellipse cx="571.5" cy="459.1" rx="1.1" ry="0.8" transform="rotate(21 571.5 459.1)" fill="#0c0cb0" opacity="0.91"/><ellipse cx="575.1" cy="484.8" rx="0.9" ry="0.9" transform="rotate(121 575.1 484.8)" fill="#1010a0" opacity="0.76"/><ellipse cx="561.0" cy="496.1" rx="1.3" ry="1.0" transform="rotate(152 561.0 496.1)" fill="#1414e0" opacity="1.00"/><ellipse cx="586.7" cy="441.1" rx="1.1" ry="0.9" transform="rotate(14 586.7 441.1)" fill="#1414e0" opacity="0.91"/><ellipse cx="606.7" cy="431.7" rx="1.1" ry="0.8" transform="rotate(165 606.7 431.7)" fill="#0c0cb0" opacity="0.68"/><ellipse cx="576.1" cy="456.0" rx="0.8" ry="0.8" transform="rotate(111 576.1 456.0)" fill="#1a1ad0" opacity="0.90"/><ellipse cx="551.1" cy="488.4" rx="1.4" ry="1.4" transform="rotate(119 551.1 488.4)" fill="#1010a0" opacity="0.61"/><ellipse cx="617.0" cy="479.3" rx="1.6" ry="1.3" transform="rotate(46 617.0 479.3)" fill="#0c0cb0" opacity="0.86"/><ellipse cx="546.8" cy="469.2" rx="1.6" ry="1.5" transform="rotate(171 546.8 469.2)" fill="#0c0cb0" opacity="0.89"/><ellipse cx="569.2" cy="462.6" rx="1.1" ry="0.8" transform="rotate(31 569.2 462.6)" fill="#1414e0" opacity="1.00"/><ellipse cx="608.9" cy="462.8" rx="0.8" ry="0.9" transform="rotate(86 608.9 462.8)" fill="#1414e0" opacity="0.78"/><ellipse cx="619.6" cy="502.0" rx="1.4" ry="1.2" transform="rotate(166 619.6 502.0)" fill="#1a1ad0" opacity="0.82"/><ellipse cx="547.5" cy="495.3" rx="1.6" ry="1.3" transform="rotate(55 547.5 495.3)" fill="#1414e0" opacity="0.64"/><ellipse cx="574.6" cy="439.4" rx="1.1" ry="0.8" transform="rotate(108 574.6 439.4)" fill="#1010a0" opacity="0.95"/><ellipse cx="620.4" cy="496.2" rx="1.3" ry="1.1" transform="rotate(176 620.4 496.2)" fill="#1a1ad0" opacity="0.98"/><ellipse cx="578.8" cy="438.6" rx="1.5" ry="1.1" transform="rotate(71 578.8 438.6)" fill="#1414e0" opacity="0.87"/><ellipse cx="548.7" cy="449.2" rx="0.9" ry="0.8" transform="rotate(75 548.7 449.2)" fill="#0c0cb0" opacity="0.98"/><ellipse cx="577.9" cy="451.7" rx="0.9" ry="0.8" transform="rotate(83 577.9 451.7)" fill="#1010a0" opacity="0.76"/><ellipse cx="584.1" cy="459.0" rx="1.0" ry="0.8" transform="rotate(124 584.1 459.0)" fill="#1010a0" opacity="0.97"/><ellipse cx="557.5" cy="484.5" rx="1.2" ry="1.2" transform="rotate(38 557.5 484.5)" fill="#1010a0" opacity="0.95"/><ellipse cx="563.5" cy="448.8" rx="1.7" ry="1.5" transform="rotate(23 563.5 448.8)" fill="#0c0cb0" opacity="0.91"/><ellipse cx="608.4" cy="442.6" rx="1.7" ry="1.3" transform="rotate(69 608.4 442.6)" fill="#0c0cb0" opacity="0.67"/><ellipse cx="585.8" cy="464.4" rx="1.2" ry="1.0" transform="rotate(58 585.8 464.4)" fill="#1414e0" opacity="0.66"/><ellipse cx="608.5" cy="494.9" rx="1.4" ry="1.1" transform="rotate(51 608.5 494.9)" fill="#1010a0" opacity="0.73"/><ellipse cx="609.0" cy="492.0" rx="1.4" ry="0.9" transform="rotate(26 609.0 492.0)" fill="#1414e0" opacity="0.95"/><ellipse cx="551.2" cy="455.8" rx="1.1" ry="1.0" transform="rotate(54 551.2 455.8)" fill="#0c0cb0" opacity="0.91"/><ellipse cx="582.6" cy="469.8" rx="1.5" ry="0.9" transform="rotate(85 582.6 469.8)" fill="#1a1ad0" opacity="0.72"/><ellipse cx="551.5" cy="443.8" rx="1.2" ry="1.0" transform="rotate(165 551.5 443.8)" fill="#1a1ad0" opacity="0.85"/><ellipse cx="618.7" cy="459.8" rx="1.0" ry="1.0" transform="rotate(118 618.7 459.8)" fill="#1a1ad0" opacity="0.62"/><ellipse cx="601.1" cy="478.8" rx="1.4" ry="1.3" transform="rotate(173 601.1 478.8)" fill="#1010a0" opacity="0.67"/><ellipse cx="601.1" cy="494.1" rx="1.2" ry="0.9" transform="rotate(126 601.1 494.1)" fill="#1414e0" opacity="0.63"/><ellipse cx="603.5" cy="430.8" rx="1.5" ry="0.9" transform="rotate(139 603.5 430.8)" fill="#1414e0" opacity="0.98"/><ellipse cx="596.2" cy="429.1" rx="1.2" ry="1.0" transform="rotate(169 596.2 429.1)" fill="#0c0cb0" opacity="0.67"/><ellipse cx="607.0" cy="497.7" rx="1.2" ry="0.9" transform="rotate(178 607.0 497.7)" fill="#0c0cb0" opacity="0.61"/><ellipse cx="608.4" cy="481.1" rx="1.3" ry="0.9" transform="rotate(20 608.4 481.1)" fill="#1414e0" opacity="0.93"/><ellipse cx="547.7" cy="446.6" rx="0.9" ry="0.8" transform="rotate(106 547.7 446.6)" fill="#1010a0" opacity="0.93"/><ellipse cx="563.7" cy="428.3" rx="1.0" ry="1.0" transform="rotate(143 563.7 428.3)" fill="#1a1ad0" opacity="0.94"/><ellipse cx="606.3" cy="469.9" rx="1.3" ry="1.3" transform="rotate(40 606.3 469.9)" fill="#1010a0" opacity="0.79"/><ellipse cx="544.8" cy="476.7" rx="1.8" ry="1.2" transform="rotate(107 544.8 476.7)" fill="#1010a0" opacity="0.76"/><ellipse cx="608.2" cy="444.3" rx="1.2" ry="0.9" transform="rotate(150 608.2 444.3)" fill="#1a1ad0" opacity="0.65"/><ellipse cx="557.0" cy="480.8" rx="0.9" ry="0.7" transform="rotate(43 557.0 480.8)" fill="#0c0cb0" opacity="0.93"/><ellipse cx="618.9" cy="477.3" rx="0.9" ry="1.0" transform="rotate(102 618.9 477.3)" fill="#1a1ad0" opacity="0.78"/><ellipse cx="573.1" cy="435.1" rx="1.2" ry="1.2" transform="rotate(92 573.1 435.1)" fill="#1010a0" opacity="0.91"/><ellipse cx="574.0" cy="458.2" rx="1.3" ry="1.1" transform="rotate(105 574.0 458.2)" fill="#0c0cb0" opacity="0.83"/><ellipse cx="621.0" cy="493.6" rx="1.1" ry="1.0" transform="rotate(71 621.0 493.6)" fill="#1a1ad0" opacity="0.78"/><ellipse cx="563.3" cy="434.2" rx="0.9" ry="0.7" transform="rotate(10 563.3 434.2)" fill="#1a1ad0" opacity="0.68"/><ellipse cx="574.6" cy="458.2" rx="1.0" ry="0.9" transform="rotate(149 574.6 458.2)" fill="#1010a0" opacity="0.80"/><ellipse cx="586.5" cy="471.5" rx="1.7" ry="1.3" transform="rotate(24 586.5 471.5)" fill="#1010a0" opacity="0.79"/><ellipse cx="558.3" cy="433.3" rx="1.2" ry="0.9" transform="rotate(44 558.3 433.3)" fill="#1414e0" opacity="0.91"/><ellipse cx="576.8" cy="502.3" rx="1.1" ry="1.0" transform="rotate(175 576.8 502.3)" fill="#1414e0" opacity="0.81"/><ellipse cx="618.2" cy="445.6" rx="0.9" ry="0.7" transform="rotate(81 618.2 445.6)" fill="#1414e0" opacity="0.96"/><ellipse cx="551.3" cy="447.6" rx="1.3" ry="1.0" transform="rotate(113 551.3 447.6)" fill="#1a1ad0" opacity="0.64"/><ellipse cx="587.4" cy="490.7" rx="0.9" ry="0.8" transform="rotate(169 587.4 490.7)" fill="#1010a0" opacity="0.63"/><ellipse cx="566.0" cy="453.4" rx="1.4" ry="1.4" transform="rotate(43 566.0 453.4)" fill="#1010a0" opacity="0.61"/><ellipse cx="547.0" cy="452.5" rx="1.3" ry="1.3" transform="rotate(141 547.0 452.5)" fill="#1a1ad0" opacity="0.77"/><ellipse cx="586.9" cy="480.7" rx="1.2" ry="0.9" transform="rotate(8 586.9 480.7)" fill="#1010a0" opacity="0.63"/><ellipse cx="563.0" cy="429.2" rx="1.2" ry="0.9" transform="rotate(53 563.0 429.2)" fill="#0c0cb0" opacity="0.88"/><ellipse cx="549.6" cy="479.0" rx="1.4" ry="1.2" transform="rotate(10 549.6 479.0)" fill="#0c0cb0" opacity="0.67"/><ellipse cx="576.8" cy="465.9" rx="1.4" ry="1.1" transform="rotate(43 576.8 465.9)" fill="#0c0cb0" opacity="0.79"/><ellipse cx="558.6" cy="483.1" rx="1.1" ry="0.8" transform="rotate(37 558.6 483.1)" fill="#0c0cb0" opacity="0.87"/><ellipse cx="601.4" cy="449.0" rx="1.4" ry="1.5" transform="rotate(57 601.4 449.0)" fill="#1010a0" opacity="0.93"/><ellipse cx="620.7" cy="434.7" rx="1.4" ry="1.3" transform="rotate(112 620.7 434.7)" fill="#1414e0" opacity="0.94"/><ellipse cx="604.3" cy="498.7" rx="0.9" ry="0.7" transform="rotate(130 604.3 498.7)" fill="#1010a0" opacity="0.82"/><ellipse cx="585.2" cy="502.1" rx="0.9" ry="0.8" transform="rotate(72 585.2 502.1)" fill="#1010a0" opacity="0.80"/><ellipse cx="569.0" cy="468.9" rx="1.2" ry="1.2" transform="rotate(156 569.0 468.9)" fill="#1010a0" opacity="0.83"/><ellipse cx="579.8" cy="502.1" rx="1.3" ry="1.2" transform="rotate(107 579.8 502.1)" fill="#0c0cb0" opacity="0.80"/><ellipse cx="560.0" cy="474.0" rx="1.1" ry="0.8" transform="rotate(123 560.0 474.0)" fill="#1414e0" opacity="0.98"/><ellipse cx="609.3" cy="436.5" rx="0.9" ry="0.8" transform="rotate(62 609.3 436.5)" fill="#1414e0" opacity="0.83"/><ellipse cx="553.8" cy="470.9" rx="1.2" ry="1.2" transform="rotate(60 553.8 470.9)" fill="#1414e0" opacity="0.60"/><ellipse cx="553.0" cy="461.1" rx="1.6" ry="1.4" transform="rotate(89 553.0 461.1)" fill="#1414e0" opacity="0.77"/><ellipse cx="593.7" cy="441.0" rx="1.6" ry="1.3" transform="rotate(164 593.7 441.0)" fill="#1a1ad0" opacity="0.64"/><ellipse cx="619.9" cy="469.8" rx="1.0" ry="1.0" transform="rotate(145 619.9 469.8)" fill="#1414e0" opacity="0.96"/><ellipse cx="594.6" cy="484.3" rx="1.1" ry="0.8" transform="rotate(54 594.6 484.3)" fill="#1414e0" opacity="0.86"/><ellipse cx="549.8" cy="453.7" rx="1.7" ry="1.3" transform="rotate(144 549.8 453.7)" fill="#0c0cb0" opacity="0.66"/><ellipse cx="559.9" cy="482.3" rx="1.2" ry="0.8" transform="rotate(94 559.9 482.3)" fill="#0c0cb0" opacity="0.70"/><ellipse cx="557.6" cy="475.2" rx="1.5" ry="1.3" transform="rotate(161 557.6 475.2)" fill="#1a1ad0" opacity="0.83"/><ellipse cx="566.9" cy="478.1" rx="1.5" ry="1.2" transform="rotate(95 566.9 478.1)" fill="#1414e0" opacity="0.60"/><ellipse cx="565.1" cy="471.3" rx="1.3" ry="1.0" transform="rotate(101 565.1 471.3)" fill="#1414e0" opacity="0.61"/><ellipse cx="613.3" cy="494.9" rx="0.9" ry="1.1" transform="rotate(144 613.3 494.9)" fill="#1414e0" opacity="0.63"/><ellipse cx="595.4" cy="491.6" rx="1.6" ry="1.5" transform="rotate(22 595.4 491.6)" fill="#1010a0" opacity="0.64"/><ellipse cx="609.7" cy="427.6" rx="1.3" ry="1.2" transform="rotate(107 609.7 427.6)" fill="#1a1ad0" opacity="0.67"/><ellipse cx="566.6" cy="429.3" rx="1.6" ry="1.1" transform="rotate(70 566.6 429.3)" fill="#1010a0" opacity="0.84"/><ellipse cx="609.4" cy="488.4" rx="1.6" ry="1.5" transform="rotate(143 609.4 488.4)" fill="#0c0cb0" opacity="0.89"/><ellipse cx="555.2" cy="489.4" rx="1.4" ry="1.4" transform="rotate(151 555.2 489.4)" fill="#0c0cb0" opacity="0.79"/><ellipse cx="604.2" cy="502.1" rx="1.6" ry="1.5" transform="rotate(76 604.2 502.1)" fill="#1414e0" opacity="0.76"/><ellipse cx="617.2" cy="428.3" rx="1.3" ry="1.1" transform="rotate(10 617.2 428.3)" fill="#1a1ad0" opacity="0.62"/><ellipse cx="610.2" cy="462.7" rx="1.6" ry="1.1" transform="rotate(129 610.2 462.7)" fill="#1414e0" opacity="0.74"/><ellipse cx="556.6" cy="435.8" rx="1.4" ry="1.1" transform="rotate(129 556.6 435.8)" fill="#1010a0" opacity="0.99"/><ellipse cx="614.2" cy="487.2" rx="1.4" ry="1.1" transform="rotate(159 614.2 487.2)" fill="#1010a0" opacity="0.84"/><ellipse cx="606.2" cy="495.0" rx="1.2" ry="1.4" transform="rotate(143 606.2 495.0)" fill="#1010a0" opacity="0.65"/><ellipse cx="558.0" cy="477.9" rx="1.1" ry="1.1" transform="rotate(97 558.0 477.9)" fill="#1a1ad0" opacity="0.85"/><ellipse cx="545.5" cy="468.5" rx="0.9" ry="0.7" transform="rotate(138 545.5 468.5)" fill="#0c0cb0" opacity="0.83"/><ellipse cx="571.0" cy="502.6" rx="1.2" ry="0.9" transform="rotate(17 571.0 502.6)" fill="#1414e0" opacity="1.00"/><ellipse cx="584.7" cy="445.7" rx="1.7" ry="1.2" transform="rotate(153 584.7 445.7)" fill="#1a1ad0" opacity="0.65"/><ellipse cx="589.6" cy="467.4" rx="1.3" ry="0.9" transform="rotate(115 589.6 467.4)" fill="#0c0cb0" opacity="0.84"/><ellipse cx="595.9" cy="454.1" rx="1.2" ry="0.9" transform="rotate(16 595.9 454.1)" fill="#0c0cb0" opacity="0.71"/><ellipse cx="591.9" cy="465.1" rx="1.1" ry="1.1" transform="rotate(135 591.9 465.1)" fill="#1010a0" opacity="0.91"/><ellipse cx="583.1" cy="470.2" rx="1.3" ry="1.3" transform="rotate(37 583.1 470.2)" fill="#1414e0" opacity="0.82"/><ellipse cx="618.6" cy="479.4" rx="1.4" ry="1.1" transform="rotate(50 618.6 479.4)" fill="#1414e0" opacity="0.92"/><ellipse cx="573.6" cy="428.8" rx="1.7" ry="1.3" transform="rotate(107 573.6 428.8)" fill="#0c0cb0" opacity="0.73"/><ellipse cx="581.9" cy="468.8" rx="1.5" ry="1.3" transform="rotate(1 581.9 468.8)" fill="#1414e0" opacity="0.72"/><ellipse cx="594.4" cy="441.9" rx="1.4" ry="0.9" transform="rotate(4 594.4 441.9)" fill="#1010a0" opacity="0.68"/><ellipse cx="566.0" cy="445.8" rx="1.2" ry="1.1" transform="rotate(65 566.0 445.8)" fill="#1414e0" opacity="0.78"/><ellipse cx="587.9" cy="446.8" rx="1.5" ry="1.1" transform="rotate(60 587.9 446.8)" fill="#1a1ad0" opacity="0.78"/><ellipse cx="610.6" cy="467.5" rx="0.8" ry="1.0" transform="rotate(179 610.6 467.5)" fill="#1010a0" opacity="0.84"/><ellipse cx="604.1" cy="428.8" rx="1.9" ry="1.4" transform="rotate(85 604.1 428.8)" fill="#1010a0" opacity="0.94"/><ellipse cx="570.0" cy="427.5" rx="0.9" ry="0.8" transform="rotate(71 570.0 427.5)" fill="#0c0cb0" opacity="0.95"/><ellipse cx="571.1" cy="455.6" rx="1.4" ry="1.1" transform="rotate(32 571.1 455.6)" fill="#0c0cb0" opacity="0.66"/><ellipse cx="611.3" cy="495.9" rx="1.2" ry="1.0" transform="rotate(99 611.3 495.9)" fill="#0c0cb0" opacity="0.90"/><ellipse cx="580.6" cy="493.8" rx="1.3" ry="1.0" transform="rotate(97 580.6 493.8)" fill="#1414e0" opacity="0.64"/><ellipse cx="599.9" cy="474.6" rx="1.6" ry="1.1" transform="rotate(31 599.9 474.6)" fill="#1414e0" opacity="0.85"/><ellipse cx="560.1" cy="474.1" rx="1.2" ry="0.9" transform="rotate(117 560.1 474.1)" fill="#0c0cb0" opacity="0.79"/><ellipse cx="597.8" cy="437.9" rx="1.1" ry="1.1" transform="rotate(172 597.8 437.9)" fill="#1010a0" opacity="0.82"/><ellipse cx="550.0" cy="498.4" rx="1.0" ry="0.7" transform="rotate(57 550.0 498.4)" fill="#1010a0" opacity="0.80"/><ellipse cx="606.4" cy="429.4" rx="1.1" ry="1.0" transform="rotate(61 606.4 429.4)" fill="#1414e0" opacity="0.73"/><ellipse cx="610.6" cy="433.9" rx="1.3" ry="1.2" transform="rotate(110 610.6 433.9)" fill="#1010a0" opacity="0.88"/><ellipse cx="614.1" cy="429.1" rx="1.0" ry="0.8" transform="rotate(55 614.1 429.1)" fill="#0c0cb0" opacity="0.71"/><ellipse cx="603.6" cy="449.5" rx="1.3" ry="1.1" transform="rotate(24 603.6 449.5)" fill="#0c0cb0" opacity="0.89"/><ellipse cx="559.9" cy="501.9" rx="1.2" ry="0.9" transform="rotate(141 559.9 501.9)" fill="#1414e0" opacity="0.79"/><ellipse cx="549.6" cy="483.5" rx="1.1" ry="1.3" transform="rotate(147 549.6 483.5)" fill="#1010a0" opacity="0.79"/><ellipse cx="619.5" cy="454.0" rx="1.1" ry="1.0" transform="rotate(178 619.5 454.0)" fill="#1a1ad0" opacity="0.76"/><ellipse cx="611.6" cy="452.3" rx="1.3" ry="1.1" transform="rotate(107 611.6 452.3)" fill="#0c0cb0" opacity="0.89"/><ellipse cx="583.9" cy="489.8" rx="1.6" ry="1.3" transform="rotate(88 583.9 489.8)" fill="#1a1ad0" opacity="1.00"/><ellipse cx="554.8" cy="462.8" rx="1.1" ry="0.7" transform="rotate(97 554.8 462.8)" fill="#1414e0" opacity="0.63"/><ellipse cx="614.8" cy="426.5" rx="1.2" ry="0.9" transform="rotate(75 614.8 426.5)" fill="#0c0cb0" opacity="0.64"/><ellipse cx="560.2" cy="436.7" rx="1.0" ry="0.8" transform="rotate(7 560.2 436.7)" fill="#1414e0" opacity="0.90"/><ellipse cx="588.8" cy="494.5" rx="1.5" ry="1.4" transform="rotate(29 588.8 494.5)" fill="#1414e0" opacity="0.63"/><ellipse cx="581.4" cy="477.6" rx="1.7" ry="1.1" transform="rotate(174 581.4 477.6)" fill="#1a1ad0" opacity="0.73"/><ellipse cx="558.8" cy="479.9" rx="1.6" ry="1.5" transform="rotate(89 558.8 479.9)" fill="#0c0cb0" opacity="0.82"/><ellipse cx="606.9" cy="490.8" rx="1.1" ry="1.1" transform="rotate(136 606.9 490.8)" fill="#1414e0" opacity="0.90"/><ellipse cx="579.7" cy="495.8" rx="1.5" ry="1.4" transform="rotate(28 579.7 495.8)" fill="#1a1ad0" opacity="0.83"/><ellipse cx="607.4" cy="486.6" rx="1.5" ry="1.3" transform="rotate(61 607.4 486.6)" fill="#1a1ad0" opacity="0.66"/><ellipse cx="602.8" cy="441.3" rx="1.3" ry="1.1" transform="rotate(23 602.8 441.3)" fill="#0c0cb0" opacity="0.80"/><ellipse cx="614.1" cy="499.2" rx="1.5" ry="1.1" transform="rotate(16 614.1 499.2)" fill="#1414e0" opacity="0.79"/><ellipse cx="605.9" cy="478.6" rx="1.7" ry="1.5" transform="rotate(132 605.9 478.6)" fill="#0c0cb0" opacity="0.93"/><ellipse cx="590.6" cy="441.4" rx="1.4" ry="1.1" transform="rotate(20 590.6 441.4)" fill="#1a1ad0" opacity="0.72"/><ellipse cx="546.1" cy="501.8" rx="1.3" ry="1.0" transform="rotate(60 546.1 501.8)" fill="#1010a0" opacity="0.68"/><ellipse cx="563.1" cy="463.0" rx="1.4" ry="1.3" transform="rotate(28 563.1 463.0)" fill="#1414e0" opacity="0.80"/><ellipse cx="584.0" cy="469.6" rx="1.3" ry="1.0" transform="rotate(162 584.0 469.6)" fill="#0c0cb0" opacity="0.92"/><ellipse cx="567.3" cy="463.2" rx="0.9" ry="0.9" transform="rotate(38 567.3 463.2)" fill="#1414e0" opacity="0.99"/><ellipse cx="571.4" cy="444.5" rx="1.2" ry="1.2" transform="rotate(6 571.4 444.5)" fill="#1a1ad0" opacity="0.71"/><ellipse cx="551.7" cy="501.6" rx="1.5" ry="1.2" transform="rotate(34 551.7 501.6)" fill="#1414e0" opacity="0.86"/><ellipse cx="552.3" cy="442.4" rx="1.4" ry="1.3" transform="rotate(168 552.3 442.4)" fill="#1a1ad0" opacity="0.76"/><ellipse cx="589.5" cy="452.0" rx="1.1" ry="0.8" transform="rotate(105 589.5 452.0)" fill="#1010a0" opacity="0.68"/><ellipse cx="567.6" cy="478.2" rx="1.1" ry="1.0" transform="rotate(113 567.6 478.2)" fill="#0c0cb0" opacity="0.94"/><ellipse cx="548.2" cy="433.0" rx="1.0" ry="0.7" transform="rotate(160 548.2 433.0)" fill="#0c0cb0" opacity="0.63"/><ellipse cx="597.5" cy="455.8" rx="1.2" ry="0.9" transform="rotate(31 597.5 455.8)" fill="#1010a0" opacity="0.84"/><ellipse cx="611.4" cy="440.7" rx="0.9" ry="0.8" transform="rotate(90 611.4 440.7)" fill="#1010a0" opacity="0.94"/><ellipse cx="618.7" cy="491.8" rx="1.8" ry="1.4" transform="rotate(51 618.7 491.8)" fill="#0c0cb0" opacity="0.95"/><ellipse cx="569.8" cy="461.7" rx="2.1" ry="1.5" transform="rotate(92 569.8 461.7)" fill="#ffc000"/><ellipse cx="586.5" cy="454.5" rx="2.1" ry="1.1" transform="rotate(-25 586.5 454.5)" fill="#ff20a0"/><ellipse cx="578.5" cy="463.9" rx="2.1" ry="1.1" transform="rotate(-25 578.5 463.9)" fill="#ff30c0"/><ellipse cx="609.5" cy="455.5" rx="2.1" ry="1.1" transform="rotate(-25 609.5 455.5)" fill="#ff30c0"/><ellipse cx="553.6" cy="475.3" rx="2.1" ry="1.1" transform="rotate(-25 553.6 475.3)" fill="#ff20a0"/><ellipse cx="589" cy="461.7" rx="2.1" ry="1.1" transform="rotate(-25 589 461.7)" fill="#ff20a0"/><ellipse cx="572.9" cy="433.2" rx="2.1" ry="1.1" transform="rotate(-25 572.9 433.2)" fill="#e01090"/><ellipse cx="556.7" cy="485.9" rx="2.1" ry="1.1" transform="rotate(-25 556.7 485.9)" fill="#ff20a0"/><ellipse cx="551.8" cy="485.9" rx="2.1" ry="1.1" transform="rotate(-25 551.8 485.9)" fill="#ff20a0"/></g>
<text x="609.6" y="438.7" fill="#fff">ZI</text>
</g>
<rect x="597.9" y="498.1" width="21.4" height="2.3" fill="#fff"/>
<text transform="translate(529.6 267.5) scale(1.1 1)" font-size="13.8" font-weight="bold" fill="#000" stroke="#000" stroke-width="0.25">f</text>
<text transform="translate(538.9 434.3) rotate(-90)" fill="#231f20"><tspan fill="#20e020" font-style="italic">vGlut2</tspan> <tspan fill="#1818ff" font-style="italic">vGat</tspan> <tspan fill="#ff1a8c">mCherry</tspan></text>
<circle cx="654.3" cy="311.5" r="22.0" fill="#00f000"/>
<path d="M654.3 311.5L645.92 291.16A22.0 22.0 0 0 1 654.30 289.50Z" fill="#0000ff"/>
<circle cx="654.3" cy="311.5" r="22.0" fill="none" stroke="#111" stroke-width="1"/>
<circle cx="654.3" cy="389.0" r="22.0" fill="#0000ff"/>
<path d="M654.3 389.0L654.30 367.00A22.0 22.0 0 0 1 675.42 395.17Z" fill="#00f000"/>
<circle cx="654.3" cy="389.0" r="22.0" fill="none" stroke="#111" stroke-width="1"/>
<circle cx="654.3" cy="466.6" r="22.0" fill="#0000ff"/>
<path d="M654.3 466.6L674.44 457.76A22.0 22.0 0 0 1 676.30 466.60Z" fill="#00f000"/>
<circle cx="654.3" cy="466.6" r="22.0" fill="none" stroke="#111" stroke-width="1"/>
</svg></body></html>
